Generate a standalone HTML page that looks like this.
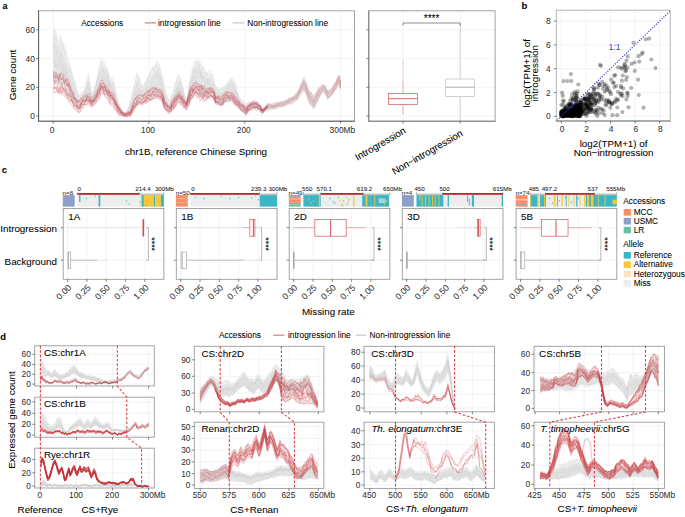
<!DOCTYPE html><html><head><meta charset="utf-8"><style>html,body{margin:0;padding:0;background:#fff;}svg{display:block;}</style></head><body><svg width="685" height="517" viewBox="0 0 685 517" font-family="'Liberation Sans', sans-serif">
<rect width="685" height="517" fill="#fff"/>
<defs>
<clipPath id="ca"><rect x="38.6" y="10.8" width="315.9" height="110.4"/></clipPath>
<clipPath id="cb"><rect x="556.3" y="10.2" width="113.9" height="110.8"/></clipPath>
</defs>
<rect x="38.60" y="10.80" width="315.90" height="110.40" fill="#fff"/>
<line x1="38.60" y1="116.00" x2="354.50" y2="116.00" stroke="#ebebeb" stroke-width="0.6"/>
<line x1="38.60" y1="87.30" x2="354.50" y2="87.30" stroke="#ebebeb" stroke-width="0.6"/>
<line x1="38.60" y1="58.60" x2="354.50" y2="58.60" stroke="#ebebeb" stroke-width="0.6"/>
<line x1="38.60" y1="29.90" x2="354.50" y2="29.90" stroke="#ebebeb" stroke-width="0.6"/>
<line x1="53.20" y1="10.80" x2="53.20" y2="121.20" stroke="#ebebeb" stroke-width="0.6"/>
<line x1="149.00" y1="10.80" x2="149.00" y2="121.20" stroke="#ebebeb" stroke-width="0.6"/>
<line x1="244.80" y1="10.80" x2="244.80" y2="121.20" stroke="#ebebeb" stroke-width="0.6"/>
<line x1="340.60" y1="10.80" x2="340.60" y2="121.20" stroke="#ebebeb" stroke-width="0.6"/>
<g clip-path="url(#ca)">
<path d="M53.2 32.4l1.4-3.4 1.4 2.7 1.4 6.5 1.4 1.6 1.4-2.9 1.4 1.1 1.4 4.4 1.4 3.9 1.4 5.2 1.4 6.1 1.4 4.2 1.4 4.9 1.4 3.7 1.4 4.9 1.4 4.8 1.4 4.1 1.4 5.4 1.4 4.5 1.4.4 1.4-1.7 1.4-1.1 1.4-1.6 1.4-5.6 1.4-5.2 1.4-4.8 1.4 5.1 1.4 10.7 1.4 1.8 1.4-3.6 1.4-4 1.4-6 1.4-6.3 1.4-6 1.4-6.5 1.4-.3 1.4 2.6 1.4 1.3 1.4 2.7 1.4 3.7 1.4 5.1 1.4 2.4 1.4.8 1.4 1.8 1.4 6.2 1.4 6.2 1.4 6.6 1.4 4.2 1.4 3.6 1.4 3 1.4 1.5 1.4 1.7 1.4-1 1.4-2.5 1.4-2.9 1.4-3.4 1.4-6.9 1.4-6.1 1.4-5.1 1.4-5.7 1.4-5.5 1.4 2.6 1.4 4.3 1.4 4.2 1.4 1.5 1.4-2.5 1.4-2.4 1.4-2.3 1.4-2.8 1.4-2.6 1.4-2.4 1.4-3 1.4-2.4 1.4-1.8 1.4-2.1 1.4 0 1.4 4.4 1.4 4.4 1.4 5 1.4 7.5 1.4 6.7 1.4 4.1 1.4 4.6 1.4 1.8 1.4-3.9 1.4-3.7 1.4-4.6 1.4-4.3 1.4-4.4 1.4-3.9 1.4-.8 1.4 3.2 1.4 5 1.4 5.6 1.4 6.3 1.4 6.2 1.4-7.6 1.4-9.7 1.4-8.8 1.4-5.1 1.4-5.5 1.4-4.1 1.4-1.1 1.4.4 1.4 1.2 1.4 1.3 1.4 2.4 1.4 2.5 1.4 2.7 1.4 1.3 1.4 1.1 1.4.8 1.4 0 1.4.8 1.4 2.2 1.4 5.1 1.4 5 1.4 1.8 1.4.4 1.4.5 1.4-.6 1.4-.7 1.4-1.4 1.4-1.9 1.4-1.7 1.4-1.8 1.4-.9 1.4-2.3 1.4.5 1.4 2.1 1.4 1.3 1.4 4.7 1.4 5.1 1.4 5.4 1.4 2.4 1.4 1.2 1.4 1.5 1.4.8 1.4.2 1.4-.3 1.4-.9 1.4 0 1.4-.8 1.4-1.1 1.4-.9 1.4 1.5 1.4 1.1 1.4 1.3 1.4 2.4 1.4 2.4 1.4.7 1.4-1.2 1.4-1.2 1.4-.6 1.4-1.2 1.4.2 1.4-.3 1.4-.5 1.4-.6 1.4.6 1.4-.4 1.4-.6 1.4-.5 1.4.3 1.4-.5 1.4-.4 1.4-.9 1.4-.3 1.4-1.2 1.4-.4 1.4.1 1.4-.7 1.4-2.2 1.4-1.1 1.4-2.3 1.4-1.6 1.4-3.2 1.4-3.4 1.4-3.2 1.4-3.2 1.4 2.8 1.4 2.8 1.4 4.7 1.4 3.4 1.4 1.7 1.4 1.6 1.4 2.9 1.4-1.8 1.4-2.9 1.4-2.7 1.4-2.1 1.4-1.3 1.4-1.4 1.4-.6 1.4 1.8 1.4 1.9 1.4 2 1.4.6 1.4-1.6 1.4-1.1 1.4-1.7 1.4-2.2 1.4-2.8 1.4-3.7 1.4-2.1 1.4 4.4.4 1.9 0 8.6-.4-1.9-1.4-4.3-1.4 1.3-1.4 3.1-1.4 2-1.4 1.6-1.4 1.9-1.4 1.5-1.4 2-1.4-.4-1.4-2-1.4-1.8-1.4-1.8-1.4 1.4-1.4 2.3-1.4 2.1-1.4 2.7-1.4 3.1-1.4 3.3-1.4 2.2-1.4-2.9-1.4-1.7-1.4-1.6-1.4-3.2-1.4-4.2-1.4-2.4-1.4-2.9-1.4 2.1-1.4 2-1.4 2.1-1.4 2-1.4.9-1.4 1.8-1.4.7-1.4 1.8-1.4.5-1.4-.3-1.4.2-1.4 1-1.4.1-1.4.7-1.4.2-1.4.7-1.4 0-1.4.7-1.4.8-1.4.6-1.4-.4-1.4.7-1.4.5-1.4.4-1.4-.3-1.4 1.2-1.4.7-1.4 1.1-1.4 1.3-1.4.1-1.4-1.3-1.4-1.4-1.4-.2-1.4-.1-1.4-1-1.4.5-1.4.7-1.4.4-1.4.4-1.4 1.3-1.4.7-1.4-.1-1.4-.7-1.4-1.5-1.4-1.2-1.4-.9-1.4-2.1-1.4-1.8-1.4-1.4-1.4-.7-1.4-1.6-1.4-.5-1.4.9-1.4-.5-1.4.4-1.4.5-1.4 1.5-1.4 1-1.4.2-1.4.5-1.4-.5-1.4-.4-1.4-.9-1.4-2.4-1.4-2.5-1.4-.8-1.4-.2-1.4.4-1.4.2-1.4 0-1.4-.2-1.4-1-1.4-.9-1.4-.7-1.4-.5-1.4-.7-1.4 0-1.4.7-1.4 1.6-1.4 2.9-1.4 2.7-1.4 2.1-1.4 2.4-1.4 1.6-1.4-1.4-1.4-1.7-1.4-1.4-1.4-1.9-1.4 0-1.4.5-1.4 1.8-1.4 2.3-1.4 1.6-1.4 1.8-1.4 1-1.4 1.1-1.4-.8-1.4-2.4-1.4-1.9-1.4-2.6-1.4-3.3-1.4-2-1.4-1.4-1.4-1.5-1.4.1-1.4.4-1.4 0-1.4.7-1.4 1.1-1.4.3-1.4.5-1.4.7-1.4.2-1.4.3-1.4.4-1.4.4-1.4.1-1.4-.2-1.4.1-1.4 2.3-1.4 2.5-1.4 1.8-1.4 2.4-1.4 3.2-1.4.9-1.4.8-1.4.4-1.4 0-1.4-.3-1.4.1-1.4-.9-1.4-1.5-1.4-1.2-1.4-2.8-1.4-2.5-1.4-2.9-1.4-2.3-1.4-1.3-1.4-2-1.4-2.9-1.4-1.6-1.4-1.4-1.4-.6-1.4-1.7-1.4.2-1.4 3-1.4 2.6-1.4 2.8-1.4 2.7-1.4 2.4-1.4 2-1.4.1-1.4-3.1-1.4-1.2-1.4.6-1.4 1.1-1.4 1.4-1.4 1.5-1.4 1.6-1.4 2.1-1.4 1-1.4-2-1.4-2.9-1.4-1.6-1.4-2.3-1.4-2.6-1.4-1.3-1.4-2.5-1.4-1.5-1.4-2.4-1.4-1.5-1.4-.8-1.4-1.5-1.4-1.6-1.4-1.4-1.4-1-1.4.5-1.4-1.1-1.4-3.9z" fill="#efefef" fill-opacity="1.0" stroke="none"/>
<path d="M53.2 44.2l1.4-1.6 1.4 2.4 1.4 4.7 1.4 1.4 1.4-1.8 1.4 1.3 1.4 3.6 1.4 3.1 1.4 4.3 1.4 5.2 1.4 3.6 1.4 4.2 1.4 3.1 1.4 4.4 1.4 4.2 1.4 3.4 1.4 4.8 1.4 3.9 1.4 0 1.4-1.8 1.4-1.2 1.4-1.6 1.4-4.6 1.4-4.1 1.4-3.8 1.4 4.2 1.4 8.7 1.4 1.4 1.4-3.2 1.4-3.6 1.4-5.2 1.4-5.4 1.4-5.2 1.4-5.6 1.4-.3 1.4 2.4 1.4 1.1 1.4 2.4 1.4 3.2 1.4 4.5 1.4 2.3 1.4.9 1.4 2 1.4 5.3 1.4 5.4 1.4 5.5 1.4 3.6 1.4 3 1.4 2.5 1.4 1 1.4 1.4 1.4-.7 1.4-2 1.4-2.4 1.4-2.8 1.4-5.9 1.4-5.2 1.4-4.3 1.4-4.8 1.4-4.8 1.4 1.9 1.4 3.4 1.4 3.1 1.4.9 1.4-1.9 1.4-1.9 1.4-1.7 1.4-2.3 1.4-2.1 1.4-1.9 1.4-2.5 1.4-2 1.4-1.3 1.4-1.7 1.4 0 1.4 3.7 1.4 3.6 1.4 4.2 1.4 6.5 1.4 5.7 1.4 3.6 1.4 4 1.4 1.5 1.4-3.2 1.4-3 1.4-3.9 1.4-3.6 1.4-3.9 1.4-3.4 1.4-.7 1.4 2.4 1.4 4.3 1.4 4.5 1.4 5.2 1.4 4.9 1.4-6 1.4-8 1.4-7 1.4-4.6 1.4-4.8 1.4-3.5 1.4-1 1.4.3 1.4 1.1 1.4 1.1 1.4 2 1.4 2 1.4 2.4 1.4 1 1.4.8 1.4.5 1.4-.1 1.4.7 1.4 1.8 1.4 4.5 1.4 4.4 1.4 1.5 1.4.4 1.4.5 1.4-.6 1.4-.5 1.4-1.4 1.4-1.8 1.4-1.4 1.4-1.4 1.4-.6 1.4-1.9 1.4.5 1.4 2 1.4 1.1 1.4 3.9 1.4 4.3 1.4 4.6 1.4 2 1.4 1.1 1.4 1.6 1.4.7 1.4.2 1.4-.3 1.4-1 1.4-.2 1.4-.7 1.4-1 1.4-.8 1.4 1.4 1.4.9 1.4 1 1.4 2.2 1.4 2 1.4.6 1.4-1.3 1.4-1.1 1.4-.7 1.4-1.2 1.4.3 1.4-.4 1.4-.5 1.4-.6 1.4.5 1.4-.4 1.4-.6 1.4-.6 1.4.2 1.4-.5 1.4-.3 1.4-.9 1.4-.2 1.4-1.2 1.4-.3 1.4.1 1.4-.7 1.4-2.1 1.4-1 1.4-2.1 1.4-1.5 1.4-2.9 1.4-3.1 1.4-2.8 1.4-3 1.4 2.8 1.4 2.8 1.4 4.5 1.4 3.4 1.4 1.6 1.4 1.7 1.4 2.8 1.4-1.9 1.4-2.9 1.4-2.8 1.4-2.3 1.4-1.5 1.4-1.6 1.4-.8 1.4 1.8 1.4 1.9 1.4 2 1.4.5 1.4-1.7 1.4-1.2 1.4-1.7 1.4-2.1 1.4-2.6 1.4-3.5 1.4-1.9 1.4 4.3.4 1.9 0 6.1-.4-1.9-1.4-4.4-1.4 1.4-1.4 3.1-1.4 2.1-1.4 1.6-1.4 1.9-1.4 1.4-1.4 2.1-1.4-.4-1.4-2-1.4-1.9-1.4-1.8-1.4 1.4-1.4 2.2-1.4 2.1-1.4 2.7-1.4 3.1-1.4 3.2-1.4 2.2-1.4-2.9-1.4-1.6-1.4-1.7-1.4-3.2-1.4-4.2-1.4-2.4-1.4-2.9-1.4 2.1-1.4 2.1-1.4 2.2-1.4 2.1-1.4.8-1.4 1.9-1.4.7-1.4 1.8-1.4.6-1.4-.3-1.4.1-1.4 1.1-1.4.1-1.4.7-1.4.2-1.4.7-1.4 0-1.4.7-1.4.7-1.4.6-1.4-.4-1.4.7-1.4.5-1.4.4-1.4-.2-1.4 1.2-1.4.6-1.4 1.1-1.4 1.3-1.4.1-1.4-1.4-1.4-1.4-1.4-.3-1.4-.1-1.4-1.1-1.4.6-1.4.7-1.4.4-1.4.4-1.4 1.3-1.4.6-1.4 0-1.4-.8-1.4-1.5-1.4-1.2-1.4-1-1.4-2.2-1.4-2-1.4-1.5-1.4-.8-1.4-1.6-1.4-.5-1.4.9-1.4-.3-1.4.4-1.4.5-1.4 1.5-1.4 1.1-1.4.2-1.4.5-1.4-.4-1.4-.4-1.4-1-1.4-2.5-1.4-2.7-1.4-.8-1.4-.3-1.4.4-1.4.2-1.4-.1-1.4-.2-1.4-1.2-1.4-.9-1.4-.7-1.4-.6-1.4-.8-1.4 0-1.4.7-1.4 1.8-1.4 3-1.4 2.8-1.4 2.4-1.4 2.8-1.4 1.9-1.4-1.6-1.4-1.9-1.4-1.6-1.4-2.1-1.4-.2-1.4.6-1.4 1.9-1.4 2.4-1.4 1.7-1.4 2-1.4 1-1.4 1.3-1.4-.8-1.4-2.6-1.4-2-1.4-2.7-1.4-3.6-1.4-2.1-1.4-1.6-1.4-1.6-1.4.1-1.4.5-1.4.1-1.4.7-1.4 1.2-1.4.4-1.4.7-1.4.8-1.4.2-1.4.5-1.4.4-1.4.4-1.4-.2-1.4-.4-1.4 0-1.4 2.5-1.4 2.6-1.4 2-1.4 2.5-1.4 3.4-1.4 1.1-1.4.9-1.4.5-1.4 0-1.4-.3-1.4 0-1.4-1-1.4-1.6-1.4-1.4-1.4-3-1.4-2.7-1.4-3-1.4-2.3-1.4-1.3-1.4-2-1.4-3-1.4-1.7-1.4-1.5-1.4-.6-1.4-1.7-1.4.2-1.4 3.2-1.4 2.7-1.4 3-1.4 2.8-1.4 2.5-1.4 2.1-1.4 0-1.4-3.4-1.4-1.4-1.4.8-1.4 1.2-1.4 1.7-1.4 1.5-1.4 1.5-1.4 2.1-1.4 1-1.4-2.2-1.4-3-1.4-1.7-1.4-2.5-1.4-2.7-1.4-1.4-1.4-2.6-1.4-1.6-1.4-2.6-1.4-1.7-1.4-.9-1.4-1.7-1.4-1.6-1.4-1.1-1.4-1.1-1.4.2-1.4-1.2-1.4-3.5z" fill="#e6e6e6" fill-opacity="1.0" stroke="none"/>
<g fill="none" stroke="#c4c4c4" stroke-width="0.4" stroke-opacity="0.25" stroke-linejoin="round">
<path d="M53.2 63.8l1.4 3.9 1.4-9.6 1.4 11.7 1.4-1.6 1.4-3.6 1.4 10.9 1.4-10.1 1.4 10.1 1.4-6.3 1.4 6.6 1.4 12.1 1.4-4.3 1.4 8 1.4 2.3 1.4 5.8 1.4-1.7 1.4 4.4 1.4 2.9 1.4 2.3 1.4-3.2 1.4 1 1.4-1.4 1.4-7 1.4 1.3 1.4-5.2 1.4 2 1.4 6.1 1.4 4.8 1.4-2.2 1.4-2.1 1.4-5.9 1.4-.7 1.4-.5 1.4-7.1 1.4 2.1 1.4-1.1 1.4-.8 1.4 3.7 1.4 5.2 1.4 2.9 1.4 2.4 1.4-.5 1.4 1 1.4 5.8 1.4 2.3 1.4-.1 1.4 3.6 1.4.1 1.4 1.1 1.4.7 1.4-.3 1.4.4 1.4.2 1.4-1.8 1.4-2.2 1.4-4.2 1.4-2.6 1.4 1.9 1.4-8.8 1.4 4.4 1.4-5 1.4 5.1 1.4-.9 1.4-4.3 1.4-1.3 1.4.4 1.4-3.6 1.4 2.7 1.4-7 1.4-1.8 1.4 7.6 1.4-9 1.4 2.9 1.4-3 1.4-2.6 1.4-.8 1.4 11.2 1.4 3 1.4 4.2 1.4-2.3 1.4 3.4 1.4 5.5 1.4 2.1 1.4-4 1.4-1 1.4-3.4 1.4-6.2 1.4-1.1 1.4-4.8 1.4-1 1.4-.4 1.4 5.8 1.4 8 1.4.7 1.4 4.1 1.4-3.8 1.4-3.1 1.4-9.2 1.4-4.6 1.4-3.8 1.4-2 1.4 6 1.4.9 1.4-5.9 1.4 1.7 1.4 4.2 1.4 2.1 1.4 2.3 1.4-2.5 1.4-1.4 1.4 2.7 1.4-1.8 1.4 5.2 1.4-2.6 1.4 4.2 1.4 7.4 1.4-.9 1.4 3.8 1.4-1.1 1.4 1.6 1.4-4 1.4 1.3 1.4.2 1.4-5.3 1.4 4.9 1.4-3.6 1.4 3.5 1.4.4 1.4 2 1.4-2.3 1.4 0 1.4 4.8 1.4 2.8 1.4-.6 1.4 2.5 1.4-.1 1.4 2.5 1.4-2.4 1.4.6 1.4-.5 1.4-.2 1.4-.4 1.4-.8 1.4-.5 1.4 1.5 1.4-2.1 1.4.8 1.4 1 1.4 2.8 1.4-.9 1.4-2.2 1.4-1.5 1.4 1.6 1.4-2 1.4 0 1.4-.5 1.4-.1 1.4-1.8 1.4.7 1.4-.8 1.4-1.1 1.4-1.4 1.4 1.4 1.4-1.2 1.4 0 1.4-1.9 1.4.5 1.4-2 1.4-.2 1.4.9 1.4.5 1.4-3.4 1.4-.5 1.4-2 1.4-1.8 1.4-3.6 1.4-1.2 1.4-2.8 1.4-2.2 1.4 2.5 1.4 3.1 1.4 5.1 1.4 1.3 1.4 2.5 1.4 1.3 1.4 2.4 1.4-1.1 1.4-2.6 1.4-1.8 1.4-2.5 1.4-3.9 1.4-.8 1.4-2.3 1.4 1.8 1.4 2.9 1.4 3 1.4-.8 1.4-.7 1.4-.8 1.4-3.2 1.4-.4 1.4-1.6 1.4-5.1 1.4-.2 1.4 4.6.4 2"/>
<path d="M53.2 60.3l1.4 4.4 1.4 2.6 1.4 8.8 1.4 5.9 1.4-9.8 1.4 14.7 1.4 3.9 1.4-4.3 1.4 5.3 1.4-.8 1.4 6.6 1.4-2.5 1.4 5.7 1.4 2.8 1.4 2.4 1.4-.5 1.4 4.9 1.4 1.9 1.4-4.4 1.4.5 1.4-1.2 1.4-2.3 1.4-2.3 1.4-4.3 1.4 2.6 1.4.7 1.4-.4 1.4 2.4 1.4-4.7 1.4-5.1 1.4-3.3 1.4-6.2 1.4 3.5 1.4-3.3 1.4-9.6 1.4 8.2 1.4-.9 1.4-.4 1.4 4.5 1.4 4.5 1.4 7 1.4-4.9 1.4 4.8 1.4 6.6 1.4 1 1.4 7.3 1.4 1.1 1.4 2 1.4-.1 1.4-.1 1.4.8 1.4 0 1.4-.1 1.4-1.5 1.4-.1 1.4-3.4 1.4-2.1 1.4-1.2 1.4-4.2 1.4-4 1.4 2.9 1.4-1.3 1.4-1.7 1.4-2 1.4-2 1.4-2.7 1.4 4 1.4-7.6 1.4 3.7 1.4-3.2 1.4 2.2 1.4-3.4 1.4 2.7 1.4-10.8 1.4 4.7 1.4 3.7 1.4.1 1.4 5.8 1.4 4.3 1.4 5.3 1.4-.3 1.4 6 1.4.9 1.4-1.5 1.4.1 1.4.2 1.4-1.5 1.4-2.7 1.4-1.2 1.4-1 1.4-2.1 1.4 1 1.4 3.5 1.4 2.6 1.4 1.1 1.4-1.3 1.4-3.5 1.4-.5 1.4-6.9 1.4-.1 1.4-7.6 1.4 2 1.4 1.7 1.4-8.7 1.4-1.8 1.4 5.6 1.4-.4 1.4-.5 1.4-3.2 1.4 4.1 1.4.4 1.4-.6 1.4 4.9 1.4-.9 1.4 5.1 1.4 4.7 1.4.6 1.4-.7 1.4 2.6 1.4-.9 1.4.8 1.4-.7 1.4-2.8 1.4 1.6 1.4.1 1.4 1.1 1.4-1.2 1.4.4 1.4 2 1.4.5 1.4 1 1.4.9 1.4 1.7 1.4 1.8 1.4 1.3 1.4 1.1 1.4-1.4 1.4 2.4 1.4-2.3 1.4-2.1 1.4-1.9 1.4.9 1.4-.4 1.4-2.2 1.4 1.2 1.4 1 1.4-1.8 1.4 3.5 1.4 2.8 1.4-1 1.4-1.8 1.4-.4 1.4-.3 1.4-2.3 1.4.8 1.4 1.2 1.4-1.7 1.4-1.2 1.4 2.7 1.4-1.1 1.4-1 1.4-.6 1.4.8 1.4-1.6 1.4.6 1.4-.9 1.4.2 1.4-1.8 1.4.4 1.4.3 1.4-.1 1.4-3 1.4.5 1.4-2.2 1.4-1.5 1.4-2.9 1.4-.4 1.4-3.3 1.4-2.2 1.4-.6 1.4 5.4 1.4 3.3 1.4 1.7 1.4 1.6 1.4 2.6 1.4 3.3 1.4-4.5 1.4-1.6 1.4-4.8 1.4.4 1.4-3.5 1.4-.6 1.4-1.3 1.4 1.6 1.4 1 1.4 2.9 1.4.1 1.4-2 1.4.2 1.4-2.6 1.4-.2 1.4-3 1.4-2.6 1.4-1.2 1.4 3.9.4 1.8"/>
<path d="M53.2 37.5l1.4 8.8 1.4 7.9 1.4-7.8 1.4-1.1 1.4 9.8 1.4 3.7 1.4 6.1 1.4-3.4 1.4.2 1.4 12.5 1.4-5.9 1.4 11.4 1.4-3.9 1.4 7.9 1.4 5.3 1.4 2 1.4 3.8 1.4 4.4 1.4 2.8 1.4-3.7 1.4-.2 1.4-3.2 1.4-1.1 1.4-6.3 1.4-.4 1.4 5.9 1.4 6.9 1.4-3.8 1.4 1.1 1.4-2.7 1.4-7.9 1.4-4.2 1.4-2.2 1.4-.9 1.4-6.1 1.4 8.2 1.4-.5 1.4-4 1.4 9.7 1.4-3.3 1.4 3.3 1.4 5 1.4-3 1.4 7.7 1.4 3 1.4 6.8 1.4 3.8 1.4 2.7 1.4-.6 1.4.7 1.4 2.3 1.4-1.3 1.4-1.3 1.4-2.7 1.4-2.5 1.4-6.2 1.4-.7 1.4-2 1.4-4.6 1.4-2.4 1.4-.6 1.4-.1 1.4 3.6 1.4 2 1.4-3.2 1.4-4.1 1.4-2.8 1.4 4.9 1.4-4.7 1.4-3.9 1.4 0 1.4-2.3 1.4-1.2 1.4-7.2 1.4 3.1 1.4 3.6 1.4.7 1.4 10.5 1.4 1.9 1.4 6.4 1.4 3.2 1.4 3.8 1.4.7 1.4-2.4 1.4-5.4 1.4 1 1.4-10.1 1.4 2.8 1.4-3.5 1.4-.6 1.4-6.1 1.4 5.3 1.4 9.3 1.4 2.9 1.4 4.4 1.4-3.1 1.4-13.8 1.4-3.2 1.4-5.6 1.4-8.9 1.4.1 1.4 2.7 1.4 2.2 1.4-9.6 1.4 7.3 1.4-3.2 1.4 10.1 1.4-5.1 1.4.7 1.4 4.3 1.4 3.8 1.4-4.2 1.4-.8 1.4 7.6 1.4 4.6 1.4 4.6 1.4-2 1.4 1.3 1.4-.6 1.4 1 1.4-1.4 1.4-1.3 1.4.9 1.4 0 1.4-3.8 1.4-3.6 1.4 2.5 1.4-1.2 1.4 7 1.4-1.2 1.4 4 1.4 2.9 1.4 3.5 1.4 3.1 1.4 1.1 1.4-.3 1.4.1 1.4 1 1.4.4 1.4-2.9 1.4 1.1 1.4.3 1.4-3.1 1.4 2.4 1.4 1.2 1.4-.8 1.4.6 1.4 2.5 1.4 2 1.4.7 1.4-1.7 1.4-1 1.4-.9 1.4 0 1.4-.6 1.4-.4 1.4-1.1 1.4 1 1.4 0 1.4.2 1.4-.8 1.4-.8 1.4.1 1.4-.6 1.4-.1 1.4-1.2 1.4-1.1 1.4-.9 1.4 0 1.4 1.5 1.4-1 1.4-2.6 1.4-.4 1.4-3.4 1.4.8 1.4-3.6 1.4-3.8 1.4-2.5 1.4-.6 1.4 1.3 1.4.4 1.4 4.9 1.4 5.6 1.4.8 1.4 2.7 1.4.3 1.4-1 1.4-2.1 1.4-5.6 1.4-2.3 1.4-.2 1.4-2.7 1.4-1.1 1.4 2.1 1.4 2.5 1.4 1.6 1.4-.2 1.4-2 1.4.6 1.4-2.4 1.4-2.7 1.4-.8 1.4-6.6 1.4-.7 1.4 5.8.4 2"/>
<path d="M53.2 44.6l1.4-11.5 1.4 6.2 1.4 2 1.4 7.6 1.4-5.3 1.4-.5 1.4 5.4 1.4 5.9 1.4-5.3 1.4 6.9 1.4 9.8 1.4 5.4 1.4.6 1.4 5.4 1.4 4.6 1.4 7.9 1.4 5.2 1.4 3.1 1.4-3.1 1.4 3.1 1.4-2.5 1.4-2.2 1.4-3.9 1.4-.2 1.4-8.8 1.4 5.6 1.4 10.1 1.4 4.5 1.4-3 1.4-1.6 1.4-6.6 1.4-3.8 1.4-3.9 1.4-4.7 1.4-.3 1.4 5.6 1.4 1.9 1.4-4 1.4 4 1.4 1.3 1.4 1.6 1.4 1.7 1.4 2.3 1.4 4.1 1.4 6.8 1.4.2 1.4 4.7 1.4 3.9 1.4 1.1 1.4.2 1.4 1.2 1.4-.6 1.4-1.3 1.4-2.9 1.4-3.8 1.4-5.9 1.4-5.2 1.4-5 1.4-9.9 1.4-5.1 1.4 5.7 1.4.8 1.4 6.6 1.4-.3 1.4-3.1 1.4-1.3 1.4-3.7 1.4-1.2 1.4-1.5 1.4-5.4 1.4-.9 1.4-.4 1.4 7 1.4-3.6 1.4-2.9 1.4 12.7 1.4-4 1.4 7.6 1.4 8.7 1.4 4.7 1.4 1.8 1.4 5.7 1.4-.2 1.4-.9 1.4-2.9 1.4.4 1.4-4.4 1.4-8.8 1.4-2.5 1.4 7.8 1.4-6.5 1.4 2.4 1.4 5.3 1.4 5.1 1.4 4.9 1.4-6.7 1.4-5 1.4-5.1 1.4-12.9 1.4 0 1.4 1.1 1.4-8 1.4-1.3 1.4-2.1 1.4 7.5 1.4 1 1.4-8.4 1.4 6.9 1.4-.7 1.4 2.9 1.4-3.8 1.4-.3 1.4 1 1.4 3.5 1.4 7.7 1.4 5.4 1.4 1.2 1.4-.1 1.4-2 1.4.1 1.4 2 1.4-3.6 1.4-.4 1.4 1.7 1.4-6.7 1.4 6.3 1.4-7.9 1.4 3.6 1.4 7.5 1.4-4.3 1.4 6.6 1.4 3.9 1.4 7 1.4 2.1 1.4-1.4 1.4 2.9 1.4 2.5 1.4-1.3 1.4-1.5 1.4.7 1.4-1.5 1.4 0 1.4-2.9 1.4 3.1 1.4.3 1.4 1.1 1.4.3 1.4-.1 1.4 2.6 1.4-.6 1.4-.8 1.4-1 1.4-1.7 1.4-1.7 1.4 1.4 1.4-1.2 1.4-1.4 1.4-.9 1.4 1.7 1.4-.6 1.4-.3 1.4-1.6 1.4.6 1.4-1.4 1.4 0 1.4-1.3 1.4.6 1.4-2.4 1.4-.2 1.4.7 1.4-.6 1.4-2.8 1.4 0 1.4-3.6 1.4.9 1.4-3.5 1.4-3.7 1.4-4.7 1.4-1.9 1.4 5.5 1.4 2.3 1.4 6.2 1.4 4.1 1.4-.7 1.4 2.5 1.4 3 1.4-2.4 1.4-2.8 1.4-2.3 1.4-2.8 1.4 0 1.4-1.4 1.4-1.1 1.4 2 1.4.5 1.4 1.9 1.4 1.8 1.4-1.5 1.4-2.2 1.4-2.9 1.4-1.7 1.4-1.9 1.4-3.4 1.4-3.5 1.4 4.6.4 3.8"/>
<path d="M53.2 73.8l1.4 10.8 1.4-1.6 1.4 2.1 1.4 2.4 1.4 1.5 1.4-.9 1.4 2.8 1.4 1.5 1.4 1 1.4 3.1 1.4 1.1 1.4 1.7 1.4.3 1.4 3.7 1.4 2.7 1.4 1.1 1.4 3.3 1.4 1.4 1.4-1.3 1.4-3 1.4-.3 1.4-2.5 1.4-.4 1.4-3.7 1.4 2.5 1.4-.7 1.4 4 1.4-1.4 1.4-1 1.4-5.7 1.4-1.7 1.4-4 1.4-4.1 1.4-3.7 1.4-1 1.4.8 1.4 5.8 1.4-1.1 1.4 1 1.4-.2 1.4 6.1 1.4-1.9 1.4 3 1.4 6.1 1.4 4.2 1.4 2.2 1.4 1.8 1.4 3.1 1.4.9 1.4-.2 1.4.3 1.4.6 1.4-.1 1.4-.9 1.4-.7 1.4-3.4 1.4-2.1 1.4-1.2 1.4-4.2 1.4-.8 1.4.1 1.4.1 1.4-.3 1.4-.8 1.4-.2 1.4-.2 1.4.2 1.4-.8 1.4-.5 1.4-.2 1.4-2.8 1.4 1 1.4.2 1.4-.2 1.4-5.2 1.4 6.4 1.4-3 1.4 5.6 1.4 4.1 1.4.5 1.4-1.7 1.4 7.4 1.4-.1 1.4-2.6 1.4-2.9 1.4-1.6 1.4.3 1.4-6.7 1.4.9 1.4-2.1 1.4-1.6 1.4 7.2 1.4-1.5 1.4 3.8 1.4.7 1.4-1.5 1.4-6.9 1.4 2.8 1.4-10 1.4-2.7 1.4-.1 1.4.2 1.4 5.3 1.4-.1 1.4.3 1.4 4.7 1.4.7 1.4 1.1 1.4.2 1.4-.1 1.4-.5 1.4-.6 1.4.3 1.4.7 1.4 2.7 1.4 2.5 1.4.8 1.4.4 1.4.5 1.4-.9 1.4.2 1.4-1.1 1.4-1.9 1.4-.5 1.4-2.4 1.4 3.2 1.4-1.8 1.4-.9 1.4 3.9 1.4-1.2 1.4 2.6 1.4.9 1.4 1.5 1.4-1.4 1.4 3.6 1.4 2.5 1.4-2.6 1.4 1.7 1.4-1.3 1.4-2.2 1.4 1.2 1.4.5 1.4-4.7 1.4 2.9 1.4-.4 1.4 1.7 1.4-1.9 1.4 3.6 1.4.2 1.4.1 1.4.2 1.4-1.6 1.4.1 1.4-2.1 1.4.8 1.4-.2 1.4-.1 1.4-1 1.4.3 1.4-.2 1.4-.8 1.4-1 1.4.4 1.4-.9 1.4-.2 1.4-.8 1.4.1 1.4-1.6 1.4.2 1.4.9 1.4-.6 1.4-2.2 1.4-.3 1.4-2.2 1.4-.4 1.4-2 1.4-2.4 1.4-2 1.4-3.8 1.4 4.9 1.4 2 1.4 4.8 1.4 3.2 1.4.8 1.4.5 1.4 1.4 1.4 1 1.4-3.2 1.4-3.6 1.4-3.9 1.4-3.2 1.4-2.6 1.4.4 1.4 2 1.4 1.7 1.4-.1 1.4 1.9 1.4-2.5 1.4-1.4 1.4-1.2 1.4-.8 1.4-2.5 1.4-3.7 1.4-1.2 1.4 4.4.4 2.1"/>
<path d="M53.2 49.5l1.4 3.7 1.4 4 1.4.4 1.4 10 1.4-13.1 1.4-2.4 1.4 20 1.4-8.6 1.4 3.3 1.4 7.3 1.4 5 1.4 8.4 1.4-1.3 1.4.2 1.4 5.9 1.4 1.8 1.4 5 1.4 2.8 1.4-2.3 1.4-.7 1.4-1 1.4-2.4 1.4-.5 1.4-6.9 1.4-5.3 1.4 7 1.4 8.8 1.4.5 1.4-3.8 1.4-2.9 1.4-7.6 1.4-7.1 1.4-4.3 1.4-5 1.4-1.6 1.4 4.6 1.4-2.8 1.4 2 1.4 3.8 1.4 4.5 1.4 7 1.4-2.1 1.4-1.2 1.4 7.5 1.4 8.1 1.4 3.8 1.4 3 1.4 2.9 1.4 2.1 1.4 1.8 1.4 1 1.4.3 1.4-3.9 1.4-1.2 1.4-4.4 1.4-5.7 1.4-6.1 1.4-7.8 1.4-3.1 1.4-8.8 1.4 3 1.4 5.6 1.4 3.5 1.4 3.3 1.4-.3 1.4-6.4 1.4 1.6 1.4-7.2 1.4.8 1.4-5.7 1.4-1.3 1.4-5 1.4 5 1.4-8.4 1.4 2.2 1.4 2.3 1.4 9.9 1.4 2.9 1.4 7.8 1.4 7.2 1.4 1 1.4 4.4 1.4 4.5 1.4-5.7 1.4 0 1.4-3 1.4-6.1 1.4-8.6 1.4 4 1.4-2.3 1.4-1.3 1.4 5.3 1.4 7.3 1.4 3.9 1.4 7.9 1.4-6 1.4-6.6 1.4-10.2 1.4 1.5 1.4-13.4 1.4 4.6 1.4-6.6 1.4-2.7 1.4 3.2 1.4 2.6 1.4 8.7 1.4-2.2 1.4 3.7 1.4 2.6 1.4-2.5 1.4 4 1.4.1 1.4 3 1.4-2 1.4 7.1 1.4 4.5 1.4.1 1.4-1.7 1.4-.4 1.4-2 1.4 4.7 1.4-5.9 1.4.7 1.4-1.9 1.4-4.2 1.4 1.4 1.4 3 1.4-2.1 1.4 5.5 1.4.5 1.4-3.4 1.4 7.5 1.4.9 1.4 3.2 1.4 1.3 1.4 3.8 1.4-1 1.4-1.7 1.4.9 1.4-1.5 1.4-1.2 1.4-.1 1.4.7 1.4-.4 1.4.9 1.4-2.3 1.4 3.4 1.4 1 1.4 3 1.4-1.6 1.4-1.4 1.4.4 1.4-1.6 1.4-2.1 1.4 1.5 1.4.5 1.4-1 1.4-1.8 1.4 2.2 1.4-1 1.4-.8 1.4-1.2 1.4.1 1.4.1 1.4-.9 1.4-.4 1.4-.7 1.4-1 1.4-1.1 1.4.5 1.4-.5 1.4-3.2 1.4-.9 1.4-1.9 1.4-.4 1.4-5 1.4-1.6 1.4-3.4 1.4-3.4 1.4 1.8 1.4 4.8 1.4 4.3 1.4 2.6 1.4.2 1.4 2.7 1.4 2.1 1.4.9 1.4-5.2 1.4-2.7 1.4-1.5 1.4-1 1.4-1.7 1.4-.6 1.4 2.1 1.4 2.3 1.4 1 1.4 1.2 1.4-1.2 1.4-2.7 1.4-1.4 1.4-1.3 1.4-2.9 1.4-2.3 1.4-3.8 1.4 4.4.4 3"/>
<path d="M53.2 47l1.4-10.5 1.4 4.7 1.4 15.9 1.4 6.5 1.4-8.4 1.4 16.4 1.4-2.4 1.4 3.9 1.4 5.3 1.4-1.6 1.4 4.9 1.4 13.3 1.4-5.4 1.4 2.4 1.4 5.4 1.4 5.5 1.4.4 1.4 2.2 1.4-1.1 1.4-1.3 1.4-.1 1.4-4.2 1.4-.5 1.4-2.4 1.4-4.4 1.4-5 1.4 9.2 1.4 3.7 1.4-3.6 1.4-8.5 1.4-3.7 1.4-6.6 1.4-1.7 1.4-13.6 1.4 2.7 1.4 8 1.4 2.8 1.4-5.7 1.4 9 1.4 6.3 1.4 4.8 1.4-2.3 1.4 8 1.4-.5 1.4 4.9 1.4 5.8 1.4 4.6 1.4 1.4 1.4 2.2 1.4.2 1.4.9 1.4 1.3 1.4-2 1.4.3 1.4-2 1.4-7.1 1.4.7 1.4-9.6 1.4 3.5 1.4-13.8 1.4 2.6 1.4 3.8 1.4-2.3 1.4 4.1 1.4-6.2 1.4 2.4 1.4-7.8 1.4.8 1.4-5.7 1.4-1.7 1.4-1.1 1.4-3.4 1.4-.6 1.4 2.1 1.4-5.3 1.4 4.4 1.4 9.8 1.4 1.4 1.4 12.4 1.4 1.8 1.4 4 1.4 2.2 1.4 1.5 1.4-1.5 1.4 2 1.4-1.9 1.4.7 1.4-6.8 1.4 1 1.4-3.6 1.4-2.2 1.4 6.2 1.4 4 1.4 2.7 1.4 2.2 1.4-3.3 1.4-7 1.4-5.5 1.4-5.6 1.4-6.1 1.4-1.3 1.4-4 1.4 2.1 1.4-5.2 1.4.1 1.4 5.1 1.4-.5 1.4.3 1.4 1.3 1.4 3.1 1.4-1.3 1.4-3.1 1.4 1.7 1.4 5 1.4 1.1 1.4 8.1 1.4 4.8 1.4-2.9 1.4 2.6 1.4 1.4 1.4 2.2 1.4-2 1.4-1.8 1.4-1.9 1.4.1 1.4 2.7 1.4-3.7 1.4 4.3 1.4-4.6 1.4 6.6 1.4 1.3 1.4-.6 1.4 1.8 1.4 2.3 1.4 1.8 1.4 2.2 1.4.4 1.4-3.2 1.4-1.3 1.4-1.6 1.4 2.8 1.4-2.2 1.4-3.5 1.4 1.1 1.4 2.8 1.4-.9 1.4-.5 1.4 4.7 1.4 1.5 1.4-1.1 1.4.1 1.4-1.4 1.4.1 1.4-1.8 1.4.7 1.4.2 1.4-.2 1.4-.8 1.4 2.1 1.4-2 1.4-.4 1.4.5 1.4 0 1.4-.8 1.4 0 1.4-1.6 1.4.3 1.4-1.9 1.4-.3 1.4 2.3 1.4-1.3 1.4-2.3 1.4-2.7 1.4-1 1.4-2.2 1.4-2.6 1.4-2.8 1.4-5.8 1.4-2.1 1.4 3.8 1.4 3.2 1.4 3.2 1.4 2.5 1.4 2.5 1.4 1.3 1.4 2.2 1.4-.6 1.4-3.9 1.4-3.7 1.4-.9 1.4-1.9 1.4-.2 1.4-.3 1.4 2.9 1.4 1.7 1.4 2.3 1.4 1.7 1.4-3.7 1.4-.7 1.4-2.2 1.4-1.5 1.4-1.1 1.4-3.8 1.4-2.6 1.4 6.8.4 2.5"/>
<path d="M53.2 52.4l1.4-15.5 1.4 1.1 1.4 13.8 1.4-2.1 1.4-7.9 1.4.8 1.4 7.3 1.4 2.4 1.4 5.6 1.4 9.2 1.4-.7 1.4 4.2 1.4 2.3 1.4 11.3 1.4-1.7 1.4 5.7 1.4 4.5 1.4 3.2 1.4-.1 1.4-4 1.4 0 1.4.9 1.4-4.8 1.4-9.4 1.4-5.5 1.4 10.9 1.4 5.4 1.4 4.6 1.4-3.1 1.4-7.3 1.4-2.9 1.4-9.8 1.4-6 1.4-6.8 1.4-.5 1.4 3.8 1.4.6 1.4 4.9 1.4 1.8 1.4 5.4 1.4 2.3 1.4.7 1.4 1.4 1.4 8.3 1.4 5.2 1.4 6.5 1.4 4.1 1.4 3.9 1.4 3 1.4 1.3 1.4 2 1.4-.8 1.4-2.7 1.4-3.2 1.4-3.5 1.4-7.4 1.4-6.2 1.4-4.9 1.4-5.9 1.4-6 1.4 3 1.4 4.6 1.4 4.5 1.4 1.6 1.4-2.2 1.4-3.2 1.4-2.1 1.4-3.1 1.4-2.2 1.4-1.3 1.4-5.2 1.4.5 1.4-.8 1.4-3.7 1.4-2.1 1.4 4.4 1.4 4.3 1.4 5.4 1.4 8.1 1.4 6.8 1.4 4 1.4 4.9 1.4 2.4 1.4-1.8 1.4-3.7 1.4-7.9 1.4-2.3 1.4-2.6 1.4-8 1.4-.5 1.4 7.5 1.4 2.5 1.4 8.2 1.4 3.5 1.4 7.9 1.4-8.3 1.4-8.1 1.4-6.2 1.4-.8 1.4-4.2 1.4-3.2 1.4-2.9 1.4-7.4 1.4 3.1 1.4 5.8 1.4 7.3 1.4-.9 1.4-3.1 1.4 3 1.4 6.8 1.4-3.8 1.4 3 1.4.6 1.4 1 1.4 3.3 1.4 4.6 1.4-.6 1.4-.9 1.4 5.6 1.4-6.7 1.4 1.4 1.4.7 1.4.2 1.4-6.7 1.4-1.2 1.4 4.7 1.4-6.7 1.4 1 1.4 1.8 1.4-1.7 1.4 10.3 1.4 2.2 1.4 1.2 1.4 2.3 1.4 1.3 1.4 2.7 1.4 2.6 1.4-3.1 1.4.1 1.4-1.1 1.4.8 1.4.7 1.4-2.7 1.4.5 1.4.3 1.4.3 1.4 2.2 1.4 1.5 1.4 2 1.4.2 1.4-1.7 1.4-.9 1.4-.7 1.4-1.6 1.4 1.5 1.4-1.3 1.4-.6 1.4-.8 1.4 1.1 1.4-.5 1.4-.7 1.4-.6 1.4.6 1.4-.4 1.4-.6 1.4-1.1 1.4-.1 1.4-1.7 1.4-.2 1.4.8 1.4-1 1.4-2.2 1.4-1.2 1.4-2.7 1.4-1.2 1.4-3.4 1.4-3.7 1.4-3.3 1.4-3.5 1.4 3.4 1.4 2.3 1.4 5.2 1.4 3.5 1.4 1.4 1.4 2 1.4 2.8 1.4-1.5 1.4-3.2 1.4-2.9 1.4-2.1 1.4-1.3 1.4-1.5 1.4-.2 1.4 1.9 1.4 1.4 1.4 1.9 1.4 1.1 1.4-1.9 1.4-.5 1.4-2.2 1.4-1.9 1.4-2.8 1.4-3.2 1.4-3.1 1.4 4.9.4 1.9"/>
<path d="M53.2 61.8l1.4-.4 1.4 1.5 1.4 2.1 1.4 2.2 1.4-7.1 1.4 1.5 1.4 3.4 1.4 3.4 1.4 3.5 1.4 8.5 1.4-4 1.4 4.3 1.4 5.8 1.4 4.9 1.4-3.1 1.4 6.5 1.4 1 1.4 6.6 1.4-5 1.4.6 1.4-.7 1.4-.8 1.4-3 1.4-4.5 1.4-5.4 1.4 2.8 1.4 5.6 1.4 4.3 1.4-3.1 1.4-2.6 1.4-9.2 1.4-2.2 1.4-10.2 1.4 1.2 1.4.5 1.4-1.3 1.4 3.6 1.4 2 1.4-.5 1.4 3.4 1.4 8 1.4-2.9 1.4.4 1.4 8.2 1.4 7.8 1.4 5.9 1.4 1.1 1.4 4.5 1.4.1 1.4 1.5 1.4.9 1.4-.2 1.4-.5 1.4-4.5 1.4-.3 1.4-6.3 1.4-1.1 1.4-2.5 1.4-11.5 1.4-3 1.4 8.8 1.4-2.9 1.4 1.7 1.4 4.7 1.4-2.7 1.4-3.2 1.4 1 1.4-2.7 1.4-1.2 1.4 0 1.4-6.1 1.4 3.6 1.4 4.1 1.4-5 1.4 2.3 1.4-3.3 1.4 1.5 1.4 2.5 1.4 13.8 1.4-2.1 1.4 4.4 1.4 4.9 1.4 1 1.4-2.4 1.4-2.8 1.4-.6 1.4-5.6 1.4.1 1.4-10 1.4 6.1 1.4-5.3 1.4 6.3 1.4 3.7 1.4 2.6 1.4 4.7 1.4-2.6 1.4-11.6 1.4-5.1 1.4 3.9 1.4-10.6 1.4-3.5 1.4 5.1 1.4-2.2 1.4-6.8 1.4 5.8 1.4-3.7 1.4 8.2 1.4-.6 1.4 3 1.4-6.8 1.4 8.2 1.4-7.1 1.4 6 1.4-2.2 1.4 7.8 1.4-1.2 1.4 1.1 1.4 2.9 1.4 3.2 1.4-4 1.4.1 1.4-3.8 1.4.2 1.4-2.3 1.4 2.1 1.4-1.1 1.4-4.5 1.4-2.4 1.4 2.4 1.4 7.9 1.4.6 1.4 1.9 1.4 7.9 1.4-.8 1.4 2.3 1.4 3.7 1.4-2.6 1.4.2 1.4-.3 1.4-.8 1.4 1 1.4-.7 1.4-1.2 1.4-1.8 1.4 3.9 1.4.4 1.4 1.7 1.4 1.1 1.4 2.9 1.4-.7 1.4-.3 1.4-2.1 1.4.4 1.4-1.6 1.4.7 1.4-.1 1.4-.6 1.4-1.3 1.4 2.1 1.4-.4 1.4-1.5 1.4-.7 1.4.6 1.4-1.4 1.4.3 1.4-1.1 1.4.1 1.4-1.7 1.4.2 1.4.1 1.4-.6 1.4-2.5 1.4.4 1.4-3.3 1.4.7 1.4-2.1 1.4-3.3 1.4-4.2 1.4-.1 1.4.6 1.4 2.1 1.4 5.9 1.4 3.5 1.4.2 1.4 2.9 1.4 3.5 1.4-4.4 1.4-3.5 1.4-2.5 1.4-1.5 1.4-2 1.4-3.5 1.4-.1 1.4 2.9 1.4 1.7 1.4 1 1.4 1.3 1.4-2.1 1.4-2.5 1.4-2.4 1.4-.4 1.4-3.1 1.4-3.4 1.4-3 1.4 4.8.4 3.5"/>
<path d="M53.2 30.9l1.4 2 1.4-1.7 1.4 4.5 1.4 1.8 1.4-3.1 1.4 2 1.4 6 1.4 8.1 1.4 4.6 1.4.9 1.4 4.1 1.4 11.1 1.4-2.7 1.4 11 1.4-.4 1.4 5.8 1.4 4 1.4 4.7 1.4.4 1.4 1 1.4-1.1 1.4-3.2 1.4-6.9 1.4-3.4 1.4-5.9 1.4 5.7 1.4 12.2 1.4 1.8 1.4-.7 1.4-8.6 1.4-2.4 1.4-5 1.4-9 1.4-3.5 1.4-2.7 1.4 11.5 1.4-4.6 1.4-.2 1.4 7.2 1.4 5.7 1.4 5.3 1.4-.8 1.4-2.3 1.4 11.3 1.4-1 1.4 9.7 1.4.3 1.4 5.9 1.4.6 1.4 1.9 1.4 1.4 1.4-.4 1.4-3.3 1.4-2 1.4-3.9 1.4-3.6 1.4-2.9 1.4-7.1 1.4-4.1 1.4-4.7 1.4-3 1.4 5.5 1.4 3.1 1.4 2.9 1.4-4 1.4-2.6 1.4-.6 1.4-5.7 1.4-4.2 1.4-1 1.4-5.9 1.4 4.5 1.4-3.9 1.4-.3 1.4-1.3 1.4-.9 1.4 10.6 1.4 4.5 1.4 2.6 1.4 7.6 1.4 5.7 1.4 2.7 1.4 3.2 1.4-4.4 1.4-3.7 1.4-3.2 1.4-5.4 1.4-6.4 1.4-4.2 1.4-.5 1.4 3.4 1.4 5 1.4 5.8 1.4 6.6 1.4 6.8 1.4-8.3 1.4-10.3 1.4-9.1 1.4-5.4 1.4-5.8 1.4-3.7 1.4-1.3 1.4.1 1.4 1.5 1.4 1.3 1.4 4.3 1.4 4.7 1.4-1.1 1.4 1.4 1.4 1.5 1.4.4 1.4-.1 1.4 2.4 1.4 4.6 1.4 3.1 1.4 4.7 1.4 1.1 1.4 3.7 1.4-1.8 1.4-1.1 1.4 1.7 1.4-3.2 1.4-3.8 1.4 1.3 1.4.8 1.4-3.9 1.4-4.6 1.4.8 1.4 9.5 1.4-5.3 1.4 8.5 1.4 1.3 1.4 7.7 1.4 3.7 1.4-1.5 1.4 2.3 1.4 1.9 1.4.1 1.4-.2 1.4-1.9 1.4-1.1 1.4 1.4 1.4-2.3 1.4.6 1.4 1.2 1.4.1 1.4 3.1 1.4.4 1.4 3.8 1.4-1.2 1.4-1.2 1.4-1.6 1.4-.4 1.4-.5 1.4.1 1.4-.2 1.4-1.4 1.4-.3 1.4 1.4 1.4-.5 1.4-.9 1.4-1.3 1.4.9 1.4-.9 1.4-.4 1.4-.9 1.4-.6 1.4-2.1 1.4-.1 1.4 2.2 1.4-1 1.4-2.7 1.4-2 1.4-1.3 1.4-1.2 1.4-4.1 1.4-4.4 1.4-4 1.4.1 1.4 3.3 1.4 1.4 1.4 3.2 1.4 4.6 1.4 2 1.4-.3 1.4 2.8 1.4.4 1.4-4.9 1.4-2.1 1.4-2.8 1.4-1.6 1.4-1.5 1.4-.2 1.4 1.6 1.4 2.6 1.4 1.2 1.4.9 1.4-1.9 1.4-.8 1.4-1.9 1.4-1.9 1.4-2.7 1.4-3.8 1.4-2.6 1.4 4.4.4 2.4"/>
<path d="M53.2 55.9l1.4-.3 1.4 12 1.4-2.5 1.4 9.5 1.4-10.5 1.4 1.5 1.4 15.4 1.4-11.4 1.4 7.2 1.4 9 1.4.4 1.4.1 1.4.3 1.4 8.2 1.4.4 1.4 7 1.4-.3 1.4 7.1 1.4-6.6 1.4 1.3 1.4-2.9 1.4-.2 1.4-3.5 1.4.5 1.4-7.6 1.4 7.5 1.4.6 1.4 4 1.4-1.5 1.4-5.4 1.4-1 1.4-8 1.4-3.9 1.4 1.4 1.4.2 1.4.1 1.4-5.5 1.4 9 1.4-3.7 1.4 8.6 1.4-2.8 1.4-.6 1.4 2.4 1.4 8 1.4 5.6 1.4 1.6 1.4.6 1.4 4.7 1.4 2.1 1.4-.1 1.4.1 1.4 0 1.4-.6 1.4-2.1 1.4-.8 1.4-5.4 1.4-4.3 1.4-3.6 1.4-7 1.4-7.9 1.4 8.7 1.4-.4 1.4 4.7 1.4-3.9 1.4 2.8 1.4-2.6 1.4 1 1.4-3.2 1.4-4 1.4-.5 1.4-6.8 1.4-.1 1.4 3.6 1.4-5.9 1.4 2.1 1.4 6.3 1.4 2.2 1.4 6.6 1.4 1.6 1.4 5.3 1.4 2.1 1.4 5.4 1.4.2 1.4-.2 1.4-6.4 1.4-3.6 1.4-1.7 1.4-.3 1.4-2 1.4-4.4 1.4 1.7 1.4 6.6 1.4.9 1.4 6.5 1.4.6 1.4-1.2 1.4-9.1 1.4.5 1.4-2.5 1.4-1.7 1.4-1.9 1.4-12 1.4 8.2 1.4 4.3 1.4-1 1.4-2.6 1.4 4.8 1.4-3.3 1.4 5.9 1.4-3.6 1.4 5.3 1.4-9.2 1.4 5.5 1.4-2.7 1.4 8.7 1.4 4.5 1.4-2.1 1.4 2.6 1.4-3.4 1.4-2.3 1.4 4.9 1.4-3.8 1.4-4.4 1.4 3 1.4.9 1.4-6.1 1.4 2.5 1.4-2 1.4-.6 1.4 1 1.4 2.5 1.4 5.1 1.4 3.8 1.4 2.2 1.4 1.5 1.4 2.7 1.4.5 1.4-2.9 1.4 1.4 1.4-.6 1.4-2.4 1.4.7 1.4.4 1.4-2.2 1.4 2 1.4-1.2 1.4 2.6 1.4 1.6 1.4.5 1.4-.2 1.4-1.9 1.4-.1 1.4.5 1.4-1.8 1.4-.7 1.4-.2 1.4-.7 1.4-.7 1.4.9 1.4-.7 1.4-.1 1.4-.2 1.4.3 1.4-1.1 1.4-.6 1.4 0 1.4-1.2 1.4-1.9 1.4.3 1.4 1.8 1.4-.8 1.4-3.3 1.4-.6 1.4-1.4 1.4-1.1 1.4-1.7 1.4-4.1 1.4-4 1.4-3 1.4 4.3 1.4 3.4 1.4 5.9 1.4 2.7 1.4-.8 1.4 5.4 1.4 1.4 1.4-1.6 1.4-4.5 1.4-2.8 1.4-2.5 1.4-.5 1.4-1.2 1.4-2.5 1.4 1.9 1.4 1.5 1.4 1.3 1.4 1 1.4-.3 1.4-.8 1.4-4 1.4-1.3 1.4-1.4 1.4-4.3 1.4-1.7 1.4 6.4.4.3"/>
<path d="M53.2 35.8l1.4-9.3 1.4 13.7 1.4-4.5 1.4 1.8 1.4-3.1 1.4 7.7 1.4 6.2 1.4-4.5 1.4 5.3 1.4 6.9 1.4 4.1 1.4 12 1.4-3.6 1.4 8.8 1.4 2.3 1.4 3.3 1.4 8.1 1.4 4.8 1.4 1.6 1.4.5 1.4-2.3 1.4-.9 1.4-6.1 1.4-4.6 1.4-.2 1.4 3.3 1.4 11.4 1.4-2.3 1.4-3.9 1.4-3.5 1.4-3.1 1.4-5.8 1.4-3 1.4 0 1.4-2.4 1.4.9 1.4 2.9 1.4 2.1 1.4-5.8 1.4 10 1.4-3.1 1.4 2.1 1.4 1.3 1.4 4.3 1.4 3.8 1.4 6.9 1.4 5.3 1.4 4 1.4 2 1.4-.5 1.4 2.4 1.4-1.2 1.4-2.3 1.4-3.2 1.4-3.9 1.4-7.5 1.4-6 1.4-5 1.4-2.8 1.4-4.8 1.4-1.3 1.4 7.6 1.4 4.3 1.4-1.6 1.4-.5 1.4-2.6 1.4-3.7 1.4 2.9 1.4-3.9 1.4 1.2 1.4-.6 1.4-.5 1.4-3.3 1.4 2.1 1.4-9.4 1.4 7.7 1.4 5.5 1.4 5.1 1.4 5.6 1.4 8.2 1.4 1.7 1.4 5.3 1.4-1 1.4.2 1.4-5.5 1.4.8 1.4-6.5 1.4-5.6 1.4-.9 1.4-5.9 1.4 6.3 1.4 3.1 1.4 4.9 1.4.9 1.4 6.1 1.4-5.7 1.4-12.6 1.4-2.2 1.4-4 1.4-9.1 1.4-2.3 1.4.2 1.4-6.9 1.4 1.3 1.4 5.3 1.4-.9 1.4-.7 1.4 4.3 1.4 3 1.4 1.6 1.4-2.7 1.4-.3 1.4 3.1 1.4 2.6 1.4 5.7 1.4 3.7 1.4 1.4 1.4 4.4 1.4-3.5 1.4-.4 1.4-1.4 1.4-.6 1.4 1.8 1.4-.7 1.4-4.1 1.4 4.6 1.4-6.4 1.4 2.7 1.4 5.1 1.4 2.5 1.4 1.1 1.4 6.3 1.4 2.5 1.4 2.5 1.4 2 1.4.8 1.4.5 1.4 1.6 1.4-4 1.4-1.5 1.4 0 1.4.2 1.4-.5 1.4-.7 1.4 1.9 1.4-2.1 1.4 3.3 1.4.4 1.4 3.9 1.4-1.6 1.4-.4 1.4-1.5 1.4-1.6 1.4-.9 1.4.2 1.4.8 1.4-2.1 1.4-.8 1.4 1.1 1.4-.5 1.4-.6 1.4-.6 1.4.3 1.4 0 1.4-.8 1.4-.2 1.4-.5 1.4-1 1.4-1.1 1.4 1.5 1.4-1.1 1.4-2.2 1.4-1.1 1.4-2.2 1.4-1.5 1.4-2.8 1.4-1 1.4-5.9 1.4.4 1.4 3.4 1.4-.2 1.4 6.5 1.4 5.3 1.4.2 1.4 1.5 1.4 3.5 1.4-3.2 1.4.1 1.4-4 1.4-4.2 1.4-1.4 1.4-.9 1.4-.4 1.4.7 1.4.9 1.4 2 1.4 1.2 1.4-1.4 1.4-1.6 1.4-3.1 1.4-2.4 1.4-1.3 1.4-5.5 1.4-.2 1.4 1.9.4 5"/>
</g>
<g fill="none" stroke="#c8323a" stroke-width="0.4" stroke-opacity="0.38" stroke-linejoin="round">
<path d="M53.2 75.3l1.4 1.4 1.4.3 1.4-1 1.4 4.1 1.4-5.7 1.4 1.7 1.4 1.4 1.4 6.6 1.4-5.4 1.4 7.2 1.4-2.8 1.4 6.3 1.4 1.5 1.4 4 1.4 5 1.4.1 1.4-.1 1.4 2.1 1.4-.3 1.4 1.9 1.4-2.6 1.4 1 1.4-2.3 1.4-4 1.4 3.4 1.4 1.2 1.4 2 1.4-1.2 1.4-2 1.4-.1 1.4-1.9 1.4-5 1.4-1.1 1.4-4.2 1.4 2 1.4 1.1 1.4 1.2 1.4.7 1.4-.4 1.4 1.5 1.4 3.1 1.4-.8 1.4 3.3 1.4 4 1.4 2.5 1.4 2.5 1.4 3.1 1.4-1.1 1.4 2.6 1.4 1.8 1.4 0 1.4-.5 1.4-.3 1.4-1.3 1.4 1.4 1.4-2.8 1.4-5 1.4-4.6 1.4-1.3 1.4-3.1 1.4 1.2 1.4 0 1.4-.4 1.4.8 1.4-3.6 1.4 2 1.4-.4 1.4-.6 1.4-5.2 1.4 2.2 1.4.1 1.4-2.6 1.4 3 1.4-1.7 1.4 1.5 1.4-.5 1.4 3.7 1.4 1 1.4 4.4 1.4 2.4 1.4 1.8 1.4 1.3 1.4 2.4 1.4-.6 1.4-6.1 1.4.2 1.4-3.4 1.4-1.2 1.4-1.1 1.4.2 1.4 1.6 1.4-1 1.4 4.7 1.4.2 1.4 2.5 1.4-4.4 1.4-3.3 1.4-4.7 1.4-4.9 1.4-.3 1.4-2.1 1.4 1.1 1.4 3.2 1.4-2.7 1.4-1.8 1.4 2.1 1.4 3.6 1.4.7 1.4-.8 1.4 2 1.4-4.8 1.4 3.7 1.4-.4 1.4-.1 1.4 3.7 1.4 4.6 1.4-3.1 1.4 3 1.4.9 1.4-1.5 1.4 1.1 1.4-2.9 1.4-2.2 1.4 1.2 1.4-2 1.4 1.8 1.4-1.1 1.4.9 1.4 2.6 1.4 1.6 1.4.6 1.4 3.8 1.4-1.3 1.4 2.1 1.4 1.7 1.4 1.8 1.4 1.3 1.4 1 1.4-3.7 1.4-.1 1.4-2.7 1.4-.4 1.4-.6 1.4-.2 1.4-.8 1.4 3.3 1.4-.8 1.4 2.3 1.4 2.7 1.4 0 1.4-1.4 1.4-1.4 1.4-1.2 1.4-1.9 1.4 1 1.4 0 1.4 1 1.4-.6 1.4-.7 1.4-.9 1.4.7 1.4-1.7 1.4.6 1.4-.6 1.4-.1 1.4.1 1.4-2.4 1.4.3 1.4-.7 1.4-1.4 1.4.2 1.4-2 1.4 0 1.4-1.1 1.4-1.9 1.4-2.5 1.4-3 1.4-3.5 1.4-1.1 1.4-.5 1.4 5.9 1.4 2.3 1.4 4.3 1.4 2.5 1.4 2.6 1.4.8 1.4-4 1.4-3.3 1.4-1.3 1.4-2.8 1.4-2.4 1.4 1.1 1.4-3.6 1.4 3.4 1.4.8 1.4 3.3 1.4-1 1.4-1.8 1.4.4 1.4-3 1.4-2.6 1.4-2 1.4-2 1.4-2.7 1.4 3.9.4.7"/>
<path d="M53.2 84.4l1.4 5.4 1.4-3.2 1.4.7 1.4 4.9 1.4-5.1 1.4 5.1 1.4-1.4 1.4-.2 1.4 5 1.4-2.4 1.4 5.4 1.4 2.7 1.4-1.1 1.4 3.8 1.4 4 1.4.5 1.4 1 1.4 2.2 1.4 0 1.4-3 1.4-.5 1.4-4.2 1.4.6 1.4-.4 1.4-1.4 1.4.4 1.4 1 1.4 2.4 1.4-3.6 1.4 0 1.4-1 1.4-5.1 1.4 2.1 1.4-7.6 1.4-1.5 1.4 3.9 1.4.5 1.4 3.6 1.4 2.9 1.4 2.4 1.4 0 1.4.9 1.4.8 1.4 4.7 1.4-.3 1.4 3.3 1.4 3 1.4-1.3 1.4 1.2 1.4.7 1.4.1 1.4-.7 1.4.6 1.4-.8 1.4.8 1.4-2.5 1.4-2.7 1.4-2.2 1.4-1.5 1.4-1.4 1.4-1.5 1.4-.3 1.4.5 1.4-1.1 1.4-1.5 1.4 1.8 1.4-2.1 1.4.4 1.4-3.3 1.4 1.8 1.4-1.1 1.4-1.2 1.4.2 1.4-.2 1.4-.1 1.4 1.1 1.4.7 1.4 2.1 1.4 5 1.4 2.8 1.4 1 1.4 2.3 1.4.4 1.4-1 1.4-2.6 1.4-.4 1.4-2.6 1.4-1.8 1.4-3.1 1.4-.4 1.4.5 1.4.4 1.4 4.8 1.4 0 1.4 2.6 1.4-2.9 1.4-1.5 1.4-8.1 1.4.3 1.4-.1 1.4-5.7 1.4.2 1.4 3 1.4-1.5 1.4 2 1.4 2.4 1.4-1.6 1.4 4.9 1.4-2.3 1.4-3 1.4 2 1.4-3.4 1.4 1.4 1.4.5 1.4.3 1.4 5.9 1.4-2 1.4.7 1.4 3.7 1.4.1 1.4-2.2 1.4-1.8 1.4-.2 1.4-4 1.4 1.4 1.4-1.2 1.4-.7 1.4 1.5 1.4 2 1.4 1.5 1.4 1.9 1.4 1.6 1.4 1.7 1.4 2.8 1.4.9 1.4.5 1.4 1.4 1.4 2 1.4-5.1 1.4-.9 1.4 0 1.4-.6 1.4-2.1 1.4 1.5 1.4-.9 1.4 2 1.4.8 1.4.4 1.4 2.9 1.4 0 1.4-1.8 1.4-1.4 1.4-1.4 1.4.2 1.4.7 1.4-1.4 1.4 1.2 1.4-.3 1.4-.2 1.4-2.4 1.4.9 1.4-1.1 1.4.4 1.4.6 1.4-.2 1.4-.8 1.4-1.4 1.4-.3 1.4-.6 1.4-2.4 1.4.4 1.4-.2 1.4-1.3 1.4.3 1.4-3.7 1.4-2.2 1.4-2.6 1.4-1.1 1.4-2.4 1.4 1.9 1.4 5.1 1.4 4 1.4 4.1 1.4.9 1.4 2.2 1.4 1.3 1.4-1.6 1.4-3.5 1.4-3.6 1.4-1.7 1.4-3.1 1.4-1.7 1.4-1.8 1.4 2.1 1.4 2.2 1.4 4 1.4-2.1 1.4-.2 1.4-1.7 1.4-1.6 1.4-4 1.4-1 1.4-3 1.4-3 1.4 5.8.4.5"/>
<path d="M53.2 72.8l1.4 1.4 1.4-1.4 1.4 2 1.4-.1 1.4-1.6 1.4.1 1.4.6 1.4 2 1.4 2.1 1.4 1 1.4 1.9 1.4 4.5 1.4 4.8 1.4.9 1.4 4.9 1.4 2.6 1.4 2.9 1.4 1.1 1.4-1.8 1.4-2.2 1.4 1.8 1.4-3.1 1.4-2.2 1.4 4 1.4-3 1.4 1.7 1.4 2.8 1.4-.4 1.4.5 1.4-1.8 1.4-2.9 1.4-2.6 1.4 0 1.4-8.6 1.4 2.6 1.4-.5 1.4.8 1.4 3.5 1.4 1.2 1.4 0 1.4 4.3 1.4 2 1.4.7 1.4 1.8 1.4 2.7 1.4 4.3 1.4-.7 1.4 1.9 1.4 3.3 1.4.6 1.4.3 1.4-.3 1.4.4 1.4-1.8 1.4-.1 1.4-4.1 1.4-4.7 1.4-2.9 1.4-2 1.4-2.3 1.4-1.4 1.4.7 1.4-.1 1.4.8 1.4.2 1.4-2 1.4-1.8 1.4-.2 1.4-2.7 1.4.3 1.4.9 1.4 1.3 1.4-3.2 1.4 4.4 1.4-.6 1.4-1.8 1.4 4.2 1.4.7 1.4 6 1.4 2.5 1.4 2.2 1.4 2.7 1.4 1.4 1.4-2.3 1.4-2.8 1.4-.9 1.4-5.9 1.4-1.8 1.4-.6 1.4-2.4 1.4 2.5 1.4.7 1.4 3.4 1.4 2.9 1.4 1.1 1.4-3.3 1.4-8.5 1.4-3.7 1.4-3 1.4-.4 1.4-2.3 1.4-.9 1.4 1.3 1.4.5 1.4 1 1.4 1.9 1.4-.6 1.4-.5 1.4 3.6 1.4-.2 1.4-1.5 1.4 1.4 1.4-1.3 1.4 3.2 1.4 1.4 1.4 5.7 1.4.4 1.4-1 1.4 3 1.4-2.8 1.4.5 1.4-.3 1.4-3.7 1.4 1.5 1.4 1.6 1.4-.7 1.4 0 1.4-1 1.4 3.2 1.4 2.3 1.4.8 1.4 1.2 1.4 2.3 1.4.5 1.4.1 1.4 2.2 1.4 2.8 1.4.2 1.4-3.4 1.4-1.9 1.4-.3 1.4-2.5 1.4-.8 1.4 2.2 1.4-.6 1.4.2 1.4 1.8 1.4-.4 1.4 3.5 1.4.4 1.4-1.8 1.4-1.8 1.4-1.4 1.4-.6 1.4 1 1.4-.2 1.4 1 1.4-.5 1.4-.2 1.4-1.7 1.4-.2 1.4.2 1.4-.9 1.4.1 1.4 0 1.4-.9 1.4-.1 1.4-1 1.4-.4 1.4-1.6 1.4-.4 1.4.8 1.4-1.8 1.4-.2 1.4-3.9 1.4-1.7 1.4-4 1.4-1.9 1.4-4 1.4 5.1 1.4 4.9 1.4 1.9 1.4 3.2 1.4-.9 1.4 3.7 1.4 1.6 1.4-2.7 1.4-3.9 1.4-2.6 1.4-.1 1.4-2.1 1.4-1.5 1.4-1.9 1.4-.1 1.4 2.3 1.4 4.8 1.4-.5 1.4-2.5 1.4-.6 1.4-1.9 1.4-4 1.4-1 1.4-4.5 1.4-1.8 1.4 4.3.4.7"/>
<path d="M53.2 88.8l1.4-1.3 1.4.4 1.4 4.1 1.4.6 1.4-.9 1.4 2.9 1.4-7 1.4 5.7 1.4 1.7 1.4 0 1.4 5 1.4 2 1.4-2.4 1.4 3.9 1.4 3 1.4 1 1.4-1 1.4 3.6 1.4-2.9 1.4-3.5 1.4.6 1.4-1.2 1.4-2.6 1.4-.6 1.4 2.2 1.4-.8 1.4.1 1.4 1.3 1.4-2.9 1.4-1.3 1.4-2.7 1.4-2.1 1.4-1.9 1.4-5.4 1.4-1 1.4.6 1.4-1 1.4 3.5 1.4.7 1.4 6.6 1.4-1.4 1.4 2.1 1.4 3.3 1.4.3 1.4 4.8 1.4 2.2 1.4 1.7 1.4 2.9 1.4 1.3 1.4 1.6 1.4.4 1.4-1.1 1.4.2 1.4-1 1.4 1.1 1.4-2 1.4-5.4 1.4-1.1 1.4-.8 1.4-.6 1.4-.3 1.4-.6 1.4-.6 1.4.3 1.4-3.1 1.4 2.1 1.4-3.9 1.4.9 1.4.5 1.4-1 1.4-.3 1.4-2 1.4-1.2 1.4.9 1.4.4 1.4-.9 1.4 3.6 1.4 2.2 1.4 1.5 1.4 3.9 1.4 2.3 1.4 2 1.4-1.4 1.4-.5 1.4-4.8 1.4 1.6 1.4-4.7 1.4-1.4 1.4-4.4 1.4.2 1.4 2.7 1.4-.5 1.4 1.8 1.4 2.9 1.4 2.8 1.4-3.2 1.4-3.9 1.4-6.5 1.4.1 1.4-6.6 1.4-.3 1.4 2.5 1.4-2.7 1.4 0 1.4 6.7 1.4-4.3 1.4 2.2 1.4 1.1 1.4 3.4 1.4-3.2 1.4 3.1 1.4-2.8 1.4 1.9 1.4.1 1.4 1.1 1.4 8.2 1.4-3 1.4 2.8 1.4 1.5 1.4-.9 1.4 1.2 1.4-5.6 1.4-.3 1.4.2 1.4-1.2 1.4 2.7 1.4-1.5 1.4 2.5 1.4.1 1.4 1.3 1.4 4.2 1.4-1.2 1.4 1.6 1.4 1.4 1.4 1.9 1.4.6 1.4 1 1.4.2 1.4-2.1 1.4.3 1.4-3.6 1.4-.1 1.4-.3 1.4 1 1.4-.6 1.4 1.2 1.4 1 1.4-1 1.4 3.8 1.4-1.1 1.4-1.6 1.4-1.7 1.4-.2 1.4-1.3 1.4 1.4 1.4-.4 1.4.6 1.4-.9 1.4-.6 1.4-.9 1.4-.3 1.4-1.6 1.4.8 1.4-1.3 1.4-.3 1.4.4 1.4-1.2 1.4 0 1.4-.6 1.4-2.7 1.4.7 1.4.2 1.4-2.2 1.4-.3 1.4-3.1 1.4-3.6 1.4-.7 1.4-1.2 1.4-5.5 1.4 5.6 1.4 4.4 1.4 1.5 1.4 6.6 1.4-2.3 1.4 3.9 1.4 3.4 1.4-.8 1.4-4.7 1.4-4.3 1.4 1.1 1.4-4.1 1.4-.7 1.4-3 1.4 2.1 1.4 1.5 1.4 4 1.4-.1 1.4-1.4 1.4-.3 1.4-1.9 1.4-4.5 1.4.3 1.4-4.5 1.4-3.8 1.4 4.8.4 2.5"/>
<path d="M53.2 80.2l1.4 4.7 1.4-4.6 1.4 1.8 1.4 3.8 1.4 2.7 1.4-6.5 1.4 7.1 1.4 1.2 1.4-2.4 1.4 5.9 1.4 1.3 1.4 3.5 1.4 1.1 1.4 1.6 1.4 4 1.4.4 1.4 2.4 1.4 1.4 1.4-1.8 1.4-1.4 1.4-1.1 1.4-.5 1.4-.3 1.4.1 1.4-2.5 1.4 1.6 1.4.7 1.4-1.2 1.4-1.9 1.4 2.4 1.4-3 1.4-2.7 1.4-5.7 1.4-4.2 1.4-1.4 1.4 2.9 1.4 1.1 1.4-1.1 1.4 4.6 1.4 3.4 1.4 2.4 1.4-3.2 1.4 1.5 1.4 6.6 1.4-.4 1.4 3.7 1.4 1.7 1.4 1.5 1.4 1.7 1.4.6 1.4 1.2 1.4-.3 1.4.9 1.4-1.8 1.4.4 1.4-2.5 1.4-2.1 1.4-2.2 1.4-.5 1.4-5.8 1.4 2.1 1.4-2.3 1.4 1.6 1.4.4 1.4-1.6 1.4-.5 1.4-3.1 1.4-.1 1.4 2.4 1.4.1 1.4-3.1 1.4-2.5 1.4 3.2 1.4-1.7 1.4 0 1.4 1.3 1.4-1.2 1.4 1.9 1.4 7.5 1.4 3.2 1.4 1.1 1.4.4 1.4 2 1.4-1.7 1.4-4.7 1.4.8 1.4-6.8 1.4-1.4 1.4.8 1.4-3.9 1.4 4.3 1.4 1.1 1.4 2.3 1.4.9 1.4 3 1.4-6.7 1.4-.9 1.4-2.6 1.4-3 1.4-4 1.4 3.3 1.4-1.5 1.4 2.2 1.4.6 1.4 2.9 1.4-2.8 1.4 4 1.4-2.2 1.4-1 1.4.9 1.4-1.5 1.4-1.4 1.4 3.2 1.4-.5 1.4 4.3 1.4 1.1 1.4 2.5 1.4-1.9 1.4 1.4 1.4.4 1.4 1.5 1.4-3.7 1.4-1.6 1.4-2.4 1.4-.4 1.4.9 1.4 1.2 1.4-.3 1.4 2.3 1.4 2.8 1.4-1.9 1.4 1.9 1.4 1.3 1.4 1.6 1.4.9 1.4 1.6 1.4.1 1.4 2.3 1.4-4 1.4.2 1.4-3 1.4 1.3 1.4-2 1.4 2 1.4-.4 1.4.7 1.4-.6 1.4 1.8 1.4 3.6 1.4-.2 1.4-1.3 1.4-1.9 1.4-.2 1.4-.7 1.4.3 1.4-.4 1.4 0 1.4-.4 1.4.1 1.4-.8 1.4.4 1.4-.6 1.4.6 1.4-1.7 1.4-.2 1.4-.3 1.4-1.9 1.4.8 1.4.2 1.4-1.7 1.4-2.1 1.4.9 1.4-1.5 1.4.1 1.4-3.3 1.4-3.5 1.4-.5 1.4-2.5 1.4-3.4 1.4 1.8 1.4 1.4 1.4 4.3 1.4 3.4 1.4.7 1.4 2.5 1.4 3.9 1.4-2.6 1.4-5.5 1.4.5 1.4-5.5 1.4.7 1.4-2.3 1.4-1.2 1.4.7 1.4 3.3 1.4 4.3 1.4-2.8 1.4-1.2 1.4 1.1 1.4-3.5 1.4-3.5 1.4-.2 1.4-4.5 1.4-2.4 1.4 5.8.4-.5"/>
<path d="M53.2 92l1.4 1 1.4-.8 1.4-5 1.4 3.4 1.4-2.6 1.4 3.2 1.4 1.3 1.4.9 1.4-.9 1.4 6.2 1.4-2.1 1.4 4.9 1.4-2.4 1.4 3.9 1.4-.8 1.4 4 1.4 1.5 1.4-.6 1.4 1.6 1.4-4.7 1.4 0 1.4-.1 1.4-1.7 1.4-2.4 1.4.4 1.4 1.4 1.4 3.2 1.4-1.3 1.4-2.2 1.4.1 1.4-3 1.4-2.9 1.4.7 1.4-3.8 1.4-1.6 1.4.4 1.4 5.6 1.4-3.2 1.4 3.4 1.4 3.4 1.4 4.5 1.4.2 1.4 2.2 1.4 0 1.4 3.3 1.4 1 1.4 2.1 1.4.3 1.4 1.9 1.4.1 1.4.8 1.4-.6 1.4.6 1.4-.9 1.4-.9 1.4-.6 1.4-2.8 1.4-2.3 1.4-4.8 1.4 0 1.4-1.9 1.4-.5 1.4-1 1.4 2.2 1.4-1.8 1.4.1 1.4-4.2 1.4 2 1.4-5.2 1.4 3 1.4-4.4 1.4-.6 1.4.3 1.4 2.6 1.4 1.7 1.4-1.4 1.4 1.9 1.4 1.7 1.4 6.3 1.4 4.3 1.4-.1 1.4 1 1.4-.3 1.4 1.7 1.4-5.1 1.4 1.8 1.4-2 1.4-4.2 1.4-2.3 1.4.4 1.4 4.5 1.4.2 1.4 2.2 1.4.6 1.4 1.8 1.4-2.4 1.4-3.3 1.4-2.6 1.4-3.4 1.4-.2 1.4-2.6 1.4 0 1.4 2.5 1.4-2.4 1.4 5.2 1.4-3.3 1.4 1.7 1.4 1.2 1.4-1 1.4.1 1.4-1.5 1.4-1 1.4-1.5 1.4 1.1 1.4 2.8 1.4 1.1 1.4 1.9 1.4-.4 1.4.4 1.4-.6 1.4-.5 1.4-.6 1.4-.4 1.4-.9 1.4-.7 1.4.4 1.4-.8 1.4-.5 1.4 3.5 1.4 3 1.4.8 1.4-.3 1.4 2.3 1.4 1.5 1.4.9 1.4 1.9 1.4 2 1.4-.8 1.4-1.3 1.4-2.3 1.4-1.4 1.4 1.3 1.4-1.1 1.4-.1 1.4.4 1.4.4 1.4 1.5 1.4.1 1.4 1.7 1.4.5 1.4-1.2 1.4-1.1 1.4-2.2 1.4-.4 1.4.2 1.4-.2 1.4.6 1.4.3 1.4 0 1.4-2.7 1.4.4 1.4-.6 1.4.3 1.4.6 1.4-.4 1.4-2.5 1.4-.9 1.4-.1 1.4-.3 1.4-1.8 1.4-.1 1.4-1.7 1.4-.8 1.4 1 1.4-4.3 1.4-2.9 1.4-1.1 1.4-4 1.4-1.1 1.4 1 1.4 4.2 1.4 4.4 1.4 6.4 1.4.2 1.4 3.1 1.4 2.1 1.4-3.5 1.4-.7 1.4-4.1 1.4-2.1 1.4-4.7 1.4-.6 1.4-.6 1.4 2.3 1.4 2.4 1.4 1.8 1.4 1.2 1.4-2.8 1.4.2 1.4-3.5 1.4-3.4 1.4.5 1.4-4.2 1.4-2.3 1.4 5.6.4-.2"/>
<path d="M53.2 76.8l1.4 6.7 1.4-3.9 1.4 4.4 1.4 1.4 1.4-2.4 1.4 3.2 1.4-3.3 1.4-.6 1.4 8.8 1.4.9 1.4 1.3 1.4 4.2 1.4-1.4 1.4 3.1 1.4 4 1.4 3.2 1.4-2.1 1.4 4.1 1.4.6 1.4-5.7 1.4-3 1.4-.1 1.4 1.2 1.4-3.1 1.4 3.7 1.4-3.8 1.4 5.5 1.4-2.7 1.4.5 1.4-2.8 1.4-4.6 1.4-.2 1.4-4.7 1.4-.2 1.4-1.9 1.4-1.2 1.4 2 1.4 1.5 1.4 3.7 1.4-.9 1.4 3.3 1.4.4 1.4 2.8 1.4 2.7 1.4 1.2 1.4 4 1.4 2.5 1.4 3 1.4.5 1.4 0 1.4 1.9 1.4-.3 1.4.3 1.4-2.1 1.4.5 1.4-2.9 1.4-2.4 1.4-4.5 1.4 1 1.4-3 1.4-4 1.4 1.9 1.4.7 1.4 1 1.4-.9 1.4-2.4 1.4.6 1.4-3.4 1.4 1.8 1.4-2.6 1.4-2.1 1.4 3.3 1.4.5 1.4-1.4 1.4.8 1.4-1 1.4.4 1.4 3.5 1.4 5.7 1.4 1.8 1.4.8 1.4 2.2 1.4.4 1.4.4 1.4-6.8 1.4-1.3 1.4-2.7 1.4 2 1.4-3.7 1.4 0 1.4 2.4 1.4.8 1.4 1.3 1.4.6 1.4 1.6 1.4-3.4 1.4-5.5 1.4-4.6 1.4-1.1 1.4 1.6 1.4-1 1.4-2.1 1.4 0 1.4-.6 1.4.1 1.4 1.7 1.4.2 1.4 2.2 1.4 2.3 1.4-1.1 1.4.3 1.4.1 1.4 1 1.4-1.7 1.4 1.8 1.4 7.3 1.4-1.6 1.4-.5 1.4 2.7 1.4 1.3 1.4-.5 1.4-4.6 1.4-1.1 1.4-1.2 1.4.6 1.4-.2 1.4 1.8 1.4.6 1.4-.4 1.4 2.2 1.4 1.8 1.4 3.7 1.4-.7 1.4 3.4 1.4-1 1.4.7 1.4 4 1.4-1.9 1.4-1.6 1.4-.7 1.4-2.3 1.4.7 1.4-.9 1.4-.6 1.4-.7 1.4 2.1 1.4.6 1.4 1.1 1.4 2.8 1.4-.2 1.4-.9 1.4-2.3 1.4-2.2 1.4.1 1.4 1 1.4-.9 1.4 1.7 1.4-.7 1.4-.4 1.4-2.1 1.4-.2 1.4-.5 1.4.9 1.4-.2 1.4-.2 1.4-2 1.4 0 1.4-.4 1.4-.4 1.4-1.8 1.4.1 1.4-.1 1.4-2.3 1.4-.2 1.4-2.5 1.4-2.1 1.4-2.8 1.4-2.1 1.4-4.3 1.4 3.8 1.4 2.2 1.4 5.2 1.4 1 1.4 3.7 1.4 3.9 1.4 2.8 1.4-4.5 1.4-1.4 1.4-5.3 1.4-2.6 1.4-.8 1.4-1.7 1.4-1.3 1.4 2.2 1.4 2.6 1.4 3.9 1.4-2.5 1.4-.5 1.4-.7 1.4-2.2 1.4-3.6 1.4-1.8 1.4-2.8 1.4-5.3 1.4 7.7.4-1.8"/>
<path d="M53.2 74.2l1.4 1.6 1.4 1.6 1.4-.2 1.4 5.9 1.4-5.4 1.4 1.3 1.4.7 1.4 4 1.4 2.2 1.4-.2 1.4-2 1.4 2.5 1.4 5.5 1.4 1.9 1.4 5.1 1.4-1 1.4 3.6 1.4 0 1.4-.8 1.4-2.8 1.4 1.1 1.4-2.2 1.4-1.1 1.4.6 1.4-2.7 1.4 2.1 1.4 1.9 1.4-.2 1.4.4 1.4-2.3 1.4-3.7 1.4-3.1 1.4-3.4 1.4-4.5 1.4-.7 1.4 3.7 1.4 1.8 1.4 3.5 1.4 2.5 1.4-1.4 1.4 5.5 1.4-3.6 1.4 3 1.4 5.1 1.4 2.6 1.4 4 1.4.7 1.4 2.8 1.4 2.2 1.4.6 1.4 1.9 1.4-.7 1.4-.7 1.4-.5 1.4.4 1.4-2.7 1.4-4.1 1.4-1.2 1.4-2.7 1.4-4.2 1.4 1.2 1.4-1.2 1.4.4 1.4.4 1.4-1.4 1.4 0 1.4-3.4 1.4 1.4 1.4-4 1.4 1.5 1.4-.3 1.4-2.6 1.4-2 1.4 3.5 1.4-2.9 1.4.6 1.4.2 1.4 3.2 1.4 5.3 1.4 5.7 1.4-1.8 1.4 3.5 1.4 1.8 1.4-4.2 1.4-3 1.4-2.3 1.4-1.1 1.4-3 1.4-2.2 1.4-.5 1.4 2.7 1.4 1.8 1.4 1.4 1.4 3.3 1.4 1.6 1.4-5 1.4-2.6 1.4-5.4 1.4-2 1.4-3.6 1.4-1 1.4 2.5 1.4-1.3 1.4 1.5 1.4 5.1 1.4-5.3 1.4 5.1 1.4-1.8 1.4 1.6 1.4.8 1.4.4 1.4-1.1 1.4-1.6 1.4 4 1.4.1 1.4 5.3 1.4.4 1.4.7 1.4 1.7 1.4-1.9 1.4.1 1.4-1.5 1.4-1.4 1.4-1.9 1.4 2.2 1.4.7 1.4-1.7 1.4 1.1 1.4.1 1.4 3 1.4 2.5 1.4-.2 1.4 1.8 1.4 2.2 1.4 0 1.4 1.5 1.4.7 1.4 2.6 1.4-3.1 1.4-2.2 1.4-2.3 1.4-.4 1.4.8 1.4 0 1.4-1.6 1.4 1.6 1.4 2.3 1.4-.2 1.4 4.2 1.4-.2 1.4-1.4 1.4-2.2 1.4-.9 1.4-1.2 1.4 1 1.4-.2 1.4.8 1.4 0 1.4.3 1.4-2.7 1.4.8 1.4-1.7 1.4.2 1.4-.3 1.4-.1 1.4-1 1.4-.8 1.4-.4 1.4-.9 1.4-.1 1.4-1.1 1.4 0 1.4-2.8 1.4 1.1 1.4-2.8 1.4-2.7 1.4-4.4 1.4-.1 1.4-4.5 1.4.9 1.4 7.2 1.4.7 1.4 6.7 1.4-2.5 1.4 2.3 1.4 4.1 1.4-2.1 1.4-2.4 1.4-2.5 1.4-2.9 1.4-1.2 1.4-1.7 1.4-2.2 1.4 2.7 1.4 1.3 1.4 4 1.4-2 1.4-.9 1.4-.6 1.4-1.3 1.4-5 1.4-.6 1.4-3.9 1.4-1.5 1.4 2.9.4 1.4"/>
<path d="M53.2 89.1l1.4-.9 1.4-1.2 1.4-1.1 1.4 6.6 1.4-1.8 1.4 1.3 1.4-3.3 1.4-1.1 1.4 5.2 1.4 3.5 1.4-2.1 1.4.3 1.4 3.9 1.4 4.9 1.4 2.3 1.4.7 1.4 1.8 1.4-1.9 1.4.5 1.4-2.6 1.4.8 1.4-.3 1.4-3.2 1.4 3.6 1.4-1 1.4 1.2 1.4 2.2 1.4-.9 1.4-1.4 1.4-.8 1.4-3 1.4-.8 1.4-1.5 1.4-5.5 1.4 1.4 1.4-1.6 1.4 2.3 1.4 2.3 1.4-.4 1.4 5.7 1.4-.8 1.4 1.3 1.4-1 1.4 1.9 1.4 2 1.4 5.1 1.4 2.6 1.4-.8 1.4 1 1.4 0 1.4 1.2 1.4-.5 1.4.8 1.4-1.9 1.4.9 1.4-3.3 1.4-3.7 1.4-3 1.4-.1 1.4-1.5 1.4-1 1.4-.4 1.4 1.7 1.4-.6 1.4-.7 1.4.1 1.4-.7 1.4-1.7 1.4-1.3 1.4 1.8 1.4-3.1 1.4 1.3 1.4-2.1 1.4-.9 1.4 1.8 1.4.7 1.4-.2 1.4 1.5 1.4 7.5 1.4 1.8 1.4.9 1.4 1.3 1.4.7 1.4-2.5 1.4-3.7 1.4 2 1.4-3.8 1.4-2.9 1.4-2.2 1.4-.1 1.4.5 1.4 2.6 1.4 4.2 1.4 1.2 1.4.1 1.4-4.7 1.4-.7 1.4-3.7 1.4-.1 1.4-1.4 1.4-4.2 1.4-.9 1.4 6.9 1.4-2.4 1.4 4.6 1.4-2.1 1.4 3.3 1.4-1.2 1.4.3 1.4-.4 1.4-1.9 1.4-.5 1.4.4 1.4-1.3 1.4 1.1 1.4 4.3 1.4.4 1.4.4 1.4 1.3 1.4-.6 1.4.7 1.4-4.7 1.4-2.6 1.4.5 1.4.5 1.4-1.6 1.4.9 1.4-.3 1.4 4.1 1.4.4 1.4 3 1.4 0 1.4 1.4 1.4.9 1.4 2.6 1.4 1.4 1.4-.4 1.4 2.2 1.4-4 1.4 1.4 1.4-1.9 1.4.1 1.4-1.3 1.4.2 1.4-.1 1.4.3 1.4.9 1.4 1.5 1.4 2.3 1.4-.6 1.4-1.9 1.4-1.4 1.4-.6 1.4-.7 1.4 1.4 1.4-.9 1.4.7 1.4-.6 1.4-.3 1.4-1.6 1.4-.8 1.4.2 1.4 0 1.4-.2 1.4-.6 1.4-.9 1.4-.7 1.4-.5 1.4-1.5 1.4-.3 1.4-1.2 1.4-1.2 1.4.1 1.4.5 1.4-3.6 1.4-2.7 1.4-2.7 1.4-2.6 1.4-1.2 1.4 2.6 1.4 5.2 1.4 4.1 1.4 1.9 1.4 4 1.4 1.4 1.4 1.7 1.4-3.7 1.4-1.4 1.4-2.6 1.4-2.3 1.4-3.1 1.4-2.7 1.4-1.3 1.4 1.9 1.4 1.6 1.4 2.4 1.4 1.2 1.4-1 1.4-2.3 1.4-1.3 1.4-5.5 1.4 0 1.4-4.3 1.4-2 1.4 4.5.4 1.2"/>
<path d="M53.2 71.3l1.4 6.7 1.4-3.4 1.4 2 1.4-1.9 1.4 2 1.4 2.3 1.4.4 1.4 4.3 1.4-1 1.4 0 1.4 5.9 1.4 4.1 1.4 2.6 1.4-2.1 1.4 6.8 1.4-.8 1.4 2 1.4 4.6 1.4.4 1.4-3.4 1.4-3 1.4.1 1.4-1.9 1.4-.9 1.4-.2 1.4 4.2 1.4 2 1.4-3.3 1.4 1 1.4-.9 1.4-3.4 1.4-5 1.4-1.2 1.4-2.3 1.4-1.7 1.4 3.3 1.4-4.1 1.4 2.6 1.4 2.6 1.4 2 1.4 4.7 1.4.2 1.4 1.6 1.4 1.9 1.4 2 1.4 4.3 1.4 0 1.4 2.7 1.4 2.6 1.4-.7 1.4 1.8 1.4-.9 1.4.9 1.4-1.9 1.4-.7 1.4-3.5 1.4-3.6 1.4-3.3 1.4-2.8 1.4-1 1.4-2.7 1.4 0 1.4 1.8 1.4.7 1.4-2.4 1.4-1.2 1.4-2.4 1.4 2.1 1.4-3.1 1.4-1.6 1.4 1 1.4-2.4 1.4 1.9 1.4 1.4 1.4-1.6 1.4 1.7 1.4 2.7 1.4 0 1.4 7.1 1.4 2.1 1.4 3.2 1.4 1.3 1.4 1.3 1.4.4 1.4-4 1.4-3.6 1.4-.2 1.4-2.6 1.4-1.9 1.4-1.5 1.4 2.3 1.4 3.8 1.4.2 1.4 2.1 1.4 3.2 1.4-6.7 1.4-2.4 1.4-7.2 1.4-1.4 1.4 3 1.4-3.9 1.4.5 1.4-1.8 1.4.6 1.4 0 1.4 3.9 1.4-3.4 1.4 5.2 1.4.3 1.4-3.1 1.4-.7 1.4-1.1 1.4-.4 1.4 2.1 1.4 2.5 1.4 6.1 1.4-1.9 1.4-1 1.4 1.8 1.4-.3 1.4-1 1.4-2.1 1.4.8 1.4-3 1.4 2.6 1.4-.3 1.4.1 1.4 0 1.4.5 1.4 3.4 1.4.2 1.4 2.4 1.4 2.5 1.4 1.5 1.4 1.2 1.4-.9 1.4 3.8 1.4-1.3 1.4-2 1.4.4 1.4-.8 1.4-2.1 1.4-.6 1.4 2.4 1.4-2 1.4 2.2 1.4.2 1.4 3 1.4 2.2 1.4 0 1.4-.8 1.4-1.6 1.4-2.2 1.4-1 1.4 2 1.4-.5 1.4.2 1.4-.7 1.4.2 1.4-.8 1.4-.3 1.4-.7 1.4.3 1.4-1.1 1.4.9 1.4-1.6 1.4-.6 1.4-1 1.4-.3 1.4-1.3 1.4-.4 1.4-1 1.4-1.2 1.4-1.3 1.4-3.3 1.4-3.4 1.4-2.6 1.4-1.1 1.4-5.1 1.4 1.7 1.4 2.4 1.4 5.9 1.4 4.5 1.4-1.8 1.4 1.7 1.4 4.4 1.4-1.9 1.4-4.8 1.4-1.8 1.4-2 1.4-1.7 1.4-.3 1.4-.4 1.4 0 1.4 3.7 1.4 2.4 1.4-1.1 1.4.1 1.4-2 1.4-1.4 1.4-2.3 1.4-1.6 1.4-3.7 1.4-3.7 1.4 5.9.4.6"/>
<path d="M53.2 73.2l1.4 5.2 1.4-6.3 1.4 2.8 1.4 6.4 1.4-7.7 1.4 6.1 1.4-2.3 1.4 2.1 1.4.5 1.4 3.9 1.4 2.8 1.4 5.6 1.4 3.9 1.4 1.8 1.4.7 1.4 4.1 1.4 3.4 1.4-1.8 1.4 2 1.4-4.5 1.4-1.4 1.4.3 1.4.2 1.4-2.4 1.4-2 1.4 2.3 1.4 0 1.4 2.1 1.4-2.3 1.4-1.6 1.4-2.7 1.4-4.5 1.4-2.3 1.4-4 1.4.2 1.4-1.3 1.4 5 1.4.6 1.4-.7 1.4 5.4 1.4-1.8 1.4 3.9 1.4-.3 1.4 6.2 1.4 1.9 1.4 3.1 1.4 3.1 1.4 1.7 1.4 1.7 1.4.4 1.4 2.1 1.4-.6 1.4-.1 1.4-.5 1.4-.8 1.4-2.9 1.4-2.9 1.4-3.7 1.4.3 1.4-2.6 1.4-3.2 1.4.6 1.4 2.3 1.4-1 1.4-4 1.4 3.3 1.4-5.1 1.4 1.1 1.4-.3 1.4-.8 1.4-1.5 1.4-4.3 1.4.8 1.4-.7 1.4 4 1.4-2.9 1.4.5 1.4 4 1.4 5.6 1.4 3.8 1.4-.1 1.4 3.9 1.4-.4 1.4-3.3 1.4-1.4 1.4-3.9 1.4.1 1.4-2.5 1.4-1.9 1.4-2.1 1.4 5.7 1.4-1.8 1.4 4 1.4 1.4 1.4 3.7 1.4-3.2 1.4-4.4 1.4-3.6 1.4-2 1.4-2.4 1.4 1 1.4-3.8 1.4 2.9 1.4 2.2 1.4 2 1.4.3 1.4 1 1.4-.9 1.4 0 1.4-1.4 1.4 1 1.4-.5 1.4-2.4 1.4.8 1.4 2.4 1.4 5.6 1.4-3 1.4.1 1.4 3.8 1.4-.3 1.4-2.6 1.4-3.5 1.4-1.2 1.4-1 1.4 2.7 1.4-2.1 1.4 1.5 1.4-.5 1.4 3.1 1.4-.1 1.4 3.4 1.4 1.9 1.4.9 1.4 1.6 1.4 1.3 1.4.1 1.4 4.1 1.4-.6 1.4-2.2 1.4-1 1.4-1.2 1.4 1.1 1.4-1 1.4 1.1 1.4-.4 1.4 1.9 1.4-1.7 1.4 1.7 1.4 2.4 1.4 1.6 1.4-2.6 1.4-.5 1.4-2.4 1.4-.6 1.4 1 1.4.4 1.4-.2 1.4-.5 1.4.4 1.4-2.5 1.4.4 1.4-1 1.4.5 1.4-.8 1.4-.9 1.4-1 1.4-.2 1.4-1.6 1.4-.5 1.4-1 1.4.1 1.4-1.6 1.4-1.9 1.4-.1 1.4-2.7 1.4-1.8 1.4-3.7 1.4-2.7 1.4-3.7 1.4 2.5 1.4 4.1 1.4 5.1 1.4 4.5 1.4.8 1.4.2 1.4 5.7 1.4-5.1 1.4-2.5 1.4-1.4 1.4-3.1 1.4-1 1.4.4 1.4-3.5 1.4 3.9 1.4.6 1.4 3 1.4.1 1.4-2.5 1.4-.1 1.4-1.2 1.4-4.6 1.4-.4 1.4-5.3 1.4-1.4 1.4 5 .4-.3"/>
<path d="M53.2 77.3l1.4 5.8 1.4-6.5 1.4 1 1.4 3 1.4.4 1.4 1.6 1.4-.6 1.4-1.4 1.4 0 1.4 6.2 1.4-2.9 1.4 8.2 1.4 1.2 1.4 4.9 1.4.2 1.4 2 1.4 2.2 1.4-1 1.4 3.5 1.4-3.4 1.4-1.2 1.4-3.9 1.4-.1 1.4-1.3 1.4.9 1.4 1.1 1.4 4.8 1.4-2.1 1.4-1.1 1.4-1 1.4-3.6 1.4-4.4 1.4.6 1.4-5 1.4-2.4 1.4 5.6 1.4-3.1 1.4 6 1.4.9 1.4 3.8 1.4 0 1.4-1.2 1.4 4.5 1.4 1.7 1.4 3.2 1.4 2 1.4 4.9 1.4 1.2 1.4.9 1.4.3 1.4 1.7 1.4-1.2 1.4 1.3 1.4-1 1.4-.8 1.4-1.8 1.4-5.2 1.4.2 1.4-2.6 1.4-5.4 1.4 2.1 1.4-1.4 1.4 1.6 1.4-1.6 1.4-1.1 1.4 2.9 1.4-3.6 1.4 0 1.4-1.3 1.4-2.5 1.4-.8 1.4.8 1.4-.4 1.4.6 1.4.6 1.4-1.3 1.4 2 1.4 4.2 1.4 4.8 1.4 3.3 1.4-1.7 1.4 4.7 1.4-1.4 1.4-1.2 1.4-3 1.4 2.5 1.4-6.1 1.4-1.1 1.4-3.6 1.4.7 1.4 4.3 1.4-1.8 1.4 2.8 1.4 1.5 1.4 1.1 1.4-4.2 1.4.3 1.4-4.4 1.4-3.5 1.4-2.2 1.4-2.1 1.4 1.3 1.4-1.4 1.4.2 1.4 4.4 1.4-3.4 1.4 6.1 1.4-4 1.4-2.4 1.4 3.5 1.4.2 1.4-3.6 1.4 1.4 1.4.7 1.4 3.6 1.4 1.1 1.4 2.4 1.4-2.3 1.4 3.3 1.4 1.3 1.4-2.3 1.4-4.8 1.4.1 1.4-.5 1.4 1.7 1.4-1.5 1.4-1.1 1.4 3 1.4 1.4 1.4 2.9 1.4.1 1.4 1.9 1.4 1.6 1.4.4 1.4 0 1.4 3 1.4 1.2 1.4 1.5 1.4-2.8 1.4-2.6 1.4-1.2 1.4 1.3 1.4-1.8 1.4 1.7 1.4-.5 1.4-.5 1.4 1.3 1.4.7 1.4 3.3 1.4.9 1.4-1 1.4-2.6 1.4-.8 1.4-.7 1.4 1.7 1.4-.8 1.4.4 1.4-.7 1.4 0 1.4-1.9 1.4 1.4 1.4-1.7 1.4.1 1.4-.6 1.4.1 1.4.1 1.4-1.6 1.4-.1 1.4-.2 1.4-2.5 1.4.2 1.4-.3 1.4-.6 1.4-1.1 1.4-3.2 1.4-2.9 1.4-1 1.4-2.1 1.4-4.4 1.4 4.7 1.4 4.4 1.4 1.2 1.4 2.5 1.4 5.1 1.4-.4 1.4 5.6 1.4-5.5 1.4-2.6 1.4-2.7 1.4-3.5 1.4-1.7 1.4-1.8 1.4-.4 1.4.8 1.4 3.5 1.4 3.5 1.4.3 1.4-1.6 1.4-1.4 1.4-1.9 1.4-4.2 1.4-.2 1.4-4.2 1.4-2.1 1.4 5.5.4-.5"/>
<path d="M53.2 88.5l1.4-.5 1.4.7 1.4 3.2 1.4.6 1.4-2.8 1.4 3.6 1.4-1.1 1.4 4.1 1.4-.9 1.4 4 1.4 1 1.4 2.2 1.4 1.7 1.4 2.3 1.4 2.2 1.4 1.6 1.4.9 1.4.7 1.4.4 1.4-3.2 1.4-2.9 1.4-1.8 1.4.3 1.4-1.4 1.4-1.5 1.4.9 1.4 1.4 1.4 1 1.4-4.3 1.4-.7 1.4-1.4 1.4-1.9 1.4-4.7 1.4-.9 1.4-2.6 1.4 2.7 1.4 3.9 1.4-2.4 1.4 4.1 1.4 4.2 1.4 3.7 1.4.2 1.4 1.5 1.4 2.6 1.4 1.4 1.4 3.5 1.4 1.5 1.4 0 1.4 0 1.4.6 1.4.5 1.4-.5 1.4.6 1.4-.9 1.4.2 1.4-3.1 1.4-2.1 1.4-3.6 1.4 0 1.4-3.2 1.4-2.7 1.4.5 1.4.4 1.4-.5 1.4.6 1.4-2.5 1.4-3.3 1.4-.1 1.4-2.1 1.4 1.9 1.4-3 1.4 1.6 1.4 2.2 1.4-2.9 1.4 2.4 1.4.3 1.4-.3 1.4 3.3 1.4 3.6 1.4 5.8 1.4-.7 1.4 2.8 1.4 1.8 1.4-1.2 1.4-3.3 1.4-.5 1.4-1.9 1.4-.4 1.4-2.8 1.4-1.2 1.4 1.4 1.4 1.9 1.4 2.2 1.4 1.2 1.4 1.4 1.4-3.4 1.4-3.1 1.4-5.7 1.4-.2 1.4-1.8 1.4-2.9 1.4 0 1.4 3.3 1.4-2 1.4-.6 1.4-1.1 1.4 6.8 1.4-4.9 1.4 1.4 1.4 2 1.4-.5 1.4-2.4 1.4 1.6 1.4-.1 1.4 3 1.4 3.4 1.4-1.1 1.4 1.7 1.4 1.6 1.4-1 1.4.9 1.4-2.7 1.4-.9 1.4-.8 1.4-.2 1.4 0 1.4-.5 1.4 1.4 1.4 2.1 1.4.8 1.4 2 1.4 1.2 1.4.8 1.4 2.1 1.4.8 1.4 1 1.4 2.1 1.4.7 1.4-4.9 1.4.2 1.4-3.7 1.4 1.2 1.4-.5 1.4.4 1.4-.4 1.4.7 1.4 1.2 1.4-.7 1.4 2.6 1.4 0 1.4-1.5 1.4-.3 1.4-2.3 1.4.6 1.4 0 1.4.4 1.4.7 1.4-1.4 1.4.7 1.4-1.4 1.4 0 1.4-1.2 1.4 1.3 1.4-.1 1.4-.2 1.4-1.3 1.4-.9 1.4-1 1.4-.2 1.4-1.3 1.4-.4 1.4-.4 1.4-1.7 1.4.9 1.4-3.9 1.4-2.8 1.4-.7 1.4-4 1.4-.8 1.4 2.6 1.4 2.3 1.4 4.1 1.4 2.4 1.4 2.5 1.4 3.9 1.4-.1 1.4-3.9 1.4-.8 1.4-6.4 1.4.8 1.4-2.1 1.4-3.4 1.4-.3 1.4.5 1.4 3.3 1.4 5.5 1.4-3.2 1.4-.8 1.4-.7 1.4-2.2 1.4-2.7 1.4-.1 1.4-3.5 1.4-2.6 1.4 5.4.4.2"/>
<path d="M53.2 88.7l1.4 4.3 1.4-2.1 1.4 1.8 1.4 1.8 1.4-2 1.4 2.2 1.4 0 1.4 1.6 1.4 1.6 1.4 1.1 1.4 1.4 1.4 2.2 1.4 1.7 1.4 2.3 1.4 2.2 1.4 1.6 1.4.9 1.4 1.5 1.4-.4 1.4-2.5 1.4-1.3 1.4-.8 1.4-1.1 1.4-.7 1.4.1 1.4-1.8 1.4 3.1 1.4-.7 1.4-2.4 1.4.4 1.4-2.6 1.4-2.6 1.4-2.8 1.4-2.5 1.4-2.2 1.4 2.7 1.4-2.8 1.4 2 1.4 1.7 1.4.5 1.4 5.6 1.4-.3 1.4.5 1.4 5.3 1.4.9 1.4 4 1.4 1.2 1.4-.3 1.4 2 1.4-.3 1.4 1.4 1.4-.3 1.4.2 1.4-.2 1.4.5 1.4-2.8 1.4-3.1 1.4-2.1 1.4-.5 1.4-3.8 1.4 1 1.4-1.1 1.4-.2 1.4.8 1.4-1.3 1.4.6 1.4-2 1.4.3 1.4-1.9 1.4.4 1.4-1.1 1.4-.7 1.4-.3 1.4-.2 1.4.2 1.4.8 1.4 1.1 1.4 1.8 1.4 4.9 1.4 3.6 1.4.2 1.4 2.3 1.4.4 1.4-1 1.4-4.8 1.4 1.8 1.4-2.7 1.4-3.9 1.4-.2 1.4-.9 1.4 2.9 1.4-2.4 1.4 1.3 1.4 2.4 1.4.1 1.4-1.7 1.4-.3 1.4-7.9 1.4-.2 1.4-5.2 1.4 2.8 1.4-2.6 1.4 1.2 1.4 3 1.4 1.8 1.4-1.4 1.4 3.2 1.4-3.8 1.4 3.7 1.4-.3 1.4-1.4 1.4-1.6 1.4 1.3 1.4-1 1.4 3.9 1.4 4.7 1.4.2 1.4.2 1.4 1 1.4.5 1.4-1.1 1.4-2.7 1.4-.5 1.4-1.4 1.4.1 1.4-.2 1.4-.7 1.4 1.6 1.4 1.9 1.4 2.3 1.4.9 1.4.8 1.4.8 1.4 2.1 1.4.8 1.4 1 1.4 2.1 1.4.7 1.4-3 1.4-1.7 1.4-1.2 1.4-.2 1.4-1.1 1.4 1.1 1.4-2.4 1.4 2.1 1.4.9 1.4.6 1.4 1.3 1.4 1 1.4-2 1.4-1.1 1.4-.9 1.4-1.9 1.4.6 1.4.1 1.4 0 1.4-.5 1.4-.2 1.4-.6 1.4.3 1.4-1.3 1.4.5 1.4.1 1.4-.7 1.4-.6 1.4-1.3 1.4-.5 1.4.5 1.4-1.7 1.4-1.3 1.4-.1 1.4 0 1.4 0 1.4-2.2 1.4-2.6 1.4-2.2 1.4-2.6 1.4-2.1 1.4 2.9 1.4 4.1 1.4 4 1.4 4.1 1.4.9 1.4 2.9 1.4 1.8 1.4-2.8 1.4-3.5 1.4-2.9 1.4-2.4 1.4-3.3 1.4-1.3 1.4-1.8 1.4 1.9 1.4 1.9 1.4 4.3 1.4-.8 1.4-1.5 1.4-1.9 1.4-1.4 1.4-4.4 1.4.1 1.4-4.1 1.4-4.4 1.4 5.7.4.9"/>
<path d="M53.2 87.7l1.4-1 1.4.4 1.4 2.7 1.4.5 1.4-3.4 1.4-.6 1.4 2.8 1.4.8 1.4 1.9 1.4-.2 1.4 3.1 1.4-1.2 1.4 6.1 1.4 0 1.4 2.8 1.4-.3 1.4 5.3 1.4.1 1.4 0 1.4-3.7 1.4-3.1 1.4 1.6 1.4-1.2 1.4-2.4 1.4 3.2 1.4-3.2 1.4 5.6 1.4-.3 1.4-4.5 1.4 2.8 1.4-2.9 1.4-5 1.4-1.7 1.4-1.2 1.4-5.4 1.4 6.6 1.4-3.7 1.4 4.6 1.4-.2 1.4 4.5 1.4 3.3 1.4-.4 1.4 1.6 1.4 2.3 1.4.8 1.4 4.8 1.4 1.8 1.4.8 1.4 1.1 1.4.6 1.4 1.4 1.4-1.2 1.4 1.4 1.4-1.6 1.4 1.3 1.4-2.7 1.4-2.6 1.4-1.8 1.4-3 1.4-1.1 1.4-3.6 1.4 3 1.4-.3 1.4 1.2 1.4-4.1 1.4-.4 1.4.4 1.4-2.2 1.4 1.2 1.4-2.4 1.4 1.5 1.4-4.5 1.4.7 1.4 2.2 1.4-3.1 1.4 3.6 1.4-.5 1.4 2.5 1.4 3.3 1.4 4.1 1.4 2.6 1.4 1.8 1.4-1.6 1.4-1.8 1.4-3.1 1.4-.6 1.4-2.8 1.4.2 1.4-3.7 1.4 1.9 1.4-1.2 1.4 2 1.4 3 1.4 3 1.4-.3 1.4-3 1.4-5.5 1.4-4.3 1.4 2.5 1.4-7.8 1.4 2.1 1.4 1.8 1.4 1.6 1.4-4.8 1.4 7.3 1.4-4.2 1.4 0 1.4 3.9 1.4-1.6 1.4 2.9 1.4-5.6 1.4 2.8 1.4-1.9 1.4-.8 1.4 2.9 1.4 7.1 1.4.2 1.4-.4 1.4.8 1.4-.3 1.4-1.4 1.4-2 1.4-1.9 1.4-.9 1.4.7 1.4 2.4 1.4-.7 1.4-.4 1.4 4.1 1.4-.7 1.4 3.2 1.4-.6 1.4 2.5 1.4 3.2 1.4.2 1.4.9 1.4 1.9 1.4 1.4 1.4-4 1.4.4 1.4-2.4 1.4-.2 1.4-2.3 1.4 2.5 1.4-.4 1.4-.5 1.4 1.7 1.4 1 1.4 2.2 1.4 0 1.4-2.2 1.4-1.1 1.4-.6 1.4-.4 1.4-.8 1.4-.6 1.4 1.7 1.4-1.4 1.4-.2 1.4-1.3 1.4-.5 1.4.9 1.4-1.2 1.4-.3 1.4.6 1.4-1.1 1.4-.8 1.4-.2 1.4-2.1 1.4.2 1.4-2.3 1.4.2 1.4-1.9 1.4-.1 1.4-3.1 1.4-1 1.4-3.9 1.4-2.6 1.4-.8 1.4.6 1.4 2.6 1.4 3.3 1.4 4.8 1.4-.7 1.4 5.9 1.4.3 1.4-.9 1.4-4.2 1.4-3.9 1.4 1.5 1.4-3.7 1.4-1.6 1.4-2.5 1.4 3 1.4 1.9 1.4 4.3 1.4-2.8 1.4.7 1.4 0 1.4-2.7 1.4-3.4 1.4-2.6 1.4-2.3 1.4-2.4 1.4 4.1.4 2.3"/>
<path d="M53.2 73.3l1.4-1.3 1.4.5 1.4 5.1 1.4 1.6 1.4-5.5 1.4.3 1.4-.2 1.4 4.8 1.4 3.6 1.4-2.8 1.4 6 1.4 1.2 1.4 4.4 1.4 3.9 1.4 3 1.4-.2 1.4 5.9 1.4-2.7 1.4 1 1.4-2.3 1.4 1.5 1.4-1.6 1.4 1.8 1.4-4.5 1.4 0 1.4.6 1.4 4 1.4 1.7 1.4-3 1.4.2 1.4-4.1 1.4-2.4 1.4.2 1.4-7.9 1.4 2.5 1.4 4.3 1.4-3 1.4 2.2 1.4 3.4 1.4 0 1.4 1 1.4 3.9 1.4-2.1 1.4 3.7 1.4 2.5 1.4 2.2 1.4 2.1 1.4 3.5 1.4 1.1 1.4 0 1.4 1.8 1.4-1.1 1.4.1 1.4-1.9 1.4.4 1.4-4.4 1.4-4.5 1.4-3.7 1.4-2.1 1.4-.7 1.4-.9 1.4 0 1.4-1.2 1.4 1.5 1.4-2.6 1.4-.9 1.4-2.1 1.4-.5 1.4-.1 1.4-.5 1.4-2.9 1.4 1.7 1.4.2 1.4-1.9 1.4 4.1 1.4 1 1.4-.9 1.4 1.5 1.4 4.3 1.4 7.5 1.4.7 1.4 1.2 1.4.3 1.4-.5 1.4-1.5 1.4-2.8 1.4-1.7 1.4 0 1.4-4.6 1.4 1.3 1.4 1 1.4 3.2 1.4 1.4 1.4 4.3 1.4-.7 1.4-3.8 1.4-2.9 1.4-4.8 1.4 1.1 1.4-5.8 1.4-2.6 1.4 3.2 1.4-1.6 1.4-.7 1.4 3.2 1.4-.4 1.4.3 1.4 3.5 1.4-3.6 1.4 3.8 1.4-4.7 1.4-1.9 1.4 3.7 1.4-1.8 1.4.7 1.4 6.8 1.4.2 1.4-1.5 1.4 1.9 1.4 1.4 1.4-3.9 1.4-1.2 1.4.4 1.4-3.7 1.4 2.1 1.4-1.5 1.4.6 1.4.9 1.4 2.1 1.4 1 1.4 2.5 1.4.5 1.4 3.2 1.4 1.4 1.4 1 1.4 1.1 1.4 1.1 1.4 2 1.4-3 1.4-1.6 1.4-1.9 1.4 1.6 1.4-.5 1.4-.2 1.4-.6 1.4 2.7 1.4 1.6 1.4.1 1.4 1.8 1.4 1.2 1.4-1.6 1.4-1.9 1.4-.4 1.4-.7 1.4.5 1.4-.1 1.4.1 1.4.7 1.4-1 1.4-1.7 1.4 1 1.4-1.2 1.4 1 1.4-.6 1.4-.4 1.4-.5 1.4-2 1.4-1.6 1.4.4 1.4-1.8 1.4-.6 1.4.4 1.4-1.7 1.4-.7 1.4-2.7 1.4-5.6 1.4-1.6 1.4-3 1.4-4 1.4 4.7 1.4-.2 1.4 6.2 1.4 4.1 1.4-2.6 1.4 2.6 1.4 2.3 1.4-2.5 1.4-.1 1.4-3.9 1.4-2.1 1.4-1.1 1.4-1.2 1.4-.8 1.4.9 1.4 3.9 1.4 3.3 1.4-.6 1.4-1.2 1.4-.2 1.4-3.8 1.4-1.8 1.4-2.3 1.4-4.3 1.4-1 1.4 5 .4-.7"/>
<path d="M53.2 86.7l1.4-2.3 1.4.5 1.4.3 1.4 7.5 1.4.2 1.4-6.1 1.4 1.5 1.4 3.1 1.4-1.8 1.4 5.8 1.4 1.1 1.4-.9 1.4 2.5 1.4 4.9 1.4 3.8 1.4-3.1 1.4 4.1 1.4 2 1.4-1.3 1.4-1.2 1.4-5.7 1.4-1.5 1.4 2.5 1.4-3.6 1.4.9 1.4-.5 1.4 2.2 1.4-2.7 1.4-1.4 1.4-.6 1.4-.5 1.4-6.6 1.4-1.3 1.4-5.7 1.4 2.3 1.4 2.4 1.4 1.6 1.4 1 1.4 2.9 1.4-1 1.4 3.4 1.4 3.6 1.4 0 1.4 4.9 1.4.6 1.4 3.3 1.4 4.6 1.4-1.6 1.4 3.1 1.4.8 1.4 1.2 1.4-1.8 1.4 1.4 1.4-1.5 1.4 1 1.4-4 1.4-2.1 1.4-2 1.4-2.3 1.4-2.5 1.4 1.2 1.4-1.1 1.4-.4 1.4.6 1.4-1.3 1.4.3 1.4-1.9 1.4 1.3 1.4-2 1.4-4.1 1.4.4 1.4-.4 1.4-2.6 1.4.5 1.4-.4 1.4 1.4 1.4.5 1.4.4 1.4 7.7 1.4 4 1.4-1.6 1.4 2.3 1.4 1 1.4-.5 1.4-6 1.4 1.2 1.4-2.1 1.4-4.2 1.4-2.5 1.4 1 1.4 3.9 1.4-2.6 1.4 2.3 1.4 4.6 1.4 1.3 1.4-5.3 1.4-.3 1.4-9.2 1.4 3.2 1.4-4.7 1.4-1.3 1.4 1.6 1.4 2 1.4-.3 1.4 4.4 1.4-1.4 1.4 1.5 1.4-.8 1.4 2.9 1.4 1.9 1.4-1.8 1.4-2.9 1.4 2.4 1.4-1 1.4 3.4 1.4 2.3 1.4 2.3 1.4-1.1 1.4 2.2 1.4 1 1.4-4 1.4.2 1.4-.6 1.4-4.1 1.4 1.5 1.4.5 1.4-3.5 1.4 3.3 1.4.2 1.4 2.4 1.4.1 1.4 1.8 1.4 2.5 1.4.4 1.4.7 1.4-.2 1.4 2.3 1.4.1 1.4-2.3 1.4-.5 1.4-1.5 1.4 0 1.4-1.1 1.4-.5 1.4.4 1.4 3 1.4.4 1.4.4 1.4 2.8 1.4.1 1.4-2.1 1.4-1.3 1.4.1 1.4-1.5 1.4 1 1.4-.5 1.4.4 1.4.5 1.4-.8 1.4-.5 1.4-.2 1.4-1.3 1.4.6 1.4-.5 1.4.1 1.4-.5 1.4-1.2 1.4-.2 1.4-1.1 1.4.2 1.4-1.6 1.4 1 1.4-3.2 1.4 1.2 1.4-2.1 1.4-4.1 1.4-1.5 1.4-4.2 1.4-1.2 1.4.4 1.4 6.4 1.4 3.8 1.4.4 1.4.5 1.4 4.9 1.4-.5 1.4-1.4 1.4-4.2 1.4-.5 1.4-3.4 1.4-2 1.4-2.1 1.4-1.3 1.4 2.2 1.4 2.1 1.4 3.2 1.4-1.8 1.4-.5 1.4-.4 1.4-3.6 1.4-3.5 1.4-.1 1.4-4.7 1.4-1.2 1.4 3.2.4 2.3"/>
<path d="M53.2 70.5l1.4 5.8 1.4 1.9 1.4-.8 1.4-2.3 1.4 4.1 1.4.6 1.4-4.5 1.4 6.4 1.4-1.5 1.4-1.3 1.4 1.9 1.4 3.6 1.4 7.1 1.4-.5 1.4 6.3 1.4 1 1.4 2.3 1.4.2 1.4-1 1.4-.8 1.4-3 1.4-.8 1.4-1.1 1.4.2 1.4-.9 1.4 1.1 1.4 2.9 1.4-.2 1.4-1.4 1.4-.5 1.4-4 1.4-1.7 1.4-4.5 1.4-4.5 1.4-.7 1.4 4.4 1.4-.7 1.4 1.4 1.4 2.4 1.4 1.8 1.4 3.4 1.4-.7 1.4 2.7 1.4 3.6 1.4 3.1 1.4 3.3 1.4 2.3 1.4 1.9 1.4 2.4 1.4 1 1.4 1.3 1.4-.7 1.4 0 1.4-.7 1.4-.9 1.4-2.8 1.4-3.4 1.4-4.6 1.4-2.4 1.4-3 1.4-.4 1.4 1.3 1.4.3 1.4-.8 1.4-1 1.4-.8 1.4-2.3 1.4.6 1.4-.6 1.4-1.1 1.4-2 1.4-1.3 1.4.8 1.4 2.2 1.4.6 1.4-1 1.4 1.5 1.4 3.4 1.4 3.1 1.4 6.3 1.4.3 1.4 2.1 1.4 1.4 1.4-3.4 1.4-2.3 1.4-1.7 1.4-4.4 1.4.5 1.4-.1 1.4-1 1.4 1.3 1.4 1.4 1.4 2.3 1.4 2.1 1.4.4 1.4-4.5 1.4-3.9 1.4-7.6 1.4 2.1 1.4-3.3 1.4.2 1.4-3.7 1.4 5.9 1.4-2.2 1.4 1.4 1.4-2.6 1.4 4.6 1.4-3.5 1.4 4.8 1.4-2.1 1.4-.1 1.4-1.1 1.4 2.9 1.4-2.1 1.4 3.2 1.4 4.2 1.4 1.5 1.4.2 1.4 0 1.4-.2 1.4-1 1.4-2.4 1.4-.9 1.4-.1 1.4-.5 1.4.2 1.4-.3 1.4 1.3 1.4 1.3 1.4 1.7 1.4 2.3 1.4 1.3 1.4 1.7 1.4 2.4 1.4.4 1.4.5 1.4 2.3 1.4.4 1.4-2.6 1.4-.7 1.4-1.5 1.4.1 1.4-1 1.4.7 1.4-.8 1.4 1.6 1.4 1.2 1.4.9 1.4 3.1 1.4 1.4 1.4-1.8 1.4-2 1.4-1.8 1.4-.5 1.4.9 1.4.6 1.4.5 1.4-.2 1.4-.5 1.4-2.2 1.4.4 1.4-.2 1.4-.8 1.4.7 1.4-1.4 1.4-.5 1.4-1 1.4-1.1 1.4.2 1.4-1.3 1.4-.5 1.4.3 1.4-1.8 1.4-1.3 1.4-1.2 1.4-4 1.4-1.9 1.4-5.1 1.4-1.8 1.4 1.9 1.4 4.1 1.4 5.2 1.4-.5 1.4 2 1.4 2.1 1.4 4.9 1.4-3.5 1.4-2.7 1.4-2 1.4-3.2 1.4-1 1.4-.8 1.4-.6 1.4-.1 1.4 2.7 1.4 3.4 1.4-2 1.4 1 1.4-2.3 1.4-.8 1.4-4.7 1.4-.1 1.4-3.3 1.4-5.3 1.4 5.6.4 1.6"/>
</g>
<path d="M267.8 103.9l1.4-.2 1.4-.3 1.4-.2 1.4-.6 1.4 0 1.4-1.3 1.4.3 1.4.4 1.4-.6 1.4.1 1.4-1.1 1.4-.2 1.4-.9 1.4-.3 1.4-.6 1.4-1.3 1.4-.4 1.4-.8 1.4-.9 1.4-1.8 1.4-2.4 1.4-2 1.4-3.8 1.4-2.4 1.4-3.6 1.4-3.1 1.4 4.8 1.4 2.9 1.4 3.8 1.4 3.8 1.4 1.9 1.4 1.4 1.4 2.2 1.4-3 1.4-2.4 1.4-3 1.4-.8 1.4-1.5 1.4-.9 1.4-.3 1.4 1.3 1.4 2.2 1.4 1.9 1.4-.9 1.4-1.4 1.4-1 1.4-1.6 1.4-3.5 1.4-2 1.4-3.2 1.4-.3 1.4 4.8 0 9.8-1.4-4.4-1.4 0-1.4 2.4-1.4 1.3-1.4 3.2-1.4.8-1.4 2.5-1.4 1.8-1.4.3-1.4-1.2-1.4-2.6-1.4-1.8-1.4.1-1.4 2.1-1.4 2.3-1.4 3.2-1.4 2-1.4 3.6-1.4 3.2-1.4-1.3-1.4-2.8-1.4-2.1-1.4-2.4-1.4-3.1-1.4-4.2-1.4-2.5-1.4 1.8-1.4 1.9-1.4.8-1.4 2.9-1.4.7-1.4 1.5-1.4 1.6-1.4 1.6-1.4-.1-1.4 1.1-1.4 0-1.4.2-1.4.4-1.4.2-1.4.3-1.4.5-1.4 1.1-1.4.8-1.4-.6-1.4.3-1.4 1.5-1.4-.1-1.4.2-1.4.1-1.4.8-1.4.7z" fill="#e0e0e0" fill-opacity="0.6" stroke="none"/>
</g>
<rect x="38.60" y="10.80" width="315.90" height="110.40" fill="none" stroke="#9a9a9a" stroke-width="0.9"/>
<line x1="38.60" y1="10.40" x2="38.60" y2="121.60" stroke="#555" stroke-width="0.9"/>
<line x1="38.20" y1="121.20" x2="354.90" y2="121.20" stroke="#555" stroke-width="0.9"/>
<line x1="36.10" y1="116.00" x2="38.60" y2="116.00" stroke="#333" stroke-width="0.6"/>
<text x="34.80" y="119.00" font-size="8.4" text-anchor="end" fill="#333" stroke="#333" stroke-width="0.06">0</text>
<line x1="36.10" y1="87.30" x2="38.60" y2="87.30" stroke="#333" stroke-width="0.6"/>
<text x="34.80" y="90.30" font-size="8.4" text-anchor="end" fill="#333" stroke="#333" stroke-width="0.06">20</text>
<line x1="36.10" y1="58.60" x2="38.60" y2="58.60" stroke="#333" stroke-width="0.6"/>
<text x="34.80" y="61.60" font-size="8.4" text-anchor="end" fill="#333" stroke="#333" stroke-width="0.06">40</text>
<line x1="36.10" y1="29.90" x2="38.60" y2="29.90" stroke="#333" stroke-width="0.6"/>
<text x="34.80" y="32.90" font-size="8.4" text-anchor="end" fill="#333" stroke="#333" stroke-width="0.06">60</text>
<line x1="53.20" y1="121.20" x2="53.20" y2="123.70" stroke="#333" stroke-width="0.6"/>
<line x1="149.00" y1="121.20" x2="149.00" y2="123.70" stroke="#333" stroke-width="0.6"/>
<line x1="244.80" y1="121.20" x2="244.80" y2="123.70" stroke="#333" stroke-width="0.6"/>
<line x1="340.60" y1="121.20" x2="340.60" y2="123.70" stroke="#333" stroke-width="0.6"/>
<text x="52.20" y="133.00" font-size="8.4" text-anchor="middle" fill="#333" stroke="#333" stroke-width="0.06">0</text>
<text x="148.00" y="133.00" font-size="8.4" text-anchor="middle" fill="#333" stroke="#333" stroke-width="0.06">100</text>
<text x="243.80" y="133.00" font-size="8.4" text-anchor="middle" fill="#333" stroke="#333" stroke-width="0.06">200</text>
<text x="329.60" y="133.00" font-size="8.4" text-anchor="start" fill="#333" stroke="#333" stroke-width="0.06">300Mb</text>
<text x="196.00" y="155.00" font-size="9.8" text-anchor="middle" fill="#000" stroke="#000" stroke-width="0.06">chr1B, reference Chinese Spring</text>
<text x="16.30" y="75.00" font-size="9.8" text-anchor="middle" fill="#000" stroke="#000" stroke-width="0.06" transform="rotate(-90 16.30 75.00)">Gene count</text>
<text x="81.20" y="25.90" font-size="8.3" text-anchor="start" fill="#000" stroke="#000" stroke-width="0.06">Accessions</text>
<line x1="144.90" y1="22.90" x2="156.00" y2="22.90" stroke="#e07a7a" stroke-width="1.2"/>
<text x="158.00" y="25.90" font-size="8.3" text-anchor="start" fill="#000" stroke="#000" stroke-width="0.06">introgression line</text>
<line x1="232.50" y1="22.90" x2="244.00" y2="22.90" stroke="#c8c8c8" stroke-width="1.2"/>
<text x="247.30" y="25.90" font-size="8.3" text-anchor="start" fill="#000" stroke="#000" stroke-width="0.06">Non-introgression line</text>
<text x="2.50" y="9.00" font-size="9" text-anchor="start" fill="#000" stroke="#000" stroke-width="0.06" font-weight="bold">a</text>
<rect x="368.80" y="10.80" width="126.30" height="110.40" fill="#fff"/>
<line x1="368.80" y1="116.00" x2="495.10" y2="116.00" stroke="#ebebeb" stroke-width="0.6"/>
<line x1="368.80" y1="87.30" x2="495.10" y2="87.30" stroke="#ebebeb" stroke-width="0.6"/>
<line x1="368.80" y1="58.60" x2="495.10" y2="58.60" stroke="#ebebeb" stroke-width="0.6"/>
<line x1="368.80" y1="29.90" x2="495.10" y2="29.90" stroke="#ebebeb" stroke-width="0.6"/>
<line x1="403.00" y1="10.80" x2="403.00" y2="121.20" stroke="#ebebeb" stroke-width="0.6"/>
<line x1="460.20" y1="10.80" x2="460.20" y2="121.20" stroke="#ebebeb" stroke-width="0.6"/>
<line x1="403.00" y1="81.60" x2="403.00" y2="93.50" stroke="#e07a7a" stroke-width="0.6"/>
<line x1="403.00" y1="104.60" x2="403.00" y2="114.80" stroke="#e07a7a" stroke-width="0.6"/>
<circle cx="403" cy="60.5" r="0.6" fill="#e8a0a0" fill-opacity="0.7"/>
<circle cx="403" cy="62" r="0.6" fill="#e8a0a0" fill-opacity="0.7"/>
<circle cx="403" cy="63.5" r="0.6" fill="#e8a0a0" fill-opacity="0.7"/>
<circle cx="403" cy="65" r="0.6" fill="#e8a0a0" fill-opacity="0.7"/>
<circle cx="403" cy="66.5" r="0.6" fill="#e8a0a0" fill-opacity="0.7"/>
<circle cx="403" cy="68" r="0.6" fill="#e8a0a0" fill-opacity="0.7"/>
<circle cx="403" cy="69.5" r="0.6" fill="#e8a0a0" fill-opacity="0.7"/>
<circle cx="403" cy="71" r="0.6" fill="#e8a0a0" fill-opacity="0.7"/>
<circle cx="403" cy="72.5" r="0.6" fill="#e8a0a0" fill-opacity="0.7"/>
<circle cx="403" cy="74" r="0.6" fill="#e8a0a0" fill-opacity="0.7"/>
<circle cx="403" cy="75.5" r="0.6" fill="#e8a0a0" fill-opacity="0.7"/>
<circle cx="403" cy="77" r="0.6" fill="#e8a0a0" fill-opacity="0.7"/>
<circle cx="403" cy="78.5" r="0.6" fill="#e8a0a0" fill-opacity="0.7"/>
<circle cx="403" cy="80" r="0.6" fill="#e8a0a0" fill-opacity="0.7"/>
<circle cx="403" cy="81.5" r="0.6" fill="#e8a0a0" fill-opacity="0.7"/>
<rect x="388.50" y="93.50" width="29.00" height="11.10" fill="#fff" stroke="#d9534f" stroke-width="0.7"/>
<line x1="388.50" y1="98.70" x2="417.50" y2="98.70" stroke="#d9534f" stroke-width="0.9"/>
<line x1="460.20" y1="96.40" x2="460.20" y2="121.00" stroke="#bbb" stroke-width="0.6"/>
<line x1="460.20" y1="54.30" x2="460.20" y2="79.00" stroke="#bbb" stroke-width="0.6"/>
<circle cx="460.2" cy="24.7" r="0.6" fill="#bbb" fill-opacity="0.8"/>
<circle cx="460.2" cy="26.1" r="0.6" fill="#bbb" fill-opacity="0.8"/>
<circle cx="460.2" cy="27.5" r="0.6" fill="#bbb" fill-opacity="0.8"/>
<circle cx="460.2" cy="28.9" r="0.6" fill="#bbb" fill-opacity="0.8"/>
<circle cx="460.2" cy="30.3" r="0.6" fill="#bbb" fill-opacity="0.8"/>
<circle cx="460.2" cy="31.7" r="0.6" fill="#bbb" fill-opacity="0.8"/>
<circle cx="460.2" cy="33.2" r="0.6" fill="#bbb" fill-opacity="0.8"/>
<circle cx="460.2" cy="34.6" r="0.6" fill="#bbb" fill-opacity="0.8"/>
<circle cx="460.2" cy="36.0" r="0.6" fill="#bbb" fill-opacity="0.8"/>
<circle cx="460.2" cy="37.4" r="0.6" fill="#bbb" fill-opacity="0.8"/>
<circle cx="460.2" cy="38.8" r="0.6" fill="#bbb" fill-opacity="0.8"/>
<circle cx="460.2" cy="40.2" r="0.6" fill="#bbb" fill-opacity="0.8"/>
<circle cx="460.2" cy="41.6" r="0.6" fill="#bbb" fill-opacity="0.8"/>
<circle cx="460.2" cy="43.0" r="0.6" fill="#bbb" fill-opacity="0.8"/>
<circle cx="460.2" cy="44.4" r="0.6" fill="#bbb" fill-opacity="0.8"/>
<circle cx="460.2" cy="45.8" r="0.6" fill="#bbb" fill-opacity="0.8"/>
<circle cx="460.2" cy="47.3" r="0.6" fill="#bbb" fill-opacity="0.8"/>
<circle cx="460.2" cy="48.7" r="0.6" fill="#bbb" fill-opacity="0.8"/>
<circle cx="460.2" cy="50.1" r="0.6" fill="#bbb" fill-opacity="0.8"/>
<circle cx="460.2" cy="51.5" r="0.6" fill="#bbb" fill-opacity="0.8"/>
<circle cx="460.2" cy="52.9" r="0.6" fill="#bbb" fill-opacity="0.8"/>
<circle cx="460.2" cy="54.3" r="0.6" fill="#bbb" fill-opacity="0.8"/>
<rect x="445.80" y="79.00" width="28.60" height="17.40" fill="#fff" stroke="#bdbdbd" stroke-width="0.7"/>
<line x1="445.80" y1="87.20" x2="474.40" y2="87.20" stroke="#999" stroke-width="0.8"/>
<line x1="403.00" y1="23.00" x2="460.20" y2="23.00" stroke="#444" stroke-width="0.6"/>
<line x1="403.00" y1="23.00" x2="403.00" y2="25.70" stroke="#444" stroke-width="0.6"/>
<line x1="460.20" y1="23.00" x2="460.20" y2="25.70" stroke="#444" stroke-width="0.6"/>
<text x="431.60" y="21.80" font-size="10" text-anchor="middle" fill="#000" stroke="#000" stroke-width="0.06">****</text>
<rect x="368.80" y="10.80" width="126.30" height="110.40" fill="none" stroke="#999" stroke-width="0.9"/>
<line x1="368.80" y1="10.40" x2="368.80" y2="121.60" stroke="#777" stroke-width="0.9"/>
<line x1="368.40" y1="121.20" x2="495.50" y2="121.20" stroke="#777" stroke-width="0.9"/>
<line x1="366.30" y1="116.00" x2="368.80" y2="116.00" stroke="#333" stroke-width="0.6"/>
<line x1="366.30" y1="87.30" x2="368.80" y2="87.30" stroke="#333" stroke-width="0.6"/>
<line x1="366.30" y1="58.60" x2="368.80" y2="58.60" stroke="#333" stroke-width="0.6"/>
<line x1="366.30" y1="29.90" x2="368.80" y2="29.90" stroke="#333" stroke-width="0.6"/>
<line x1="403.00" y1="121.20" x2="403.00" y2="123.70" stroke="#333" stroke-width="0.6"/>
<line x1="460.20" y1="121.20" x2="460.20" y2="123.70" stroke="#333" stroke-width="0.6"/>
<text x="406.50" y="132.60" font-size="9.8" text-anchor="end" fill="#000" stroke="#000" stroke-width="0.06" transform="rotate(-30 406.50 132.60)">Introgression</text>
<text x="463.50" y="135.20" font-size="9.8" text-anchor="end" fill="#000" stroke="#000" stroke-width="0.06" transform="rotate(-30 463.50 135.20)">Non−introgression</text>
<rect x="556.30" y="10.20" width="113.90" height="110.80" fill="#fff"/>
<line x1="556.30" y1="116.30" x2="670.20" y2="116.30" stroke="#ebebeb" stroke-width="0.6"/>
<line x1="561.30" y1="10.20" x2="561.30" y2="121.00" stroke="#ebebeb" stroke-width="0.6"/>
<line x1="556.30" y1="92.50" x2="670.20" y2="92.50" stroke="#ebebeb" stroke-width="0.6"/>
<line x1="585.90" y1="10.20" x2="585.90" y2="121.00" stroke="#ebebeb" stroke-width="0.6"/>
<line x1="556.30" y1="68.70" x2="670.20" y2="68.70" stroke="#ebebeb" stroke-width="0.6"/>
<line x1="610.50" y1="10.20" x2="610.50" y2="121.00" stroke="#ebebeb" stroke-width="0.6"/>
<line x1="556.30" y1="44.90" x2="670.20" y2="44.90" stroke="#ebebeb" stroke-width="0.6"/>
<line x1="635.10" y1="10.20" x2="635.10" y2="121.00" stroke="#ebebeb" stroke-width="0.6"/>
<line x1="556.30" y1="21.10" x2="670.20" y2="21.10" stroke="#ebebeb" stroke-width="0.6"/>
<line x1="659.70" y1="10.20" x2="659.70" y2="121.00" stroke="#ebebeb" stroke-width="0.6"/>
<g clip-path="url(#cb)">
<g fill="#000" fill-opacity="0.3">
<circle cx="567.3" cy="110.8" r="2.1"/>
<circle cx="567.6" cy="114.1" r="2.1"/>
<circle cx="568.4" cy="114.9" r="2.1"/>
<circle cx="568.5" cy="115.4" r="2.1"/>
<circle cx="571.1" cy="116.0" r="2.1"/>
<circle cx="564.6" cy="115.2" r="2.1"/>
<circle cx="561.8" cy="114.8" r="2.1"/>
<circle cx="561.5" cy="112.6" r="2.1"/>
<circle cx="580.5" cy="112.6" r="2.1"/>
<circle cx="570.8" cy="115.5" r="2.1"/>
<circle cx="562.5" cy="113.1" r="2.1"/>
<circle cx="561.6" cy="116.0" r="2.1"/>
<circle cx="562.9" cy="116.3" r="2.1"/>
<circle cx="567.5" cy="115.7" r="2.1"/>
<circle cx="567.1" cy="114.6" r="2.1"/>
<circle cx="571.4" cy="113.7" r="2.1"/>
<circle cx="568.3" cy="114.8" r="2.1"/>
<circle cx="564.2" cy="113.8" r="2.1"/>
<circle cx="580.9" cy="111.3" r="2.1"/>
<circle cx="573.0" cy="116.2" r="2.1"/>
<circle cx="564.8" cy="116.0" r="2.1"/>
<circle cx="561.7" cy="114.2" r="2.1"/>
<circle cx="574.5" cy="112.2" r="2.1"/>
<circle cx="566.0" cy="113.3" r="2.1"/>
<circle cx="579.8" cy="116.3" r="2.1"/>
<circle cx="563.2" cy="116.2" r="2.1"/>
<circle cx="578.4" cy="109.1" r="2.1"/>
<circle cx="566.2" cy="114.9" r="2.1"/>
<circle cx="561.7" cy="113.2" r="2.1"/>
<circle cx="564.1" cy="113.0" r="2.1"/>
<circle cx="561.8" cy="113.0" r="2.1"/>
<circle cx="574.3" cy="110.4" r="2.1"/>
<circle cx="562.1" cy="116.3" r="2.1"/>
<circle cx="561.6" cy="115.1" r="2.1"/>
<circle cx="575.3" cy="114.8" r="2.1"/>
<circle cx="567.2" cy="113.3" r="2.1"/>
<circle cx="562.9" cy="116.1" r="2.1"/>
<circle cx="571.5" cy="114.9" r="2.1"/>
<circle cx="562.1" cy="114.7" r="2.1"/>
<circle cx="564.1" cy="115.4" r="2.1"/>
<circle cx="580.1" cy="115.6" r="2.1"/>
<circle cx="577.7" cy="114.2" r="2.1"/>
<circle cx="563.2" cy="112.3" r="2.1"/>
<circle cx="571.4" cy="113.1" r="2.1"/>
<circle cx="561.9" cy="114.5" r="2.1"/>
<circle cx="563.9" cy="116.2" r="2.1"/>
<circle cx="574.7" cy="115.3" r="2.1"/>
<circle cx="561.7" cy="114.4" r="2.1"/>
<circle cx="561.8" cy="114.6" r="2.1"/>
<circle cx="570.5" cy="115.3" r="2.1"/>
<circle cx="565.8" cy="110.0" r="2.1"/>
<circle cx="567.9" cy="114.4" r="2.1"/>
<circle cx="569.9" cy="115.2" r="2.1"/>
<circle cx="562.5" cy="115.1" r="2.1"/>
<circle cx="578.3" cy="115.5" r="2.1"/>
<circle cx="562.9" cy="114.5" r="2.1"/>
<circle cx="573.8" cy="114.7" r="2.1"/>
<circle cx="579.5" cy="115.7" r="2.1"/>
<circle cx="577.6" cy="114.1" r="2.1"/>
<circle cx="562.0" cy="114.6" r="2.1"/>
<circle cx="561.4" cy="114.4" r="2.1"/>
<circle cx="572.9" cy="115.9" r="2.1"/>
<circle cx="563.9" cy="114.7" r="2.1"/>
<circle cx="564.4" cy="113.1" r="2.1"/>
<circle cx="562.7" cy="116.1" r="2.1"/>
<circle cx="563.4" cy="115.3" r="2.1"/>
<circle cx="569.5" cy="114.1" r="2.1"/>
<circle cx="564.2" cy="113.4" r="2.1"/>
<circle cx="578.6" cy="116.2" r="2.1"/>
<circle cx="564.0" cy="115.8" r="2.1"/>
<circle cx="567.2" cy="114.8" r="2.1"/>
<circle cx="565.7" cy="115.7" r="2.1"/>
<circle cx="569.8" cy="114.6" r="2.1"/>
<circle cx="577.8" cy="114.5" r="2.1"/>
<circle cx="580.4" cy="114.1" r="2.1"/>
<circle cx="570.1" cy="113.0" r="2.1"/>
<circle cx="562.3" cy="115.8" r="2.1"/>
<circle cx="578.4" cy="116.2" r="2.1"/>
<circle cx="572.8" cy="115.8" r="2.1"/>
<circle cx="571.3" cy="116.2" r="2.1"/>
<circle cx="567.9" cy="116.0" r="2.1"/>
<circle cx="581.0" cy="114.0" r="2.1"/>
<circle cx="561.7" cy="112.2" r="2.1"/>
<circle cx="578.1" cy="115.1" r="2.1"/>
<circle cx="573.8" cy="115.0" r="2.1"/>
<circle cx="578.5" cy="111.8" r="2.1"/>
<circle cx="565.4" cy="114.1" r="2.1"/>
<circle cx="577.3" cy="111.1" r="2.1"/>
<circle cx="566.6" cy="115.0" r="2.1"/>
<circle cx="569.8" cy="111.2" r="2.1"/>
<circle cx="571.0" cy="113.7" r="2.1"/>
<circle cx="570.6" cy="114.0" r="2.1"/>
<circle cx="561.7" cy="111.0" r="2.1"/>
<circle cx="577.5" cy="109.9" r="2.1"/>
<circle cx="573.5" cy="113.0" r="2.1"/>
<circle cx="570.0" cy="113.5" r="2.1"/>
<circle cx="567.1" cy="115.7" r="2.1"/>
<circle cx="574.1" cy="115.4" r="2.1"/>
<circle cx="561.4" cy="113.9" r="2.1"/>
<circle cx="563.5" cy="114.5" r="2.1"/>
<circle cx="572.8" cy="112.7" r="2.1"/>
<circle cx="578.7" cy="116.2" r="2.1"/>
<circle cx="563.8" cy="114.1" r="2.1"/>
<circle cx="572.3" cy="116.1" r="2.1"/>
<circle cx="563.1" cy="113.5" r="2.1"/>
<circle cx="571.9" cy="111.3" r="2.1"/>
<circle cx="567.1" cy="114.5" r="2.1"/>
<circle cx="572.0" cy="114.8" r="2.1"/>
<circle cx="563.0" cy="112.0" r="2.1"/>
<circle cx="578.5" cy="114.3" r="2.1"/>
<circle cx="577.6" cy="113.7" r="2.1"/>
<circle cx="564.8" cy="114.0" r="2.1"/>
<circle cx="562.3" cy="111.3" r="2.1"/>
<circle cx="576.7" cy="116.2" r="2.1"/>
<circle cx="573.1" cy="114.3" r="2.1"/>
<circle cx="562.7" cy="115.6" r="2.1"/>
<circle cx="567.3" cy="116.0" r="2.1"/>
<circle cx="566.5" cy="114.5" r="2.1"/>
<circle cx="571.0" cy="114.0" r="2.1"/>
<circle cx="576.4" cy="116.2" r="2.1"/>
<circle cx="580.5" cy="115.3" r="2.1"/>
<circle cx="561.4" cy="116.0" r="2.1"/>
<circle cx="577.3" cy="112.3" r="2.1"/>
<circle cx="569.8" cy="115.2" r="2.1"/>
<circle cx="564.7" cy="116.2" r="2.1"/>
<circle cx="562.3" cy="115.8" r="2.1"/>
<circle cx="567.3" cy="111.4" r="2.1"/>
<circle cx="563.6" cy="115.5" r="2.1"/>
<circle cx="562.3" cy="112.8" r="2.1"/>
<circle cx="567.2" cy="115.2" r="2.1"/>
<circle cx="571.1" cy="113.6" r="2.1"/>
<circle cx="579.8" cy="112.4" r="2.1"/>
<circle cx="572.4" cy="115.4" r="2.1"/>
<circle cx="562.8" cy="113.5" r="2.1"/>
<circle cx="561.3" cy="112.2" r="2.1"/>
<circle cx="562.8" cy="115.6" r="2.1"/>
<circle cx="564.1" cy="114.0" r="2.1"/>
<circle cx="568.7" cy="113.0" r="2.1"/>
<circle cx="570.8" cy="116.2" r="2.1"/>
<circle cx="575.2" cy="113.7" r="2.1"/>
<circle cx="578.3" cy="111.1" r="2.1"/>
<circle cx="573.4" cy="113.1" r="2.1"/>
<circle cx="562.2" cy="112.8" r="2.1"/>
<circle cx="578.4" cy="115.2" r="2.1"/>
<circle cx="565.9" cy="111.4" r="2.1"/>
<circle cx="575.3" cy="114.0" r="2.1"/>
<circle cx="579.4" cy="112.6" r="2.1"/>
<circle cx="563.1" cy="115.4" r="2.1"/>
<circle cx="573.4" cy="114.7" r="2.1"/>
<circle cx="573.3" cy="112.9" r="2.1"/>
<circle cx="563.2" cy="110.4" r="2.1"/>
<circle cx="580.3" cy="112.0" r="2.1"/>
<circle cx="569.0" cy="115.7" r="2.1"/>
<circle cx="578.4" cy="114.1" r="2.1"/>
<circle cx="576.9" cy="115.7" r="2.1"/>
<circle cx="567.1" cy="115.4" r="2.1"/>
<circle cx="569.3" cy="116.0" r="2.1"/>
<circle cx="561.4" cy="113.3" r="2.1"/>
<circle cx="575.6" cy="112.0" r="2.1"/>
<circle cx="562.7" cy="114.5" r="2.1"/>
<circle cx="565.1" cy="116.0" r="2.1"/>
<circle cx="562.4" cy="114.9" r="2.1"/>
<circle cx="568.6" cy="115.5" r="2.1"/>
<circle cx="572.6" cy="111.4" r="2.1"/>
<circle cx="579.4" cy="109.9" r="2.1"/>
<circle cx="561.8" cy="116.0" r="2.1"/>
<circle cx="563.4" cy="114.2" r="2.1"/>
<circle cx="573.5" cy="115.9" r="2.1"/>
<circle cx="571.3" cy="111.3" r="2.1"/>
<circle cx="569.5" cy="115.6" r="2.1"/>
<circle cx="564.8" cy="107.6" r="2.1"/>
<circle cx="575.3" cy="99.7" r="2.1"/>
<circle cx="576.6" cy="96.7" r="2.1"/>
<circle cx="563.3" cy="110.1" r="2.1"/>
<circle cx="569.6" cy="107.3" r="2.1"/>
<circle cx="568.1" cy="104.5" r="2.1"/>
<circle cx="568.9" cy="103.5" r="2.1"/>
<circle cx="561.8" cy="112.3" r="2.1"/>
<circle cx="576.4" cy="97.8" r="2.1"/>
<circle cx="567.3" cy="109.4" r="2.1"/>
<circle cx="573.6" cy="97.8" r="2.1"/>
<circle cx="564.9" cy="110.7" r="2.1"/>
<circle cx="575.8" cy="100.4" r="2.1"/>
<circle cx="561.4" cy="115.4" r="2.1"/>
<circle cx="571.1" cy="104.9" r="2.1"/>
<circle cx="569.9" cy="106.4" r="2.1"/>
<circle cx="562.3" cy="113.2" r="2.1"/>
<circle cx="563.2" cy="110.7" r="2.1"/>
<circle cx="565.8" cy="108.4" r="2.1"/>
<circle cx="562.8" cy="112.6" r="2.1"/>
<circle cx="570.2" cy="100.5" r="2.1"/>
<circle cx="569.7" cy="105.0" r="2.1"/>
<circle cx="572.1" cy="94.4" r="2.1"/>
<circle cx="564.9" cy="108.0" r="2.1"/>
<circle cx="563.5" cy="100.5" r="2.1"/>
<circle cx="562.5" cy="112.1" r="2.1"/>
<circle cx="564.1" cy="111.9" r="2.1"/>
<circle cx="566.5" cy="109.7" r="2.1"/>
<circle cx="566.2" cy="111.4" r="2.1"/>
<circle cx="563.3" cy="104.6" r="2.1"/>
<circle cx="576.6" cy="100.3" r="2.1"/>
<circle cx="572.5" cy="100.0" r="2.1"/>
<circle cx="563.1" cy="114.4" r="2.1"/>
<circle cx="561.5" cy="111.6" r="2.1"/>
<circle cx="569.0" cy="108.4" r="2.1"/>
<circle cx="563.3" cy="101.4" r="2.1"/>
<circle cx="575.8" cy="102.2" r="2.1"/>
<circle cx="576.3" cy="96.1" r="2.1"/>
<circle cx="565.0" cy="108.8" r="2.1"/>
<circle cx="566.6" cy="111.0" r="2.1"/>
<circle cx="571.4" cy="104.2" r="2.1"/>
<circle cx="567.0" cy="106.1" r="2.1"/>
<circle cx="563.2" cy="112.9" r="2.1"/>
<circle cx="561.4" cy="105.1" r="2.1"/>
<circle cx="571.4" cy="98.1" r="2.1"/>
<circle cx="566.2" cy="106.7" r="2.1"/>
<circle cx="576.9" cy="97.9" r="2.1"/>
<circle cx="575.5" cy="93.5" r="2.1"/>
<circle cx="573.5" cy="98.5" r="2.1"/>
<circle cx="574.8" cy="94.8" r="2.1"/>
<circle cx="572.6" cy="100.6" r="2.1"/>
<circle cx="561.8" cy="113.1" r="2.1"/>
<circle cx="561.3" cy="112.5" r="2.1"/>
<circle cx="570.0" cy="104.1" r="2.1"/>
<circle cx="570.7" cy="103.5" r="2.1"/>
<circle cx="569.0" cy="105.5" r="2.1"/>
<circle cx="577.3" cy="93.7" r="2.1"/>
<circle cx="572.5" cy="105.1" r="2.1"/>
<circle cx="569.8" cy="105.1" r="2.1"/>
<circle cx="566.2" cy="111.3" r="2.1"/>
<circle cx="580.6" cy="111.4" r="2.1"/>
<circle cx="591.3" cy="109.1" r="2.1"/>
<circle cx="573.3" cy="110.3" r="2.1"/>
<circle cx="580.2" cy="103.6" r="2.1"/>
<circle cx="575.9" cy="112.5" r="2.1"/>
<circle cx="569.8" cy="113.0" r="2.1"/>
<circle cx="601.3" cy="99.0" r="2.1"/>
<circle cx="574.5" cy="109.7" r="2.1"/>
<circle cx="583.9" cy="109.4" r="2.1"/>
<circle cx="602.6" cy="113.1" r="2.1"/>
<circle cx="580.0" cy="106.8" r="2.1"/>
<circle cx="576.0" cy="112.9" r="2.1"/>
<circle cx="588.0" cy="113.0" r="2.1"/>
<circle cx="580.5" cy="113.6" r="2.1"/>
<circle cx="569.9" cy="110.4" r="2.1"/>
<circle cx="613.3" cy="82.8" r="2.1"/>
<circle cx="604.0" cy="86.0" r="2.1"/>
<circle cx="570.0" cy="113.1" r="2.1"/>
<circle cx="574.8" cy="115.3" r="2.1"/>
<circle cx="577.2" cy="109.3" r="2.1"/>
<circle cx="600.0" cy="97.0" r="2.1"/>
<circle cx="580.2" cy="105.0" r="2.1"/>
<circle cx="611.1" cy="79.5" r="2.1"/>
<circle cx="588.2" cy="107.8" r="2.1"/>
<circle cx="570.3" cy="115.1" r="2.1"/>
<circle cx="575.1" cy="109.1" r="2.1"/>
<circle cx="585.6" cy="107.8" r="2.1"/>
<circle cx="622.8" cy="75.5" r="2.1"/>
<circle cx="611.9" cy="103.9" r="2.1"/>
<circle cx="580.6" cy="109.1" r="2.1"/>
<circle cx="569.2" cy="112.0" r="2.1"/>
<circle cx="590.4" cy="104.7" r="2.1"/>
<circle cx="591.1" cy="102.6" r="2.1"/>
<circle cx="578.2" cy="111.9" r="2.1"/>
<circle cx="585.1" cy="114.1" r="2.1"/>
<circle cx="576.9" cy="102.7" r="2.1"/>
<circle cx="580.4" cy="101.6" r="2.1"/>
<circle cx="578.6" cy="104.7" r="2.1"/>
<circle cx="572.7" cy="116.3" r="2.1"/>
<circle cx="570.2" cy="114.2" r="2.1"/>
<circle cx="588.1" cy="108.0" r="2.1"/>
<circle cx="569.9" cy="111.9" r="2.1"/>
<circle cx="571.1" cy="114.3" r="2.1"/>
<circle cx="566.7" cy="113.4" r="2.1"/>
<circle cx="566.5" cy="113.2" r="2.1"/>
<circle cx="577.7" cy="107.4" r="2.1"/>
<circle cx="602.3" cy="96.6" r="2.1"/>
<circle cx="573.7" cy="112.0" r="2.1"/>
<circle cx="581.8" cy="110.7" r="2.1"/>
<circle cx="581.0" cy="107.4" r="2.1"/>
<circle cx="595.7" cy="113.6" r="2.1"/>
<circle cx="571.1" cy="114.1" r="2.1"/>
<circle cx="573.0" cy="109.0" r="2.1"/>
<circle cx="600.6" cy="109.2" r="2.1"/>
<circle cx="570.2" cy="111.0" r="2.1"/>
<circle cx="580.0" cy="108.3" r="2.1"/>
<circle cx="588.1" cy="111.8" r="2.1"/>
<circle cx="614.7" cy="101.1" r="2.1"/>
<circle cx="575.8" cy="104.4" r="2.1"/>
<circle cx="595.5" cy="95.0" r="2.1"/>
<circle cx="574.4" cy="114.1" r="2.1"/>
<circle cx="586.9" cy="106.7" r="2.1"/>
<circle cx="584.5" cy="108.3" r="2.1"/>
<circle cx="585.2" cy="99.1" r="2.1"/>
<circle cx="589.4" cy="102.2" r="2.1"/>
<circle cx="578.5" cy="108.7" r="2.1"/>
<circle cx="604.6" cy="83.9" r="2.1"/>
<circle cx="586.0" cy="114.0" r="2.1"/>
<circle cx="578.0" cy="105.0" r="2.1"/>
<circle cx="582.4" cy="111.5" r="2.1"/>
<circle cx="570.8" cy="113.3" r="2.1"/>
<circle cx="578.7" cy="110.6" r="2.1"/>
<circle cx="567.9" cy="114.1" r="2.1"/>
<circle cx="577.6" cy="113.6" r="2.1"/>
<circle cx="574.5" cy="114.5" r="2.1"/>
<circle cx="599.9" cy="95.5" r="2.1"/>
<circle cx="578.1" cy="109.4" r="2.1"/>
<circle cx="610.0" cy="92.3" r="2.1"/>
<circle cx="577.8" cy="108.6" r="2.1"/>
<circle cx="587.3" cy="112.1" r="2.1"/>
<circle cx="577.3" cy="112.3" r="2.1"/>
<circle cx="574.8" cy="109.6" r="2.1"/>
<circle cx="585.9" cy="102.3" r="2.1"/>
<circle cx="608.9" cy="100.6" r="2.1"/>
<circle cx="591.9" cy="109.4" r="2.1"/>
<circle cx="575.6" cy="112.6" r="2.1"/>
<circle cx="591.2" cy="95.5" r="2.1"/>
<circle cx="567.1" cy="113.1" r="2.1"/>
<circle cx="569.8" cy="110.2" r="2.1"/>
<circle cx="568.4" cy="111.6" r="2.1"/>
<circle cx="570.4" cy="112.1" r="2.1"/>
<circle cx="617.4" cy="107.5" r="2.1"/>
<circle cx="585.4" cy="97.1" r="2.1"/>
<circle cx="581.3" cy="100.4" r="2.1"/>
<circle cx="606.1" cy="105.6" r="2.1"/>
<circle cx="584.1" cy="98.7" r="2.1"/>
<circle cx="594.9" cy="102.5" r="2.1"/>
<circle cx="580.8" cy="107.0" r="2.1"/>
<circle cx="573.2" cy="111.9" r="2.1"/>
<circle cx="580.9" cy="101.7" r="2.1"/>
<circle cx="581.3" cy="103.1" r="2.1"/>
<circle cx="606.4" cy="85.6" r="2.1"/>
<circle cx="578.7" cy="107.2" r="2.1"/>
<circle cx="568.4" cy="111.9" r="2.1"/>
<circle cx="588.1" cy="104.7" r="2.1"/>
<circle cx="572.6" cy="112.3" r="2.1"/>
<circle cx="577.5" cy="115.5" r="2.1"/>
<circle cx="596.5" cy="110.1" r="2.1"/>
<circle cx="593.6" cy="91.8" r="2.1"/>
<circle cx="578.8" cy="110.0" r="2.1"/>
<circle cx="573.2" cy="111.9" r="2.1"/>
<circle cx="572.7" cy="109.1" r="2.1"/>
<circle cx="569.4" cy="115.6" r="2.1"/>
<circle cx="578.7" cy="114.3" r="2.1"/>
<circle cx="573.9" cy="108.7" r="2.1"/>
<circle cx="593.2" cy="99.1" r="2.1"/>
<circle cx="572.2" cy="110.4" r="2.1"/>
<circle cx="597.3" cy="116.0" r="2.1"/>
<circle cx="585.6" cy="105.7" r="2.1"/>
<circle cx="579.5" cy="112.4" r="2.1"/>
<circle cx="573.0" cy="110.2" r="2.1"/>
<circle cx="604.3" cy="100.1" r="2.1"/>
<circle cx="586.6" cy="105.5" r="2.1"/>
<circle cx="607.3" cy="99.8" r="2.1"/>
<circle cx="611.0" cy="94.2" r="2.1"/>
<circle cx="579.0" cy="104.8" r="2.1"/>
<circle cx="599.8" cy="84.7" r="2.1"/>
<circle cx="596.4" cy="103.1" r="2.1"/>
<circle cx="593.5" cy="88.1" r="2.1"/>
<circle cx="577.3" cy="107.5" r="2.1"/>
<circle cx="611.6" cy="104.2" r="2.1"/>
<circle cx="598.5" cy="107.8" r="2.1"/>
<circle cx="589.4" cy="97.0" r="2.1"/>
<circle cx="580.2" cy="113.7" r="2.1"/>
<circle cx="574.5" cy="106.1" r="2.1"/>
<circle cx="595.4" cy="112.6" r="2.1"/>
<circle cx="583.3" cy="114.2" r="2.1"/>
<circle cx="578.2" cy="115.8" r="2.1"/>
<circle cx="610.3" cy="107.7" r="2.1"/>
<circle cx="599.6" cy="94.8" r="2.1"/>
<circle cx="595.4" cy="100.9" r="2.1"/>
<circle cx="570.6" cy="111.7" r="2.1"/>
<circle cx="571.1" cy="108.1" r="2.1"/>
<circle cx="581.7" cy="102.8" r="2.1"/>
<circle cx="578.6" cy="113.0" r="2.1"/>
<circle cx="575.0" cy="106.7" r="2.1"/>
<circle cx="573.8" cy="110.8" r="2.1"/>
<circle cx="592.5" cy="93.8" r="2.1"/>
<circle cx="598.2" cy="93.5" r="2.1"/>
<circle cx="591.5" cy="105.0" r="2.1"/>
<circle cx="591.0" cy="108.2" r="2.1"/>
<circle cx="602.9" cy="88.6" r="2.1"/>
<circle cx="585.5" cy="104.4" r="2.1"/>
<circle cx="627.7" cy="96.0" r="2.1"/>
<circle cx="577.1" cy="115.4" r="2.1"/>
<circle cx="575.8" cy="106.6" r="2.1"/>
<circle cx="580.2" cy="115.9" r="2.1"/>
<circle cx="571.5" cy="113.2" r="2.1"/>
<circle cx="569.8" cy="112.5" r="2.1"/>
<circle cx="582.8" cy="110.6" r="2.1"/>
<circle cx="591.6" cy="111.9" r="2.1"/>
<circle cx="571.9" cy="114.0" r="2.1"/>
<circle cx="578.2" cy="112.4" r="2.1"/>
<circle cx="581.9" cy="105.0" r="2.1"/>
<circle cx="575.6" cy="110.0" r="2.1"/>
<circle cx="597.0" cy="93.7" r="2.1"/>
<circle cx="582.3" cy="104.9" r="2.1"/>
<circle cx="596.6" cy="100.8" r="2.1"/>
<circle cx="615.3" cy="75.0" r="2.1"/>
<circle cx="570.4" cy="113.9" r="2.1"/>
<circle cx="574.5" cy="108.3" r="2.1"/>
<circle cx="578.4" cy="106.5" r="2.1"/>
<circle cx="594.9" cy="105.5" r="2.1"/>
<circle cx="580.4" cy="102.7" r="2.1"/>
<circle cx="594.8" cy="103.5" r="2.1"/>
<circle cx="584.4" cy="98.8" r="2.1"/>
<circle cx="587.6" cy="105.6" r="2.1"/>
<circle cx="570.4" cy="111.9" r="2.1"/>
<circle cx="569.0" cy="112.9" r="2.1"/>
<circle cx="571.0" cy="114.4" r="2.1"/>
<circle cx="592.2" cy="96.3" r="2.1"/>
<circle cx="571.3" cy="110.8" r="2.1"/>
<circle cx="585.4" cy="99.6" r="2.1"/>
<circle cx="577.8" cy="110.9" r="2.1"/>
<circle cx="579.9" cy="108.9" r="2.1"/>
<circle cx="581.5" cy="111.5" r="2.1"/>
<circle cx="575.4" cy="109.3" r="2.1"/>
<circle cx="566.2" cy="113.2" r="2.1"/>
<circle cx="590.8" cy="94.5" r="2.1"/>
<circle cx="576.8" cy="109.2" r="2.1"/>
<circle cx="597.3" cy="110.8" r="2.1"/>
<circle cx="594.3" cy="88.3" r="2.1"/>
<circle cx="604.8" cy="115.1" r="2.1"/>
<circle cx="569.9" cy="112.1" r="2.1"/>
<circle cx="583.0" cy="113.2" r="2.1"/>
<circle cx="588.4" cy="110.6" r="2.1"/>
<circle cx="567.9" cy="114.6" r="2.1"/>
<circle cx="590.5" cy="103.4" r="2.1"/>
<circle cx="586.9" cy="101.5" r="2.1"/>
<circle cx="585.0" cy="104.0" r="2.1"/>
<circle cx="602.2" cy="109.1" r="2.1"/>
<circle cx="592.6" cy="97.6" r="2.1"/>
<circle cx="571.0" cy="111.1" r="2.1"/>
<circle cx="572.7" cy="107.0" r="2.1"/>
<circle cx="575.0" cy="106.3" r="2.1"/>
<circle cx="590.3" cy="109.6" r="2.1"/>
<circle cx="624.0" cy="67.1" r="2.1"/>
<circle cx="576.2" cy="112.0" r="2.1"/>
<circle cx="577.3" cy="105.4" r="2.1"/>
<circle cx="623.2" cy="88.4" r="2.1"/>
<circle cx="576.4" cy="112.2" r="2.1"/>
<circle cx="586.2" cy="98.7" r="2.1"/>
<circle cx="570.9" cy="113.7" r="2.1"/>
<circle cx="569.3" cy="113.3" r="2.1"/>
<circle cx="609.1" cy="102.2" r="2.1"/>
<circle cx="579.8" cy="111.0" r="2.1"/>
<circle cx="570.0" cy="112.4" r="2.1"/>
<circle cx="577.8" cy="106.7" r="2.1"/>
<circle cx="597.8" cy="87.7" r="2.1"/>
<circle cx="571.3" cy="115.9" r="2.1"/>
<circle cx="590.2" cy="111.9" r="2.1"/>
<circle cx="607.0" cy="88.9" r="2.1"/>
<circle cx="583.8" cy="111.5" r="2.1"/>
<circle cx="579.0" cy="106.9" r="2.1"/>
<circle cx="575.5" cy="112.9" r="2.1"/>
<circle cx="587.9" cy="107.3" r="2.1"/>
<circle cx="572.2" cy="114.4" r="2.1"/>
<circle cx="585.9" cy="108.7" r="2.1"/>
<circle cx="608.0" cy="87.5" r="2.1"/>
<circle cx="572.2" cy="110.7" r="2.1"/>
<circle cx="569.8" cy="112.3" r="2.1"/>
<circle cx="571.7" cy="113.2" r="2.1"/>
<circle cx="575.2" cy="108.3" r="2.1"/>
<circle cx="589.5" cy="97.6" r="2.1"/>
<circle cx="574.1" cy="105.5" r="2.1"/>
<circle cx="573.5" cy="113.2" r="2.1"/>
<circle cx="584.3" cy="109.7" r="2.1"/>
<circle cx="592.6" cy="99.2" r="2.1"/>
<circle cx="582.2" cy="107.6" r="2.1"/>
<circle cx="577.4" cy="107.6" r="2.1"/>
<circle cx="570.8" cy="113.0" r="2.1"/>
<circle cx="586.6" cy="115.8" r="2.1"/>
<circle cx="593.6" cy="111.4" r="2.1"/>
<circle cx="583.3" cy="99.3" r="2.1"/>
<circle cx="586.1" cy="104.2" r="2.1"/>
<circle cx="577.5" cy="105.8" r="2.1"/>
<circle cx="618.1" cy="92.1" r="2.1"/>
<circle cx="575.9" cy="115.0" r="2.1"/>
<circle cx="592.1" cy="105.4" r="2.1"/>
<circle cx="573.9" cy="109.4" r="2.1"/>
<circle cx="626.9" cy="77.0" r="2.1"/>
<circle cx="594.1" cy="89.7" r="2.1"/>
<circle cx="595.2" cy="93.5" r="2.1"/>
<circle cx="574.0" cy="108.0" r="2.1"/>
<circle cx="579.0" cy="101.9" r="2.1"/>
<circle cx="587.7" cy="105.6" r="2.1"/>
<circle cx="579.8" cy="105.7" r="2.1"/>
<circle cx="582.9" cy="104.7" r="2.1"/>
<circle cx="588.0" cy="97.6" r="2.1"/>
<circle cx="576.9" cy="109.9" r="2.1"/>
<circle cx="599.7" cy="100.3" r="2.1"/>
<circle cx="569.7" cy="109.7" r="2.1"/>
<circle cx="589.8" cy="108.5" r="2.1"/>
<circle cx="568.6" cy="110.8" r="2.1"/>
<circle cx="584.4" cy="103.4" r="2.1"/>
<circle cx="571.6" cy="113.7" r="2.1"/>
<circle cx="581.5" cy="112.7" r="2.1"/>
<circle cx="580.2" cy="109.9" r="2.1"/>
<circle cx="577.9" cy="108.0" r="2.1"/>
<circle cx="581.6" cy="107.0" r="2.1"/>
<circle cx="595.3" cy="96.2" r="2.1"/>
<circle cx="587.9" cy="94.6" r="2.1"/>
<circle cx="606.5" cy="90.2" r="2.1"/>
<circle cx="574.3" cy="115.8" r="2.1"/>
<circle cx="581.2" cy="108.0" r="2.1"/>
<circle cx="576.1" cy="111.4" r="2.1"/>
<circle cx="576.9" cy="105.6" r="2.1"/>
<circle cx="577.4" cy="111.0" r="2.1"/>
<circle cx="587.4" cy="101.2" r="2.1"/>
<circle cx="569.9" cy="110.3" r="2.1"/>
<circle cx="587.8" cy="99.7" r="2.1"/>
<circle cx="628.5" cy="107.3" r="2.1"/>
<circle cx="576.6" cy="104.3" r="2.1"/>
<circle cx="599.0" cy="98.7" r="2.1"/>
<circle cx="589.6" cy="101.6" r="2.1"/>
<circle cx="579.3" cy="104.9" r="2.1"/>
<circle cx="599.7" cy="85.2" r="2.1"/>
<circle cx="575.4" cy="110.7" r="2.1"/>
<circle cx="588.1" cy="108.5" r="2.1"/>
<circle cx="569.4" cy="115.1" r="2.1"/>
<circle cx="596.2" cy="99.9" r="2.1"/>
<circle cx="579.8" cy="108.9" r="2.1"/>
<circle cx="576.7" cy="110.5" r="2.1"/>
<circle cx="598.4" cy="101.9" r="2.1"/>
<circle cx="587.3" cy="104.9" r="2.1"/>
<circle cx="577.3" cy="106.5" r="2.1"/>
<circle cx="603.8" cy="110.5" r="2.1"/>
<circle cx="569.9" cy="110.3" r="2.1"/>
<circle cx="594.1" cy="99.1" r="2.1"/>
<circle cx="590.9" cy="104.4" r="2.1"/>
<circle cx="588.1" cy="93.5" r="2.1"/>
<circle cx="595.4" cy="109.9" r="2.1"/>
<circle cx="589.0" cy="107.9" r="2.1"/>
<circle cx="568.0" cy="111.7" r="2.1"/>
<circle cx="584.7" cy="110.4" r="2.1"/>
<circle cx="589.2" cy="99.9" r="2.1"/>
<circle cx="575.7" cy="113.0" r="2.1"/>
<circle cx="620.6" cy="93.7" r="2.1"/>
<circle cx="569.2" cy="112.5" r="2.1"/>
<circle cx="590.9" cy="109.6" r="2.1"/>
<circle cx="589.3" cy="99.5" r="2.1"/>
<circle cx="568.0" cy="114.0" r="2.1"/>
<circle cx="605.8" cy="104.2" r="2.1"/>
<circle cx="621.0" cy="95.5" r="2.1"/>
<circle cx="574.4" cy="113.7" r="2.1"/>
<circle cx="572.7" cy="111.0" r="2.1"/>
<circle cx="592.4" cy="102.3" r="2.1"/>
<circle cx="580.4" cy="113.0" r="2.1"/>
<circle cx="599.0" cy="113.2" r="2.1"/>
<circle cx="571.3" cy="109.5" r="2.1"/>
<circle cx="590.0" cy="94.6" r="2.1"/>
<circle cx="589.3" cy="98.6" r="2.1"/>
<circle cx="574.1" cy="106.3" r="2.1"/>
<circle cx="598.5" cy="83.5" r="2.1"/>
<circle cx="576.9" cy="110.2" r="2.1"/>
<circle cx="585.0" cy="99.1" r="2.1"/>
<circle cx="581.4" cy="106.5" r="2.1"/>
<circle cx="608.8" cy="102.5" r="2.1"/>
<circle cx="602.2" cy="81.9" r="2.1"/>
<circle cx="616.1" cy="85.9" r="2.1"/>
<circle cx="626.4" cy="99.4" r="2.1"/>
<circle cx="612.2" cy="102.9" r="2.1"/>
<circle cx="609.9" cy="102.4" r="2.1"/>
<circle cx="622.7" cy="96.1" r="2.1"/>
<circle cx="625.1" cy="65.2" r="2.1"/>
<circle cx="616.2" cy="98.5" r="2.1"/>
<circle cx="627.5" cy="67.7" r="2.1"/>
<circle cx="634.8" cy="70.9" r="2.1"/>
<circle cx="624.4" cy="64.2" r="2.1"/>
<circle cx="627.7" cy="56.4" r="2.1"/>
<circle cx="614.2" cy="75.7" r="2.1"/>
<circle cx="626.1" cy="80.0" r="2.1"/>
<circle cx="604.7" cy="91.8" r="2.1"/>
<circle cx="613.4" cy="82.5" r="2.1"/>
<circle cx="621.9" cy="80.7" r="2.1"/>
<circle cx="606.4" cy="101.4" r="2.1"/>
<circle cx="625.3" cy="71.3" r="2.1"/>
<circle cx="638.5" cy="56.2" r="2.1"/>
<circle cx="614.3" cy="87.1" r="2.1"/>
<circle cx="621.8" cy="68.8" r="2.1"/>
<circle cx="617.9" cy="67.3" r="2.1"/>
<circle cx="621.0" cy="85.8" r="2.1"/>
<circle cx="620.9" cy="87.5" r="2.1"/>
<circle cx="638.8" cy="95.1" r="2.1"/>
<circle cx="618.1" cy="99.5" r="2.1"/>
<circle cx="627.7" cy="93.5" r="2.1"/>
<circle cx="609.5" cy="90.8" r="2.1"/>
<circle cx="625.1" cy="67.9" r="2.1"/>
<circle cx="645.8" cy="39.3" r="2.1"/>
<circle cx="649.3" cy="38.6" r="2.1"/>
<circle cx="633.5" cy="42.8" r="2.1"/>
<circle cx="651.3" cy="59.5" r="2.1"/>
<circle cx="655.5" cy="68.1" r="2.1"/>
<circle cx="642.8" cy="52.5" r="2.1"/>
<circle cx="641.6" cy="54.2" r="2.1"/>
<circle cx="638.1" cy="79.7" r="2.1"/>
<circle cx="643.5" cy="107.7" r="2.1"/>
<circle cx="599.9" cy="64.8" r="2.1"/>
<circle cx="601.0" cy="65.8" r="2.1"/>
<circle cx="570.9" cy="74.1" r="2.1"/>
<circle cx="563.5" cy="81.1" r="2.1"/>
<circle cx="567.4" cy="81.1" r="2.1"/>
<circle cx="571.3" cy="81.1" r="2.1"/>
<circle cx="578.3" cy="84.5" r="2.1"/>
<circle cx="562.1" cy="92.7" r="2.1"/>
<circle cx="562.8" cy="95.9" r="2.1"/>
<circle cx="574.4" cy="92.0" r="2.1"/>
<circle cx="577.4" cy="91.3" r="2.1"/>
<circle cx="639.3" cy="61.6" r="2.1"/>
<circle cx="634.6" cy="62.5" r="2.1"/>
<circle cx="631.6" cy="63.9" r="2.1"/>
<circle cx="626.5" cy="60.7" r="2.1"/>
<circle cx="620.7" cy="67.6" r="2.1"/>
<circle cx="626.1" cy="70.4" r="2.1"/>
<circle cx="631.2" cy="88.0" r="2.1"/>
<circle cx="627.2" cy="92.7" r="2.1"/>
<circle cx="621.9" cy="93.6" r="2.1"/>
<circle cx="622.4" cy="112.1" r="2.1"/>
<circle cx="617.3" cy="115.2" r="2.1"/>
<circle cx="612.6" cy="115.2" r="2.1"/>
<circle cx="614.9" cy="102.4" r="2.1"/>
<circle cx="617.3" cy="100.5" r="2.1"/>
</g>
<line x1="555.1" y1="122.2" x2="678.1" y2="3.2" stroke="#3535e8" stroke-width="1.1" stroke-dasharray="1.2,1.4"/>
</g>
<text x="614.60" y="50.00" font-size="8.3" text-anchor="middle" fill="#3b3bff" stroke="#3b3bff" stroke-width="0.06">1:1</text>
<rect x="556.30" y="10.20" width="113.90" height="110.80" fill="none" stroke="#aaa" stroke-width="0.9"/>
<line x1="555.90" y1="121.00" x2="670.60" y2="121.00" stroke="#777" stroke-width="0.9"/>
<line x1="553.80" y1="116.30" x2="556.30" y2="116.30" stroke="#333" stroke-width="0.6"/>
<text x="550.70" y="119.30" font-size="8.4" text-anchor="end" fill="#333" stroke="#333" stroke-width="0.06">0</text>
<line x1="561.30" y1="121.00" x2="561.30" y2="123.50" stroke="#333" stroke-width="0.6"/>
<text x="562.00" y="131.60" font-size="8.4" text-anchor="middle" fill="#333" stroke="#333" stroke-width="0.06">0</text>
<line x1="553.80" y1="92.50" x2="556.30" y2="92.50" stroke="#333" stroke-width="0.6"/>
<text x="550.70" y="95.50" font-size="8.4" text-anchor="end" fill="#333" stroke="#333" stroke-width="0.06">2</text>
<line x1="585.90" y1="121.00" x2="585.90" y2="123.50" stroke="#333" stroke-width="0.6"/>
<text x="586.60" y="131.60" font-size="8.4" text-anchor="middle" fill="#333" stroke="#333" stroke-width="0.06">2</text>
<line x1="553.80" y1="68.70" x2="556.30" y2="68.70" stroke="#333" stroke-width="0.6"/>
<text x="550.70" y="71.70" font-size="8.4" text-anchor="end" fill="#333" stroke="#333" stroke-width="0.06">4</text>
<line x1="610.50" y1="121.00" x2="610.50" y2="123.50" stroke="#333" stroke-width="0.6"/>
<text x="611.20" y="131.60" font-size="8.4" text-anchor="middle" fill="#333" stroke="#333" stroke-width="0.06">4</text>
<line x1="553.80" y1="44.90" x2="556.30" y2="44.90" stroke="#333" stroke-width="0.6"/>
<text x="550.70" y="47.90" font-size="8.4" text-anchor="end" fill="#333" stroke="#333" stroke-width="0.06">6</text>
<line x1="635.10" y1="121.00" x2="635.10" y2="123.50" stroke="#333" stroke-width="0.6"/>
<text x="635.80" y="131.60" font-size="8.4" text-anchor="middle" fill="#333" stroke="#333" stroke-width="0.06">6</text>
<line x1="553.80" y1="21.10" x2="556.30" y2="21.10" stroke="#333" stroke-width="0.6"/>
<text x="550.70" y="24.10" font-size="8.4" text-anchor="end" fill="#333" stroke="#333" stroke-width="0.06">8</text>
<line x1="659.70" y1="121.00" x2="659.70" y2="123.50" stroke="#333" stroke-width="0.6"/>
<text x="660.40" y="131.60" font-size="8.4" text-anchor="middle" fill="#333" stroke="#333" stroke-width="0.06">8</text>
<text x="613.60" y="147.20" font-size="9.8" text-anchor="middle" fill="#000" stroke="#000" stroke-width="0.06">log2(TPM+1) of</text>
<text x="613.60" y="155.90" font-size="9.8" text-anchor="middle" fill="#000" stroke="#000" stroke-width="0.06">Non−introgression</text>
<text x="530.20" y="73.20" font-size="9.9" text-anchor="middle" fill="#000" stroke="#000" stroke-width="0.06" transform="rotate(-90 530.20 73.20)">log2(TPM+1) of</text>
<text x="537.90" y="73.20" font-size="9.9" text-anchor="middle" fill="#000" stroke="#000" stroke-width="0.06" transform="rotate(-90 537.90 73.20)">introgression</text>
<text x="521.60" y="8.90" font-size="9.5" text-anchor="start" fill="#000" stroke="#000" stroke-width="0.06" font-weight="bold">b</text>
<text x="1.80" y="172.70" font-size="9.5" text-anchor="start" fill="#000" stroke="#000" stroke-width="0.06" font-weight="bold">c</text>
<rect x="62.80" y="195.10" width="11.90" height="11.55" fill="#8da0cb"/>
<rect x="77.40" y="195.10" width="86.50" height="11.50" fill="#ededed"/>
<rect x="79.13" y="195.10" width="1.30" height="6.90" fill="#3cb5c6"/>
<rect x="98.59" y="195.10" width="1.73" height="11.50" fill="#3cb5c6"/>
<rect x="140.63" y="195.10" width="13.23" height="11.50" fill="#f9c734"/>
<rect x="142.02" y="195.10" width="1.64" height="11.50" fill="#3cb5c6"/>
<rect x="153.87" y="195.10" width="1.38" height="11.50" fill="#3cb5c6"/>
<rect x="155.25" y="195.10" width="5.62" height="11.50" fill="#f9c734"/>
<rect x="160.87" y="195.10" width="3.03" height="11.50" fill="#3cb5c6"/>
<rect x="86.05" y="197.95" width="1.00" height="1.20" fill="#3cb5c6"/>
<rect x="94.70" y="195.65" width="1.00" height="1.20" fill="#3cb5c6"/>
<rect x="125.84" y="200.25" width="1.00" height="1.20" fill="#3cb5c6"/>
<rect x="128.44" y="203.70" width="1.00" height="1.20" fill="#3cb5c6"/>
<rect x="139.68" y="201.40" width="1.00" height="1.20" fill="#3cb5c6"/>
<rect x="145.74" y="204.85" width="1.00" height="1.20" fill="#3cb5c6"/>
<line x1="77.40" y1="194.20" x2="163.90" y2="194.20" stroke="#666" stroke-width="0.6"/>
<line x1="77.40" y1="193.90" x2="139.25" y2="193.90" stroke="#c0272d" stroke-width="1.8"/>
<line x1="77.40" y1="192.30" x2="77.40" y2="194.80" stroke="#666" stroke-width="0.5"/>
<text x="77.40" y="190.70" font-size="6.2" text-anchor="start" fill="#222" stroke="#222" stroke-width="0.06">0</text>
<line x1="139.25" y1="192.30" x2="139.25" y2="194.80" stroke="#666" stroke-width="0.5"/>
<text x="143.00" y="190.70" font-size="6.2" text-anchor="middle" fill="#222" stroke="#222" stroke-width="0.06">214.4</text>
<line x1="163.90" y1="192.30" x2="163.90" y2="194.80" stroke="#666" stroke-width="0.5"/>
<text x="154.90" y="190.70" font-size="6.2" text-anchor="start" fill="#222" stroke="#222" stroke-width="0.06">300Mb</text>
<text x="62.60" y="194.60" font-size="6.2" text-anchor="start" fill="#333" stroke="#333" stroke-width="0.06">n=8</text>
<rect x="63.20" y="208.50" width="100.70" height="70.80" fill="#fff"/>
<line x1="67.60" y1="208.50" x2="67.60" y2="279.30" stroke="#ebebeb" stroke-width="0.6"/>
<line x1="86.93" y1="208.50" x2="86.93" y2="279.30" stroke="#ebebeb" stroke-width="0.6"/>
<line x1="106.25" y1="208.50" x2="106.25" y2="279.30" stroke="#ebebeb" stroke-width="0.6"/>
<line x1="125.58" y1="208.50" x2="125.58" y2="279.30" stroke="#ebebeb" stroke-width="0.6"/>
<line x1="144.90" y1="208.50" x2="144.90" y2="279.30" stroke="#ebebeb" stroke-width="0.6"/>
<line x1="63.20" y1="227.70" x2="163.90" y2="227.70" stroke="#ebebeb" stroke-width="0.6"/>
<line x1="63.20" y1="260.20" x2="163.90" y2="260.20" stroke="#ebebeb" stroke-width="0.6"/>
<rect x="67.10" y="227.20" width="1.00" height="1.00" fill="#ccc" fill-opacity="0.6"/>
<rect x="69.02" y="227.20" width="1.00" height="1.00" fill="#ccc" fill-opacity="0.6"/>
<rect x="70.95" y="227.20" width="1.00" height="1.00" fill="#ccc" fill-opacity="0.6"/>
<rect x="72.87" y="227.20" width="1.00" height="1.00" fill="#ccc" fill-opacity="0.6"/>
<rect x="74.79" y="227.20" width="1.00" height="1.00" fill="#ccc" fill-opacity="0.6"/>
<rect x="76.71" y="227.20" width="1.00" height="1.00" fill="#ccc" fill-opacity="0.6"/>
<rect x="78.64" y="227.20" width="1.00" height="1.00" fill="#ccc" fill-opacity="0.6"/>
<rect x="80.56" y="227.20" width="1.00" height="1.00" fill="#ccc" fill-opacity="0.6"/>
<rect x="82.48" y="227.20" width="1.00" height="1.00" fill="#ccc" fill-opacity="0.6"/>
<rect x="84.40" y="227.20" width="1.00" height="1.00" fill="#ccc" fill-opacity="0.6"/>
<rect x="86.33" y="227.20" width="1.00" height="1.00" fill="#ccc" fill-opacity="0.6"/>
<rect x="88.25" y="227.20" width="1.00" height="1.00" fill="#ccc" fill-opacity="0.6"/>
<rect x="90.17" y="227.20" width="1.00" height="1.00" fill="#ccc" fill-opacity="0.6"/>
<rect x="92.09" y="227.20" width="1.00" height="1.00" fill="#ccc" fill-opacity="0.6"/>
<rect x="94.02" y="227.20" width="1.00" height="1.00" fill="#ccc" fill-opacity="0.6"/>
<rect x="95.94" y="227.20" width="1.00" height="1.00" fill="#ccc" fill-opacity="0.6"/>
<rect x="97.86" y="227.20" width="1.00" height="1.00" fill="#ccc" fill-opacity="0.6"/>
<rect x="99.78" y="227.20" width="1.00" height="1.00" fill="#ccc" fill-opacity="0.6"/>
<rect x="101.71" y="227.20" width="1.00" height="1.00" fill="#ccc" fill-opacity="0.6"/>
<rect x="103.63" y="227.20" width="1.00" height="1.00" fill="#ccc" fill-opacity="0.6"/>
<rect x="105.55" y="227.20" width="1.00" height="1.00" fill="#ccc" fill-opacity="0.6"/>
<rect x="107.47" y="227.20" width="1.00" height="1.00" fill="#ccc" fill-opacity="0.6"/>
<rect x="109.40" y="227.20" width="1.00" height="1.00" fill="#ccc" fill-opacity="0.6"/>
<rect x="111.32" y="227.20" width="1.00" height="1.00" fill="#ccc" fill-opacity="0.6"/>
<rect x="113.24" y="227.20" width="1.00" height="1.00" fill="#ccc" fill-opacity="0.6"/>
<rect x="115.16" y="227.20" width="1.00" height="1.00" fill="#ccc" fill-opacity="0.6"/>
<rect x="117.09" y="227.20" width="1.00" height="1.00" fill="#ccc" fill-opacity="0.6"/>
<rect x="119.01" y="227.20" width="1.00" height="1.00" fill="#ccc" fill-opacity="0.6"/>
<rect x="120.93" y="227.20" width="1.00" height="1.00" fill="#ccc" fill-opacity="0.6"/>
<rect x="122.86" y="227.20" width="1.00" height="1.00" fill="#ccc" fill-opacity="0.6"/>
<rect x="124.78" y="227.20" width="1.00" height="1.00" fill="#ccc" fill-opacity="0.6"/>
<rect x="126.70" y="227.20" width="1.00" height="1.00" fill="#ccc" fill-opacity="0.6"/>
<rect x="128.62" y="227.20" width="1.00" height="1.00" fill="#ccc" fill-opacity="0.6"/>
<rect x="130.55" y="227.20" width="1.00" height="1.00" fill="#ccc" fill-opacity="0.6"/>
<rect x="132.47" y="227.20" width="1.00" height="1.00" fill="#ccc" fill-opacity="0.6"/>
<rect x="134.39" y="227.20" width="1.00" height="1.00" fill="#ccc" fill-opacity="0.6"/>
<rect x="136.31" y="227.20" width="1.00" height="1.00" fill="#ccc" fill-opacity="0.6"/>
<rect x="138.24" y="227.20" width="1.00" height="1.00" fill="#ccc" fill-opacity="0.6"/>
<rect x="140.16" y="227.20" width="1.00" height="1.00" fill="#ccc" fill-opacity="0.6"/>
<rect x="142.08" y="227.20" width="1.00" height="1.00" fill="#ccc" fill-opacity="0.6"/>
<line x1="142.58" y1="227.70" x2="142.97" y2="227.70" stroke="#e89a9a" stroke-width="0.8"/>
<line x1="143.74" y1="227.70" x2="144.13" y2="227.70" stroke="#e89a9a" stroke-width="0.8"/>
<rect x="142.97" y="219.60" width="0.80" height="16.60" fill="#fff" stroke="#d9545a" stroke-width="0.7"/>
<line x1="143.35" y1="219.60" x2="143.35" y2="236.20" stroke="#cc3b42" stroke-width="0.9"/>
<rect x="96.47" y="259.70" width="1.00" height="1.00" fill="#ccc" fill-opacity="0.6"/>
<rect x="98.33" y="259.70" width="1.00" height="1.00" fill="#ccc" fill-opacity="0.6"/>
<rect x="100.18" y="259.70" width="1.00" height="1.00" fill="#ccc" fill-opacity="0.6"/>
<rect x="102.04" y="259.70" width="1.00" height="1.00" fill="#ccc" fill-opacity="0.6"/>
<rect x="103.89" y="259.70" width="1.00" height="1.00" fill="#ccc" fill-opacity="0.6"/>
<rect x="105.75" y="259.70" width="1.00" height="1.00" fill="#ccc" fill-opacity="0.6"/>
<line x1="67.60" y1="260.20" x2="96.97" y2="260.20" stroke="#aaa" stroke-width="0.7"/>
<rect x="67.99" y="252.00" width="2.71" height="16.50" fill="#fff" stroke="#aaa" stroke-width="0.7"/>
<line x1="68.37" y1="252.00" x2="68.37" y2="268.50" stroke="#999" stroke-width="0.7"/>
<line x1="148.38" y1="227.70" x2="148.38" y2="260.20" stroke="#999" stroke-width="0.7"/>
<line x1="146.18" y1="227.70" x2="148.38" y2="227.70" stroke="#999" stroke-width="0.7"/>
<line x1="146.18" y1="260.20" x2="148.38" y2="260.20" stroke="#999" stroke-width="0.7"/>
<text x="149.38" y="244.20" font-size="8.8" text-anchor="middle" fill="#000" stroke="#000" stroke-width="0.06" transform="rotate(90 149.38 244.20)">****</text>
<rect x="63.20" y="208.50" width="100.70" height="70.80" fill="none" stroke="#9a9a9a" stroke-width="0.9"/>
<text x="68.20" y="219.50" font-size="9.8" text-anchor="start" fill="#000" stroke="#000" stroke-width="0.06">1A</text>
<line x1="60.70" y1="227.70" x2="63.20" y2="227.70" stroke="#333" stroke-width="0.6"/>
<line x1="60.70" y1="260.20" x2="63.20" y2="260.20" stroke="#333" stroke-width="0.6"/>
<line x1="67.60" y1="279.30" x2="67.60" y2="281.80" stroke="#333" stroke-width="0.6"/>
<text x="71.90" y="288.20" font-size="8.8" text-anchor="end" fill="#333" stroke="#333" stroke-width="0.06" transform="rotate(-45 71.90 288.20)">0.00</text>
<line x1="86.93" y1="279.30" x2="86.93" y2="281.80" stroke="#333" stroke-width="0.6"/>
<text x="91.23" y="288.20" font-size="8.8" text-anchor="end" fill="#333" stroke="#333" stroke-width="0.06" transform="rotate(-45 91.23 288.20)">0.25</text>
<line x1="106.25" y1="279.30" x2="106.25" y2="281.80" stroke="#333" stroke-width="0.6"/>
<text x="110.55" y="288.20" font-size="8.8" text-anchor="end" fill="#333" stroke="#333" stroke-width="0.06" transform="rotate(-45 110.55 288.20)">0.50</text>
<line x1="125.58" y1="279.30" x2="125.58" y2="281.80" stroke="#333" stroke-width="0.6"/>
<text x="129.88" y="288.20" font-size="8.8" text-anchor="end" fill="#333" stroke="#333" stroke-width="0.06" transform="rotate(-45 129.88 288.20)">0.75</text>
<line x1="144.90" y1="279.30" x2="144.90" y2="281.80" stroke="#333" stroke-width="0.6"/>
<text x="149.20" y="288.20" font-size="8.8" text-anchor="end" fill="#333" stroke="#333" stroke-width="0.06" transform="rotate(-45 149.20 288.20)">1.00</text>
<rect x="175.90" y="195.10" width="11.90" height="2.92" fill="#fc8d62"/>
<rect x="175.90" y="197.97" width="11.90" height="0.74" fill="#c9a28f"/>
<rect x="175.90" y="198.66" width="11.90" height="3.50" fill="#fc8d62"/>
<rect x="175.90" y="202.11" width="11.90" height="0.74" fill="#b6a79f"/>
<rect x="175.90" y="202.80" width="11.90" height="3.85" fill="#fc8d62"/>
<rect x="190.50" y="195.10" width="86.50" height="11.50" fill="#ededed"/>
<rect x="259.70" y="195.10" width="17.30" height="11.50" fill="#3cb5c6"/>
<rect x="194.82" y="196.80" width="1.00" height="1.20" fill="#3cb5c6"/>
<rect x="203.47" y="197.95" width="1.00" height="1.20" fill="#3cb5c6"/>
<rect x="220.78" y="195.65" width="1.00" height="1.20" fill="#3cb5c6"/>
<rect x="229.43" y="197.95" width="1.00" height="1.20" fill="#3cb5c6"/>
<rect x="238.07" y="196.80" width="1.00" height="1.20" fill="#3cb5c6"/>
<rect x="251.05" y="197.38" width="1.00" height="1.20" fill="#3cb5c6"/>
<rect x="255.38" y="195.65" width="1.00" height="1.20" fill="#3cb5c6"/>
<rect x="257.97" y="199.10" width="1.00" height="1.20" fill="#3cb5c6"/>
<line x1="190.50" y1="194.20" x2="277.00" y2="194.20" stroke="#666" stroke-width="0.6"/>
<line x1="190.50" y1="193.90" x2="259.44" y2="193.90" stroke="#c0272d" stroke-width="1.8"/>
<line x1="190.50" y1="192.30" x2="190.50" y2="194.80" stroke="#666" stroke-width="0.5"/>
<text x="191.30" y="190.70" font-size="6.2" text-anchor="start" fill="#222" stroke="#222" stroke-width="0.06">0</text>
<line x1="259.44" y1="192.30" x2="259.44" y2="194.80" stroke="#666" stroke-width="0.5"/>
<text x="258.70" y="190.70" font-size="6.2" text-anchor="middle" fill="#222" stroke="#222" stroke-width="0.06">239.3</text>
<line x1="277.00" y1="192.30" x2="277.00" y2="194.80" stroke="#666" stroke-width="0.5"/>
<text x="268.40" y="190.70" font-size="6.2" text-anchor="start" fill="#222" stroke="#222" stroke-width="0.06">300Mb</text>
<text x="175.70" y="194.60" font-size="6.2" text-anchor="start" fill="#333" stroke="#333" stroke-width="0.06">n=50</text>
<rect x="176.30" y="208.50" width="100.70" height="70.80" fill="#fff"/>
<line x1="180.70" y1="208.50" x2="180.70" y2="279.30" stroke="#ebebeb" stroke-width="0.6"/>
<line x1="200.03" y1="208.50" x2="200.03" y2="279.30" stroke="#ebebeb" stroke-width="0.6"/>
<line x1="219.35" y1="208.50" x2="219.35" y2="279.30" stroke="#ebebeb" stroke-width="0.6"/>
<line x1="238.68" y1="208.50" x2="238.68" y2="279.30" stroke="#ebebeb" stroke-width="0.6"/>
<line x1="258.00" y1="208.50" x2="258.00" y2="279.30" stroke="#ebebeb" stroke-width="0.6"/>
<line x1="176.30" y1="227.70" x2="277.00" y2="227.70" stroke="#ebebeb" stroke-width="0.6"/>
<line x1="176.30" y1="260.20" x2="277.00" y2="260.20" stroke="#ebebeb" stroke-width="0.6"/>
<rect x="180.20" y="227.20" width="1.00" height="1.00" fill="#ccc" fill-opacity="0.6"/>
<rect x="182.10" y="227.20" width="1.00" height="1.00" fill="#ccc" fill-opacity="0.6"/>
<rect x="183.99" y="227.20" width="1.00" height="1.00" fill="#ccc" fill-opacity="0.6"/>
<rect x="185.89" y="227.20" width="1.00" height="1.00" fill="#ccc" fill-opacity="0.6"/>
<rect x="187.79" y="227.20" width="1.00" height="1.00" fill="#ccc" fill-opacity="0.6"/>
<rect x="189.69" y="227.20" width="1.00" height="1.00" fill="#ccc" fill-opacity="0.6"/>
<rect x="191.58" y="227.20" width="1.00" height="1.00" fill="#ccc" fill-opacity="0.6"/>
<rect x="193.48" y="227.20" width="1.00" height="1.00" fill="#ccc" fill-opacity="0.6"/>
<rect x="195.38" y="227.20" width="1.00" height="1.00" fill="#ccc" fill-opacity="0.6"/>
<rect x="197.28" y="227.20" width="1.00" height="1.00" fill="#ccc" fill-opacity="0.6"/>
<rect x="199.17" y="227.20" width="1.00" height="1.00" fill="#ccc" fill-opacity="0.6"/>
<rect x="201.07" y="227.20" width="1.00" height="1.00" fill="#ccc" fill-opacity="0.6"/>
<rect x="202.97" y="227.20" width="1.00" height="1.00" fill="#ccc" fill-opacity="0.6"/>
<rect x="204.87" y="227.20" width="1.00" height="1.00" fill="#ccc" fill-opacity="0.6"/>
<rect x="206.76" y="227.20" width="1.00" height="1.00" fill="#ccc" fill-opacity="0.6"/>
<rect x="208.66" y="227.20" width="1.00" height="1.00" fill="#ccc" fill-opacity="0.6"/>
<rect x="210.56" y="227.20" width="1.00" height="1.00" fill="#ccc" fill-opacity="0.6"/>
<rect x="212.46" y="227.20" width="1.00" height="1.00" fill="#ccc" fill-opacity="0.6"/>
<rect x="214.35" y="227.20" width="1.00" height="1.00" fill="#ccc" fill-opacity="0.6"/>
<rect x="216.25" y="227.20" width="1.00" height="1.00" fill="#ccc" fill-opacity="0.6"/>
<rect x="218.15" y="227.20" width="1.00" height="1.00" fill="#ccc" fill-opacity="0.6"/>
<rect x="220.04" y="227.20" width="1.00" height="1.00" fill="#ccc" fill-opacity="0.6"/>
<rect x="221.94" y="227.20" width="1.00" height="1.00" fill="#ccc" fill-opacity="0.6"/>
<rect x="223.84" y="227.20" width="1.00" height="1.00" fill="#ccc" fill-opacity="0.6"/>
<rect x="225.74" y="227.20" width="1.00" height="1.00" fill="#ccc" fill-opacity="0.6"/>
<rect x="227.63" y="227.20" width="1.00" height="1.00" fill="#ccc" fill-opacity="0.6"/>
<rect x="229.53" y="227.20" width="1.00" height="1.00" fill="#ccc" fill-opacity="0.6"/>
<rect x="231.43" y="227.20" width="1.00" height="1.00" fill="#ccc" fill-opacity="0.6"/>
<rect x="233.33" y="227.20" width="1.00" height="1.00" fill="#ccc" fill-opacity="0.6"/>
<rect x="235.22" y="227.20" width="1.00" height="1.00" fill="#ccc" fill-opacity="0.6"/>
<rect x="237.12" y="227.20" width="1.00" height="1.00" fill="#ccc" fill-opacity="0.6"/>
<rect x="239.02" y="227.20" width="1.00" height="1.00" fill="#ccc" fill-opacity="0.6"/>
<rect x="240.92" y="227.20" width="1.00" height="1.00" fill="#ccc" fill-opacity="0.6"/>
<rect x="242.81" y="227.20" width="1.00" height="1.00" fill="#ccc" fill-opacity="0.6"/>
<line x1="243.31" y1="227.70" x2="249.88" y2="227.70" stroke="#e89a9a" stroke-width="0.8"/>
<line x1="254.91" y1="227.70" x2="257.23" y2="227.70" stroke="#e89a9a" stroke-width="0.8"/>
<rect x="249.88" y="219.60" width="5.02" height="16.60" fill="#fff" stroke="#d9545a" stroke-width="0.7"/>
<line x1="253.36" y1="219.60" x2="253.36" y2="236.20" stroke="#cc3b42" stroke-width="0.9"/>
<rect x="242.81" y="259.70" width="1.00" height="1.00" fill="#ccc" fill-opacity="0.6"/>
<rect x="244.65" y="259.70" width="1.00" height="1.00" fill="#ccc" fill-opacity="0.6"/>
<rect x="246.48" y="259.70" width="1.00" height="1.00" fill="#ccc" fill-opacity="0.6"/>
<rect x="248.32" y="259.70" width="1.00" height="1.00" fill="#ccc" fill-opacity="0.6"/>
<rect x="250.16" y="259.70" width="1.00" height="1.00" fill="#ccc" fill-opacity="0.6"/>
<rect x="251.99" y="259.70" width="1.00" height="1.00" fill="#ccc" fill-opacity="0.6"/>
<rect x="253.83" y="259.70" width="1.00" height="1.00" fill="#ccc" fill-opacity="0.6"/>
<rect x="255.66" y="259.70" width="1.00" height="1.00" fill="#ccc" fill-opacity="0.6"/>
<rect x="257.50" y="259.70" width="1.00" height="1.00" fill="#ccc" fill-opacity="0.6"/>
<line x1="180.70" y1="260.20" x2="243.31" y2="260.20" stroke="#aaa" stroke-width="0.7"/>
<rect x="181.09" y="252.00" width="5.41" height="16.50" fill="#fff" stroke="#aaa" stroke-width="0.7"/>
<line x1="182.25" y1="252.00" x2="182.25" y2="268.50" stroke="#999" stroke-width="0.7"/>
<line x1="261.63" y1="227.70" x2="261.63" y2="260.20" stroke="#999" stroke-width="0.7"/>
<line x1="259.43" y1="227.70" x2="261.63" y2="227.70" stroke="#999" stroke-width="0.7"/>
<line x1="259.43" y1="260.20" x2="261.63" y2="260.20" stroke="#999" stroke-width="0.7"/>
<text x="262.63" y="244.20" font-size="8.8" text-anchor="middle" fill="#000" stroke="#000" stroke-width="0.06" transform="rotate(90 262.63 244.20)">****</text>
<rect x="176.30" y="208.50" width="100.70" height="70.80" fill="none" stroke="#9a9a9a" stroke-width="0.9"/>
<text x="181.30" y="219.50" font-size="9.8" text-anchor="start" fill="#000" stroke="#000" stroke-width="0.06">1B</text>
<line x1="173.80" y1="227.70" x2="176.30" y2="227.70" stroke="#333" stroke-width="0.6"/>
<line x1="173.80" y1="260.20" x2="176.30" y2="260.20" stroke="#333" stroke-width="0.6"/>
<line x1="180.70" y1="279.30" x2="180.70" y2="281.80" stroke="#333" stroke-width="0.6"/>
<text x="185.00" y="288.20" font-size="8.8" text-anchor="end" fill="#333" stroke="#333" stroke-width="0.06" transform="rotate(-45 185.00 288.20)">0.00</text>
<line x1="200.03" y1="279.30" x2="200.03" y2="281.80" stroke="#333" stroke-width="0.6"/>
<text x="204.33" y="288.20" font-size="8.8" text-anchor="end" fill="#333" stroke="#333" stroke-width="0.06" transform="rotate(-45 204.33 288.20)">0.25</text>
<line x1="219.35" y1="279.30" x2="219.35" y2="281.80" stroke="#333" stroke-width="0.6"/>
<text x="223.65" y="288.20" font-size="8.8" text-anchor="end" fill="#333" stroke="#333" stroke-width="0.06" transform="rotate(-45 223.65 288.20)">0.50</text>
<line x1="238.68" y1="279.30" x2="238.68" y2="281.80" stroke="#333" stroke-width="0.6"/>
<text x="242.98" y="288.20" font-size="8.8" text-anchor="end" fill="#333" stroke="#333" stroke-width="0.06" transform="rotate(-45 242.98 288.20)">0.75</text>
<line x1="258.00" y1="279.30" x2="258.00" y2="281.80" stroke="#333" stroke-width="0.6"/>
<text x="262.30" y="288.20" font-size="8.8" text-anchor="end" fill="#333" stroke="#333" stroke-width="0.06" transform="rotate(-45 262.30 288.20)">1.00</text>
<rect x="288.80" y="195.10" width="11.90" height="1.77" fill="#8da0cb"/>
<rect x="288.80" y="196.82" width="11.90" height="1.77" fill="#fc8d62"/>
<rect x="288.80" y="198.55" width="11.90" height="1.20" fill="#b0a89d"/>
<rect x="288.80" y="199.70" width="11.90" height="2.58" fill="#fc8d62"/>
<rect x="288.80" y="202.23" width="11.90" height="2.12" fill="#c09a85"/>
<rect x="288.80" y="204.30" width="11.90" height="2.35" fill="#66c2a5"/>
<rect x="303.40" y="195.10" width="86.50" height="11.50" fill="#ededed"/>
<rect x="303.40" y="195.10" width="17.30" height="11.50" fill="#3cb5c6"/>
<rect x="318.71" y="195.10" width="1.12" height="11.50" fill="#f9c734"/>
<rect x="353.14" y="195.10" width="1.30" height="11.50" fill="#f9c734"/>
<rect x="362.22" y="195.10" width="8.65" height="11.50" fill="#3cb5c6"/>
<rect x="370.87" y="195.10" width="18.16" height="11.50" fill="#3cb5c6"/>
<rect x="365.68" y="195.10" width="1.73" height="11.50" fill="#f9c734"/>
<rect x="374.33" y="195.10" width="0.87" height="11.50" fill="#f9c734"/>
<rect x="378.65" y="198.55" width="6.92" height="4.60" fill="#9fd7df"/>
<rect x="329.35" y="197.95" width="1.00" height="1.20" fill="#3cb5c6"/>
<rect x="332.81" y="201.40" width="1.00" height="1.20" fill="#3cb5c6"/>
<rect x="338.00" y="196.80" width="1.00" height="1.20" fill="#3cb5c6"/>
<rect x="343.19" y="200.25" width="1.00" height="1.20" fill="#3cb5c6"/>
<rect x="346.65" y="203.70" width="1.00" height="1.20" fill="#3cb5c6"/>
<rect x="348.38" y="199.10" width="1.00" height="1.20" fill="#3cb5c6"/>
<rect x="334.54" y="202.55" width="1.00" height="1.20" fill="#3cb5c6"/>
<rect x="341.46" y="204.85" width="1.00" height="1.20" fill="#3cb5c6"/>
<rect x="308.59" y="198.90" width="1.00" height="1.60" fill="#f9c734"/>
<rect x="310.32" y="202.35" width="1.00" height="1.60" fill="#f9c734"/>
<rect x="312.91" y="200.05" width="1.00" height="1.60" fill="#f9c734"/>
<rect x="339.73" y="200.05" width="1.00" height="1.60" fill="#f9c734"/>
<rect x="342.32" y="203.50" width="1.00" height="1.60" fill="#f9c734"/>
<rect x="345.78" y="196.60" width="1.00" height="1.60" fill="#f9c734"/>
<rect x="347.51" y="201.20" width="1.00" height="1.60" fill="#f9c734"/>
<rect x="381.25" y="197.75" width="1.00" height="1.60" fill="#f9c734"/>
<rect x="383.84" y="203.50" width="1.00" height="1.60" fill="#f9c734"/>
<rect x="386.44" y="200.05" width="1.00" height="1.60" fill="#f9c734"/>
<line x1="303.40" y1="194.20" x2="389.90" y2="194.20" stroke="#666" stroke-width="0.6"/>
<line x1="320.79" y1="193.90" x2="363.26" y2="193.90" stroke="#c0272d" stroke-width="1.8"/>
<line x1="303.40" y1="192.30" x2="303.40" y2="194.80" stroke="#666" stroke-width="0.5"/>
<text x="307.20" y="190.70" font-size="6.2" text-anchor="middle" fill="#222" stroke="#222" stroke-width="0.06">550</text>
<line x1="320.79" y1="192.30" x2="320.79" y2="194.80" stroke="#666" stroke-width="0.5"/>
<text x="324.30" y="190.70" font-size="6.2" text-anchor="middle" fill="#222" stroke="#222" stroke-width="0.06">570.1</text>
<line x1="363.26" y1="192.30" x2="363.26" y2="194.80" stroke="#666" stroke-width="0.5"/>
<text x="364.50" y="190.70" font-size="6.2" text-anchor="middle" fill="#222" stroke="#222" stroke-width="0.06">619.2</text>
<line x1="389.90" y1="192.30" x2="389.90" y2="194.80" stroke="#666" stroke-width="0.5"/>
<text x="383.00" y="190.70" font-size="6.2" text-anchor="start" fill="#222" stroke="#222" stroke-width="0.06">650Mb</text>
<text x="288.60" y="194.60" font-size="6.2" text-anchor="start" fill="#333" stroke="#333" stroke-width="0.06">n=49</text>
<rect x="289.20" y="208.50" width="100.70" height="70.80" fill="#fff"/>
<line x1="293.60" y1="208.50" x2="293.60" y2="279.30" stroke="#ebebeb" stroke-width="0.6"/>
<line x1="312.92" y1="208.50" x2="312.92" y2="279.30" stroke="#ebebeb" stroke-width="0.6"/>
<line x1="332.25" y1="208.50" x2="332.25" y2="279.30" stroke="#ebebeb" stroke-width="0.6"/>
<line x1="351.57" y1="208.50" x2="351.57" y2="279.30" stroke="#ebebeb" stroke-width="0.6"/>
<line x1="370.90" y1="208.50" x2="370.90" y2="279.30" stroke="#ebebeb" stroke-width="0.6"/>
<line x1="289.20" y1="227.70" x2="389.90" y2="227.70" stroke="#ebebeb" stroke-width="0.6"/>
<line x1="289.20" y1="260.20" x2="389.90" y2="260.20" stroke="#ebebeb" stroke-width="0.6"/>
<line x1="293.60" y1="227.70" x2="314.86" y2="227.70" stroke="#e89a9a" stroke-width="0.8"/>
<line x1="346.16" y1="227.70" x2="365.49" y2="227.70" stroke="#e89a9a" stroke-width="0.8"/>
<rect x="314.86" y="219.60" width="31.31" height="16.60" fill="#fff" stroke="#d9545a" stroke-width="0.7"/>
<line x1="330.70" y1="219.60" x2="330.70" y2="236.20" stroke="#cc3b42" stroke-width="0.9"/>
<line x1="293.60" y1="260.20" x2="373.99" y2="260.20" stroke="#aaa" stroke-width="0.7"/>
<rect x="293.60" y="252.00" width="0.60" height="16.50" fill="#fff" stroke="#aaa" stroke-width="0.7"/>
<line x1="293.60" y1="252.00" x2="293.60" y2="268.50" stroke="#999" stroke-width="0.7"/>
<line x1="373.99" y1="227.70" x2="373.99" y2="260.20" stroke="#999" stroke-width="0.7"/>
<line x1="371.79" y1="227.70" x2="373.99" y2="227.70" stroke="#999" stroke-width="0.7"/>
<line x1="371.79" y1="260.20" x2="373.99" y2="260.20" stroke="#999" stroke-width="0.7"/>
<text x="374.99" y="244.20" font-size="8.8" text-anchor="middle" fill="#000" stroke="#000" stroke-width="0.06" transform="rotate(90 374.99 244.20)">****</text>
<rect x="289.20" y="208.50" width="100.70" height="70.80" fill="none" stroke="#9a9a9a" stroke-width="0.9"/>
<text x="294.20" y="219.50" font-size="9.8" text-anchor="start" fill="#000" stroke="#000" stroke-width="0.06">2D</text>
<line x1="286.70" y1="227.70" x2="289.20" y2="227.70" stroke="#333" stroke-width="0.6"/>
<line x1="286.70" y1="260.20" x2="289.20" y2="260.20" stroke="#333" stroke-width="0.6"/>
<line x1="293.60" y1="279.30" x2="293.60" y2="281.80" stroke="#333" stroke-width="0.6"/>
<text x="297.90" y="288.20" font-size="8.8" text-anchor="end" fill="#333" stroke="#333" stroke-width="0.06" transform="rotate(-45 297.90 288.20)">0.00</text>
<line x1="312.92" y1="279.30" x2="312.92" y2="281.80" stroke="#333" stroke-width="0.6"/>
<text x="317.22" y="288.20" font-size="8.8" text-anchor="end" fill="#333" stroke="#333" stroke-width="0.06" transform="rotate(-45 317.22 288.20)">0.25</text>
<line x1="332.25" y1="279.30" x2="332.25" y2="281.80" stroke="#333" stroke-width="0.6"/>
<text x="336.55" y="288.20" font-size="8.8" text-anchor="end" fill="#333" stroke="#333" stroke-width="0.06" transform="rotate(-45 336.55 288.20)">0.50</text>
<line x1="351.57" y1="279.30" x2="351.57" y2="281.80" stroke="#333" stroke-width="0.6"/>
<text x="355.87" y="288.20" font-size="8.8" text-anchor="end" fill="#333" stroke="#333" stroke-width="0.06" transform="rotate(-45 355.87 288.20)">0.75</text>
<line x1="370.90" y1="279.30" x2="370.90" y2="281.80" stroke="#333" stroke-width="0.6"/>
<text x="375.20" y="288.20" font-size="8.8" text-anchor="end" fill="#333" stroke="#333" stroke-width="0.06" transform="rotate(-45 375.20 288.20)">1.00</text>
<rect x="401.90" y="195.10" width="11.90" height="11.55" fill="#8da0cb"/>
<rect x="416.50" y="195.10" width="86.50" height="11.50" fill="#ededed"/>
<rect x="416.50" y="195.10" width="26.82" height="11.50" fill="#3cb5c6"/>
<rect x="419.53" y="195.10" width="0.86" height="5.75" fill="#f9c734"/>
<rect x="421.69" y="195.10" width="0.87" height="11.50" fill="#f9c734"/>
<rect x="425.15" y="195.10" width="0.86" height="11.50" fill="#f9c734"/>
<rect x="428.61" y="195.10" width="0.86" height="11.50" fill="#f9c734"/>
<rect x="432.07" y="195.10" width="0.87" height="11.50" fill="#f9c734"/>
<rect x="434.67" y="195.10" width="0.87" height="11.50" fill="#f9c734"/>
<rect x="438.56" y="195.10" width="0.87" height="11.50" fill="#f9c734"/>
<rect x="447.64" y="195.10" width="1.30" height="11.50" fill="#3cb5c6"/>
<rect x="467.10" y="195.10" width="0.87" height="6.90" fill="#3cb5c6"/>
<rect x="468.83" y="198.55" width="0.87" height="6.90" fill="#3cb5c6"/>
<rect x="471.86" y="195.10" width="2.16" height="11.50" fill="#3cb5c6"/>
<rect x="501.70" y="195.10" width="1.30" height="11.50" fill="#3cb5c6"/>
<line x1="416.50" y1="194.20" x2="503.00" y2="194.20" stroke="#666" stroke-width="0.6"/>
<line x1="442.71" y1="193.90" x2="503.00" y2="193.90" stroke="#c0272d" stroke-width="1.8"/>
<line x1="416.50" y1="192.30" x2="416.50" y2="194.80" stroke="#666" stroke-width="0.5"/>
<text x="419.60" y="190.70" font-size="6.2" text-anchor="middle" fill="#222" stroke="#222" stroke-width="0.06">450</text>
<line x1="442.71" y1="192.30" x2="442.71" y2="194.80" stroke="#666" stroke-width="0.5"/>
<text x="444.60" y="190.70" font-size="6.2" text-anchor="middle" fill="#222" stroke="#222" stroke-width="0.06">500</text>
<line x1="503.00" y1="192.30" x2="503.00" y2="194.80" stroke="#666" stroke-width="0.5"/>
<text x="492.70" y="190.70" font-size="6.2" text-anchor="start" fill="#222" stroke="#222" stroke-width="0.06">615Mb</text>
<text x="401.70" y="194.60" font-size="6.2" text-anchor="start" fill="#333" stroke="#333" stroke-width="0.06">n=4</text>
<rect x="402.30" y="208.50" width="100.70" height="70.80" fill="#fff"/>
<line x1="406.70" y1="208.50" x2="406.70" y2="279.30" stroke="#ebebeb" stroke-width="0.6"/>
<line x1="426.02" y1="208.50" x2="426.02" y2="279.30" stroke="#ebebeb" stroke-width="0.6"/>
<line x1="445.35" y1="208.50" x2="445.35" y2="279.30" stroke="#ebebeb" stroke-width="0.6"/>
<line x1="464.67" y1="208.50" x2="464.67" y2="279.30" stroke="#ebebeb" stroke-width="0.6"/>
<line x1="484.00" y1="208.50" x2="484.00" y2="279.30" stroke="#ebebeb" stroke-width="0.6"/>
<line x1="402.30" y1="227.70" x2="503.00" y2="227.70" stroke="#ebebeb" stroke-width="0.6"/>
<line x1="402.30" y1="260.20" x2="503.00" y2="260.20" stroke="#ebebeb" stroke-width="0.6"/>
<rect x="456.44" y="227.20" width="1.00" height="1.00" fill="#ccc" fill-opacity="0.6"/>
<rect x="458.22" y="227.20" width="1.00" height="1.00" fill="#ccc" fill-opacity="0.6"/>
<rect x="460.00" y="227.20" width="1.00" height="1.00" fill="#ccc" fill-opacity="0.6"/>
<rect x="461.78" y="227.20" width="1.00" height="1.00" fill="#ccc" fill-opacity="0.6"/>
<rect x="463.56" y="227.20" width="1.00" height="1.00" fill="#ccc" fill-opacity="0.6"/>
<rect x="465.33" y="227.20" width="1.00" height="1.00" fill="#ccc" fill-opacity="0.6"/>
<rect x="467.11" y="227.20" width="1.00" height="1.00" fill="#ccc" fill-opacity="0.6"/>
<rect x="468.89" y="227.20" width="1.00" height="1.00" fill="#ccc" fill-opacity="0.6"/>
<rect x="470.67" y="227.20" width="1.00" height="1.00" fill="#ccc" fill-opacity="0.6"/>
<rect x="472.45" y="227.20" width="1.00" height="1.00" fill="#ccc" fill-opacity="0.6"/>
<rect x="474.22" y="227.20" width="1.00" height="1.00" fill="#ccc" fill-opacity="0.6"/>
<line x1="474.72" y1="227.70" x2="477.43" y2="227.70" stroke="#e89a9a" stroke-width="0.8"/>
<line x1="480.13" y1="227.70" x2="481.68" y2="227.70" stroke="#e89a9a" stroke-width="0.8"/>
<rect x="477.43" y="219.60" width="2.71" height="16.60" fill="#fff" stroke="#d9545a" stroke-width="0.7"/>
<line x1="478.59" y1="219.60" x2="478.59" y2="236.20" stroke="#cc3b42" stroke-width="0.9"/>
<line x1="406.70" y1="260.20" x2="486.32" y2="260.20" stroke="#aaa" stroke-width="0.7"/>
<rect x="406.70" y="252.00" width="0.60" height="16.50" fill="#fff" stroke="#aaa" stroke-width="0.7"/>
<line x1="406.70" y1="252.00" x2="406.70" y2="268.50" stroke="#999" stroke-width="0.7"/>
<line x1="486.32" y1="227.70" x2="486.32" y2="260.20" stroke="#999" stroke-width="0.7"/>
<line x1="484.12" y1="227.70" x2="486.32" y2="227.70" stroke="#999" stroke-width="0.7"/>
<line x1="484.12" y1="260.20" x2="486.32" y2="260.20" stroke="#999" stroke-width="0.7"/>
<text x="487.32" y="244.20" font-size="8.8" text-anchor="middle" fill="#000" stroke="#000" stroke-width="0.06" transform="rotate(90 487.32 244.20)">****</text>
<rect x="402.30" y="208.50" width="100.70" height="70.80" fill="none" stroke="#9a9a9a" stroke-width="0.9"/>
<text x="407.30" y="219.50" font-size="9.8" text-anchor="start" fill="#000" stroke="#000" stroke-width="0.06">3D</text>
<line x1="399.80" y1="227.70" x2="402.30" y2="227.70" stroke="#333" stroke-width="0.6"/>
<line x1="399.80" y1="260.20" x2="402.30" y2="260.20" stroke="#333" stroke-width="0.6"/>
<line x1="406.70" y1="279.30" x2="406.70" y2="281.80" stroke="#333" stroke-width="0.6"/>
<text x="411.00" y="288.20" font-size="8.8" text-anchor="end" fill="#333" stroke="#333" stroke-width="0.06" transform="rotate(-45 411.00 288.20)">0.00</text>
<line x1="426.02" y1="279.30" x2="426.02" y2="281.80" stroke="#333" stroke-width="0.6"/>
<text x="430.32" y="288.20" font-size="8.8" text-anchor="end" fill="#333" stroke="#333" stroke-width="0.06" transform="rotate(-45 430.32 288.20)">0.25</text>
<line x1="445.35" y1="279.30" x2="445.35" y2="281.80" stroke="#333" stroke-width="0.6"/>
<text x="449.65" y="288.20" font-size="8.8" text-anchor="end" fill="#333" stroke="#333" stroke-width="0.06" transform="rotate(-45 449.65 288.20)">0.50</text>
<line x1="464.67" y1="279.30" x2="464.67" y2="281.80" stroke="#333" stroke-width="0.6"/>
<text x="468.97" y="288.20" font-size="8.8" text-anchor="end" fill="#333" stroke="#333" stroke-width="0.06" transform="rotate(-45 468.97 288.20)">0.75</text>
<line x1="484.00" y1="279.30" x2="484.00" y2="281.80" stroke="#333" stroke-width="0.6"/>
<text x="488.30" y="288.20" font-size="8.8" text-anchor="end" fill="#333" stroke="#333" stroke-width="0.06" transform="rotate(-45 488.30 288.20)">1.00</text>
<rect x="515.70" y="195.10" width="11.90" height="4.07" fill="#fc8d62"/>
<rect x="515.70" y="199.12" width="11.90" height="1.20" fill="#f5b89a"/>
<rect x="515.70" y="200.28" width="11.90" height="3.50" fill="#fc8d62"/>
<rect x="515.70" y="203.72" width="11.90" height="1.43" fill="#8da0cb"/>
<rect x="515.70" y="205.10" width="11.90" height="1.55" fill="#fc8d62"/>
<rect x="530.30" y="195.10" width="86.50" height="11.50" fill="#ededed"/>
<rect x="530.30" y="195.10" width="7.79" height="11.50" fill="#3cb5c6"/>
<rect x="539.82" y="195.10" width="6.05" height="11.50" fill="#3cb5c6"/>
<rect x="540.68" y="195.10" width="0.87" height="11.50" fill="#66c2a5"/>
<rect x="530.30" y="195.10" width="0.86" height="11.50" fill="#f9c734"/>
<rect x="537.22" y="195.10" width="1.30" height="11.50" fill="#f9c734"/>
<rect x="544.14" y="195.10" width="0.87" height="11.50" fill="#f9c734"/>
<rect x="553.66" y="195.10" width="1.73" height="11.50" fill="#f9c734"/>
<rect x="557.12" y="195.10" width="0.87" height="11.50" fill="#3cb5c6"/>
<rect x="561.44" y="195.10" width="1.30" height="11.50" fill="#f9c734"/>
<rect x="565.77" y="195.10" width="0.87" height="11.50" fill="#3cb5c6"/>
<rect x="568.36" y="195.10" width="0.87" height="11.50" fill="#f9c734"/>
<rect x="573.55" y="195.10" width="0.87" height="11.50" fill="#f9c734"/>
<rect x="576.15" y="195.10" width="1.30" height="11.50" fill="#3cb5c6"/>
<rect x="579.61" y="195.10" width="0.87" height="11.50" fill="#f9c734"/>
<rect x="583.93" y="195.10" width="0.87" height="11.50" fill="#f9c734"/>
<rect x="585.66" y="195.10" width="1.73" height="11.50" fill="#3cb5c6"/>
<rect x="587.39" y="195.10" width="7.78" height="11.50" fill="#f9c734"/>
<rect x="589.12" y="195.10" width="1.73" height="11.50" fill="#3cb5c6"/>
<rect x="593.45" y="195.10" width="23.36" height="11.50" fill="#3cb5c6"/>
<rect x="597.77" y="195.10" width="0.87" height="11.50" fill="#f9c734"/>
<rect x="604.69" y="195.10" width="0.87" height="11.50" fill="#f9c734"/>
<rect x="612.48" y="199.70" width="4.33" height="4.60" fill="#f9c734"/>
<rect x="549.33" y="197.95" width="1.00" height="1.20" fill="#3cb5c6"/>
<rect x="551.93" y="202.55" width="1.00" height="1.20" fill="#3cb5c6"/>
<rect x="558.85" y="200.25" width="1.00" height="1.20" fill="#3cb5c6"/>
<rect x="564.90" y="196.80" width="1.00" height="1.20" fill="#3cb5c6"/>
<rect x="570.96" y="201.40" width="1.00" height="1.20" fill="#3cb5c6"/>
<rect x="577.88" y="197.95" width="1.00" height="1.20" fill="#3cb5c6"/>
<line x1="530.30" y1="194.20" x2="616.80" y2="194.20" stroke="#666" stroke-width="0.6"/>
<line x1="545.35" y1="193.90" x2="594.57" y2="193.90" stroke="#c0272d" stroke-width="1.8"/>
<line x1="530.30" y1="192.30" x2="530.30" y2="194.80" stroke="#666" stroke-width="0.5"/>
<text x="533.90" y="190.70" font-size="6.2" text-anchor="middle" fill="#222" stroke="#222" stroke-width="0.06">485</text>
<line x1="545.35" y1="192.30" x2="545.35" y2="194.80" stroke="#666" stroke-width="0.5"/>
<text x="549.40" y="190.70" font-size="6.2" text-anchor="middle" fill="#222" stroke="#222" stroke-width="0.06">497.2</text>
<line x1="594.57" y1="192.30" x2="594.57" y2="194.80" stroke="#666" stroke-width="0.5"/>
<text x="592.70" y="190.70" font-size="6.2" text-anchor="middle" fill="#222" stroke="#222" stroke-width="0.06">537</text>
<line x1="616.80" y1="192.30" x2="616.80" y2="194.80" stroke="#666" stroke-width="0.5"/>
<text x="606.20" y="190.70" font-size="6.2" text-anchor="start" fill="#222" stroke="#222" stroke-width="0.06">555Mb</text>
<text x="515.50" y="194.60" font-size="6.2" text-anchor="start" fill="#333" stroke="#333" stroke-width="0.06">n=74</text>
<rect x="516.10" y="208.50" width="100.70" height="70.80" fill="#fff"/>
<line x1="520.50" y1="208.50" x2="520.50" y2="279.30" stroke="#ebebeb" stroke-width="0.6"/>
<line x1="539.83" y1="208.50" x2="539.83" y2="279.30" stroke="#ebebeb" stroke-width="0.6"/>
<line x1="559.15" y1="208.50" x2="559.15" y2="279.30" stroke="#ebebeb" stroke-width="0.6"/>
<line x1="578.48" y1="208.50" x2="578.48" y2="279.30" stroke="#ebebeb" stroke-width="0.6"/>
<line x1="597.80" y1="208.50" x2="597.80" y2="279.30" stroke="#ebebeb" stroke-width="0.6"/>
<line x1="516.10" y1="227.70" x2="616.80" y2="227.70" stroke="#ebebeb" stroke-width="0.6"/>
<line x1="516.10" y1="260.20" x2="616.80" y2="260.20" stroke="#ebebeb" stroke-width="0.6"/>
<line x1="520.50" y1="227.70" x2="541.37" y2="227.70" stroke="#e89a9a" stroke-width="0.8"/>
<line x1="568.04" y1="227.70" x2="591.62" y2="227.70" stroke="#e89a9a" stroke-width="0.8"/>
<rect x="541.37" y="219.60" width="26.67" height="16.60" fill="#fff" stroke="#d9545a" stroke-width="0.7"/>
<line x1="556.06" y1="219.60" x2="556.06" y2="236.20" stroke="#cc3b42" stroke-width="0.9"/>
<line x1="520.50" y1="260.20" x2="600.89" y2="260.20" stroke="#aaa" stroke-width="0.7"/>
<rect x="520.50" y="252.00" width="4.25" height="16.50" fill="#fff" stroke="#aaa" stroke-width="0.7"/>
<line x1="521.27" y1="252.00" x2="521.27" y2="268.50" stroke="#999" stroke-width="0.7"/>
<line x1="600.89" y1="227.70" x2="600.89" y2="260.20" stroke="#999" stroke-width="0.7"/>
<line x1="598.69" y1="227.70" x2="600.89" y2="227.70" stroke="#999" stroke-width="0.7"/>
<line x1="598.69" y1="260.20" x2="600.89" y2="260.20" stroke="#999" stroke-width="0.7"/>
<text x="601.89" y="244.20" font-size="8.8" text-anchor="middle" fill="#000" stroke="#000" stroke-width="0.06" transform="rotate(90 601.89 244.20)">****</text>
<rect x="516.10" y="208.50" width="100.70" height="70.80" fill="none" stroke="#9a9a9a" stroke-width="0.9"/>
<text x="521.10" y="219.50" font-size="9.8" text-anchor="start" fill="#000" stroke="#000" stroke-width="0.06">5B</text>
<line x1="513.60" y1="227.70" x2="516.10" y2="227.70" stroke="#333" stroke-width="0.6"/>
<line x1="513.60" y1="260.20" x2="516.10" y2="260.20" stroke="#333" stroke-width="0.6"/>
<line x1="520.50" y1="279.30" x2="520.50" y2="281.80" stroke="#333" stroke-width="0.6"/>
<text x="524.80" y="288.20" font-size="8.8" text-anchor="end" fill="#333" stroke="#333" stroke-width="0.06" transform="rotate(-45 524.80 288.20)">0.00</text>
<line x1="539.83" y1="279.30" x2="539.83" y2="281.80" stroke="#333" stroke-width="0.6"/>
<text x="544.12" y="288.20" font-size="8.8" text-anchor="end" fill="#333" stroke="#333" stroke-width="0.06" transform="rotate(-45 544.12 288.20)">0.25</text>
<line x1="559.15" y1="279.30" x2="559.15" y2="281.80" stroke="#333" stroke-width="0.6"/>
<text x="563.45" y="288.20" font-size="8.8" text-anchor="end" fill="#333" stroke="#333" stroke-width="0.06" transform="rotate(-45 563.45 288.20)">0.50</text>
<line x1="578.48" y1="279.30" x2="578.48" y2="281.80" stroke="#333" stroke-width="0.6"/>
<text x="582.77" y="288.20" font-size="8.8" text-anchor="end" fill="#333" stroke="#333" stroke-width="0.06" transform="rotate(-45 582.77 288.20)">0.75</text>
<line x1="597.80" y1="279.30" x2="597.80" y2="281.80" stroke="#333" stroke-width="0.6"/>
<text x="602.10" y="288.20" font-size="8.8" text-anchor="end" fill="#333" stroke="#333" stroke-width="0.06" transform="rotate(-45 602.10 288.20)">1.00</text>
<text x="56.90" y="232.20" font-size="9.8" text-anchor="end" fill="#000" stroke="#000" stroke-width="0.06">Introgression</text>
<text x="56.90" y="264.70" font-size="9.8" text-anchor="end" fill="#000" stroke="#000" stroke-width="0.06">Background</text>
<text x="328.30" y="315.30" font-size="9.8" text-anchor="middle" fill="#000" stroke="#000" stroke-width="0.06">Missing rate</text>
<text x="623.30" y="204.40" font-size="8.3" text-anchor="start" fill="#000" stroke="#000" stroke-width="0.06">Accessions</text>
<rect x="623.70" y="209.00" width="7.20" height="6.60" fill="#fc8d62"/>
<text x="633.70" y="215.10" font-size="8.3" text-anchor="start" fill="#000" stroke="#000" stroke-width="0.06">MCC</text>
<rect x="623.70" y="217.90" width="7.20" height="6.60" fill="#8da0cb"/>
<text x="633.70" y="224.00" font-size="8.3" text-anchor="start" fill="#000" stroke="#000" stroke-width="0.06">USMC</text>
<rect x="623.70" y="226.80" width="7.20" height="6.60" fill="#66c2a5"/>
<text x="633.70" y="232.90" font-size="8.3" text-anchor="start" fill="#000" stroke="#000" stroke-width="0.06">LR</text>
<text x="623.30" y="246.50" font-size="8.3" text-anchor="start" fill="#000" stroke="#000" stroke-width="0.06">Allele</text>
<rect x="623.70" y="252.00" width="7.20" height="6.60" fill="#3cb5c6"/>
<text x="633.70" y="258.10" font-size="8.3" text-anchor="start" fill="#000" stroke="#000" stroke-width="0.06">Reference</text>
<rect x="623.70" y="261.35" width="7.20" height="6.60" fill="#f9c734"/>
<text x="633.70" y="267.45" font-size="8.3" text-anchor="start" fill="#000" stroke="#000" stroke-width="0.06">Alternative</text>
<rect x="623.70" y="270.70" width="7.20" height="6.60" fill="#fde2c2"/>
<text x="633.70" y="276.80" font-size="8.3" text-anchor="start" fill="#000" stroke="#000" stroke-width="0.06">Heterozygous</text>
<rect x="623.70" y="280.05" width="7.20" height="6.60" fill="#ededed"/>
<text x="633.70" y="286.15" font-size="8.3" text-anchor="start" fill="#000" stroke="#000" stroke-width="0.06">Miss</text>
<text x="0.30" y="339.60" font-size="9.3" text-anchor="start" fill="#000" stroke="#000" stroke-width="0.06" font-weight="bold">d</text>
<text x="219.00" y="338.10" font-size="8.3" text-anchor="start" fill="#000" stroke="#000" stroke-width="0.06">Accessions</text>
<line x1="273.20" y1="335.20" x2="284.30" y2="335.20" stroke="#e07a7a" stroke-width="1.2"/>
<text x="288.00" y="338.10" font-size="8.3" text-anchor="start" fill="#000" stroke="#000" stroke-width="0.06">introgression line</text>
<line x1="355.60" y1="335.20" x2="366.20" y2="335.20" stroke="#c8c8c8" stroke-width="1.2"/>
<text x="369.60" y="338.10" font-size="8.3" text-anchor="start" fill="#000" stroke="#000" stroke-width="0.06">Non-introgression line</text>
<defs><clipPath id="cd1"><rect x="34.7" y="345.8" width="119.6" height="40.2"/></clipPath></defs>
<rect x="34.70" y="345.80" width="119.60" height="40.20" fill="#fff"/>
<line x1="34.70" y1="384.10" x2="154.30" y2="384.10" stroke="#ebebeb" stroke-width="0.6"/>
<line x1="34.70" y1="374.30" x2="154.30" y2="374.30" stroke="#ebebeb" stroke-width="0.6"/>
<line x1="34.70" y1="364.40" x2="154.30" y2="364.40" stroke="#ebebeb" stroke-width="0.6"/>
<line x1="34.70" y1="354.30" x2="154.30" y2="354.30" stroke="#ebebeb" stroke-width="0.6"/>
<line x1="40.40" y1="345.80" x2="40.40" y2="386.00" stroke="#ebebeb" stroke-width="0.6"/>
<line x1="76.50" y1="345.80" x2="76.50" y2="386.00" stroke="#ebebeb" stroke-width="0.6"/>
<line x1="112.60" y1="345.80" x2="112.60" y2="386.00" stroke="#ebebeb" stroke-width="0.6"/>
<line x1="148.60" y1="345.80" x2="148.60" y2="386.00" stroke="#ebebeb" stroke-width="0.6"/>
<g clip-path="url(#cd1)">
<path d="M40.4 353l1.4 5.5 1.4 6.2 1.4 2.8 1.4 1.6 1.4.6 1.4 1 1.4 1.6 1.4 1.5 1.4-1.8 1.4-3.1 1.4 1.9 1.4 1.6 1.4 1.2 1.4 1.4 1.4 0 1.4-.8 1.4-.1 1.4-1 1.4-1.6 1.4-.6 1.4-1.4 1.4-2.2 1.4-1.1 1.4-1.3 1.4 2.4 1.4 1.8 1.4 1.4 1.4 1.4 1.4-.1 1.4 1.2 1.4.3 1.4 1 1.4 1.1 1.4.2 1.4-.4 1.4.8 1.4.2 1.4-.1 1.4.2 1.4 1.2 1.4.3 1.4.4 1.4 1 1.4.4 1.4.9 1.4-.1 1.4-.2 1.4 1 1.4-.9 1.4-.1 1.4-.5 1.4.6 1.4-1 1.4.1 1.4-.9 1.4.1 1.4-.1 1.4-.8 1.4-1.1 1.4-1.1 1.4-1.4 1.4-1.3 1.4-2 1.4-1.1 1.4.7 1.4 3.2 1.4 1.5 1.4-.4 1.4.6 1.4.9 1.4-1.2 1.4-1.7 1.4-.8 1.4-1.8 1.4-2.7 1.4-.9 1.4-.2.4.2 0 1.9-.4-.2-1.4.2-1.4.9-1.4 2.7-1.4 1.8-1.4.8-1.4 1.7-1.4 1.2-1.4-.9-1.4-.6-1.4.4-1.4-1.5-1.4-3.2-1.4-.7-1.4 1.1-1.4 2-1.4 1.3-1.4 1.4-1.4 1.1-1.4 1.1-1.4 1-1.4.5-1.4.2-1.4.9-1.4-.1-1.4 1-1.4-.6-1.4.4-1.4-.1-1.4.9-1.4-.9-1.4.3-1.4.2-1.4-.8-1.4 0-1.4-.5-1.4.1-1.4.2-1.4-1.2-1.4-.3-1.4.1-1.4-.5-1.4-1-1.4.2-1.4-.2-1.4-.6-1.4-.5-1.4.3-1.4-1.1-1.4.1-1.4-1.4-1.4-.9-1.4-.8-1.4-1.3-1.4 1.1-1.4.6-1.4 1.6-1.4.8-1.4-.1-1.4.9-1.4.7-1.4.1-1.4.8-1.4.4-1.4-1.1-1.4-.7-1.4-.7-1.4-1.4-1.4 1.3-1.4.2-1.4-.5-1.4-.7-1.4-.1-1.4.4-1.4-.2-1.4-1.2-1.4-.7-1.4 4.8z" fill="#efefef" fill-opacity="1.0" stroke="none"/>
<path d="M40.4 359.6l1.4 2.9 1.4 4.9 1.4 2.4 1.4 1.2 1.4.4 1.4.7 1.4 1.4 1.4 1.3 1.4-1.4 1.4-2.7 1.4 1.8 1.4 1.4 1.4 1 1.4 1.4 1.4-.1 1.4-.8 1.4-.1 1.4-1 1.4-1.4 1.4-.4 1.4-1.2 1.4-2.1 1.4-1 1.4-1.2 1.4 2.1 1.4 1.5 1.4 1.3 1.4 1.4 1.4-.1 1.4 1.2 1.4.1 1.4.9 1.4 1 1.4.2 1.4-.3 1.4.8 1.4.3 1.4-.1 1.4.2 1.4 1.2 1.4.2 1.4.2 1.4.9 1.4.3 1.4.9 1.4-.1 1.4-.2 1.4.9 1.4-.9 1.4 0 1.4-.5 1.4.6 1.4-1 1.4.1 1.4-.9 1.4 0 1.4-.2 1.4-.8 1.4-1.2 1.4-1 1.4-1.4 1.4-1.3 1.4-2 1.4-1.1 1.4.7 1.4 3.2 1.4 1.4 1.4-.3 1.4.6 1.4.9 1.4-1.2 1.4-1.7 1.4-.8 1.4-1.8 1.4-2.7 1.4-.9 1.4-.3.4.3 0 1.3-.4-.2-1.4.2-1.4.9-1.4 2.7-1.4 1.8-1.4.9-1.4 1.6-1.4 1.2-1.4-.9-1.4-.6-1.4.4-1.4-1.5-1.4-3.2-1.4-.7-1.4 1.1-1.4 2-1.4 1.3-1.4 1.4-1.4 1.1-1.4 1.1-1.4 1-1.4.4-1.4.3-1.4.9-1.4-.1-1.4.9-1.4-.6-1.4.4-1.4 0-1.4.9-1.4-.9-1.4.2-1.4.2-1.4-.8-1.4 0-1.4-.5-1.4.1-1.4.1-1.4-1.2-1.4-.2-1.4.1-1.4-.5-1.4-1-1.4.2-1.4-.2-1.4-.6-1.4-.5-1.4.3-1.4-1.2-1.4.1-1.4-1.4-1.4-1-1.4-.8-1.4-1.3-1.4 1.1-1.4.6-1.4 1.7-1.4.8-1.4-.1-1.4.9-1.4.8-1.4.1-1.4.8-1.4.3-1.4-1.1-1.4-.7-1.4-.7-1.4-1.5-1.4 1.4-1.4.3-1.4-.6-1.4-.7-1.4-.1-1.4.3-1.4-.3-1.4-1.3-1.4-.9-1.4 4.3z" fill="#e4e4e4" fill-opacity="1.0" stroke="none"/>
<g fill="none" stroke="#c4c4c4" stroke-width="0.4" stroke-opacity="0.3" stroke-linejoin="round">
<path d="M40.4 355.7l1.4 3.4 1.4 6.4 1.4 1.9 1.4 1.7 1.4 2.1 1.4.2 1.4.9 1.4 2.2 1.4-2.3 1.4-3.7 1.4 2.2 1.4 1.2 1.4 1.2 1.4 1.9 1.4.7 1.4-1.9 1.4.3 1.4-.5 1.4-1.2 1.4-1.6 1.4-.1 1.4-3.5 1.4-.1 1.4-1.4 1.4 3.3 1.4 1 1.4.9 1.4 2.7 1.4-1.3 1.4 1.7 1.4.9 1.4.4 1.4 1.5 1.4-.5 1.4.2 1.4.8 1.4-.2 1.4.7 1.4-.5 1.4 1.6 1.4-.1 1.4-.1 1.4 1.2 1.4.7 1.4.8 1.4-.2 1.4-.3 1.4 1.6 1.4-1.6 1.4.6 1.4-1.2 1.4 1.3 1.4-1.4 1.4.1 1.4-1 1.4.1 1.4.4 1.4-1.4 1.4-.8 1.4-1.3 1.4-1.2 1.4-1.2 1.4-2.6 1.4-.4 1.4.3 1.4 3.6 1.4 1.2 1.4-.8 1.4.6 1.4 1.4 1.4-1 1.4-2.1 1.4-.9 1.4-1.3 1.4-2.8 1.4-1.3 1.4-.4.4 1"/>
<path d="M40.4 361.7l1.4-2.8 1.4 8.8 1.4.9 1.4.6 1.4 1.2 1.4 1.7 1.4.5 1.4 1.9 1.4-.3 1.4-3.2 1.4 2.4 1.4.5 1.4 2.7 1.4.6 1.4.4 1.4-.8 1.4-.6 1.4.9 1.4-2.8 1.4 1.9 1.4-.8 1.4-2.1 1.4-.4 1.4-2.8 1.4 1.9 1.4.6 1.4 2.3 1.4-.1 1.4-.4 1.4 3.1 1.4-1 1.4.5 1.4 1.2 1.4-.8 1.4-.4 1.4.5 1.4.9 1.4-2 1.4.7 1.4 1.8 1.4.2 1.4-.6 1.4 1.4 1.4.5 1.4.7 1.4-.5 1.4-.6 1.4 2.3 1.4-1.8 1.4.1 1.4-.4 1.4.8 1.4-1.3 1.4.6 1.4-1.1 1.4.9 1.4-.6 1.4-1 1.4-.6 1.4-1.1 1.4-1.8 1.4-.7 1.4-2.4 1.4-.8 1.4.6 1.4 3.4 1.4 1.4 1.4-.7 1.4.6 1.4 1.2 1.4-1.7 1.4-1.9 1.4-.2 1.4-2 1.4-2.9 1.4-1.2 1.4.1.4.2"/>
<path d="M40.4 370.6l1.4-3.9 1.4 6.2 1.4-.1 1.4 2.1 1.4-1.1 1.4 0 1.4 1.7 1.4.9 1.4-.9 1.4-1.8 1.4 1.2 1.4 1.8 1.4-.7 1.4 2.8 1.4-2 1.4-.1 1.4-.5 1.4-.9 1.4-.8 1.4.8 1.4-2.5 1.4-2.1 1.4-.4 1.4-1.3 1.4 1.2 1.4 1.1 1.4 2.3 1.4 1.3 1.4-1 1.4 2.5 1.4-.1 1.4-.2 1.4.5 1.4.4 1.4.2 1.4 0 1.4.4 1.4.5 1.4-1 1.4 3 1.4-1.1 1.4.2 1.4 1.3 1.4-.4 1.4 1.9 1.4-.7 1.4-.2 1.4 1.5 1.4-2.1 1.4.9 1.4-.6 1.4.5 1.4-1.1 1.4.1 1.4-.8 1.4.4 1.4-.4 1.4-.9 1.4-1.4 1.4-.5 1.4-1.6 1.4-1 1.4-2.9 1.4-.4 1.4.1 1.4 4 1.4 1.3 1.4-.5 1.4.2 1.4 1.5 1.4-1.3 1.4-2 1.4-.6 1.4-1.2 1.4-2.8 1.4-1.4 1.4.3.4.1"/>
<path d="M40.4 367.8l1.4-3.3 1.4 5.8 1.4.7 1.4.6 1.4.9 1.4.5 1.4.8 1.4 1.4 1.4-.5 1.4-2.4 1.4 1.6 1.4-.5 1.4.4 1.4 3.1 1.4-1.6 1.4-1.1 1.4.9 1.4-1.6 1.4-1.2 1.4-.8 1.4-.6 1.4-4.2 1.4 1.2 1.4-2.6 1.4 3 1.4.8 1.4 1.5 1.4 2.2 1.4-.5 1.4 3.5 1.4-1.7 1.4 1.4 1.4 1.9 1.4-.4 1.4-.6 1.4 1.4 1.4.5 1.4-.8 1.4 1.4 1.4 1.7 1.4-.8 1.4.7 1.4.3 1.4-.3 1.4 1.9 1.4-1.2 1.4 0 1.4 1.3 1.4-2.3 1.4.8 1.4-1.1 1.4 1 1.4-1.1 1.4-.2 1.4-1.4 1.4.3 1.4.5 1.4-1.3 1.4-1 1.4-1 1.4-1.2 1.4-1.2 1.4-2.4 1.4-1 1.4.8 1.4 3.4 1.4 1.4 1.4-.5 1.4.3 1.4 2 1.4-1.6 1.4-2 1.4-.3 1.4-1.6 1.4-2.8 1.4-.8 1.4-.6.4.8"/>
<path d="M40.4 366.2l1.4-2.8 1.4 4.4 1.4 2.4 1.4.2 1.4 1.4 1.4 0 1.4 1.8 1.4 1 1.4-.9 1.4-2.9 1.4 1.3 1.4 1.9 1.4.9 1.4 1.8 1.4-1 1.4-1.3 1.4 0 1.4-.2 1.4-2.6 1.4.3 1.4-2.1 1.4-2.7 1.4-1.2 1.4 0 1.4 1.2 1.4 2.1 1.4 2 1.4 2.2 1.4-.2 1.4 1.1 1.4-.9 1.4 2.3 1.4 0 1.4.6 1.4.1 1.4 1.1 1.4 0 1.4.1 1.4-.9 1.4 1.6 1.4.5 1.4.9 1.4 0 1.4.5 1.4 1.5 1.4-.6 1.4.2 1.4.8 1.4-1.5 1.4 1.1 1.4-1.6 1.4 1.3 1.4-1.3 1.4.9 1.4-1.7 1.4.4 1.4 0 1.4-1.1 1.4-1.1 1.4-1.5 1.4-1.1 1.4-1.6 1.4-1.9 1.4-1.4 1.4.6 1.4 3.8 1.4 1.7 1.4-1.5 1.4 1.1 1.4.9 1.4-1.2 1.4-2.3 1.4.1 1.4-1.6 1.4-3.1 1.4-1.3 1.4-.2.4 1"/>
<path d="M40.4 380.3l1.4-4.6 1.4-.9 1.4 2.2 1.4-1.3 1.4-1 1.4.9 1.4-.1 1.4 1.5 1.4-1.1 1.4-2.6 1.4 3.2 1.4-.3 1.4.4 1.4 2.7 1.4-.7 1.4-1.9 1.4.5 1.4-2.1 1.4-.9 1.4 1.4 1.4-2.1 1.4-1 1.4-3.2 1.4-1.6 1.4 2.2 1.4 1.3 1.4 2.8 1.4 2.4 1.4-.8 1.4 1.3 1.4-.8 1.4.9 1.4.7 1.4.6 1.4-1 1.4 2.4 1.4.2 1.4-.6 1.4 1.1 1.4.9 1.4.7 1.4-.4 1.4.7 1.4-.1 1.4 1.3 1.4-.3 1.4-.6 1.4 1.4 1.4-1.4 1.4 0 1.4-.3 1.4 1.1 1.4-1.4 1.4.1 1.4-.9 1.4 0 1.4-.4 1.4-1.1 1.4-1.4 1.4-.8 1.4-1.6 1.4-1 1.4-2.6 1.4-.9 1.4.7 1.4 3.6 1.4 1.7 1.4-1.4 1.4.7 1.4 1.2 1.4-1.2 1.4-2.3 1.4-.1 1.4-1.6 1.4-3.1 1.4-1.4 1.4.1.4.2"/>
<path d="M40.4 367.5l1.4-3.4 1.4 4.6 1.4 3.7 1.4-1 1.4.6 1.4 1.8 1.4 1 1.4.3 1.4-.9 1.4-1.7 1.4 2.9 1.4-.8 1.4 2 1.4 1.5 1.4-1 1.4-.6 1.4 1 1.4-2.2 1.4-.6 1.4 0 1.4-1.8 1.4-1.5 1.4-1.1 1.4-.8 1.4 1 1.4 2.4 1.4 1.6 1.4 2.2 1.4-.4 1.4.3 1.4.5 1.4.1 1.4 1.5 1.4-.3 1.4-.2 1.4.7 1.4 1.4 1.4-1.2 1.4.7 1.4.8 1.4.6 1.4-1 1.4 1.2 1.4-.1 1.4 1.5 1.4-.4 1.4-.9 1.4 2.1 1.4-2.3 1.4.6 1.4-1 1.4 1.1 1.4-1.4 1.4 1.2 1.4-2.1 1.4.7 1.4-.3 1.4-.9 1.4-1.2 1.4-1.5 1.4-.9 1.4-1.7 1.4-2.5 1.4-.7 1.4.8 1.4 3.6 1.4 1.6 1.4-1.4 1.4.9 1.4 1.1 1.4-.9 1.4-2.3 1.4-.2 1.4-1.9 1.4-3.3 1.4-1 1.4 0 .4.9"/>
<path d="M40.4 354.4l1.4 6.1 1.4 7.3 1.4 2.2 1.4-.1 1.4.2 1.4 1.2 1.4 1.7 1.4 1.4 1.4-.2 1.4-5 1.4 2.5 1.4 1.6 1.4 1.5 1.4 1 1.4-.5 1.4.1 1.4-.6 1.4.4 1.4-1.9 1.4-.5 1.4.3 1.4-3.7 1.4.8 1.4-3.7 1.4 1.9 1.4 2.2 1.4 1.6 1.4 2.2 1.4-1.6 1.4 2.9 1.4-1.2 1.4 2 1.4.9 1.4 0 1.4-1.9 1.4 1.2 1.4.2 1.4.2 1.4-.5 1.4 1.9 1.4-.2 1.4 1.3 1.4.3 1.4-.1 1.4 1.2 1.4-.2 1.4-.7 1.4 2.1 1.4-1.4 1.4 0 1.4-1.4 1.4 1.6 1.4-1.3 1.4-.1 1.4-.7 1.4-.4 1.4.3 1.4-.7 1.4-1.4 1.4-1.3 1.4-.8 1.4-1.3 1.4-2.8 1.4-.5 1.4.1 1.4 4 1.4 1.6 1.4-1.1 1.4.6 1.4 1.5 1.4-1.5 1.4-2.3 1.4-.2 1.4-1.7 1.4-2.6 1.4-1.5 1.4.6.4.3"/>
<path d="M40.4 351.4l1.4 6.4 1.4 6.5 1.4 3.1 1.4 2.1 1.4-.3 1.4 1.4 1.4 1.6 1.4 1.3 1.4-.3 1.4-4.7 1.4 2.2 1.4 1.2 1.4 2.5 1.4.9 1.4.9 1.4-.6 1.4-.8 1.4-.7 1.4-1 1.4-.8 1.4-1.6 1.4-.9 1.4-.4 1.4-3.9 1.4 3.8 1.4-.6 1.4 3 1.4.8 1.4.7 1.4-.1 1.4-.1 1.4 1.3 1.4 1.4 1.4.3 1.4-1.3 1.4 1.1 1.4.3 1.4-.5 1.4.8 1.4 1.2 1.4 0 1.4.2 1.4 1.2 1.4.3 1.4 1.3 1.4 0 1.4-.8 1.4 2 1.4-1.3 1.4.1 1.4-1.3 1.4 1.5 1.4-1 1.4-.3 1.4-.3 1.4-.4 1.4 0 1.4-1 1.4-.6 1.4-1.6 1.4-1.1 1.4-1.2 1.4-2.5 1.4-.5 1.4.2 1.4 3.3 1.4 1.7 1.4-1.2 1.4 1.1 1.4.8 1.4-1.1 1.4-2.2 1.4-.3 1.4-1.7 1.4-3 1.4-1 1.4-.1.4.7"/>
<path d="M40.4 374.5l1.4-4.8 1.4 1 1.4 3.3 1.4.4 1.4-.1 1.4.5 1.4 1.4 1.4.5 1.4.3 1.4-2.6 1.4 2.2 1.4-.4 1.4 2.4 1.4.5 1.4.8 1.4-1.4 1.4.4 1.4-1.1 1.4-.9 1.4-.6 1.4-.6 1.4-1.1 1.4-1 1.4-1 1.4 1.4 1.4 1.3 1.4.5 1.4.6 1.4.7 1.4.7 1.4-.9 1.4.9 1.4 1.5 1.4-.1 1.4-1.2 1.4 1.8 1.4-.1 1.4-1.2 1.4 1.1 1.4 2 1.4-.7 1.4-.7 1.4 1.1 1.4-.4 1.4 1.4 1.4-.5 1.4.3 1.4 1.3 1.4-1.6 1.4.4 1.4-.5 1.4.9 1.4-1.6 1.4.7 1.4-1 1.4-.1 1.4-.3 1.4-.8 1.4-1.1 1.4-1.3 1.4-1.4 1.4-.8 1.4-2.4 1.4-.8 1.4.5 1.4 3.6 1.4 1.3 1.4-.9 1.4.6 1.4 1.5 1.4-1.8 1.4-1.5 1.4-.9 1.4-1.6 1.4-2.9 1.4-.8 1.4-.2.4.5"/>
<path d="M40.4 372.6l1.4-3.9 1.4 3.7 1.4 3 1.4.6 1.4-2.4 1.4 2.4 1.4-.4 1.4 1 1.4.2 1.4-2 1.4 1 1.4 1.6 1.4-.6 1.4 2.9 1.4-.5 1.4-1.1 1.4-1 1.4-.5 1.4-2.1 1.4.7 1.4-.8 1.4-2.9 1.4.3 1.4-.5 1.4 1.2 1.4 0 1.4.7 1.4 1.9 1.4.9 1.4.5 1.4 0 1.4.2 1.4 1.7 1.4-.9 1.4-.1 1.4 1.1 1.4.6 1.4-1 1.4.9 1.4 2.2 1.4-1.4 1.4-.3 1.4 1.2 1.4.1 1.4 1.8 1.4-1.2 1.4-.5 1.4 1.9 1.4-1.5 1.4-.1 1.4-.2 1.4.8 1.4-.8 1.4-.4 1.4-.8 1.4-.2 1.4-.1 1.4-.4 1.4-1.2 1.4-1.1 1.4-1.6 1.4-1.1 1.4-2.7 1.4-.8 1.4.6 1.4 3.7 1.4 1.6 1.4-.9 1.4.5 1.4 1.4 1.4-1 1.4-2 1.4-.7 1.4-1.4 1.4-3.4 1.4-.6 1.4 0 .4.2"/>
<path d="M40.4 374.8l1.4.7 1.4.1 1.4-.5 1.4.4 1.4-1.1 1.4 1.1 1.4 1.6 1.4-.7 1.4-.4 1.4-.8 1.4 1.9 1.4-.8 1.4.9 1.4 1.6 1.4-.3 1.4-.5 1.4.3 1.4-1.5 1.4-1.5 1.4 1.2 1.4-1.1 1.4-1.1 1.4-2.6 1.4.5 1.4 1.9 1.4-.2 1.4.5 1.4 2.8 1.4.5 1.4 1.6 1.4-1.4 1.4 1.2 1.4-.1 1.4.9 1.4-.7 1.4 1.5 1.4-.1 1.4-.4 1.4.1 1.4 1.8 1.4-.4 1.4-.8 1.4 1 1.4-.6 1.4 1.8 1.4-.3 1.4-1.1 1.4 1.5 1.4-1 1.4.1 1.4-.8 1.4 1 1.4-1.1 1.4-.1 1.4-1 1.4.4 1.4-.7 1.4-.9 1.4-1 1.4-1 1.4-1.4 1.4-1.3 1.4-2.4 1.4-.5 1.4.5 1.4 3.6 1.4 1.4 1.4-1.1 1.4 1 1.4 1.4 1.4-1.3 1.4-2 1.4-.5 1.4-1.5 1.4-3 1.4-1.3 1.4.1.4.4"/>
</g>
<g fill="none" stroke="#c8323a" stroke-width="0.38" stroke-opacity="0.42" stroke-linejoin="round">
<path d="M40.4 379.4l1.4-3 1.4 3.3 1.4.3 1.4 2.3 1.4-1 1.4 1.5 1.4-.3 1.4.1 1.4-.1 1.4-1.7 1.4 0 1.4.7 1.4-.5 1.4.3 1.4.1 1.4 1.1 1.4.4 1.4-.2 1.4-.9 1.4 1.2 1.4-1.3 1.4-.3 1.4-.7 1.4-1 1.4-.2 1.4 1.5 1.4.7 1.4.9 1.4.3 1.4-.3 1.4-.4 1.4.8 1.4.4 1.4-.6 1.4 1 1.4-1.7 1.4.3 1.4.1 1.4 1.5 1.4-.6 1.4-.3 1.4-.6 1.4.2 1.4.5 1.4-1.1 1.4-.4 1.4-.1 1.4.9 1.4.9 1.4-.6 1.4-.5 1.4.2 1.4-1 1.4.9 1.4-2.3 1.4-.3 1.4-.8 1.4.5 1.4-1.9 1.4-.1 1.4-2.4 1.4-1.3 1.4-2.1 1.4-.2 1.4.6 1.4 2.2 1.4.7 1.4 1 1.4.6 1.4 1 1.4-1.1 1.4-1 1.4-2.3 1.4-2.8 1.4-.2 1.4-.6 1.4-2.1.4.4"/>
<path d="M40.4 376.8l1.4-1.2 1.4 3.1 1.4.2 1.4 2 1.4-.3 1.4 1.5 1.4.2 1.4.1 1.4-.4 1.4-2.2 1.4.3 1.4.1 1.4-.7 1.4.8 1.4-.2 1.4 1.4 1.4 0 1.4.2 1.4-1.4 1.4 1.4 1.4-.8 1.4-.9 1.4-.6 1.4-1.2 1.4-.1 1.4 2 1.4.9 1.4.8 1.4.7 1.4-.8 1.4-.1 1.4.7 1.4.4 1.4-.4 1.4.8 1.4-1.2 1.4.5 1.4-.1 1.4 1.2 1.4-.7 1.4.1 1.4-.8 1.4.5 1.4.4 1.4-1.2 1.4-.1 1.4.1 1.4.9 1.4.4 1.4-.2 1.4-.6 1.4.1 1.4-.6 1.4.6 1.4-1.8 1.4-.9 1.4-.4 1.4.5 1.4-2.1 1.4.1 1.4-2.3 1.4-1.3 1.4-2.4 1.4.4 1.4.4 1.4 1.8 1.4 1.2 1.4 1.2 1.4-.2 1.4 1.6 1.4-1 1.4-1.7 1.4-2.2 1.4-2.3 1.4-1.2 1.4-.3 1.4-2.1.4.4"/>
<path d="M40.4 379.9l1.4-2.7 1.4 3.4 1.4 0 1.4 2.1 1.4-1.3 1.4 1.7 1.4-.3 1.4.2 1.4-.1 1.4-1.8 1.4-.2 1.4.9 1.4-.2 1.4-.2 1.4.4 1.4 1 1.4.1 1.4-.1 1.4-.6 1.4 1 1.4-.4 1.4-1.1 1.4.2 1.4-.7 1.4-.7 1.4 1.6 1.4.4 1.4.5 1.4.6 1.4-.5 1.4-.3 1.4 1 1.4.5 1.4-.8 1.4.9 1.4-1.6 1.4.3 1.4 0 1.4 1.3 1.4-.5 1.4 0 1.4-.9 1.4.4 1.4.5 1.4-1.2 1.4-.2 1.4-.1 1.4.8 1.4.7 1.4-.6 1.4-.5 1.4-.1 1.4-.8 1.4.9 1.4-1.5 1.4-1.2 1.4-.7 1.4.8 1.4-2 1.4 0 1.4-2.5 1.4-1.4 1.4-2.4 1.4.6 1.4.5 1.4 1.7 1.4 1.2 1.4.9 1.4.6 1.4 1.3 1.4-.7 1.4-1.6 1.4-2.4 1.4-2.4 1.4-.4 1.4-.9 1.4-1.7.4.6"/>
<path d="M40.4 380.2l1.4-3.2 1.4 3.8 1.4 0 1.4 2 1.4-1 1.4 1.6 1.4-.4 1.4.1 1.4-.3 1.4-1.4 1.4.4 1.4.8 1.4-.6 1.4.2 1.4 0 1.4 1.2 1.4-.2 1.4.2 1.4-1.2 1.4 1.5 1.4-.8 1.4-.8 1.4-.2 1.4-.7 1.4-.5 1.4 1.3 1.4.4 1.4.4 1.4.8 1.4-.6 1.4-.3 1.4 1.1 1.4.3 1.4-.7 1.4.9 1.4-1.7 1.4.5 1.4-.1 1.4 1.3 1.4-.5 1.4-.1 1.4-1 1.4.7 1.4.7 1.4-1.9 1.4.2 1.4-.2 1.4.8 1.4.9 1.4-.6 1.4-.6 1.4.2 1.4-.7 1.4.7 1.4-1.3 1.4-.7 1.4-.5 1.4.2 1.4-1.9 1.4-.1 1.4-2.6 1.4-1.1 1.4-2.3 1.4.2 1.4.7 1.4 2 1.4.8 1.4 1.1 1.4.5 1.4 1 1.4-.9 1.4-1.8 1.4-2.3 1.4-2.3 1.4-.7 1.4-.7 1.4-1.6.4.4"/>
<path d="M40.4 380.3l1.4-3.7 1.4 3.1 1.4-.1 1.4 3.3 1.4-1.7 1.4 1.6 1.4 0 1.4-.1 1.4.1 1.4-1.8 1.4 0 1.4 1 1.4-1.2 1.4.8 1.4.1 1.4 1.3 1.4-.4 1.4.4 1.4-1 1.4 1 1.4-.9 1.4-.6 1.4-.3 1.4-1 1.4-.4 1.4 2.1 1.4.3 1.4.3 1.4.9 1.4-.6 1.4-.7 1.4 1.3 1.4.3 1.4-.8 1.4 1 1.4-1.3 1.4.3 1.4-.1 1.4 1.2 1.4-.5 1.4 0 1.4-.8 1.4.4 1.4.6 1.4-1.3 1.4-.1 1.4.2 1.4.5 1.4.7 1.4-.4 1.4-.4 1.4-.1 1.4-.7 1.4.7 1.4-1.8 1.4-.1 1.4-1.1 1.4.7 1.4-2.4 1.4.2 1.4-2.3 1.4-1 1.4-2.2 1.4-.3 1.4.5 1.4 2.5 1.4.8 1.4 1.2 1.4-.1 1.4 1.5 1.4-.9 1.4-1.3 1.4-2.4 1.4-2.5 1.4-.6 1.4-1.1 1.4-1.4.4.5"/>
<path d="M40.4 380.1l1.4-3.3 1.4 3.7 1.4-1.2 1.4 2.6 1.4-.8 1.4 2 1.4-.3 1.4 0 1.4 0 1.4-2 1.4-.1 1.4 1.4 1.4-.7 1.4.4 1.4.1 1.4 1.1 1.4.3 1.4-.6 1.4-1 1.4 1.5 1.4-.3 1.4-1.2 1.4.2 1.4-.9 1.4-.7 1.4 1.7 1.4.5 1.4.5 1.4.6 1.4-.6 1.4-.2 1.4 1 1.4.5 1.4-.8 1.4.9 1.4-1.6 1.4.3 1.4 0 1.4 1.3 1.4-.5 1.4 0 1.4-1 1.4.5 1.4.7 1.4-1.4 1.4-.1 1.4 0 1.4.7 1.4.7 1.4-.9 1.4-.3 1.4-.1 1.4-.6 1.4.6 1.4-1.8 1.4-.9 1.4-.4 1.4.1 1.4-1.9 1.4.1 1.4-2.1 1.4-1.4 1.4-2.5 1.4.4 1.4.4 1.4 2 1.4.8 1.4 1.3 1.4.3 1.4 1.2 1.4-1.2 1.4-1.3 1.4-2.2 1.4-2.5 1.4-.6 1.4-.4 1.4-2.1.4.8"/>
<path d="M40.4 377.4l1.4-1.7 1.4 2.5 1.4.6 1.4 3 1.4-.7 1.4 1.6 1.4-.1 1.4-.1 1.4-.4 1.4-1.9 1.4.4 1.4.8 1.4-.8 1.4.1 1.4.8 1.4.9 1.4 0 1.4.3 1.4-1.1 1.4 1.2 1.4-.6 1.4-.8 1.4-.4 1.4-1.1 1.4-.6 1.4 2.4 1.4.1 1.4.8 1.4.4 1.4-.3 1.4-.2 1.4.9 1.4.1 1.4-.3 1.4.6 1.4-1.5 1.4.6 1.4 0 1.4 1 1.4-.3 1.4-.2 1.4-.7 1.4.4 1.4.3 1.4-1.4 1.4 0 1.4-.1 1.4 1.2 1.4.3 1.4-.5 1.4-.2 1.4-.3 1.4-.6 1.4.9 1.4-1.7 1.4-.8 1.4-1 1.4.2 1.4-1.6 1.4-.2 1.4-2.3 1.4-1.2 1.4-2.1 1.4-.4 1.4 1.2 1.4 1.4 1.4 1.1 1.4.7 1.4.3 1.4 1.5 1.4-.8 1.4-1.5 1.4-2.8 1.4-2 1.4-.6 1.4-.7 1.4-2 .4.1"/>
<path d="M40.4 378.7l1.4-3 1.4 3.9 1.4-.7 1.4 2.4 1.4-.3 1.4 1.7 1.4-.3 1.4 0 1.4-.2 1.4-2.2 1.4.2 1.4.8 1.4-.6 1.4.3 1.4-.2 1.4 1.5 1.4.1 1.4-.3 1.4-1.2 1.4 1.4 1.4-.6 1.4-.7 1.4-.3 1.4-1.7 1.4.1 1.4 1.7 1.4.8 1.4.6 1.4.7 1.4-.3 1.4-.6 1.4 1.3 1.4.3 1.4-.9 1.4 1.3 1.4-1.8 1.4.4 1.4.2 1.4 1.3 1.4-.5 1.4-.4 1.4-.8 1.4.6 1.4.8 1.4-1.6 1.4.2 1.4-.4 1.4.8 1.4.9 1.4-.3 1.4-.8 1.4.2 1.4-.7 1.4.4 1.4-1.2 1.4-1.2 1.4 0 1.4.1 1.4-2.4 1.4.2 1.4-2.3 1.4-1.5 1.4-1.7 1.4-.2 1.4.5 1.4 2 1.4 1.1 1.4 1.1 1.4.4 1.4.8 1.4-.8 1.4-1.4 1.4-2.3 1.4-2.7 1.4-.7 1.4-.1 1.4-1.8.4-.1"/>
<path d="M40.4 378.6l1.4-2 1.4 3.5 1.4.1 1.4 2.4 1.4-1.2 1.4 1.8 1.4-.4 1.4.3 1.4-.1 1.4-2 1.4.4 1.4.9 1.4-.6 1.4 0 1.4.4 1.4 1.4 1.4.1 1.4-.2 1.4-1 1.4 1.2 1.4-.7 1.4-.8 1.4-.2 1.4-.7 1.4-.5 1.4 1.5 1.4.3 1.4.5 1.4.6 1.4-.6 1.4-.2 1.4 1 1.4.5 1.4-.8 1.4.6 1.4-1.3 1.4.2 1.4 0 1.4 1.4 1.4-.7 1.4.1 1.4-1.2 1.4.6 1.4.4 1.4-1.2 1.4.1 1.4-.4 1.4 1 1.4.7 1.4-.8 1.4-.5 1.4.2 1.4-.7 1.4.9 1.4-1.6 1.4-.9 1.4-.7 1.4.4 1.4-1.9 1.4-.2 1.4-2 1.4-1.8 1.4-1.7 1.4 0 1.4.4 1.4 1.9 1.4 1.2 1.4.9 1.4.5 1.4 1.6 1.4-1 1.4-1.6 1.4-2.3 1.4-2.6 1.4-.3 1.4-.7 1.4-1.8.4.4"/>
<path d="M40.4 380l1.4-3.9 1.4 4.3 1.4.1 1.4 2.2 1.4-1.2 1.4 1.7 1.4-.2 1.4.3 1.4-.1 1.4-1.7 1.4.2 1.4.9 1.4-.6 1.4.2 1.4.1 1.4 1.2 1.4.1 1.4-.2 1.4-1 1.4 1.3 1.4-.8 1.4-.7 1.4-.4 1.4-.6 1.4-.6 1.4 1.6 1.4.2 1.4.6 1.4.5 1.4-.4 1.4-.6 1.4 1.3 1.4 0 1.4-.5 1.4.6 1.4-1.4 1.4.3 1.4-.1 1.4 1.4 1.4-.6 1.4-.1 1.4-.7 1.4.2 1.4.4 1.4-1 1.4.1 1.4-.5 1.4.9 1.4.9 1.4-.6 1.4-.4 1.4-.1 1.4-.6 1.4.8 1.4-1.4 1.4-.5 1.4-.6 1.4.3 1.4-1.9 1.4-.2 1.4-2.2 1.4-1.4 1.4-2.1 1.4 0 1.4.8 1.4 1.9 1.4.8 1.4 1.2 1.4.4 1.4 1.1 1.4-.9 1.4-1.4 1.4-2.4 1.4-2.5 1.4-.6 1.4-.7 1.4-1.8.4.3"/>
<path d="M40.4 380.3l1.4-2.7 1.4 2.7 1.4-.6 1.4 2.6 1.4-.6 1.4 1.5 1.4-.5 1.4.4 1.4-.3 1.4-2.2 1.4.9 1.4.2 1.4-.5 1.4.5 1.4.2 1.4.8 1.4.5 1.4-.6 1.4-1.2 1.4 1.3 1.4-.7 1.4-.5 1.4-.6 1.4-.3 1.4-.9 1.4 1.6 1.4.8 1.4.3 1.4.6 1.4-.1 1.4-.7 1.4 1 1.4.5 1.4-.8 1.4 1.1 1.4-1.4 1.4.2 1.4.1 1.4 1.1 1.4-.5 1.4 0 1.4-.7 1.4.4 1.4.9 1.4-1.7 1.4-.1 1.4 0 1.4.8 1.4.9 1.4-.7 1.4-.5 1.4 0 1.4-.7 1.4.9 1.4-1.4 1.4-1 1.4-.3 1.4.3 1.4-1.9 1.4-.5 1.4-1.9 1.4-1.5 1.4-2 1.4 0 1.4.8 1.4 1.9 1.4.7 1.4 1.3 1.4.2 1.4.8 1.4-.6 1.4-1.4 1.4-2.2 1.4-2.7 1.4-.7 1.4-.5 1.4-2 .4.3"/>
<path d="M40.4 381l1.4-2.5 1.4 3 1.4-.4 1.4 2.2 1.4-1.3 1.4 1.6 1.4-.4 1.4.1 1.4-.1 1.4-1.7 1.4.3 1.4.8 1.4-.6 1.4-.1 1.4.4 1.4.9 1.4.2 1.4-.1 1.4-1.2 1.4 1.3 1.4-1.1 1.4-.6 1.4-.3 1.4-.8 1.4-1 1.4 2 1.4.5 1.4.5 1.4.4 1.4-.2 1.4-.4 1.4.9 1.4.8 1.4-1 1.4.9 1.4-1.5 1.4.3 1.4 0 1.4 1.3 1.4-.5 1.4-.1 1.4-.5 1.4.3 1.4.7 1.4-1.3 1.4.1 1.4-.2 1.4.8 1.4.6 1.4-.6 1.4-.4 1.4 0 1.4-.8 1.4 1 1.4-1.6 1.4-.7 1.4-.5 1.4.2 1.4-1.9 1.4 0 1.4-2.4 1.4-1.3 1.4-2.2 1.4-.1 1.4.7 1.4 2 1.4.5 1.4 1.6 1.4.4 1.4 1.1 1.4-1.2 1.4-1.5 1.4-2.3 1.4-2.8 1.4-.8 1.4-.5 1.4-1.5.4.1"/>
</g>
<path d="M117.3 378.4l1.4-.3 1.4-.2 1.4-.4 1.4-1.3 1.4-.8 1.4-2.4 1.4-1 1.4-.9 1.4-1.8 1.4.8 1.4 1.6 1.4 2 1.4.3 1.4.9 1.4.5 1.4-1.8 1.4-.8 1.4-1.3 1.4-1.4 1.4-2.3 1.4-1.7 1.4.3.5-1 0 4.1-.5-.4-1.4.3-1.4 2.1-1.4 1.3-1.4 2.1-1.4 2.3-1.4 1-1.4.3-1.4.4-1.4-1.1-1.4-.4-1.4-2.1-1.4-1.7-1.4-.8-1.4 1.8-1.4 1.4-1.4.8-1.4 1.4-1.4.8-1.4 1-1.4.7-1.4 1-1.4 1.1z" fill="#dcdcdc" fill-opacity="0.55" stroke="none"/>
</g>
<rect x="34.70" y="345.80" width="119.60" height="40.20" fill="none" stroke="#9a9a9a" stroke-width="0.9"/>
<line x1="32.20" y1="384.10" x2="34.70" y2="384.10" stroke="#333" stroke-width="0.6"/>
<text x="30.90" y="387.10" font-size="8.4" text-anchor="end" fill="#333" stroke="#333" stroke-width="0.06">0</text>
<line x1="32.20" y1="374.30" x2="34.70" y2="374.30" stroke="#333" stroke-width="0.6"/>
<text x="30.90" y="377.30" font-size="8.4" text-anchor="end" fill="#333" stroke="#333" stroke-width="0.06">20</text>
<line x1="32.20" y1="364.40" x2="34.70" y2="364.40" stroke="#333" stroke-width="0.6"/>
<text x="30.90" y="367.40" font-size="8.4" text-anchor="end" fill="#333" stroke="#333" stroke-width="0.06">40</text>
<line x1="32.20" y1="354.30" x2="34.70" y2="354.30" stroke="#333" stroke-width="0.6"/>
<text x="30.90" y="357.30" font-size="8.4" text-anchor="end" fill="#333" stroke="#333" stroke-width="0.06">60</text>
<line x1="40.40" y1="386.00" x2="40.40" y2="388.50" stroke="#333" stroke-width="0.6"/>
<line x1="76.50" y1="386.00" x2="76.50" y2="388.50" stroke="#333" stroke-width="0.6"/>
<line x1="112.60" y1="386.00" x2="112.60" y2="388.50" stroke="#333" stroke-width="0.6"/>
<line x1="148.60" y1="386.00" x2="148.60" y2="388.50" stroke="#333" stroke-width="0.6"/>
<text x="43.90" y="356.00" font-size="9.8" text-anchor="start" fill="#000" stroke="#000" stroke-width="0.06">CS:chr1A</text>
<defs><clipPath id="cd2"><rect x="34.7" y="397.2" width="119.6" height="40.0"/></clipPath></defs>
<rect x="34.70" y="397.20" width="119.60" height="40.00" fill="#fff"/>
<line x1="34.70" y1="435.10" x2="154.30" y2="435.10" stroke="#ebebeb" stroke-width="0.6"/>
<line x1="34.70" y1="424.30" x2="154.30" y2="424.30" stroke="#ebebeb" stroke-width="0.6"/>
<line x1="34.70" y1="413.30" x2="154.30" y2="413.30" stroke="#ebebeb" stroke-width="0.6"/>
<line x1="34.70" y1="401.90" x2="154.30" y2="401.90" stroke="#ebebeb" stroke-width="0.6"/>
<line x1="40.40" y1="397.20" x2="40.40" y2="437.20" stroke="#ebebeb" stroke-width="0.6"/>
<line x1="76.50" y1="397.20" x2="76.50" y2="437.20" stroke="#ebebeb" stroke-width="0.6"/>
<line x1="112.60" y1="397.20" x2="112.60" y2="437.20" stroke="#ebebeb" stroke-width="0.6"/>
<line x1="148.60" y1="397.20" x2="148.60" y2="437.20" stroke="#ebebeb" stroke-width="0.6"/>
<g clip-path="url(#cd2)">
<path d="M40.4 410.2l1.4 1.5 1.4 1.7 1.4 1.2 1.4 3.6 1.4 4.2 1.4 1.8 1.4 1.8 1.4.1 1.4-1 1.4-.7 1.4-3 1.4-3 1.4-1.7 1.4.2 1.4 4 1.4 5.4 1.4 2.2 1.4 1.3 1.4 1.3 1.4-1.8 1.4-3.1 1.4-.8 1.4-1.4 1.4-1.6 1.4-.7 1.4-1.7 1.4-1.1 1.4-1.3 1.4.6 1.4 2.4 1.4 3.1 1.4-1.6 1.4-2 1.4-1.7 1.4 2.7 1.4 2.1 1.4-2.6 1.4-1.7 1.4-2.7 1.4 1.6 1.4 1.2 1.4 2.9 1.4.1 1.4 1.8 1.4.1 1.4-.6 1.4-1 1.4-.9 1.4 2.1 1.4 2.9 1.4 1.6 1.4.2 1.4.7 1.4-.4 1.4.4 1.4.4 1.4.3 1.4-.2 1.4.9 1.4-.7 1.4-.7 1.4-.1 1.4-.7 1.4 0 1.4-1.6 1.4-1.8 1.4-1.6 1.4-.8 1.4 2.4 1.4 2.2 1.4-1 1.4-.9 1.4.2 1.4.2 1.4.5 1.4-1.6 1.4-1.1.4-.6 0 1.9-.4.6-1.4 1.1-1.4 1.6-1.4-.5-1.4-.2-1.4-.2-1.4.9-1.4 1-1.4-2.2-1.4-2.4-1.4.8-1.4 1.6-1.4 1.8-1.4 1.6-1.4 0-1.4.7-1.4.1-1.4.7-1.4.7-1.4-.9-1.4.2-1.4-.3-1.4-.4-1.4-.2-1.4.7-1.4-.5-1.4 0-1.4-.7-1.4-1.8-1.4-1.3-1.4.7-1.4.7-1.4.3-1.4.1-1.4-1.5-1.4.3-1.4-1.9-1.4-.1-1.4-1.1-1.4 1.9-1.4.8-1.4 1.8-1.4-.9-1.4-1.3-1.4.9-1.4.9-1.4 1-1.4-2.1-1.4-1.3-1.4-.3-1.4.8-1.4.5-1.4 1.1-1.4.1-1.4 1-1.4.9-1.4.1-1.4 2.5-1.4 1-1.4-.5-1.4-.7-1.4-.9-1.4-2.6-1.4-1.2-1.4.1-1.4.1-1.4 1.3-1.4 1.4-1.4-.1-1.4 1-1.4-.1-1.4-.7-1.4-.4-1.4-1.8-1.4-.7-1.4-.5-1.4-1.7-1.4.5z" fill="#efefef" fill-opacity="1.0" stroke="none"/>
<path d="M40.4 414.3l1.4 1 1.4 1.6 1.4 1.1 1.4 2.9 1.4 3.6 1.4 1.4 1.4 1.5 1.4.1 1.4-1 1.4-.5 1.4-2.6 1.4-2.6 1.4-1.2 1.4.1 1.4 3.3 1.4 4.7 1.4 1.8 1.4 1.2 1.4 1.1 1.4-1.6 1.4-2.9 1.4-.6 1.4-1.4 1.4-1.4 1.4-.6 1.4-1.5 1.4-.9 1.4-1.2 1.4.5 1.4 2.1 1.4 2.9 1.4-1.5 1.4-1.7 1.4-1.5 1.4 2.3 1.4 1.9 1.4-2.4 1.4-1.5 1.4-2.5 1.4 1.4 1.4 1 1.4 2.7 1.4-.1 1.4 1.8 1.4 0 1.4-.5 1.4-.9 1.4-.9 1.4 1.9 1.4 2.6 1.4 1.4 1.4.2 1.4.6 1.4-.5 1.4.4 1.4.4 1.4.2 1.4-.1 1.4.9 1.4-.7 1.4-.8 1.4-.1 1.4-.6 1.4 0 1.4-1.6 1.4-1.8 1.4-1.7 1.4-.7 1.4 2.3 1.4 2.3 1.4-1 1.4-1 1.4.3 1.4.2 1.4.5 1.4-1.7 1.4-1 .4-.6 0 1.3-.4.6-1.4 1.1-1.4 1.6-1.4-.5-1.4-.2-1.4-.2-1.4.9-1.4 1-1.4-2.2-1.4-2.4-1.4.8-1.4 1.6-1.4 1.8-1.4 1.6-1.4 0-1.4.7-1.4.1-1.4.7-1.4.7-1.4-.9-1.4.2-1.4-.3-1.4-.4-1.4-.2-1.4.6-1.4-.4-1.4 0-1.4-.8-1.4-1.8-1.4-1.4-1.4.7-1.4.8-1.4.3-1.4.1-1.4-1.5-1.4.3-1.4-2-1.4-.2-1.4-1.1-1.4 1.9-1.4.9-1.4 1.8-1.4-1-1.4-1.3-1.4.9-1.4 1-1.4 1-1.4-2.1-1.4-1.4-1.4-.3-1.4.8-1.4.5-1.4 1.1-1.4.2-1.4 1.1-1.4.9-1.4.1-1.4 2.5-1.4 1.1-1.4-.6-1.4-.7-1.4-1-1.4-2.7-1.4-1.3-1.4.1-1.4.1-1.4 1.4-1.4 1.5-1.4-.1-1.4 1-1.4-.1-1.4-.7-1.4-.5-1.4-1.9-1.4-.9-1.4-.5-1.4-1.7-1.4.4z" fill="#e4e4e4" fill-opacity="1.0" stroke="none"/>
<g fill="none" stroke="#c4c4c4" stroke-width="0.4" stroke-opacity="0.3" stroke-linejoin="round">
<path d="M40.4 409.5l1.4 1.6 1.4 1.9 1.4.7 1.4 3.7 1.4 4.8 1.4 2 1.4 1.8 1.4.3 1.4-1.6 1.4-.3 1.4-3.4 1.4-1.9 1.4-2.7 1.4.5 1.4 5.3 1.4 4.5 1.4 3.1 1.4.2 1.4 1.9 1.4-2 1.4-4 1.4.6 1.4-.9 1.4-3.2 1.4.6 1.4-1.1 1.4-3 1.4-.1 1.4-.1 1.4 2.2 1.4 3.9 1.4-2.6 1.4-2.1 1.4-1.8 1.4 3.8 1.4.9 1.4-2.4 1.4-.7 1.4-4 1.4 2.5 1.4 0 1.4 3.6 1.4-.6 1.4 2.4 1.4-.2 1.4-.5 1.4-1.1 1.4-1.1 1.4 2.4 1.4 3.4 1.4 1 1.4.3 1.4 1.1 1.4-.9 1.4.9 1.4.5 1.4.1 1.4-.4 1.4 1.5 1.4-1 1.4-1.2 1.4.6 1.4-1.4 1.4.5 1.4-1.8 1.4-1.5 1.4-1.7 1.4-.5 1.4 1.8 1.4 2.7 1.4-1.3 1.4-.8 1.4.5 1.4-.2 1.4 1 1.4-1.8 1.4-1.1.4-.9"/>
<path d="M40.4 423.3l1.4-3.3 1.4 5.4 1.4.8 1.4-.7 1.4 2.7 1.4 1 1.4-.1 1.4 1.4 1.4-1.1 1.4.6 1.4-2.8 1.4-2.3 1.4 1 1.4-2.8 1.4 1.9 1.4 5.6 1.4-.2 1.4 1.3 1.4 1.3 1.4-.9 1.4-3.6 1.4-.8 1.4-.4 1.4-2.7 1.4.4 1.4-1.3 1.4.5 1.4-3.2 1.4.8 1.4 1.5 1.4 2.9 1.4-1.6 1.4-.5 1.4-1.5 1.4 2 1.4 2.6 1.4-3.9 1.4.2 1.4-3.7 1.4 2 1.4 2.1 1.4 2.7 1.4-.6 1.4.7 1.4.9 1.4-1 1.4 0 1.4-1.3 1.4 1.4 1.4 2.7 1.4.2 1.4.4 1.4 1 1.4-1.2 1.4.5 1.4.6 1.4-.3 1.4 0 1.4 1.4 1.4-1.2 1.4-1.2 1.4.2 1.4-1.2 1.4.6 1.4-1.8 1.4-2.2 1.4-1.1 1.4-.7 1.4 2.2 1.4 2.2 1.4-1.2 1.4-1 1.4.7 1.4-.5 1.4 1 1.4-1.5 1.4-.6.4-1.2"/>
<path d="M40.4 420.2l1.4 1.9 1.4 1.8 1.4-1.1 1.4 3.2 1.4 4.6 1.4-.4 1.4-.2 1.4.8 1.4-1.7 1.4.9 1.4-1.8 1.4-3.2 1.4 1.2 1.4 1.8 1.4-1.1 1.4 4.2 1.4 1.5 1.4-.2 1.4.6 1.4-1 1.4-4 1.4-.1 1.4-1.5 1.4-.6 1.4-.2 1.4-1.8 1.4-2.5 1.4-1 1.4 2 1.4.9 1.4 2 1.4-.7 1.4-2.7 1.4-2 1.4 4.4 1.4 1.4 1.4-3.4 1.4-1.2 1.4-1.3 1.4 1 1.4 1.4 1.4 1.2 1.4.7 1.4 1.7 1.4.6 1.4.3 1.4-2.5 1.4.6 1.4 2.1 1.4 2.1 1.4.5 1.4.5 1.4 1.1 1.4-1.1 1.4.4 1.4.4 1.4.3 1.4-.4 1.4 1.6 1.4-1.3 1.4-.7 1.4.2 1.4-1 1.4.1 1.4-1.5 1.4-2 1.4-1.7 1.4-.3 1.4 2.2 1.4 2.3 1.4-1.1 1.4-1.5 1.4.7 1.4-.6 1.4 1.3 1.4-2.4 1.4-.5.4-.6"/>
<path d="M40.4 413.1l1.4-1.3 1.4 5.7 1.4-3.5 1.4 5.5 1.4 4.2 1.4.1 1.4 3.2 1.4.3 1.4-2.1 1.4-.6 1.4-3.1 1.4-3.4 1.4.1 1.4 1.5 1.4.5 1.4 6.6 1.4 2.6 1.4 1.4 1.4 1.2 1.4-.9 1.4-3.6 1.4-.5 1.4-1.4 1.4-1.2 1.4.7 1.4-3.3 1.4-.8 1.4-.7 1.4 1.6 1.4 1.3 1.4 2.4 1.4-1.4 1.4-1 1.4-.9 1.4-.3 1.4 2.7 1.4-4.1 1.4.5 1.4-3.8 1.4 2.9 1.4-.4 1.4 3.4 1.4-1.4 1.4 2.9 1.4-1.1 1.4-.5 1.4-.6 1.4-1.2 1.4 2.3 1.4 3.5 1.4 1 1.4.4 1.4 1 1.4-1 1.4.8 1.4.5 1.4.2 1.4-.1 1.4 1.2 1.4-.9 1.4-1.2 1.4.5 1.4-.7 1.4-.2 1.4-1.6 1.4-1.7 1.4-1.3 1.4-.9 1.4 2.2 1.4 2.5 1.4-1.4 1.4-.7 1.4.5 1.4-.5 1.4 1.1 1.4-1.9 1.4-1.3.4-.6"/>
<path d="M40.4 424.7l1.4 2.1 1.4-.9 1.4 2.6 1.4.6 1.4 1.9 1.4-1 1.4 1.6 1.4.7 1.4-2.4 1.4 1.3 1.4-1.3 1.4-2.7 1.4.8 1.4.3 1.4.5 1.4 3.5 1.4.8 1.4-.2 1.4 1.3 1.4-1.1 1.4-3.7 1.4 1.4 1.4-1.1 1.4-1.2 1.4-.4 1.4-2.8 1.4.2 1.4.5 1.4-1.4 1.4 2.3 1.4 1.5 1.4-.6 1.4-.3 1.4-2.1 1.4.8 1.4 2.8 1.4-3.3 1.4.3 1.4-4.4 1.4 3.2 1.4 0 1.4 2.1 1.4-.7 1.4 2.5 1.4-2.1 1.4.8 1.4-.6 1.4-.6 1.4 1.1 1.4 2.3 1.4.7 1.4-.6 1.4 1 1.4-1.2 1.4.6 1.4.4 1.4.3 1.4-.1 1.4 1 1.4-.8 1.4-.8 1.4-.1 1.4-1 1.4.2 1.4-1.2 1.4-2 1.4-1.6 1.4-.6 1.4 2.1 1.4 2.9 1.4-1.1 1.4-1.2 1.4.5 1.4 0 1.4.7 1.4-1.7 1.4-.9.4-.7"/>
<path d="M40.4 427.3l1.4-.5 1.4 1.8 1.4-1.5 1.4-.2 1.4 4.3 1.4-2 1.4 1.7 1.4.1 1.4-.6 1.4-.1 1.4-2 1.4-4.4 1.4 1 1.4.9 1.4 2.2 1.4 3.2 1.4 1.4 1.4.5 1.4.4 1.4-.3 1.4-4.3 1.4 1.1 1.4-1.6 1.4.2 1.4-.6 1.4-1.7 1.4.9 1.4-1.7 1.4 1.1 1.4 1 1.4 2.2 1.4-1 1.4-.5 1.4-1.4 1.4 1.7 1.4.7 1.4-2.7 1.4-.6 1.4-2.5 1.4 2.3 1.4 0 1.4 2.5 1.4-2.4 1.4 2.6 1.4-.4 1.4.3 1.4-2.7 1.4-.9 1.4 2.1 1.4 2.1 1.4.9 1.4-.2 1.4 1.5 1.4-1.6 1.4.9 1.4.1 1.4.2 1.4-.2 1.4 1.7 1.4-.8 1.4-1.2 1.4.2 1.4-.9 1.4.3 1.4-1.7 1.4-1.7 1.4-1.4 1.4-.8 1.4 2.2 1.4 2.4 1.4-1 1.4-1 1.4.6 1.4-.3 1.4.9 1.4-1.8 1.4-.9.4-1"/>
<path d="M40.4 422.7l1.4-.3 1.4 2 1.4 2.1 1.4-.6 1.4 4.4 1.4-.8 1.4.7 1.4 2 1.4-3 1.4 1.6 1.4-2.7 1.4-.7 1.4 1.6 1.4-.8 1.4 1.1 1.4 3 1.4.4 1.4.6 1.4.9 1.4-.8 1.4-3.6 1.4 1.1 1.4-1.1 1.4-1.2 1.4.1 1.4-1.3 1.4-.2 1.4-.8 1.4.2 1.4 1 1.4 2.2 1.4-1 1.4-.5 1.4-.7 1.4 1 1.4.7 1.4-2 1.4-.4 1.4-2.2 1.4 1.6 1.4-.5 1.4 2.5 1.4-1.1 1.4 2.1 1.4-.4 1.4-.2 1.4-.8 1.4-.8 1.4 1.4 1.4 2 1.4.3 1.4 0 1.4.8 1.4-1.1 1.4.3 1.4.5 1.4.3 1.4-.4 1.4 1.3 1.4-1.1 1.4-1 1.4.3 1.4-1.1 1.4.3 1.4-1.7 1.4-1.9 1.4-1.6 1.4-.3 1.4 2 1.4 2.4 1.4-.9 1.4-1.2 1.4.4 1.4 0 1.4.3 1.4-1.5 1.4-.9.4-.5"/>
<path d="M40.4 412.3l1.4.5 1.4 1.9 1.4 3.7 1.4-.6 1.4 5.9 1.4 2 1.4.9 1.4-.5 1.4.1 1.4-1.6 1.4-2 1.4-3.3 1.4 0 1.4-.2 1.4 4.4 1.4 4.8 1.4 2.1 1.4 0 1.4 2.1 1.4-2 1.4-2.8 1.4-.9 1.4.1 1.4-1.1 1.4 0 1.4-1.2 1.4-2.4 1.4 1.2 1.4.2 1.4 1.2 1.4 2.1 1.4.1 1.4-1.4 1.4-1 1.4 1 1.4 1.7 1.4-3.2 1.4 1.3 1.4-3.5 1.4 1.8 1.4.2 1.4 1.2 1.4.9 1.4.3 1.4 0 1.4.5 1.4-1.8 1.4-.3 1.4 1.3 1.4 3 1.4-.4 1.4.2 1.4 1.5 1.4-1.6 1.4.9 1.4.1 1.4.6 1.4-.6 1.4.9 1.4-.9 1.4-1.1 1.4.7 1.4-1.4 1.4.1 1.4-1.7 1.4-1.7 1.4-1.1 1.4-.5 1.4 1.9 1.4 2.5 1.4-.9 1.4-1.4 1.4.7 1.4.2 1.4.7 1.4-1.8 1.4-.6.4-.8"/>
<path d="M40.4 422.3l1.4-2.3 1.4 4.8 1.4.9 1.4 1 1.4 2.2 1.4-.1 1.4 2.3 1.4 1 1.4-3.2 1.4 2.3 1.4-1.4 1.4-4 1.4.8 1.4 1.7 1.4 1 1.4 2.6 1.4 1 1.4.8 1.4.5 1.4-.8 1.4-3.1 1.4.6 1.4-1.1 1.4-1.2 1.4.1 1.4-1.3 1.4-.8 1.4-.2 1.4-.3 1.4.7 1.4 2 1.4-.9 1.4-1.5 1.4-1.9 1.4 2.2 1.4.9 1.4-2.9 1.4 1.1 1.4-2.6 1.4.2 1.4.4 1.4 3.4 1.4-2.2 1.4 2.3 1.4.8 1.4-1.1 1.4-.2 1.4-1.2 1.4 1.7 1.4 2.8 1.4-.2 1.4.5 1.4.5 1.4-.8 1.4.5 1.4.7 1.4 0 1.4-.1 1.4 1.3 1.4-.9 1.4-1.3 1.4.4 1.4-1.1 1.4.4 1.4-1.8 1.4-1.9 1.4-1.2 1.4-.7 1.4 1.8 1.4 2.4 1.4-.7 1.4-1 1.4.3 1.4-.1 1.4.5 1.4-1.9 1.4-.9.4-.6"/>
<path d="M40.4 427.3l1.4-1.1 1.4 1.1 1.4.2 1.4 1.6 1.4 2.1 1.4 0 1.4.7 1.4.4 1.4-1.5 1.4.7 1.4-2.7 1.4-2.1 1.4 1.4 1.4.5 1.4-1.6 1.4 3.8 1.4 1.5 1.4.2 1.4 1.1 1.4-.7 1.4-3.6 1.4-.8 1.4-.8 1.4-.8 1.4-1 1.4-2 1.4.8 1.4-.7 1.4.5 1.4 1.1 1.4 2.9 1.4-2.8 1.4-.1 1.4.1 1.4 1.9 1.4 1.2 1.4-3.1 1.4-1 1.4-2.2 1.4 3.4 1.4-.1 1.4 1.5 1.4-.9 1.4 2.4 1.4-.2 1.4-.7 1.4 0 1.4-.7 1.4 1.2 1.4 2.1 1.4.3 1.4-.3 1.4 1.1 1.4-1.6 1.4.3 1.4.4 1.4.7 1.4-.7 1.4 1.2 1.4-.5 1.4-1.7 1.4.5 1.4-1.4 1.4.3 1.4-1.4 1.4-2.3 1.4-1.2 1.4-.4 1.4 2.2 1.4 2.4 1.4-1.3 1.4-1 1.4.5 1.4.3 1.4 1 1.4-2.2 1.4-.7.4-.8"/>
<path d="M40.4 420.6l1.4.4 1.4 1.8 1.4-2.4 1.4 3 1.4 2.9 1.4 1.8 1.4.3 1.4.2 1.4-1.3 1.4.2 1.4-1.4 1.4-4 1.4-.4 1.4.3 1.4 1.6 1.4 6.8 1.4.9 1.4 1.4 1.4.5 1.4-1.7 1.4-2.2 1.4-.1 1.4-.9 1.4-.9 1.4-1 1.4-.3 1.4-2.4 1.4 1.4 1.4.8 1.4-.7 1.4 3.4 1.4-.9 1.4.3 1.4-.9 1.4-.3 1.4 1.3 1.4-2.2 1.4-1.1 1.4-2.4 1.4 1.8 1.4.8 1.4 2.7 1.4-.5 1.4 1.4 1.4-1.4 1.4 0 1.4.1 1.4-1.9 1.4 2.4 1.4 2.3 1.4.2 1.4-.2 1.4.6 1.4-.9 1.4.6 1.4 0 1.4.5 1.4-.4 1.4 1 1.4-.9 1.4-1.3 1.4.7 1.4-1.3 1.4.4 1.4-2.1 1.4-1.6 1.4-1.7 1.4-.2 1.4 2.2 1.4 2.4 1.4-1.2 1.4-1 1.4.5 1.4-.2 1.4.6 1.4-1.5 1.4-.9.4-.8"/>
<path d="M40.4 425.2l1.4-.2 1.4-.6 1.4.6 1.4 2.2 1.4 2.3 1.4.8 1.4-.1 1.4 0 1.4-2.1 1.4 1.1 1.4-1.2 1.4-1.9 1.4-.4 1.4-3.2 1.4 2.8 1.4 4.6 1.4 1.4 1.4 1.1 1.4.3 1.4-.2 1.4-3.8 1.4.6 1.4-2.7 1.4-1.7 1.4-.5 1.4.4 1.4-.3 1.4-1.2 1.4-.4 1.4 1.5 1.4 2.3 1.4-.1 1.4-.9 1.4-1.2 1.4 1.4 1.4 1.8 1.4-4 1.4-.6 1.4-.3 1.4-.4 1.4 1.6 1.4 1.5 1.4-.8 1.4 2.8 1.4-.9 1.4.4 1.4-.8 1.4.1 1.4 1.9 1.4 1.7 1.4.7 1.4 0 1.4.6 1.4-1.2 1.4.8 1.4.4 1.4-.1 1.4 0 1.4.8 1.4-.8 1.4-1.2 1.4.3 1.4-.6 1.4.1 1.4-1.5 1.4-1.9 1.4-1.5 1.4-.8 1.4 2.4 1.4 1.8 1.4-.6 1.4-1.2 1.4.6 1.4 0 1.4.9 1.4-2.3 1.4-.9.4-.7"/>
</g>
<g fill="none" stroke="#c8323a" stroke-width="0.38" stroke-opacity="0.5" stroke-linejoin="round">
<path d="M40.4 426.6l1.4.8 1.4 1.8 1.4.1 1.4 1 1.4 2 1.4-.2 1.4.1 1.4.4 1.4.2 1.4-1.1 1.4-.5 1.4.1 1.4.4 1.4-.4 1.4 2 1.4-.6 1.4 1.9 1.4-1.1 1.4 1.6 1.4-1.3 1.4-.1 1.4-.2 1.4-1.2 1.4 0 1.4.2 1.4-1.2 1.4-.6 1.4 1.1 1.4.3 1.4-.4 1.4.3 1.4.3 1.4-1.7 1.4-.2 1.4.8 1.4 0 1.4.1 1.4-1.3 1.4 1.3 1.4 0 1.4-.3 1.4.7 1.4-.3 1.4.9 1.4.5 1.4-.9 1.4-1.3 1.4 0 1.4 1.9 1.4-.2 1.4 2.1 1.4-.6 1.4-.8 1.4.8 1.4 1.2 1.4-1.4 1.4.4 1.4-.3 1.4-1.1 1.4 0 1.4 0 1.4-1.3 1.4-.8 1.4-.3 1.4-2.1 1.4-1.3 1.4-2.3 1.4-1.6 1.4 3.6 1.4 1 1.4-1.2 1.4.3 1.4-1.7 1.4 1.7 1.4.1 1.4-1.3 1.4-.4.4-1.3"/>
<path d="M40.4 427.1l1.4.5 1.4 1.6 1.4.6 1.4.5 1.4 1.5 1.4-.1 1.4.2 1.4.2 1.4.7 1.4-1.3 1.4-.2 1.4-.6 1.4.1 1.4.2 1.4 1.5 1.4 0 1.4 1.2 1.4-.6 1.4 1.6 1.4-1.1 1.4.1 1.4-1.1 1.4-.7 1.4-.4 1.4.7 1.4-1.4 1.4-.1 1.4 1.3 1.4-.4 1.4-.3 1.4.3 1.4.4 1.4-1.3 1.4-.3 1.4 1.4 1.4-.7 1.4.5 1.4-.7 1.4.7 1.4.3 1.4-.4 1.4 0 1.4 0 1.4.9 1.4.4 1.4-.7 1.4-1.4 1.4.1 1.4 1.8 1.4-.5 1.4 1.5 1.4-.2 1.4-.7 1.4.6 1.4 1.5 1.4-1.7 1.4.5 1.4-.4 1.4-.5 1.4-.8 1.4-.1 1.4-.9 1.4-1.1 1.4 0 1.4-1.9 1.4-1.6 1.4-1.7 1.4-1.6 1.4 3.4 1.4 1.2 1.4-1.2 1.4-.1 1.4-1.3 1.4 1.3 1.4.2 1.4-1.9 1.4-.3.4-.9"/>
<path d="M40.4 427l1.4 1.4 1.4 2.1 1.4-.6 1.4.7 1.4 2.2 1.4-.5 1.4.2 1.4-.1 1.4 1 1.4-1.6 1.4-.6 1.4 0 1.4-.4 1.4.5 1.4 1.4 1.4-.4 1.4 1.5 1.4-.6 1.4 1.5 1.4-1 1.4 0 1.4-.8 1.4-.7 1.4-.3 1.4.5 1.4-1.6 1.4-.5 1.4 1.3 1.4.2 1.4-.9 1.4.9 1.4-.2 1.4-1.3 1.4-.3 1.4.8 1.4.2 1.4.3 1.4-.8 1.4.7 1.4.6 1.4-1.4 1.4.5 1.4-.4 1.4 1.6 1.4.1 1.4-1.3 1.4-1.1 1.4.1 1.4 2 1.4-.4 1.4 1.9 1.4-.3 1.4-.5 1.4.4 1.4 1.3 1.4-1.5 1.4.4 1.4-.3 1.4-1 1.4-.6 1.4.2 1.4-1.1 1.4-.7 1.4-.6 1.4-1.8 1.4-1.9 1.4-1.2 1.4-2.3 1.4 4.5 1.4.8 1.4-1.2 1.4.2 1.4-1.7 1.4 1.9 1.4 0 1.4-1.9 1.4-.4.4-.9"/>
<path d="M40.4 429.5l1.4 1 1.4 1.7 1.4-.7 1.4.6 1.4 1.2 1.4-.1 1.4.1 1.4.3 1.4.5 1.4-1.9 1.4 0 1.4-.8 1.4.4 1.4.1 1.4 2.2 1.4-1.1 1.4 1.6 1.4-1.2 1.4 1.5 1.4-1.2 1.4-.2 1.4.1 1.4-1.5 1.4-.4 1.4.4 1.4-1.2 1.4-.5 1.4 1.1 1.4.1 1.4-.6 1.4.5 1.4.4 1.4-1 1.4-.1 1.4.8 1.4-.4 1.4-.3 1.4-.8 1.4 1.7 1.4 0 1.4-.1 1.4 0 1.4.1 1.4.8 1.4-.2 1.4-.8 1.4-.6 1.4 0 1.4 1.8 1.4-.1 1.4 1.3 1.4-.2 1.4-.5 1.4.2 1.4 1.5 1.4-1.4 1.4.6 1.4-.3 1.4-.9 1.4 0 1.4 0 1.4-1.3 1.4-.3 1.4-.9 1.4-1.3 1.4-1.9 1.4-1.6 1.4-1.4 1.4 3.6 1.4.7 1.4-.8 1.4.3 1.4-2.1 1.4 1.8 1.4 0 1.4-1 1.4-.5.4-.9"/>
<path d="M40.4 428.3l1.4 1.2 1.4 1 1.4.8 1.4.3 1.4 1.1 1.4.1 1.4-.4 1.4.2 1.4 1.1 1.4-1.6 1.4-.6 1.4 0 1.4-.4 1.4.5 1.4 1.4 1.4-.6 1.4 1.5 1.4-.7 1.4 1.4 1.4-.8 1.4-.4 1.4-.9 1.4-.9 1.4-.2 1.4.8 1.4-1.3 1.4-1.2 1.4 1.2 1.4.2 1.4-.8 1.4.7 1.4.6 1.4-1.2 1.4-.9 1.4 1.4 1.4-.5 1.4.3 1.4-.4 1.4 1.1 1.4-.4 1.4 0 1.4.3 1.4-.4 1.4 2.1 1.4-.9 1.4 0 1.4-1.9 1.4.9 1.4 1.4 1.4 0 1.4 1.5 1.4-.5 1.4-.4 1.4.7 1.4 1.4 1.4-1.5 1.4.5 1.4-.2 1.4-.7 1.4-.7 1.4-.5 1.4-.6 1.4-.9 1.4-.5 1.4-1.3 1.4-2.5 1.4-1 1.4-1.7 1.4 3.6 1.4.9 1.4-1.2 1.4-.1 1.4-1.9 1.4 1.5 1.4.5 1.4-1.6 1.4-.7.4-.6"/>
<path d="M40.4 429l1.4.2 1.4 2 1.4-.2 1.4 1.5 1.4.6 1.4-.3 1.4-.1 1.4.5 1.4.5 1.4-1.4 1.4-.6 1.4.1 1.4 0 1.4-.5 1.4 2.2 1.4-.8 1.4 2 1.4-1.4 1.4 1.8 1.4-1 1.4-.4 1.4.1 1.4-1 1.4-.2 1.4.1 1.4-.8 1.4-.5 1.4 1.1 1.4 0 1.4-.6 1.4 1 1.4.6 1.4-1.3 1.4-.9 1.4.9 1.4-.2 1.4.4 1.4-.6 1.4 1.5 1.4-.7 1.4-.8 1.4.5 1.4-.4 1.4 2.1 1.4-.7 1.4-.5 1.4-1.7 1.4.5 1.4 1.5 1.4.1 1.4 1.3 1.4-.4 1.4-.5 1.4.6 1.4 1.1 1.4-1.2 1.4.5 1.4 0 1.4-1.1 1.4-.8 1.4.4 1.4-1.2 1.4-.5 1.4-.5 1.4-1.6 1.4-1.9 1.4-1.7 1.4-1.2 1.4 3.6 1.4.6 1.4-.9 1.4.3 1.4-2.2 1.4 2 1.4.1 1.4-1.2 1.4-.5.4-.8"/>
<path d="M40.4 429l1.4 1.4 1.4 1 1.4.2 1.4 1.2 1.4.7 1.4.3 1.4-.4 1.4.2 1.4.5 1.4-1.6 1.4-.1 1.4-.3 1.4.4 1.4-.1 1.4 2 1.4-.9 1.4 1.5 1.4-1.2 1.4 1.7 1.4-1 1.4 0 1.4-.4 1.4-.8 1.4-.3 1.4.6 1.4-1.4 1.4-.5 1.4 1.3 1.4-.6 1.4.2 1.4.3 1.4.5 1.4-1.2 1.4-.4 1.4.6 1.4-1 1.4.9 1.4-.6 1.4.7 1.4.2 1.4-.7 1.4.6 1.4-.6 1.4 1.4 1.4-.2 1.4-.4 1.4-1.5 1.4.3 1.4 1.8 1.4 0 1.4 1.5 1.4-.5 1.4-.5 1.4.4 1.4 1.3 1.4-1.3 1.4.5 1.4-.1 1.4-.9 1.4-.5 1.4-.1 1.4-.8 1.4-.9 1.4-.5 1.4-1.4 1.4-2 1.4-1.3 1.4-1.8 1.4 3.7 1.4.9 1.4-1.2 1.4.1 1.4-1.7 1.4 1.3 1.4.6 1.4-1.5 1.4-1.1.4-.6"/>
<path d="M40.4 425.3l1.4 1 1.4 1.8 1.4.3 1.4 1.6 1.4 1.8 1.4-.4 1.4.4 1.4 0 1.4.8 1.4-1.5 1.4-.1 1.4-.4 1.4.1 1.4-.4 1.4 2.5 1.4-1 1.4 1.6 1.4-.7 1.4 2 1.4-1.4 1.4 0 1.4-1.2 1.4-.8 1.4-.1 1.4.5 1.4-1.7 1.4-.7 1.4 1.1 1.4.3 1.4-.5 1.4.5 1.4.4 1.4-1.6 1.4 0 1.4.9 1.4-.2 1.4.1 1.4-.9 1.4 1 1.4.3 1.4-.4 1.4.3 1.4-.2 1.4 1.3 1.4-.3 1.4-.7 1.4-1.2 1.4.3 1.4 2 1.4 0 1.4 1.3 1.4-.3 1.4-.5 1.4.5 1.4 1.7 1.4-1.5 1.4.1 1.4 0 1.4-1.1 1.4-.6 1.4.1 1.4-.4 1.4-1.1 1.4-.6 1.4-1.7 1.4-1.5 1.4-1.6 1.4-1.8 1.4 3.7 1.4.9 1.4-1.3 1.4.7 1.4-2.2 1.4 1.5 1.4.1 1.4-1.8 1.4-.6.4-.8"/>
<path d="M40.4 427.7l1.4 1.4 1.4 1.7 1.4.8 1.4.4 1.4.6 1.4-.1 1.4 0 1.4.1 1.4.3 1.4-1.4 1.4.1 1.4-.7 1.4.2 1.4-.9 1.4 2.3 1.4-.2 1.4 1.6 1.4-1.5 1.4 1.9 1.4-1.4 1.4.1 1.4-.2 1.4-1.2 1.4-.4 1.4.5 1.4-1.3 1.4-.6 1.4 1.7 1.4-.3 1.4-.5 1.4 1 1.4.7 1.4-1.7 1.4.1 1.4.4 1.4.1 1.4.2 1.4-.2 1.4.7 1.4.1 1.4 0 1.4.1 1.4-.6 1.4 1.5 1.4-.3 1.4-.2 1.4-1.4 1.4.2 1.4 1.6 1.4-.1 1.4 1 1.4-.3 1.4-.7 1.4.5 1.4 1.3 1.4-1.1 1.4-.1 1.4-.3 1.4-1.1 1.4-.6 1.4 0 1.4-.9 1.4-.9 1.4-.4 1.4-1.8 1.4-1.6 1.4-1.9 1.4-1.6 1.4 4 1.4 1 1.4-1.4 1.4.6 1.4-2.1 1.4 2 1.4.1 1.4-1 1.4-1.1.4-.2"/>
<path d="M40.4 429.5l1.4.7 1.4 2 1.4 0 1.4.6 1.4.9 1.4.1 1.4-.5 1.4.3 1.4-.2 1.4-1.2 1.4-.2 1.4-.8 1.4.4 1.4-.2 1.4 1.7 1.4-.1 1.4 1.3 1.4-.9 1.4 1.4 1.4-1 1.4-.1 1.4-.4 1.4-.2 1.4-.4 1.4.6 1.4-1.3 1.4-.4 1.4 1.5 1.4-.1 1.4-.2 1.4.5 1.4.6 1.4-1.3 1.4-.3 1.4.5 1.4-.4 1.4.3 1.4-.6 1.4 1.4 1.4 0 1.4-.8 1.4-.3 1.4 0 1.4 1.6 1.4-.1 1.4-1.2 1.4-1.5 1.4.3 1.4 1.5 1.4-.3 1.4 1.7 1.4-.5 1.4-.7 1.4.5 1.4 1.5 1.4-1.6 1.4.4 1.4.1 1.4-.8 1.4-.4 1.4.1 1.4-.8 1.4-1 1.4-.3 1.4-1.4 1.4-1.9 1.4-1.4 1.4-1.7 1.4 3.6 1.4.9 1.4-1.2 1.4.3 1.4-1.8 1.4 1.6 1.4.3 1.4-1.4 1.4-.5.4-.6"/>
<path d="M40.4 429.3l1.4.9 1.4 1.7 1.4-.6 1.4 1.3 1.4.8 1.4-.4 1.4 0 1.4.2 1.4.3 1.4-1.4 1.4-.2 1.4-.6 1.4.5 1.4-.7 1.4 2.6 1.4-1.1 1.4 1.7 1.4-1.3 1.4 2.1 1.4-1.3 1.4.2 1.4-.5 1.4-1.1 1.4-.7 1.4.5 1.4-1.3 1.4-.7 1.4 1.7 1.4-.3 1.4.2 1.4.6 1.4.4 1.4-1.4 1.4-1 1.4 1.1 1.4-.4 1.4.8 1.4-1.5 1.4 2.1 1.4-.1 1.4-.7 1.4.2 1.4-.5 1.4 1.3 1.4.2 1.4-.9 1.4-1.5 1.4.7 1.4 1.9 1.4-.2 1.4 1.4 1.4-.5 1.4-.7 1.4.7 1.4 1.4 1.4-1.3 1.4.1 1.4 0 1.4-.8 1.4-.5 1.4.1 1.4-.8 1.4-1 1.4-.5 1.4-1.1 1.4-2.1 1.4-1.4 1.4-1.9 1.4 4.1 1.4.2 1.4-1.2 1.4.6 1.4-1.7 1.4 1.8 1.4-.2 1.4-1.6 1.4-.1.4-1.2"/>
<path d="M40.4 427.7l1.4 1.3 1.4 1.6 1.4-.1 1.4.8 1.4 1 1.4.4 1.4-.2 1.4-.2 1.4 1 1.4-1.7 1.4-.3 1.4-.4 1.4.5 1.4-.5 1.4 2.1 1.4-.2 1.4 1.6 1.4-1.5 1.4 2.1 1.4-1 1.4-.4 1.4.2 1.4-1.2 1.4-.1 1.4.4 1.4-1.1 1.4-.7 1.4 1.7 1.4.2 1.4-.7 1.4.9 1.4.1 1.4-1 1.4-.3 1.4.6 1.4-.5 1.4.6 1.4-.6 1.4 1.4 1.4 0 1.4-1 1.4.2 1.4-.3 1.4 1.7 1.4-.2 1.4-.9 1.4-1.5 1.4.1 1.4 1.8 1.4-.1 1.4 1.5 1.4-.4 1.4-.9 1.4.7 1.4 1.1 1.4-1.4 1.4.3 1.4-.3 1.4-.9 1.4-.4 1.4-.4 1.4-.7 1.4-.7 1.4-.5 1.4-1.9 1.4-1.7 1.4-1.6 1.4-1.4 1.4 3.4 1.4 1.1 1.4-1 1.4 0 1.4-1.8 1.4 1.5 1.4.1 1.4-1.5 1.4-.7.4.1"/>
<path d="M40.4 425.4l1.4 1.9 1.4 1.1 1.4.7 1.4 1.1 1.4.8 1.4.4 1.4.3 1.4 0 1.4.4 1.4-1.3 1.4-.2 1.4-.7 1.4.7 1.4-.4 1.4 2.6 1.4-1.2 1.4 1.8 1.4-.8 1.4 1.9 1.4-1.1 1.4-.4 1.4-.6 1.4-.4 1.4-.7 1.4 1.1 1.4-1.4 1.4-.6 1.4.7 1.4.8 1.4-.3 1.4.3 1.4.8 1.4-1.8 1.4-.4 1.4.6 1.4.1 1.4 0 1.4-.6 1.4 1.5 1.4-.6 1.4-.2 1.4.6 1.4-.3 1.4.9 1.4-.3 1.4-.4 1.4-1.4 1.4.1 1.4 2.3 1.4-.6 1.4 1.6 1.4-.3 1.4-.8 1.4.6 1.4 1.5 1.4-1.5 1.4.1 1.4.1 1.4-.7 1.4-.7 1.4-.4 1.4-.8 1.4-.6 1.4-.4 1.4-1.8 1.4-2 1.4-1.5 1.4-1.7 1.4 3.7 1.4.9 1.4-1.1 1.4.1 1.4-2 1.4 2.2 1.4-.4 1.4-1.6 1.4-.7.4-.7"/>
<path d="M40.4 427.1l1.4 1.9 1.4 1.6 1.4 0 1.4.2 1.4 1.5 1.4.4 1.4-.7 1.4.6 1.4.4 1.4-1.4 1.4.1 1.4-.3 1.4-.4 1.4 0 1.4 2.3 1.4-.7 1.4 1.9 1.4-1.5 1.4 1.9 1.4-1.1 1.4-.2 1.4-.1 1.4-1 1.4-.4 1.4.7 1.4-1.4 1.4-.4 1.4 1.4 1.4-.5 1.4.1 1.4.8 1.4-.2 1.4-1.2 1.4-.2 1.4.9 1.4-.4 1.4.1 1.4-.8 1.4 1.4 1.4.2 1.4-.6 1.4 0 1.4-.1 1.4 1.3 1.4.4 1.4-.9 1.4-1.7 1.4.5 1.4 1.9 1.4-.7 1.4 1.9 1.4-.8 1.4-.5 1.4.6 1.4 1.3 1.4-1.3 1.4.4 1.4-.5 1.4-.9 1.4-.6 1.4.6 1.4-1.3 1.4-.8 1.4-.5 1.4-1.7 1.4-1.5 1.4-1.7 1.4-1.4 1.4 3.5 1.4.7 1.4-1.2 1.4.8 1.4-2 1.4 1.7 1.4 0 1.4-1.8 1.4-.6.4 0"/>
<path d="M40.4 427.9l1.4 1.3 1.4 1.6 1.4-.9 1.4 1.7 1.4.9 1.4-.3 1.4-.2 1.4.2 1.4.5 1.4-1.6 1.4.3 1.4-.7 1.4.4 1.4-.4 1.4 1.8 1.4-.3 1.4 1.3 1.4-.5 1.4 1.4 1.4-1.1 1.4.2 1.4-.9 1.4-.7 1.4-.2 1.4.4 1.4-1.3 1.4-.3 1.4 1.2 1.4.2 1.4-.3 1.4 0 1.4.6 1.4-1.2 1.4-.2 1.4.4 1.4.2 1.4.1 1.4-.5 1.4.6 1.4 0 1.4-.2 1.4.3 1.4.2 1.4.9 1.4-.2 1.4-.9 1.4-1.3 1.4.7 1.4 1.4 1.4-.2 1.4 1.6 1.4-.4 1.4-.5 1.4.7 1.4 1 1.4-1.3 1.4.6 1.4-.1 1.4-1 1.4-.3 1.4-.1 1.4-1.3 1.4-1 1.4-.4 1.4-1.5 1.4-2.1 1.4-1.4 1.4-1.1 1.4 3.4 1.4 1.1 1.4-1.7 1.4.8 1.4-2.1 1.4 1.6 1.4 0 1.4-1.3 1.4-.5.4-.6"/>
<path d="M40.4 428.3l1.4 1.4 1.4 2 1.4-1.1 1.4 1.7 1.4.7 1.4 0 1.4-.2 1.4.2 1.4.6 1.4-2 1.4.4 1.4-1 1.4.2 1.4.1 1.4 2.2 1.4-1.3 1.4 2.2 1.4-1.6 1.4 2.2 1.4-1.6 1.4.2 1.4-.6 1.4-1 1.4-.5 1.4.2 1.4-.6 1.4-.8 1.4 1.5 1.4-.7 1.4-.4 1.4.7 1.4.9 1.4-2.1 1.4.6 1.4.2 1.4.1 1.4.3 1.4-.5 1.4.4 1.4.9 1.4-.7 1.4.4 1.4-.5 1.4 1.7 1.4 0 1.4-.8 1.4-1.2 1.4-.4 1.4 2.5 1.4-.3 1.4 1.6 1.4-.8 1.4-.5 1.4.8 1.4 1.2 1.4-1.3 1.4.4 1.4-.1 1.4-.9 1.4-.3 1.4-.4 1.4-.9 1.4-.7 1.4-.8 1.4-1.7 1.4-1.9 1.4-.9 1.4-1.9 1.4 3.4 1.4.8 1.4-1 1.4.5 1.4-2.5 1.4 1.6 1.4.5 1.4-1.9 1.4 0 .4-.7"/>
</g>
<path d="M126.8 428.4l1.4-.2 1.4-.3 1.4-.6 1.4-2.2 1.4-1.8 1.4-3 1.4 2.9 1.4 3.3 1.4-.9 1.4-.7 1.4-1.7 1.4 1.4 1.4.3 1.4-1 1.4-1.4.8-1.5 0 3.8-.8.9-1.4 2.1-1.4 1.3-1.4-1.4-1.4-.2-1.4 0-1.4 1.6-1.4 0-1.4-3-1.4-1.3-1.4 1.2-1.4 1.9-1.4 2.9-1.4.7-1.4-.3-1.4 1.1z" fill="#dcdcdc" fill-opacity="0.55" stroke="none"/>
</g>
<rect x="34.70" y="397.20" width="119.60" height="40.00" fill="none" stroke="#9a9a9a" stroke-width="0.9"/>
<line x1="32.20" y1="435.10" x2="34.70" y2="435.10" stroke="#333" stroke-width="0.6"/>
<text x="30.90" y="438.10" font-size="8.4" text-anchor="end" fill="#333" stroke="#333" stroke-width="0.06">0</text>
<line x1="32.20" y1="424.30" x2="34.70" y2="424.30" stroke="#333" stroke-width="0.6"/>
<text x="30.90" y="427.30" font-size="8.4" text-anchor="end" fill="#333" stroke="#333" stroke-width="0.06">20</text>
<line x1="32.20" y1="413.30" x2="34.70" y2="413.30" stroke="#333" stroke-width="0.6"/>
<text x="30.90" y="416.30" font-size="8.4" text-anchor="end" fill="#333" stroke="#333" stroke-width="0.06">40</text>
<line x1="32.20" y1="401.90" x2="34.70" y2="401.90" stroke="#333" stroke-width="0.6"/>
<text x="30.90" y="404.90" font-size="8.4" text-anchor="end" fill="#333" stroke="#333" stroke-width="0.06">60</text>
<line x1="40.40" y1="437.20" x2="40.40" y2="439.70" stroke="#333" stroke-width="0.6"/>
<line x1="76.50" y1="437.20" x2="76.50" y2="439.70" stroke="#333" stroke-width="0.6"/>
<line x1="112.60" y1="437.20" x2="112.60" y2="439.70" stroke="#333" stroke-width="0.6"/>
<line x1="148.60" y1="437.20" x2="148.60" y2="439.70" stroke="#333" stroke-width="0.6"/>
<text x="43.90" y="407.40" font-size="9.8" text-anchor="start" fill="#000" stroke="#000" stroke-width="0.06">CS:chr1B</text>
<defs><clipPath id="cd3"><rect x="34.7" y="448.2" width="119.6" height="39.8"/></clipPath></defs>
<rect x="34.70" y="448.20" width="119.60" height="39.80" fill="#fff"/>
<line x1="34.70" y1="486.10" x2="154.30" y2="486.10" stroke="#ebebeb" stroke-width="0.6"/>
<line x1="34.70" y1="472.80" x2="154.30" y2="472.80" stroke="#ebebeb" stroke-width="0.6"/>
<line x1="34.70" y1="459.60" x2="154.30" y2="459.60" stroke="#ebebeb" stroke-width="0.6"/>
<line x1="40.40" y1="448.20" x2="40.40" y2="488.00" stroke="#ebebeb" stroke-width="0.6"/>
<line x1="76.50" y1="448.20" x2="76.50" y2="488.00" stroke="#ebebeb" stroke-width="0.6"/>
<line x1="112.60" y1="448.20" x2="112.60" y2="488.00" stroke="#ebebeb" stroke-width="0.6"/>
<line x1="148.60" y1="448.20" x2="148.60" y2="488.00" stroke="#ebebeb" stroke-width="0.6"/>
<g clip-path="url(#cd3)">
<path d="M40.8 481.9l1.4-.4 1.4-1.6 1.4 1.1 1.4 2.5 1.4.4 1.4-.1 1.4.4 1.4.6 1.4-.4 1.4-.3 1.4 1 1.4-.7 1.4.6 1.4-.1 1.4-.1 1.4.5 1.4-.8 1.4.4 1.4-.5 1.4.9 1.4-.9 1.4.4 1.4.4 1.4 0 1.4-.8 1.4.8 1.4 0 1.4-.6 1.4.4 1.4-.6 1.4-.1 1.4 0 1.4.1 1.4.6 1.4-.4 1.4.6 1.4-.1 1.4-.7 1.4.2 1.4-.4 1.4.6 1.4.1 1.4-.1 1.4-.5 1.4.6 1.4-.5 1.4.8 1.4-.4 1.4-.4 1.4.9 1.4 0 1.4-.7 1.4.7 1.4-.7 1.4.2 1.4.1 1.4.2 1.4-.8 1.4 0 1.4.1 1.4-.2 1.4 0 1.4-.5 1.4-1.2 1.4 1.1 1.4-.2 1.4.6 1.4 1.2 1.4.7 1.4 0 1.4-.5 1.4.5 1.4-.6 1.4 0 1.4.9 1.4-.3 1.4-.5 0 .6-1.4.5-1.4.3-1.4-.9-1.4 0-1.4.6-1.4-.4-1.4.5-1.4 0-1.4-.5-1.4-.5-1.4.2-1.4.6-1.4-.7-1.4.7-1.4.1-1.4-.5-1.4-.2-1.4-.2-1.4.1-1.4.7-1.4-.2-1.4 0-1.4-.3-1.4.7-1.4-.6-1.4.6-1.4.1-1.4-1-1.4.4-1.4.4-1.4-.8-1.4.6-1.4-.6-1.4.5-1.4.1-1.4-.1-1.4-.5-1.4.4-1.4-.3-1.4.8-1.4.1-1.4-.6-1.4.4-1.4-.6-1.4-.1-1.4 0-1.4 0-1.4.6-1.4-.5-1.4.6-1.4 0-1.4-.8-1.4.8-1.4 0-1.4-.4-1.4-.4-1.4.9-1.4-.9-1.4.5-1.4-.4-1.4.8-1.4-.5-1.4.2-1.4 0-1.4-.6-1.4.9-1.4-1-1.4.5-1.4.4-1.4-.5-1.4-.3-1.4.6-1.4.3-1.4-.7-1.4-.3-1.4.9-1.4-.4z" fill="#efefef" fill-opacity="1.0" stroke="none"/>
<path d="M40.8 483l1.4-.2 1.4-1.5 1.4.9 1.4 2.1 1.4.2 1.4-.2 1.4.3 1.4.7 1.4-.5 1.4-.3 1.4 1 1.4-.8 1.4.6 1.4 0 1.4-.2 1.4.5 1.4-.8 1.4.4 1.4-.5 1.4.9 1.4-.8 1.4.4 1.4.3 1.4.1 1.4-.9 1.4.8 1.4 0 1.4-.6 1.4.5 1.4-.6 1.4-.1 1.4-.1 1.4.2 1.4.6 1.4-.4 1.4.6 1.4-.1 1.4-.8 1.4.3 1.4-.4 1.4.6 1.4 0 1.4 0 1.4-.5 1.4.5 1.4-.5 1.4.8 1.4-.4 1.4-.4 1.4 1 1.4-.1 1.4-.6 1.4.6 1.4-.7 1.4.3 1.4 0 1.4.3 1.4-.8 1.4-.1 1.4.2 1.4-.1 1.4.1 1.4-.5 1.4-1 1.4 1 1.4-.3 1.4.4 1.4 1 1.4.6 1.4.1 1.4-.5 1.4.4 1.4-.6 1.4 0 1.4.9 1.4-.3 1.4-.5 0 .4-1.4.6-1.4.2-1.4-.8-1.4 0-1.4.6-1.4-.4-1.4.5-1.4 0-1.4-.5-1.4-.6-1.4.2-1.4.5-1.4-.6-1.4.6-1.4.1-1.4-.4-1.4-.2-1.4-.1-1.4 0-1.4.8-1.4-.3-1.4 0-1.4-.3-1.4.7-1.4-.6-1.4.6-1.4.1-1.4-1-1.4.4-1.4.4-1.4-.8-1.4.6-1.4-.6-1.4.6-1.4 0-1.4 0-1.4-.6-1.4.4-1.4-.3-1.4.8-1.4.1-1.4-.6-1.4.4-1.4-.5-1.4-.2-1.4 0-1.4.1-1.4.5-1.4-.4-1.4.5-1.4.1-1.4-.9-1.4.9-1.4-.1-1.4-.3-1.4-.4-1.4.9-1.4-1-1.4.6-1.4-.5-1.4.9-1.4-.6-1.4.2-1.4 0-1.4-.5-1.4.8-1.4-1-1.4.5-1.4.5-1.4-.6-1.4-.3-1.4.6-1.4.3-1.4-.8-1.4-.4-1.4 1-1.4-.4z" fill="#e4e4e4" fill-opacity="1.0" stroke="none"/>
<g fill="none" stroke="#c4c4c4" stroke-width="0.4" stroke-opacity="0.3" stroke-linejoin="round">
<path d="M40.8 483.8l1.4-.8 1.4-1.6 1.4 1.1 1.4 2.5 1.4-.3 1.4-.6 1.4.8 1.4 1 1.4-.6 1.4-1.2 1.4 1.7 1.4-1 1.4.7 1.4.2 1.4-.5 1.4 1 1.4-1.3 1.4.6 1.4-.8 1.4 1.3 1.4-1.1 1.4.6 1.4.4 1.4.2 1.4-1.3 1.4 1.5 1.4-.5 1.4-.5 1.4.6 1.4-1.3 1.4.1 1.4.2 1.4-.1 1.4 1.2 1.4-.7 1.4 1 1.4-.5 1.4-1.2 1.4.9 1.4-1.1 1.4 1 1.4.2 1.4-.3 1.4-.5 1.4.9 1.4-1.1 1.4 1.4 1.4-.7 1.4-.6 1.4 1.4 1.4-.2 1.4-1 1.4 1.4 1.4-1.1 1.4.1 1.4.3 1.4.1 1.4-1.1 1.4-.2 1.4.3 1.4.3 1.4.5 1.4-.3 1.4-1.5 1.4.9 1.4-.9 1.4.6 1.4 1.2 1.4.8 1.4.1 1.4-.9 1.4.8 1.4-1 1.4-.2 1.4 1.6 1.4-.4 1.4-.9"/>
<path d="M40.8 484.5l1.4 0 1.4-2.2 1.4 1.5 1.4 1.4 1.4-.2 1.4-.3 1.4.5 1.4.6 1.4-.7 1.4-.5 1.4 1.4 1.4-.9 1.4.7 1.4-.2 1.4 0 1.4.9 1.4-1.4 1.4.9 1.4-1.1 1.4 1.6 1.4-1.3 1.4.4 1.4.8 1.4 0 1.4-1.1 1.4 1.3 1.4 0 1.4-1.1 1.4.9 1.4-.9 1.4-.2 1.4.1 1.4.2 1.4 1.1 1.4-.8 1.4.8 1.4-.3 1.4-1.2 1.4.4 1.4-.7 1.4 1.3 1.4 0 1.4-.3 1.4-.6 1.4.6 1.4-.8 1.4 1.4 1.4-.9 1.4-.6 1.4 1.5 1.4.1 1.4-1.4 1.4 1.2 1.4-1.1 1.4.5 1.4.1 1.4.2 1.4-1.3 1.4-.2 1.4.2 1.4.5 1.4.7 1.4-.8 1.4-1.6 1.4 1.9 1.4-1.3 1.4.3 1.4 1.1 1.4 1 1.4.1 1.4-1 1.4.9 1.4-1.2 1.4 0 1.4 1.5 1.4-.4 1.4-.9"/>
<path d="M40.8 483.8l1.4-.1 1.4-1.8 1.4.7 1.4 3 1.4-.5 1.4-1 1.4.9 1.4.8 1.4-.9 1.4-.5 1.4 1.3 1.4-1.1 1.4 1 1.4-.2 1.4-.4 1.4.9 1.4-1.5 1.4 1 1.4-1.1 1.4 1.5 1.4-1.2 1.4.6 1.4.3 1.4.3 1.4-1.6 1.4 1.4 1.4 0 1.4-1.1 1.4.8 1.4-.5 1.4-.4 1.4 0 1.4.2 1.4 1.3 1.4-.6 1.4.6 1.4.3 1.4-1.6 1.4.4 1.4-.5 1.4 1.1 1.4-.2 1.4 0 1.4-.9 1.4 1.1 1.4-1 1.4 1.5 1.4-.7 1.4-.6 1.4 1.2 1.4.1 1.4-1 1.4.9 1.4-1.2 1.4.6 1.4 0 1.4.1 1.4-1.3 1.4.2 1.4-.1 1.4.2 1.4.5 1.4-.8 1.4-1.3 1.4 1.7 1.4-.9 1.4.2 1.4 1.4 1.4 1.1 1.4-.1 1.4-.6 1.4.6 1.4-1 1.4-.1 1.4 1.6 1.4-.6 1.4-.7"/>
<path d="M40.8 484.7l1.4 1.2 1.4-1.8 1.4 1.2 1.4 1.1 1.4-.5 1.4-1 1.4.8 1.4.8 1.4-.7 1.4-.7 1.4 1.3 1.4-1.3 1.4 1 1.4.3 1.4-.5 1.4.8 1.4-1.3 1.4.7 1.4-1 1.4 1.9 1.4-1.6 1.4.8 1.4.6 1.4-.2 1.4-1.3 1.4 1.4 1.4.1 1.4-.9 1.4.6 1.4-.9 1.4 0 1.4 0 1.4.1 1.4.8 1.4-.4 1.4.9 1.4-.1 1.4-1.2 1.4.2 1.4-.7 1.4 1.2 1.4 0 1.4-.1 1.4-1 1.4 1 1.4-1 1.4 1.3 1.4-.5 1.4-.7 1.4 1.6 1.4 0 1.4-1.1 1.4 1 1.4-1.2 1.4.3 1.4.2 1.4.5 1.4-1.3 1.4-.1 1.4.3 1.4.1 1.4 1.1 1.4-.1 1.4-1.6 1.4 1.4 1.4-1 1.4-.3 1.4.9 1.4.8 1.4-.1 1.4-.8 1.4.8 1.4-1.2 1.4 0 1.4 1.4 1.4-.4 1.4-.9"/>
<path d="M40.8 483.9l1.4-.3 1.4-2.3 1.4 1.8 1.4 2 1.4.2 1.4-.8 1.4.7 1.4.6 1.4-.3 1.4-.8 1.4 1.4 1.4-1.3 1.4 1.1 1.4 0 1.4-.5 1.4 1 1.4-1.5 1.4 1.1 1.4-.9 1.4 1.5 1.4-1.6 1.4.7 1.4.7 1.4-.2 1.4-1.4 1.4 1.5 1.4.2 1.4-1.4 1.4 1.2 1.4-1.4 1.4.1 1.4-.3 1.4.6 1.4.5 1.4-.4 1.4.7 1.4.2 1.4-1.7 1.4.8 1.4-.7 1.4 1 1.4-.1 1.4-.2 1.4-.8 1.4.7 1.4-.5 1.4 1.1 1.4-.6 1.4-.5 1.4 1.5 1.4-.1 1.4-1.4 1.4 1.2 1.4-1.2 1.4.6 1.4 0 1.4.4 1.4-1 1.4.1 1.4-.1 1.4.5 1.4.4 1.4-.4 1.4-1.6 1.4 1.9 1.4-.9 1.4.1 1.4 1 1.4.8 1.4.1 1.4-.9 1.4.7 1.4-1 1.4-.1 1.4 1.5 1.4-.6 1.4-.9"/>
<path d="M40.8 483l1.4-.6 1.4-2.3 1.4 2.8 1.4 1.8 1.4 0 1.4-.9 1.4.6 1.4 1.5 1.4-.9 1.4-1.1 1.4 2.1 1.4-1.3 1.4.5 1.4.2 1.4-.6 1.4 1.1 1.4-1.3 1.4.6 1.4-1 1.4 1.5 1.4-1.6 1.4 1 1.4.2 1.4.2 1.4-1.4 1.4 1.3 1.4 0 1.4-1 1.4.7 1.4-.8 1.4-.3 1.4 0 1.4.2 1.4.9 1.4-.6 1.4 1 1.4 0 1.4-1.4 1.4.5 1.4-.7 1.4 1 1.4 0 1.4.2 1.4-.8 1.4.9 1.4-.8 1.4 1.3 1.4-.7 1.4-.6 1.4 1.4 1.4 0 1.4-.9 1.4 1.3 1.4-1.2 1.4.4 1.4-.1 1.4.6 1.4-1.4 1.4 0 1.4.1 1.4.1 1.4.2 1.4-1 1.4-.9 1.4 1.3 1.4-.6 1.4.3 1.4 1.3 1.4.9 1.4 0 1.4-.7 1.4.5 1.4-.9 1.4-.1 1.4 1.5 1.4-.4 1.4-.9"/>
<path d="M40.8 486.3l1.4 0 1.4-1.8 1.4 1.5 1.4 1.1 1.4-1 1.4-.8 1.4.5 1.4.8 1.4-.6 1.4-.9 1.4 1.6 1.4-1.8 1.4 1.3 1.4-.2 1.4-.3 1.4.9 1.4-1.6 1.4.7 1.4-.9 1.4 1.5 1.4-1.6 1.4 1 1.4.5 1.4-.1 1.4-1.3 1.4 1.6 1.4-.2 1.4-.8 1.4.9 1.4-1.2 1.4.2 1.4 0 1.4.4 1.4.5 1.4-.5 1.4 1.3 1.4-.5 1.4-1.1 1.4.7 1.4-.8 1.4 1.1 1.4-.2 1.4 0 1.4-.7 1.4.9 1.4-1.1 1.4 1.5 1.4-.8 1.4-.8 1.4 1.6 1.4.1 1.4-1.3 1.4 1.4 1.4-1.3 1.4.5 1.4-.4 1.4.6 1.4-1.3 1.4-.2 1.4.3 1.4.2 1.4.7 1.4-.9 1.4-1 1.4.7 1.4-.7 1.4.4 1.4 1.2 1.4.8 1.4 0 1.4-.8 1.4.7 1.4-1.1 1.4 0 1.4 1.5 1.4-.4 1.4-.8"/>
<path d="M40.8 481.7l1.4-.2 1.4-2.1 1.4 1.2 1.4 3.2 1.4.1 1.4-.4 1.4.6 1.4.9 1.4-.6 1.4-.3 1.4 1.5 1.4-1.3 1.4 1 1.4 0 1.4-.5 1.4 1.1 1.4-1.3 1.4.8 1.4-1 1.4 1.7 1.4-1.5 1.4.7 1.4.7 1.4 0 1.4-1.4 1.4 1.3 1.4 0 1.4-1.1 1.4 1 1.4-1.4 1.4.1 1.4.2 1.4-.2 1.4 1.2 1.4-.9 1.4.9 1.4 0 1.4-1.4 1.4.7 1.4-.5 1.4.7 1.4 0 1.4-.3 1.4-.8 1.4 1.1 1.4-1.1 1.4 1.6 1.4-.8 1.4-.9 1.4 1.8 1.4-.3 1.4-1.1 1.4 1.3 1.4-1.3 1.4.4 1.4.1 1.4.4 1.4-1.3 1.4-.1 1.4.2 1.4 0 1.4.2 1.4-.6 1.4-1.6 1.4 1.5 1.4-.5 1.4.4 1.4 1.7 1.4.9 1.4.1 1.4-.8 1.4.7 1.4-1.1 1.4.1 1.4 1.4 1.4-.5 1.4-.8"/>
<path d="M40.8 485.5l1.4.2 1.4-1.7 1.4 1 1.4 1.6 1.4-.6 1.4-.5 1.4.3 1.4 1 1.4-1 1.4-.8 1.4 1.8 1.4-1.6 1.4 1.1 1.4.1 1.4-.3 1.4.8 1.4-1.4 1.4.7 1.4-.7 1.4 1.5 1.4-1.4 1.4.6 1.4.5 1.4.2 1.4-1.4 1.4 1.3 1.4 0 1.4-.9 1.4.7 1.4-1.2 1.4.1 1.4.1 1.4.1 1.4.8 1.4-.5 1.4 1.1 1.4-.2 1.4-1.6 1.4.4 1.4-.5 1.4.8 1.4.3 1.4-.3 1.4-.6 1.4 1 1.4-1.2 1.4 1.3 1.4-.4 1.4-.9 1.4 1.8 1.4-.2 1.4-.9 1.4 1 1.4-1.1 1.4.4 1.4-.1 1.4.6 1.4-1.3 1.4 0 1.4 0 1.4.4 1.4 1 1.4-.1 1.4-1.1 1.4 1.1 1.4-1.2 1.4-.1 1.4.7 1.4.8 1.4 0 1.4-.8 1.4.7 1.4-1.1 1.4-.1 1.4 1.5 1.4-.5 1.4-.9"/>
<path d="M40.8 483.6l1.4-.3 1.4-1.6 1.4.4 1.4 2.6 1.4.3 1.4-1.1 1.4.3 1.4 1 1.4-.5 1.4-.8 1.4 1.6 1.4-1.3 1.4 1.1 1.4 0 1.4-.1 1.4.5 1.4-1.1 1.4.4 1.4-.7 1.4 1.3 1.4-1.5 1.4.9 1.4.4 1.4.3 1.4-1.2 1.4 1.2 1.4 0 1.4-1.2 1.4.9 1.4-1 1.4-.3 1.4.5 1.4-.2 1.4 1.1 1.4-.8 1.4 1.1 1.4 0 1.4-1.1 1.4.5 1.4-.7 1.4 1 1.4-.2 1.4 0 1.4-1.1 1.4 1.5 1.4-1.1 1.4 1.1 1.4-.4 1.4-.8 1.4 1.6 1.4-.2 1.4-.8 1.4 1 1.4-1.1 1.4.7 1.4-.1 1.4.3 1.4-1.2 1.4-.2 1.4.1 1.4.6 1.4.1 1.4.2 1.4-1 1.4.7 1.4-.3 1.4-.4 1.4 1.3 1.4.7 1.4.1 1.4-.8 1.4.6 1.4-.9 1.4-.1 1.4 1.4 1.4-.5 1.4-.8"/>
<path d="M40.8 485.1l1.4-.6 1.4-.2 1.4.4 1.4 1.1 1.4-.1 1.4-.9 1.4.5 1.4.5 1.4-.7 1.4-.3 1.4 1.5 1.4-1.5 1.4.8 1.4 0 1.4-.3 1.4 1.1 1.4-1.7 1.4 1.1 1.4-.9 1.4 1.5 1.4-1.5 1.4.4 1.4.5 1.4.3 1.4-1.6 1.4 1.5 1.4-.2 1.4-.8 1.4.7 1.4-1.1 1.4-.1 1.4-.1 1.4.3 1.4 1.1 1.4-.5 1.4 1 1.4-.4 1.4-1 1.4.2 1.4-.5 1.4.7 1.4.2 1.4-.1 1.4-.8 1.4 1 1.4-.7 1.4 1 1.4-.4 1.4-.5 1.4 1.4 1.4-.1 1.4-1.3 1.4 1.2 1.4-.9 1.4.3 1.4 0 1.4.7 1.4-1.4 1.4-.2 1.4.2 1.4.5 1.4.5 1.4-.3 1.4-1.6 1.4 1.7 1.4-.7 1.4-.2 1.4 1.1 1.4.8 1.4 0 1.4-.8 1.4.8 1.4-1.2 1.4 0 1.4 1.4 1.4-.3 1.4-1"/>
<path d="M40.8 481.7l1.4-.2 1.4-1.8 1.4 1.9 1.4 2.5 1.4-.2 1.4-.4 1.4.5 1.4 1 1.4-.6 1.4-.7 1.4 1.6 1.4-1.2 1.4.9 1.4.1 1.4-.4 1.4 1.1 1.4-1.5 1.4 1 1.4-1.3 1.4 1.6 1.4-1.2 1.4.5 1.4.5 1.4.3 1.4-1.6 1.4 1.7 1.4 0 1.4-1 1.4.8 1.4-1.3 1.4-.1 1.4.4 1.4-.1 1.4 1.2 1.4-.7 1.4 1 1.4-.2 1.4-1.2 1.4.5 1.4-.6 1.4.6 1.4.1 1.4.1 1.4-1 1.4.7 1.4-.4 1.4 1.3 1.4-.8 1.4-.9 1.4 1.7 1.4 0 1.4-1 1.4.9 1.4-1.4 1.4.5 1.4 0 1.4.5 1.4-1.3 1.4-.1 1.4.1 1.4.3 1.4.6 1.4-1.3 1.4-.7 1.4 1.3 1.4-1.2 1.4.7 1.4 1.5 1.4.8 1.4 0 1.4-.7 1.4.6 1.4-.9 1.4-.1 1.4 1.5 1.4-.4 1.4-.9"/>
</g>
<g fill="none" stroke="#c8323a" stroke-width="0.5" stroke-opacity="0.55" stroke-linejoin="round">
<path d="M40.8 462.9l1.4-3.6 1.4 1.6 1.4 7.5 1.4 5.2 1.4 5.8 1.4-2 1.4-3.6 1.4-5.2 1.4-5 1.4-3.2 1.4 3.1 1.4 4.4 1.4 4.1 1.4-2.1 1.4-2.8 1.4 4.7 1.4 6.9 1.4-1 1.4-5.3 1.4-4.6 1.4 6.2 1.4-3.7 1.4-2.4 1.4-2 1.4 5.6 1.4 2 1.4-4.3 1.4-1.8 1.4 3.5 1.4-.9 1.4-3.1 1.4 3.2 1.4.3 1.4-2 1.4 3.9 1.4 4.3 1.4-2.7 1.4-2.9 1.4 2.7 1.4 4.5 1.4 2.5 1.4.9 1.4 1.3 1.4 0 1.4.8 1.4 0 1.4-.5 1.4-1 1.4.2 1.4.4 1.4.5 1.4-.5 1.4.6 1.4 0 1.4.5 1.4-.5 1.4-.9 1.4-.5 1.4.1 1.4.1 1.4.9 1.4-.5 1.4-.8 1.4-3 1.4.3 1.4.2 1.4 3.7 1.4 1.3 1.4 1.9 1.4-.2 1.4-.2 1.4.7 1.4.4 1.4-1.4 1.4.5 1.4.5 1.4-.1"/>
<path d="M40.8 462.7l1.4-5.1 1.4 3.4 1.4 6.5 1.4 5.3 1.4 6.2 1.4-2.1 1.4-4.5 1.4-3.9 1.4-5 1.4-2.9 1.4 3 1.4 5.1 1.4 4 1.4-2.6 1.4-2.2 1.4 4.6 1.4 6.7 1.4-1.2 1.4-5.5 1.4-4.2 1.4 6 1.4-3 1.4-3.7 1.4-2 1.4 5.7 1.4 1.2 1.4-4 1.4-3 1.4 4.5 1.4-.8 1.4-2.7 1.4 2.5 1.4-.9 1.4-1.1 1.4 3.1 1.4 4.2 1.4-2.2 1.4-3.1 1.4 2 1.4 5.7 1.4 2.6 1.4 1.7 1.4 1.2 1.4.1 1.4.6 1.4.1 1.4-.3 1.4-.8 1.4-.1 1.4.5 1.4.4 1.4-.4 1.4.8 1.4 0 1.4.5 1.4-.6 1.4-.9 1.4-.4 1.4 0 1.4.3 1.4.9 1.4-.5 1.4-.8 1.4-3.1 1.4-.4 1.4.2 1.4 3.9 1.4 1.8 1.4 1.8 1.4 0 1.4-.4 1.4 1.1 1.4.2 1.4-1.3 1.4.3 1.4.6 1.4-.1"/>
<path d="M40.8 463.1l1.4-4.3 1.4 1.4 1.4 6.8 1.4 6.2 1.4 5.4 1.4-2.3 1.4-3.3 1.4-5.6 1.4-3.9 1.4-3.2 1.4 4 1.4 4 1.4 4.2 1.4-3.5 1.4-1.7 1.4 4.6 1.4 6.7 1.4-.7 1.4-5.2 1.4-5 1.4 6.3 1.4-2.5 1.4-3.8 1.4-1.8 1.4 5.8 1.4 1.8 1.4-4.5 1.4-2.8 1.4 3 1.4.1 1.4-2.2 1.4 2.3 1.4-.5 1.4-1.5 1.4 4.2 1.4 4 1.4-2.4 1.4-4.8 1.4 4 1.4 5 1.4 2.3 1.4 1.3 1.4 1.3 1.4-.1 1.4 1 1.4-.1 1.4-.4 1.4-.6 1.4 0 1.4.5 1.4.3 1.4-.6 1.4.9 1.4-.1 1.4 1 1.4-.7 1.4-.9 1.4-.5 1.4 0 1.4.2 1.4.9 1.4-.5 1.4-.6 1.4-3.2 1.4-.2 1.4 0 1.4 3.7 1.4 2.1 1.4 1.4 1.4.1 1.4-.4 1.4 1.1 1.4.1 1.4-1.2 1.4.4 1.4.6 1.4-.3"/>
<path d="M40.8 467.1l1.4-7 1.4 2.8 1.4 6.8 1.4 5.9 1.4 4.9 1.4-2.1 1.4-3 1.4-5.7 1.4-4.2 1.4-3.5 1.4 3.5 1.4 5.6 1.4 3.6 1.4-3.4 1.4-1.6 1.4 4.7 1.4 6 1.4-.4 1.4-5.5 1.4-3.9 1.4 5.5 1.4-3 1.4-3.5 1.4-1.6 1.4 5.5 1.4 2.6 1.4-5.1 1.4-2.5 1.4 4 1.4-1.1 1.4-1.9 1.4 2.8 1.4-.3 1.4-1.7 1.4 4 1.4 3.5 1.4-1.9 1.4-4 1.4 3 1.4 5 1.4 1.7 1.4.6 1.4 1.3 1.4-.1 1.4.8 1.4-.1 1.4-.1 1.4-1 1.4-.1 1.4.6 1.4.4 1.4-.5 1.4.8 1.4-.1 1.4.8 1.4-.7 1.4-1 1.4-.2 1.4-.2 1.4.3 1.4.9 1.4-.4 1.4-.8 1.4-2.1 1.4.1 1.4-.1 1.4 3.4 1.4 1.1 1.4 1.3 1.4-.1 1.4-.3 1.4.8 1.4.3 1.4-1.4 1.4.4 1.4.5 1.4-.2"/>
<path d="M40.8 462.6l1.4-4.3 1.4 2.4 1.4 6.6 1.4 6.6 1.4 4.7 1.4-1.6 1.4-4.1 1.4-4.6 1.4-5.7 1.4-2.1 1.4 3.7 1.4 3.7 1.4 4 1.4-2.9 1.4-1 1.4 4.6 1.4 6.4 1.4-.6 1.4-6.3 1.4-4 1.4 5.7 1.4-3.1 1.4-3.9 1.4-1.3 1.4 5.2 1.4 1.9 1.4-3.7 1.4-3.3 1.4 4.1 1.4-1 1.4-1.6 1.4 2.3 1.4-.6 1.4-2.3 1.4 4.9 1.4 4.1 1.4-2.2 1.4-3.2 1.4 2 1.4 5.4 1.4 2.5 1.4 1 1.4 1.6 1.4-.2 1.4 1 1.4-.1 1.4-.1 1.4-1.2 1.4.2 1.4.6 1.4.5 1.4-.6 1.4.6 1.4.2 1.4.5 1.4-.4 1.4-1.2 1.4-.4 1.4.2 1.4 0 1.4 1.4 1.4-.5 1.4-1.2 1.4-2.2 1.4-.5 1.4.2 1.4 3.2 1.4 2.2 1.4 1.2 1.4-.2 1.4-.1 1.4.8 1.4.2 1.4-1.2 1.4.4 1.4.6 1.4-.2"/>
<path d="M40.8 462.9l1.4-5.3 1.4 3.2 1.4 6.5 1.4 5.9 1.4 4.8 1.4-.8 1.4-4.1 1.4-5.2 1.4-5.8 1.4-2.1 1.4 3.5 1.4 5.1 1.4 3.3 1.4-2.7 1.4-2.6 1.4 4.5 1.4 6.9 1.4 0 1.4-6.1 1.4-3.8 1.4 5.5 1.4-3.5 1.4-3.4 1.4-1.1 1.4 4.3 1.4 2.9 1.4-4.2 1.4-2.2 1.4 2.6 1.4-.5 1.4-1.9 1.4 1.7 1.4.3 1.4-1.7 1.4 4.3 1.4 3.3 1.4-2.5 1.4-3.2 1.4 2.9 1.4 5.8 1.4 2.3 1.4 1.2 1.4 1.5 1.4-.1 1.4.7 1.4-.2 1.4-.2 1.4-.8 1.4-.2 1.4.6 1.4.7 1.4-.8 1.4 1.1 1.4-.1 1.4.5 1.4-.5 1.4-.8 1.4-.4 1.4-.1 1.4.4 1.4.9 1.4-.7 1.4-.7 1.4-2.7 1.4 0 1.4-.2 1.4 3.8 1.4 1.6 1.4 1.7 1.4-.1 1.4-.2 1.4.8 1.4.4 1.4-1.4 1.4.4 1.4.5 1.4-.1"/>
<path d="M40.8 461.2l1.4-2.6 1.4 2.1 1.4 6.8 1.4 5.7 1.4 5.4 1.4-1.3 1.4-4.4 1.4-5.4 1.4-4.1 1.4-2.1 1.4 3.2 1.4 4.6 1.4 4.2 1.4-3.2 1.4-1 1.4 3.8 1.4 6.7 1.4-.4 1.4-4.1 1.4-4.5 1.4 5.4 1.4-2.5 1.4-4.6 1.4-.8 1.4 5.2 1.4 1.7 1.4-3.7 1.4-3.1 1.4 3.7 1.4-1.1 1.4-2 1.4 3.3 1.4-.9 1.4-1.6 1.4 3.3 1.4 4 1.4-2.2 1.4-3 1.4 2.4 1.4 5.3 1.4 1.7 1.4.5 1.4 1.4 1.4-.1 1.4.9 1.4-.1 1.4-.2 1.4-1.1 1.4.1 1.4.4 1.4.1 1.4-.5 1.4.8 1.4.3 1.4.4 1.4-.6 1.4-.9 1.4-.4 1.4 0 1.4.3 1.4.8 1.4-.2 1.4-1.1 1.4-2.5 1.4-.3 1.4.1 1.4 3.8 1.4 1.6 1.4 1.4 1.4 0 1.4-.2 1.4.8 1.4.2 1.4-1.2 1.4.4 1.4.5 1.4-.1"/>
<path d="M40.8 467.9l1.4-6.5 1.4 1.5 1.4 6.2 1.4 6.6 1.4 4.4 1.4-.6 1.4-4.2 1.4-6 1.4-4.2 1.4-2.5 1.4 2.3 1.4 5.5 1.4 4.2 1.4-3.6 1.4-1.7 1.4 4.3 1.4 6.2 1.4-.6 1.4-4.6 1.4-4.1 1.4 4.5 1.4-3 1.4-3 1.4-1.7 1.4 6.3 1.4 1.4 1.4-4.6 1.4-2 1.4 3.8 1.4-.8 1.4-2.1 1.4 2.3 1.4.4 1.4-2.5 1.4 4.3 1.4 4.6 1.4-2.6 1.4-3.7 1.4 3 1.4 5.1 1.4 1.6 1.4.4 1.4 1.2 1.4 0 1.4.6 1.4.1 1.4-.1 1.4-1.3 1.4 0 1.4.4 1.4.6 1.4-.4 1.4.8 1.4-.1 1.4.3 1.4-.6 1.4-.6 1.4-.4 1.4 0 1.4-.2 1.4 1.1 1.4-.4 1.4-.8 1.4-2.7 1.4.9 1.4-.5 1.4 3.8 1.4 1.4 1.4 1.1 1.4-.2 1.4-.1 1.4.8 1.4.3 1.4-1.3 1.4.3 1.4.6 1.4-.1"/>
<path d="M40.8 466.4l1.4-5.6 1.4 1.3 1.4 6.3 1.4 5.8 1.4 6.1 1.4-1.8 1.4-3.7 1.4-5.9 1.4-4.9 1.4-2.6 1.4 3.9 1.4 4.6 1.4 4.3 1.4-3 1.4-2.3 1.4 4.3 1.4 7.3 1.4-.2 1.4-6.1 1.4-4.5 1.4 6 1.4-3.2 1.4-3.1 1.4-1.8 1.4 5.5 1.4 2 1.4-4.5 1.4-1.5 1.4 3.6 1.4-1.9 1.4-1.8 1.4 2.9 1.4-.7 1.4-1.5 1.4 4.2 1.4 3.7 1.4-1.9 1.4-3.2 1.4 2.7 1.4 4.3 1.4 2.3 1.4.2 1.4 1.5 1.4-.3 1.4.9 1.4-.1 1.4 0 1.4-1.2 1.4.1 1.4.6 1.4.4 1.4-.6 1.4 1 1.4-.1 1.4.6 1.4-.8 1.4-.9 1.4-.2 1.4-.1 1.4.3 1.4.7 1.4-.5 1.4-.8 1.4-1.9 1.4.1 1.4-.8 1.4 3.8 1.4 1.5 1.4 1 1.4.1 1.4-.4 1.4 1 1.4.2 1.4-1.4 1.4.3 1.4.6 1.4-.1"/>
<path d="M40.8 460.6l1.4-2.9 1.4 2.1 1.4 6.3 1.4 5.9 1.4 5.4 1.4-1.9 1.4-4.1 1.4-3.9 1.4-5.6 1.4-3 1.4 3.3 1.4 4.7 1.4 4 1.4-1.9 1.4-2.7 1.4 5.3 1.4 6.2 1.4-.1 1.4-5.8 1.4-3.9 1.4 5.8 1.4-3.4 1.4-3.9 1.4-1.4 1.4 5.3 1.4 2.3 1.4-3.7 1.4-2.7 1.4 3.8 1.4-.2 1.4-2.4 1.4 2.7 1.4-.4 1.4-2.3 1.4 3.7 1.4 4.9 1.4-2.9 1.4-3 1.4 1.9 1.4 6 1.4 2.1 1.4 1.1 1.4 1.5 1.4-.2 1.4.5 1.4.1 1.4-.3 1.4-1 1.4-.1 1.4.5 1.4.6 1.4-.7 1.4.9 1.4-.1 1.4.7 1.4-.6 1.4-.8 1.4-.5 1.4-.1 1.4.1 1.4 1.3 1.4-.6 1.4-1 1.4-3 1.4.2 1.4-.4 1.4 4.2 1.4 1.8 1.4 1.7 1.4-.1 1.4-.2 1.4.9 1.4.1 1.4-1.2 1.4.3 1.4.6 1.4-.1"/>
<path d="M40.8 465.1l1.4-7.1 1.4 3.9 1.4 6.7 1.4 5.6 1.4 4.5 1.4-.6 1.4-4.6 1.4-4.9 1.4-4.2 1.4-2.6 1.4 2.4 1.4 5.9 1.4 3.2 1.4-2.8 1.4-1.8 1.4 4.3 1.4 6.8 1.4.1 1.4-5.2 1.4-4.7 1.4 5.4 1.4-3.3 1.4-3.7 1.4-1.9 1.4 5.5 1.4 1.8 1.4-3.4 1.4-3.4 1.4 3.5 1.4-.6 1.4-1.6 1.4 1.3 1.4.6 1.4-2.3 1.4 4.1 1.4 4 1.4-1.4 1.4-3.7 1.4 1.6 1.4 5.8 1.4 2 1.4 1 1.4 1.6 1.4-.2 1.4.7 1.4-.1 1.4-.1 1.4-.9 1.4 0 1.4.3 1.4.6 1.4-.4 1.4.6 1.4 0 1.4.9 1.4-1 1.4-.5 1.4-.5 1.4.1 1.4-.1 1.4 1.2 1.4-.5 1.4-.8 1.4-2.5 1.4-.4 1.4-.3 1.4 4 1.4 1.8 1.4 1.3 1.4-.1 1.4-.2 1.4.9 1.4.3 1.4-1.4 1.4.3 1.4.7 1.4-.1"/>
<path d="M40.8 463.8l1.4-5.4 1.4 3.3 1.4 6.6 1.4 5.5 1.4 5 1.4-1.4 1.4-3.7 1.4-5.2 1.4-4.7 1.4-2.1 1.4 3.7 1.4 4.7 1.4 3 1.4-1.7 1.4-2.3 1.4 4.2 1.4 7 1.4.2 1.4-5.9 1.4-4.5 1.4 6 1.4-2.8 1.4-3.2 1.4-1.4 1.4 5.4 1.4 1 1.4-3.4 1.4-2.8 1.4 3.6 1.4-.6 1.4-2.9 1.4 2 1.4 0 1.4-.7 1.4 3.9 1.4 3.3 1.4-2.6 1.4-3 1.4 2 1.4 5.9 1.4 1.3 1.4.6 1.4 1.2 1.4 0 1.4.8 1.4-.1 1.4 0 1.4-.9 1.4-.2 1.4.4 1.4.6 1.4-.8 1.4 1 1.4-.1 1.4.8 1.4-.9 1.4-.6 1.4-.5 1.4 0 1.4 0 1.4 1.2 1.4-.6 1.4-.7 1.4-2.6 1.4.8 1.4-.7 1.4 3.5 1.4 1.8 1.4 1.2 1.4-.1 1.4-.2 1.4.9 1.4.2 1.4-1.2 1.4.3 1.4.5 1.4-.1"/>
<path d="M40.8 465.8l1.4-5.9 1.4.9 1.4 7.3 1.4 5.8 1.4 5.2 1.4-2.1 1.4-3.6 1.4-6.1 1.4-4.4 1.4-2.6 1.4 3.3 1.4 4.6 1.4 4.6 1.4-3.1 1.4-1.9 1.4 5.4 1.4 6.8 1.4-.8 1.4-5.7 1.4-3.2 1.4 5.1 1.4-2.7 1.4-2.9 1.4-2.3 1.4 6.2 1.4 1.8 1.4-3.9 1.4-2.6 1.4 3.2 1.4-.2 1.4-2.4 1.4 1.9 1.4 0 1.4-1.5 1.4 4.3 1.4 3.1 1.4-2.6 1.4-3.3 1.4 3 1.4 4.1 1.4 2.7 1.4.4 1.4 1.3 1.4-.1 1.4.8 1.4-.1 1.4-.1 1.4-1.1 1.4-.3 1.4.6 1.4.5 1.4-.6 1.4.9 1.4-.1 1.4 1 1.4-.7 1.4-.9 1.4-.3 1.4-.1 1.4.2 1.4 1 1.4-.2 1.4-.9 1.4-2.2 1.4-.3 1.4.5 1.4 3.5 1.4 1.2 1.4 1.4 1.4-.2 1.4-.3 1.4.8 1.4.2 1.4-1.2 1.4.2 1.4.7 1.4-.3"/>
<path d="M40.8 463.8l1.4-5.2 1.4 2.1 1.4 6.7 1.4 6.2 1.4 5.4 1.4-2.4 1.4-3.9 1.4-4.9 1.4-5.1 1.4-1.5 1.4 3.1 1.4 4.3 1.4 3.3 1.4-1.5 1.4-2 1.4 4.8 1.4 5.8 1.4-.4 1.4-5.2 1.4-4.4 1.4 5.8 1.4-2.1 1.4-3.8 1.4-2.4 1.4 6 1.4 1.9 1.4-3.8 1.4-2.4 1.4 3.9 1.4-.6 1.4-2.5 1.4 3 1.4-1.1 1.4-1.4 1.4 3.8 1.4 5.1 1.4-2.2 1.4-3.9 1.4 2.3 1.4 5.2 1.4 1.5 1.4.9 1.4 1.1 1.4-.1 1.4.8 1.4.1 1.4-.3 1.4-.8 1.4-.2 1.4.3 1.4.5 1.4-.2 1.4.6 1.4-.1 1.4.5 1.4-.4 1.4-1.1 1.4-.5 1.4 0 1.4.1 1.4.9 1.4-.4 1.4-.8 1.4-2.9 1.4.7 1.4-.7 1.4 3.7 1.4 1.6 1.4 1.5 1.4-.1 1.4-.4 1.4.9 1.4.3 1.4-1.3 1.4.4 1.4.6 1.4-.1"/>
<path d="M40.8 467l1.4-5.9 1.4 1.1 1.4 6.9 1.4 6.2 1.4 5.5 1.4-1.6 1.4-3.8 1.4-5 1.4-4.9 1.4-2.4 1.4 2.9 1.4 4.8 1.4 3.2 1.4-2.1 1.4-2.4 1.4 4.6 1.4 6.5 1.4-.9 1.4-4.8 1.4-5.1 1.4 6.4 1.4-2.8 1.4-4.7 1.4-1.4 1.4 5 1.4 2.1 1.4-4.2 1.4-2.4 1.4 4.2 1.4-.9 1.4-2.5 1.4 2.5 1.4-.3 1.4-1.8 1.4 5.1 1.4 3 1.4-1.7 1.4-4.2 1.4 3.5 1.4 5.1 1.4 1.4 1.4 1 1.4 1.2 1.4 0 1.4.7 1.4-.1 1.4 0 1.4-1.1 1.4 0 1.4.6 1.4.4 1.4-.5 1.4.7 1.4-.2 1.4 1 1.4-1.1 1.4-.5 1.4-.7 1.4.1 1.4.2 1.4.8 1.4-.4 1.4-.9 1.4-2.7 1.4.1 1.4-.1 1.4 3.8 1.4 1.5 1.4 1.2 1.4.1 1.4-.4 1.4.8 1.4.3 1.4-1.3 1.4.4 1.4.4 1.4 0"/>
<path d="M40.8 465.1l1.4-6.5 1.4 3.6 1.4 5.7 1.4 6.8 1.4 4.1 1.4-1.2 1.4-3.3 1.4-5.5 1.4-4.5 1.4-2.1 1.4 3.1 1.4 4.8 1.4 4.2 1.4-3.7 1.4-1.6 1.4 5.6 1.4 6.2 1.4-1.1 1.4-4.2 1.4-4.6 1.4 5.2 1.4-2.9 1.4-3.6 1.4-.9 1.4 4.8 1.4 2.4 1.4-4.1 1.4-2.5 1.4 3.5 1.4-1.4 1.4-1.5 1.4 1.9 1.4.2 1.4-2.3 1.4 4.6 1.4 3.7 1.4-2.7 1.4-3.3 1.4 2.5 1.4 4.9 1.4 2.1 1.4.5 1.4 1.4 1.4-.2 1.4.5 1.4.3 1.4-.4 1.4-1.2 1.4.2 1.4.6 1.4.5 1.4-.6 1.4.8 1.4-.3 1.4.7 1.4-.5 1.4-.9 1.4-.4 1.4-.1 1.4.2 1.4 1.2 1.4-.8 1.4-.8 1.4-2.3 1.4-.1 1.4.3 1.4 3.1 1.4 1.6 1.4 1.5 1.4-.2 1.4-.2 1.4.9 1.4.4 1.4-1.4 1.4.4 1.4.4 1.4 0"/>
<path d="M40.8 467.3l1.4-6.4 1.4 1.9 1.4 6.8 1.4 6 1.4 5 1.4-1.4 1.4-4.8 1.4-4.7 1.4-4.7 1.4-2.7 1.4 2.8 1.4 5 1.4 4 1.4-2.8 1.4-2.2 1.4 5.2 1.4 5.9 1.4.1 1.4-5.7 1.4-4.1 1.4 5.9 1.4-3.4 1.4-4 1.4-.9 1.4 4.8 1.4 2.8 1.4-4.1 1.4-2.6 1.4 3.1 1.4-.4 1.4-2.7 1.4 2.5 1.4-1.1 1.4-1.1 1.4 3.8 1.4 3.7 1.4-2.1 1.4-2.9 1.4 2.1 1.4 5.5 1.4 2.2 1.4.1 1.4 1.5 1.4 0 1.4.8 1.4-.2 1.4-.3 1.4-.7 1.4-.3 1.4.6 1.4.6 1.4-.6 1.4.8 1.4.2 1.4.4 1.4-.4 1.4-.9 1.4-.3 1.4-.3 1.4.1 1.4 1.4 1.4-.7 1.4-.8 1.4-2.6 1.4.4 1.4-.5 1.4 3.9 1.4 1.3 1.4 1.5 1.4-.2 1.4-.4 1.4 1 1.4.1 1.4-1.3 1.4.3 1.4.7 1.4-.2"/>
<path d="M40.8 466.8l1.4-5.7 1.4 1.5 1.4 7.1 1.4 5.7 1.4 5.1 1.4-1 1.4-4.5 1.4-5 1.4-4.9 1.4-2.5 1.4 3.3 1.4 5.2 1.4 3.9 1.4-3.1 1.4-1.5 1.4 4.6 1.4 5.9 1.4 0 1.4-5.5 1.4-4.3 1.4 5.2 1.4-2.4 1.4-4 1.4-2.1 1.4 5.6 1.4 2.5 1.4-4.8 1.4-2.2 1.4 3.4 1.4-1.5 1.4-1.9 1.4 3.1 1.4-1.3 1.4-1.1 1.4 4.4 1.4 3.6 1.4-2.8 1.4-3.2 1.4 2 1.4 5.7 1.4 2.4 1.4 0 1.4 1.4 1.4.2 1.4.5 1.4.3 1.4-.4 1.4-.8 1.4 0 1.4.4 1.4.6 1.4-.6 1.4 1 1.4-.1 1.4.7 1.4-.7 1.4-.9 1.4-.3 1.4-.1 1.4.2 1.4 1 1.4-.5 1.4-.8 1.4-2.1 1.4.3 1.4-.3 1.4 3.4 1.4 1.1 1.4 1.4 1.4-.2 1.4-.4 1.4.9 1.4.2 1.4-1.2 1.4.2 1.4.5 1.4-.1"/>
<path d="M40.8 462.7l1.4-5 1.4 2 1.4 7 1.4 6.8 1.4 4.3 1.4-.6 1.4-4.1 1.4-5.6 1.4-5 1.4-2.2 1.4 2.4 1.4 4.8 1.4 4.7 1.4-2.6 1.4-2.1 1.4 4.8 1.4 5.9 1.4-.6 1.4-4.7 1.4-5 1.4 4.9 1.4-2.1 1.4-4 1.4-1.1 1.4 4.4 1.4 3 1.4-4.1 1.4-3.3 1.4 4.1 1.4-1.2 1.4-2 1.4 1.8 1.4-.5 1.4-1 1.4 4 1.4 3.4 1.4-2.2 1.4-3.5 1.4 3.1 1.4 5.1 1.4 3.1 1.4 1.2 1.4 1.2 1.4 0 1.4.7 1.4 0 1.4-.2 1.4-.9 1.4.1 1.4.3 1.4.5 1.4-.5 1.4.9 1.4-.2 1.4.8 1.4-.5 1.4-1 1.4-.4 1.4 0 1.4.2 1.4 1.1 1.4-.5 1.4-1.2 1.4-2.5 1.4-.7 1.4.1 1.4 3.9 1.4 1.9 1.4 1.8 1.4-.3 1.4-.1 1.4 1.1 1.4.1 1.4-1.2 1.4.2 1.4.7 1.4-.2"/>
<path d="M40.8 461.9l1.4-4.5 1.4 3 1.4 5.9 1.4 6 1.4 5.6 1.4-1.5 1.4-4.7 1.4-4.6 1.4-5.2 1.4-1.6 1.4 2.4 1.4 5.2 1.4 3.7 1.4-2.8 1.4-1.5 1.4 4.2 1.4 6.4 1.4-.5 1.4-5.8 1.4-4.2 1.4 5.7 1.4-2.7 1.4-3.5 1.4-1.3 1.4 4.3 1.4 2.2 1.4-3.6 1.4-2 1.4 3.3 1.4-1.3 1.4-1.8 1.4 1.5 1.4 0 1.4-1 1.4 3.6 1.4 4.6 1.4-1.9 1.4-4.3 1.4 3 1.4 5.9 1.4 2.1 1.4 1.1 1.4 1.6 1.4-.2 1.4.7 1.4-.1 1.4-.1 1.4-1 1.4-.1 1.4.4 1.4.7 1.4-.7 1.4.9 1.4-.2 1.4.7 1.4-.5 1.4-.9 1.4-.6 1.4.2 1.4.2 1.4.9 1.4-.6 1.4-1.1 1.4-2.5 1.4-.3 1.4-.3 1.4 4.1 1.4 1.6 1.4 1.8 1.4-.3 1.4-.2 1.4 1 1.4.3 1.4-1.3 1.4.3 1.4.6 1.4-.2"/>
</g>
</g>
<rect x="34.70" y="448.20" width="119.60" height="39.80" fill="none" stroke="#9a9a9a" stroke-width="0.9"/>
<line x1="32.20" y1="486.10" x2="34.70" y2="486.10" stroke="#333" stroke-width="0.6"/>
<text x="30.90" y="489.10" font-size="8.4" text-anchor="end" fill="#333" stroke="#333" stroke-width="0.06">0</text>
<line x1="32.20" y1="472.80" x2="34.70" y2="472.80" stroke="#333" stroke-width="0.6"/>
<text x="30.90" y="475.80" font-size="8.4" text-anchor="end" fill="#333" stroke="#333" stroke-width="0.06">20</text>
<line x1="32.20" y1="459.60" x2="34.70" y2="459.60" stroke="#333" stroke-width="0.6"/>
<text x="30.90" y="462.60" font-size="8.4" text-anchor="end" fill="#333" stroke="#333" stroke-width="0.06">40</text>
<line x1="40.40" y1="488.00" x2="40.40" y2="490.50" stroke="#333" stroke-width="0.6"/>
<line x1="76.50" y1="488.00" x2="76.50" y2="490.50" stroke="#333" stroke-width="0.6"/>
<line x1="112.60" y1="488.00" x2="112.60" y2="490.50" stroke="#333" stroke-width="0.6"/>
<line x1="148.60" y1="488.00" x2="148.60" y2="490.50" stroke="#333" stroke-width="0.6"/>
<text x="43.90" y="458.40" font-size="9.8" text-anchor="start" fill="#000" stroke="#000" stroke-width="0.06">Rye:chr1R</text>
<text x="39.90" y="498.20" font-size="8.4" text-anchor="middle" fill="#333" stroke="#333" stroke-width="0.06">0</text>
<text x="76.00" y="498.20" font-size="8.4" text-anchor="middle" fill="#333" stroke="#333" stroke-width="0.06">100</text>
<text x="112.10" y="498.20" font-size="8.4" text-anchor="middle" fill="#333" stroke="#333" stroke-width="0.06">200</text>
<text x="139.90" y="498.20" font-size="8.4" text-anchor="start" fill="#333" stroke="#333" stroke-width="0.06">300Mb</text>
<text x="40.20" y="512.60" font-size="9.8" text-anchor="middle" fill="#000" stroke="#000" stroke-width="0.06">Reference</text>
<text x="99.90" y="512.60" font-size="9.8" text-anchor="middle" fill="#000" stroke="#000" stroke-width="0.06">CS+Rye</text>
<text x="15.20" y="420.00" font-size="9.8" text-anchor="middle" fill="#000" stroke="#000" stroke-width="0.06" transform="rotate(-90 15.20 420.00)">Expressed gene count</text>
<polyline points="40.4,345.8 40.4,488.0" fill="none" stroke="#d9434a" stroke-width="1.1" stroke-dasharray="2.6,1.8"/>
<polyline points="117.3,345.8 117.3,386.0 126.8,397.2 126.8,437.2 141.6,448.2 141.6,488.0" fill="none" stroke="#d9434a" stroke-width="1.1" stroke-dasharray="2.6,1.8"/>
<defs><clipPath id="cd4"><rect x="194.3" y="346.3" width="129.6" height="65.5"/></clipPath></defs>
<rect x="194.30" y="346.30" width="129.60" height="65.50" fill="#fff"/>
<line x1="194.30" y1="409.40" x2="323.90" y2="409.40" stroke="#ebebeb" stroke-width="0.6"/>
<line x1="194.30" y1="393.10" x2="323.90" y2="393.10" stroke="#ebebeb" stroke-width="0.6"/>
<line x1="194.30" y1="376.30" x2="323.90" y2="376.30" stroke="#ebebeb" stroke-width="0.6"/>
<line x1="194.30" y1="359.80" x2="323.90" y2="359.80" stroke="#ebebeb" stroke-width="0.6"/>
<line x1="200.20" y1="346.30" x2="200.20" y2="411.80" stroke="#ebebeb" stroke-width="0.6"/>
<line x1="229.70" y1="346.30" x2="229.70" y2="411.80" stroke="#ebebeb" stroke-width="0.6"/>
<line x1="259.30" y1="346.30" x2="259.30" y2="411.80" stroke="#ebebeb" stroke-width="0.6"/>
<line x1="288.90" y1="346.30" x2="288.90" y2="411.80" stroke="#ebebeb" stroke-width="0.6"/>
<line x1="318.30" y1="346.30" x2="318.30" y2="411.80" stroke="#ebebeb" stroke-width="0.6"/>
<g clip-path="url(#cd4)">
<path d="M200.2 388.4l1.4-1.2 1.4-2 1.4-1.2 1.4-1.4 1.4-2.2 1.4-1.6 1.4-1.8 1.4 0 1.4-.3 1.4.8 1.4 1.7 1.4.5 1.4.3 1.4 1.3 1.4.1 1.4.9 1.4-.6 1.4-.9 1.4-.9 1.4.3 1.4 1.5 1.4 1 1.4.8 1.4-.7 1.4-2.1 1.4-.9 1.4-1.8 1.4-1.1 1.4-2 1.4-1.7 1.4-1.9 1.4 1.2 1.4 2 1.4 1.7 1.4 2.5 1.4-.4 1.4.3 1.4.9 1.4-1.4 1.4-2.2 1.4-2.2 1.4.5 1.4 2.7 1.4 1.7 1.4 1.2 1.4-1.3 1.4-1.2 1.4-1.3 1.4-1.9 1.4-2.5 1.4-1.3 1.4-2.9 1.4-1.8 1.4-2 1.4 1.7 1.4 1.4 1.4 1.7 1.4 2.8 1.4 1.6 1.4 2.3 1.4 1.9 1.4 2.3 1.4.9 1.4-.8 1.4-1 1.4-.4 1.4.8 1.4-.2 1.4.5 1.4 0 1.4-.6 1.4-.8 1.4.1 1.4-1 1.4-.9 1.4-.9 1.4-.1 1.4 2 1.4 3.5 1.4 4 1.4 4.8 1.4 3.2 1.4 3.9 1.3 3.3 0 6.5-1.3-.7-1.4-1.3-1.4-.5-1.4-3.1-1.4-5.2-1.4-4.6-1.4-2.7-1.4 0-1.4 1-1.4.9-1.4 1-1.4-.1-1.4.8-1.4.6-1.4 0-1.4-.5-1.4.2-1.4-.8-1.4.4-1.4 1-1.4.8-1.4.8-1.4-.1-1.4.3-1.4-2.4-1.4-2.1-1.4-3.3-1.4-2.3-1.4-2-1.4-2.2-1.4 2-1.4 1.7-1.4 2.8-1.4.9-1.4 1.9-1.4 1.3-1.4.8-1.4.9-1.4.8-1.4-1.1-1.4-1.2-1.4-2.1-1.4-.3-1.4 2.3-1.4 2.2-1.4 1-1.4-1.3-1.4-.8-1.4 0-1.4-2.1-1.4-1.2-1.4-1.6-1.4-1.1-1.4 1.3-1.4 1-1.4 1.4-1.4.4-1.4 1.3-1.4.9-1.4 2.1-1.4.8-1.4.2-1.4.7-1.4.2-1.4-.5-1.4 0-1.4 0-1.4-.2-1.4-1-1.4 0-1.4-1.4-1.4-1.5-1.4-1.7-1.4-2.6-1.4-1.3-1.4-.3-1.4-.1-1.4 2.7-1.4 2.4-1.4 3.1-1.4 2.3-1.4 2.1-1.4 2.9-1.4 2.1z" fill="#efefef" fill-opacity="1.0" stroke="none"/>
<path d="M200.2 392.1l1.4-1.4 1.4-2.2 1.4-1.5 1.4-1.6 1.4-2.5 1.4-1.8 1.4-2 1.4.1 1.4-.2 1.4.9 1.4 1.9 1.4.9 1.4.6 1.4 1.3 1.4 0 1.4.9 1.4-.3 1.4-.7 1.4-.6 1.4.3 1.4 1.1 1.4.6 1.4.5 1.4-.8 1.4-2.1 1.4-.9 1.4-1.6 1.4-.9 1.4-1.9 1.4-1.5 1.4-1.8 1.4 1.2 1.4 1.9 1.4 1.6 1.4 2.3 1.4-.2 1.4.4 1.4 1 1.4-1.3 1.4-2.2 1.4-2.2 1.4.4 1.4 2.6 1.4 1.5 1.4 1.2 1.4-1.1 1.4-1.2 1.4-1.2 1.4-1.7 1.4-2.4 1.4-1.2 1.4-2.9 1.4-1.7 1.4-2 1.4 1.8 1.4 1.6 1.4 1.9 1.4 2.9 1.4 1.6 1.4 2.4 1.4 1.3 1.4 1.8 1.4.4 1.4-.7 1.4-1 1.4-.4 1.4.8 1.4-.2 1.4.5 1.4 0 1.4-.6 1.4-.8 1.4.1 1.4-1 1.4-.9 1.4-1 1.4 0 1.4 2.1 1.4 3.8 1.4 4.3 1.4 4.4 1.4 2.5 1.4 3.3 1.3 2.6 0 4.6-1.3-.9-1.4-1.4-1.4-.6-1.4-3.2-1.4-5.1-1.4-4.6-1.4-2.7-1.4.1-1.4 1-1.4.8-1.4 1-1.4-.1-1.4.9-1.4.5-1.4 0-1.4-.4-1.4.2-1.4-.8-1.4.3-1.4 1.1-1.4.7-1.4.7-1.4-.1-1.4.2-1.4-2.5-1.4-2-1.4-3.3-1.4-2.3-1.4-2-1.4-2.1-1.4 2-1.4 1.7-1.4 2.8-1.4.9-1.4 1.9-1.4 1.4-1.4.8-1.4.9-1.4.9-1.4-1.2-1.4-1.2-1.4-2.2-1.4-.2-1.4 2.2-1.4 2.2-1.4 1-1.4-1.2-1.4-.8-1.4 0-1.4-2-1.4-1.3-1.4-1.6-1.4-1.1-1.4 1.3-1.4 1.1-1.4 1.4-1.4.4-1.4 1.3-1.4.9-1.4 2.1-1.4.8-1.4.2-1.4.6-1.4.1-1.4-.4-1.4-.1-1.4.1-1.4-.2-1.4-.9-1.4-.1-1.4-1.4-1.4-1.4-1.4-1.6-1.4-2.6-1.4-1.3-1.4-.2-1.4-.2-1.4 2.7-1.4 2.4-1.4 3.1-1.4 2.2-1.4 2.1-1.4 2.8-1.4 2.1z" fill="#e4e4e4" fill-opacity="1.0" stroke="none"/>
<g fill="none" stroke="#c4c4c4" stroke-width="0.4" stroke-opacity="0.3" stroke-linejoin="round">
<path d="M200.2 398.3l1.4-2.3 1.4-3.1 1.4.5 1.4-3.4 1.4-1.6 1.4-.7 1.4-2.6 1.4-.3 1.4-.4 1.4.1 1.4 5.8 1.4 2 1.4-.8 1.4.7 1.4 2.2 1.4.9 1.4 1 1.4-.2 1.4.1 1.4.7 1.4-.2 1.4-1 1.4 0 1.4-.6 1.4-3.1 1.4-.4 1.4-2.6 1.4.7 1.4-1 1.4-3.2 1.4.8 1.4.2 1.4 1.4 1.4-.5 1.4 3.4 1.4.2 1.4-2.2 1.4 5.3 1.4-1.2 1.4-5.1 1.4-2.5 1.4 1.7 1.4 1.2 1.4.5 1.4.3 1.4-1.1 1.4-2 1.4-2.7 1.4 2 1.4-2.9 1.4-4.4 1.4 1.2 1.4-.3 1.4-5.2 1.4 5.2 1.4-2.4 1.4 5 1.4 4.9 1.4-.9 1.4 2 1.4 0 1.4 3.8 1.4-1.5 1.4.4 1.4-.3 1.4-1.7 1.4 2.3 1.4-1.9 1.4 3.9 1.4.2 1.4-1.9 1.4-1 1.4 2.1 1.4-1.2 1.4-.9 1.4-1.2 1.4.4 1.4 2.5 1.4 4.4 1.4 5.2 1.4 3.7 1.4-.1 1.4 1.2 1.3.4"/>
<path d="M200.2 393.4l1.4.1 1.4-1.1 1.4-3.3 1.4-1.4 1.4-1.9 1.4-.9 1.4-2.4 1.4.9 1.4-3.3 1.4 2.9 1.4 2.3 1.4 1.2 1.4.5 1.4 3.1 1.4.6 1.4.7 1.4-2.8 1.4 1.4 1.4 1.7 1.4-1.9 1.4 0 1.4.1 1.4 1.3 1.4-1.9 1.4-3.5 1.4-1.6 1.4-1.4 1.4 1.9 1.4-5 1.4-.4 1.4-2.3 1.4 4 1.4 1.6 1.4-2.9 1.4 2.8 1.4-.3 1.4-.2 1.4 2.9 1.4.5 1.4-5.2 1.4-1 1.4-.2 1.4 4.7 1.4-1.6 1.4 2.8 1.4-3.8 1.4.1 1.4-2.9 1.4 1.1 1.4-1.5 1.4-3 1.4-1.4 1.4 0 1.4-3.7 1.4 5.8 1.4-3.4 1.4 4.2 1.4 7.8 1.4 1.7 1.4-.5 1.4-.9 1.4 2.7 1.4.3 1.4-.8 1.4-.7 1.4-.6 1.4 3.8 1.4-4.5 1.4 4.5 1.4-2.4 1.4 2.3 1.4-1.3 1.4.6 1.4-3.2 1.4.5 1.4-4.7 1.4 1.1 1.4.9 1.4 3 1.4 9.3 1.4 1 1.4.6 1.4 5 1.3 1.1"/>
<path d="M200.2 397.2l1.4-.1 1.4-4.3 1.4-3.3 1.4-2 1.4-.5 1.4-2.3 1.4-3.2 1.4.4 1.4-2.3 1.4 1.3 1.4 5.8 1.4-2.9 1.4 3.9 1.4-1.4 1.4 2.4 1.4-1.8 1.4-.4 1.4 2.2 1.4 1.1 1.4-1.8 1.4 2.8 1.4-1.3 1.4 1.3 1.4-1.8 1.4-1.4 1.4-1.6 1.4-2.7 1.4-.3 1.4.1 1.4-5 1.4.4 1.4-.4 1.4 5.6 1.4-.1 1.4 3.8 1.4-2.6 1.4 1 1.4 2.2 1.4-1.3 1.4-4.1 1.4-3.2 1.4 3.3 1.4.6 1.4 2.9 1.4-.2 1.4 1.3 1.4-1.3 1.4-2.9 1.4 2.1 1.4-4 1.4 2.3 1.4-6.9 1.4-.3 1.4-2.4 1.4 4 1.4-.4 1.4 3.7 1.4 2.9 1.4-.4 1.4 7.8 1.4-3.8 1.4 4.3 1.4-2.1 1.4-1.5 1.4-1.4 1.4-.9 1.4.6 1.4.3 1.4 3.7 1.4-3.8 1.4 1.1 1.4-1 1.4-.1 1.4-2.6 1.4 2.4 1.4-2.2 1.4.8 1.4 1.5 1.4 6.5 1.4 2.8 1.4 4.9 1.4-1.4 1.4 2.9 1.3 1.8"/>
<path d="M200.2 404l1.4-2 1.4-3.2 1.4-3.2 1.4-1 1.4-3.5 1.4-2.3 1.4-2.8 1.4-.6 1.4.6 1.4.4 1.4 4.3 1.4 1.6 1.4 1.1 1.4-.2 1.4 1.3 1.4 1.4 1.4.4 1.4-3.9 1.4.9 1.4 3.6 1.4-3.8 1.4 0 1.4-1.8 1.4 2.4 1.4-2.9 1.4-2.9 1.4-3.1 1.4.8 1.4-.4 1.4.2 1.4-3.6 1.4 1.2 1.4.6 1.4 2.3 1.4 2.6 1.4 2.2 1.4-.7 1.4 3.8 1.4-4.3 1.4-2.4 1.4-1.4 1.4 1 1.4 5 1.4.3 1.4 1 1.4-1.9 1.4.2 1.4-.2 1.4-1.2 1.4-2 1.4-.2 1.4-3.4 1.4-1.5 1.4-1.9 1.4-.2 1.4 4.3 1.4 2.4 1.4 3.7 1.4 1.5 1.4-1.8 1.4-.8 1.4 1.7 1.4-1.5 1.4 1.3 1.4-2.3 1.4-.4 1.4 2.5 1.4-3.7 1.4 2 1.4-2.2 1.4 1.1 1.4.9 1.4-3.7 1.4 1.3 1.4.8 1.4-1.6 1.4-2.2 1.4 4.9 1.4 2.6 1.4 6.2 1.4 1.8 1.4 4 1.4 1.2 1.3.3"/>
<path d="M200.2 391.6l1.4 2.1 1.4-6.8 1.4-.5 1.4-3 1.4-2.3 1.4-.9 1.4-2.8 1.4 2 1.4-3.2 1.4 2.7 1.4 1.1 1.4 1.4 1.4.4 1.4 1.9 1.4-.3 1.4.2 1.4-2.6 1.4-.8 1.4.2 1.4 3.8 1.4-.2 1.4 2 1.4-2.3 1.4 3.5 1.4-2.8 1.4-.5 1.4-3.7 1.4-.4 1.4-.7 1.4-.1 1.4-5.5 1.4 4.6 1.4 3.7 1.4 1.7 1.4.4 1.4-2.9 1.4 4.4 1.4.1 1.4-1.5 1.4-4.3 1.4-.1 1.4 0 1.4-.6 1.4 4 1.4 2.4 1.4-4.4 1.4-.9 1.4-3 1.4-3.2 1.4 1.9 1.4-2.2 1.4-7 1.4 2.9 1.4-4.1 1.4 2.2 1.4-1.1 1.4 1.7 1.4 2.4 1.4 1.9 1.4 5 1.4-1.5 1.4 2.7 1.4 1.5 1.4-.3 1.4 1.8 1.4.3 1.4.8 1.4-2.7 1.4-.1 1.4 4.5 1.4-1.9 1.4 1.2 1.4-.1 1.4-4.3 1.4 2 1.4-3.7 1.4.5 1.4 4.3 1.4 4.5 1.4 3 1.4 6.9 1.4 0 1.4 1.3 1.3 2.3"/>
<path d="M200.2 401.7l1.4-1.7 1.4-1.2 1.4-4.2 1.4-2.2 1.4-2.8 1.4-1.3 1.4-2.3 1.4.3 1.4-.3 1.4.3 1.4 4.4 1.4 1.6 1.4.8 1.4 2.1 1.4-.3 1.4-1 1.4 2.4 1.4-.2 1.4-3.5 1.4 3 1.4 0 1.4-.3 1.4-.2 1.4-2.9 1.4-2.2 1.4.9 1.4-2.4 1.4-2.1 1.4.1 1.4-4.6 1.4 0 1.4 2.8 1.4-.5 1.4 2 1.4 3.4 1.4-3 1.4 5 1.4 1.6 1.4-4.3 1.4.4 1.4-1.9 1.4-1.6 1.4 1.8 1.4 4.4 1.4 1.6 1.4-2.1 1.4.5 1.4-2.6 1.4.2 1.4-4 1.4 2.1 1.4-3.7 1.4-1.2 1.4-3.6 1.4 3.9 1.4 1.4 1.4 2.9 1.4 3.5 1.4-1.2 1.4 5.4 1.4-.4 1.4.3 1.4-1.1 1.4-1.4 1.4-2.7 1.4 1.7 1.4-2.8 1.4 1.3 1.4.7 1.4.5 1.4-.5 1.4-5.2 1.4 4.3 1.4-4.6 1.4.4 1.4-3.3 1.4 2.9 1.4 4.3 1.4 1.7 1.4 5.7 1.4 1.8 1.4 4.2 1.4.8 1.3 1.1"/>
<path d="M200.2 391.6l1.4-1 1.4-1.1 1.4-1.5 1.4.1 1.4-1.9 1.4-.6 1.4-2.4 1.4-1.2 1.4-.9 1.4 3.3 1.4.6 1.4 1.6 1.4 1.6 1.4 1 1.4-.3 1.4-.4 1.4.8 1.4-1.3 1.4.5 1.4.3 1.4.3 1.4-3.7 1.4 3.8 1.4-2 1.4-3.2 1.4-1 1.4-.6 1.4-2.3 1.4-2.6 1.4-1 1.4-3 1.4 1.3 1.4 2.7 1.4 2.3 1.4-.3 1.4-.8 1.4.7 1.4 4.7 1.4-2.6 1.4.1 1.4-1.5 1.4-2.2 1.4 5.9 1.4-.1 1.4 4.6 1.4-1.3 1.4-2 1.4-.9 1.4-.5 1.4-1.9 1.4-1.4 1.4-2.1 1.4-4.6 1.4.6 1.4 1.6 1.4-.7 1.4 2.8 1.4 4.5 1.4 3.4 1.4.9 1.4-2.9 1.4 4.1 1.4-4.4 1.4 1.8 1.4-4.1 1.4-1.5 1.4 3.7 1.4-3 1.4.3 1.4 3 1.4-3.6 1.4.1 1.4 2.2 1.4-2.3 1.4-2.4 1.4-.5 1.4 0 1.4 4 1.4 1.5 1.4 6.5 1.4 4.2 1.4 1.4 1.4 4.9 1.3 1.4"/>
<path d="M200.2 401.6l1.4-1.1 1.4-2 1.4-2 1.4-2.6 1.4-5.2 1.4.1 1.4-2.8 1.4-.4 1.4.1 1.4-.2 1.4 5.2 1.4 1.6 1.4-.4 1.4 2.7 1.4-1 1.4-.5 1.4 2.4 1.4-3 1.4.3 1.4 4.1 1.4-.3 1.4-4.1 1.4 3.2 1.4-1.3 1.4-3.5 1.4.4 1.4-4.8 1.4 2.3 1.4-2.3 1.4 1 1.4-4.3 1.4.9 1.4 4.8 1.4.2 1.4-.6 1.4-1.1 1.4.4 1.4 5.4 1.4-4.8 1.4-3.7 1.4.4 1.4.5 1.4 3.6 1.4-2.1 1.4.3 1.4-1 1.4.9 1.4-.4 1.4-4.4 1.4 1.8 1.4-2.2 1.4-2.9 1.4-1.4 1.4-1.1 1.4-3.1 1.4 2.9 1.4 5.6 1.4 3.3 1.4-.6 1.4 4.1 1.4.7 1.4-1.7 1.4 1.4 1.4-4.4 1.4 2.6 1.4-4.2 1.4 4.9 1.4-2.4 1.4 1.3 1.4-1.3 1.4.3 1.4-2.7 1.4 3.6 1.4-1 1.4-3.6 1.4.4 1.4-1.7 1.4 4.5 1.4 1.4 1.4 4.2 1.4 4 1.4 5 1.4.2 1.3 2.9"/>
<path d="M200.2 402.6l1.4-.9 1.4-2.9 1.4-2 1.4-2.2 1.4-3.5 1.4-3 1.4-2.1 1.4-.3 1.4-1 1.4 2.6 1.4 2.8 1.4-2.6 1.4.2 1.4 4.8 1.4-1.1 1.4-2.7 1.4 3.7 1.4-4.2 1.4-1 1.4.8 1.4 2 1.4-.5 1.4 1.4 1.4.1 1.4-2.8 1.4-.9 1.4-3.1 1.4 3.7 1.4-1.9 1.4-1.5 1.4.2 1.4.8 1.4 2.7 1.4-.1 1.4 4.5 1.4-2.7 1.4 3.2 1.4 1.6 1.4-1.3 1.4-2.3 1.4-2.3 1.4.7 1.4 2.2 1.4-.2 1.4 2.3 1.4-2.9 1.4-1.3 1.4 1.1 1.4-.8 1.4-4.5 1.4-3.5 1.4-3.8 1.4 2.1 1.4-6.5 1.4.8 1.4 6.4 1.4 1.1 1.4.3 1.4 1.7 1.4 3.8 1.4-.8 1.4-.4 1.4 1.6 1.4.5 1.4-2.9 1.4-.3 1.4.9 1.4 3.2 1.4-1.3 1.4.2 1.4-1.1 1.4-.7 1.4 1.3 1.4 1.5 1.4-2.3 1.4-.3 1.4-.2 1.4 4.4 1.4 4.7 1.4 5 1.4 3.9 1.4-.1 1.4 1.2 1.3-.2"/>
<path d="M200.2 387.8l1.4-1 1.4-1.5 1.4-1.8 1.4-1.1 1.4-2.5 1.4-1.4 1.4-1.7 1.4.1 1.4 0 1.4-.1 1.4 3.5 1.4-.5 1.4-.6 1.4 1.6 1.4.9 1.4-.2 1.4-.5 1.4.3 1.4-.5 1.4-.1 1.4 1.8 1.4-.5 1.4 1.9 1.4-.8 1.4-.8 1.4-1.1 1.4-1.7 1.4-3.1 1.4-1.2 1.4-2 1.4-.5 1.4 4.2 1.4-1.2 1.4 4.8 1.4.3 1.4.5 1.4-2.8 1.4 4.6 1.4-1.1 1.4-1.3 1.4-2.8 1.4-2.1 1.4 2.3 1.4 2.2 1.4-.3 1.4-.1 1.4 1.4 1.4-3.4 1.4-1.1 1.4-4.6 1.4 2.9 1.4-6 1.4-2.8 1.4-1.6 1.4 2.2 1.4 2.9 1.4-2.2 1.4 7.2 1.4-2.9 1.4 2.3 1.4 2.7 1.4 2.2 1.4 2.6 1.4-3 1.4.8 1.4-.5 1.4-.7 1.4-.5 1.4 1.5 1.4-1 1.4-.5 1.4-1 1.4.6 1.4-1.2 1.4-.3 1.4-1.8 1.4.4 1.4 1.7 1.4 3.7 1.4 3.5 1.4 5.4 1.4 2.8 1.4 4.2 1.3 3.2"/>
<path d="M200.2 393.4l1.4-3.2 1.4-2 1.4 1.7 1.4-3.7 1.4-1.8 1.4-.4 1.4-2.6 1.4-.1 1.4-.4 1.4 3 1.4.1 1.4 2.1 1.4.4 1.4.6 1.4 3.3 1.4-.2 1.4-1.3 1.4 2.4 1.4-4.9 1.4 3.4 1.4-1.6 1.4.2 1.4-.6 1.4.1 1.4-3.3 1.4 1.5 1.4-3 1.4-3.5 1.4.6 1.4-5.2 1.4 0 1.4 0 1.4 2.2 1.4 2.7 1.4.5 1.4-2.5 1.4 4.7 1.4.6 1.4-3.9 1.4.6 1.4-3.3 1.4-.1 1.4 3 1.4 2.6 1.4 1 1.4-1 1.4-2.4 1.4-.6 1.4-3.9 1.4.8 1.4 1.5 1.4-6.8 1.4 2.9 1.4-1.5 1.4.1 1.4 2.6 1.4-1.5 1.4 8.8 1.4 1.3 1.4 3.5 1.4 1.4 1.4-1.6 1.4 0 1.4 1.2 1.4-1.9 1.4.6 1.4-.4 1.4.6 1.4 0 1.4.5 1.4-.9 1.4.4 1.4-2.4 1.4-1.9 1.4-.6 1.4-2.5 1.4.6 1.4 4.6 1.4 3.1 1.4 5.4 1.4.4 1.4 3.4 1.4 2.7 1.3 1.7"/>
<path d="M200.2 401.4l1.4-4.6 1.4-3.7 1.4.3 1.4-1.8 1.4-2.8 1.4-2.9 1.4-3.9 1.4 2 1.4-1.1 1.4 1.3 1.4 3.4 1.4.5 1.4.5 1.4 2.7 1.4-3.7 1.4 1.6 1.4 3.1 1.4-3.3 1.4.5 1.4 1.9 1.4-3.9 1.4.5 1.4 2.1 1.4-.6 1.4-4.1 1.4.7 1.4-3.6 1.4 1.1 1.4-2.5 1.4-4.2 1.4 2 1.4-1.9 1.4 4.3 1.4 1.7 1.4 2.2 1.4-.6 1.4.7 1.4-1.4 1.4-1.6 1.4 1.1 1.4-5.7 1.4.8 1.4 4.8 1.4 2 1.4 1.4 1.4-1.8 1.4-2.4 1.4-.9 1.4-3.1 1.4 2.9 1.4-1.2 1.4-4.8 1.4-.2 1.4-1.2 1.4 2.6 1.4 2.2 1.4-.9 1.4 4.4 1.4 4.3 1.4-2 1.4 4.7 1.4.8 1.4 1.2 1.4-2.3 1.4-3.4 1.4 2.5 1.4.6 1.4-1.2 1.4-1.1 1.4 3.2 1.4-3.7 1.4.2 1.4.2 1.4-2 1.4 1.8 1.4-3.1 1.4 3.3 1.4-1.1 1.4 7.7 1.4 1.2 1.4 3.5 1.4 4.1 1.4.5 1.3.8"/>
</g>
<g fill="none" stroke="#c8323a" stroke-width="0.38" stroke-opacity="0.42" stroke-linejoin="round">
<path d="M200.2 397l1.4-4.1 1.4-2.3 1.4-1.8 1.4-1.5 1.4-2.8 1.4-2.3 1.4 0 1.4-1.7 1.4 1.6 1.4 2.3 1.4 4 1.4 3.8 1.4 4.5 1.4 1.2 1.4 2 1.4 2.3 1.4.1 1.4 1.4 1.4.2 1.4-.3 1.4 1.9 1.4-.5 1.4-.3 1.4-1.3 1.4.9 1.4-2.1 1.4-.2 1.4-.1 1.4-.3 1.4-.5 1.4 1.1 1.4-.7 1.4-1 1.4-.1 1.4.7 1.4-.8 1.4-.3 1.4.6 1.4-.5 1.4-.8 1.4.7 1.4-2.1 1.4.7 1.4-.6 1.4-1.3 1.4-1.4 1.4-1.1 1.4.2 1.4-3.8 1.4-2.2 1.4-4.1 1.4-2 1.4-4.3 1.4-3.3 1.4 2.7 1.4 2.8 1.4 2.9 1.4 3.6 1.4-2.1 1.4 5 1.4 2.4 1.4-3.6 1.4 2.6 1.4-2.9 1.4 1.3 1.4.2 1.4.3 1.4-1.2 1.4-.4 1.4 2.4 1.4 1.8 1.4-3.9 1.4 4.9 1.4.6 1.4-1.2 1.4-1.6 1.4 4 1.4-2.4 1.4 1.4 1.4 4.2 1.4 1.4 1.4 1.5 1.4 2.5 1.3 1.5"/>
<path d="M200.2 392.3l1.4-4 1.4.4 1.4-3.4 1.4-.8 1.4-2.9 1.4-.4 1.4-1.7 1.4-.4 1.4 1.5 1.4 2 1.4 3.8 1.4 2.5 1.4 5 1.4 3.3 1.4 2.1 1.4 1.1 1.4.4 1.4 1.6 1.4-.1 1.4 1 1.4 2.2 1.4-1.9 1.4-.6 1.4.6 1.4-.1 1.4-1.9 1.4-.7 1.4.2 1.4-.7 1.4.3 1.4.4 1.4-.3 1.4-1.8 1.4-.2 1.4 1.2 1.4-.9 1.4.1 1.4-.4 1.4.5 1.4-1.3 1.4.1 1.4-1.9 1.4.5 1.4-1.1 1.4-.5 1.4-.6 1.4-1.1 1.4-2 1.4-4.3 1.4-1.9 1.4-2.7 1.4-3.8 1.4-2.1 1.4-5.3 1.4 3.4 1.4 1.4 1.4 1.7 1.4.8 1.4 2.8 1.4 5.6 1.4 3.3 1.4-5.1 1.4 2.4 1.4 2.5 1.4.2 1.4-2.2 1.4 3 1.4-.6 1.4 3.5 1.4-2.2 1.4-.6 1.4 2.3 1.4.4 1.4-7.3 1.4-1.6 1.4.9 1.4-2.8 1.4 2.3 1.4 4.6 1.4 4.4 1.4 2.1 1.4-.1 1.4 3.6 1.3 2.7"/>
<path d="M200.2 399.1l1.4-5.2 1.4-2.4 1.4-3.4 1.4-.8 1.4-2.9 1.4-.7 1.4-2.3 1.4.4 1.4 1.6 1.4 2.4 1.4 3.9 1.4 1.1 1.4 5.9 1.4 1.5 1.4 1.1 1.4 1.6 1.4 1.4 1.4 1.8 1.4-.9 1.4-.1 1.4 1.9 1.4-.3 1.4-.9 1.4-.7 1.4 1.1 1.4-2.1 1.4-.7 1.4-.2 1.4.8 1.4-.8 1.4.7 1.4.1 1.4-2.1 1.4.2 1.4 1.6 1.4-.3 1.4-1 1.4-.5 1.4 1.5 1.4-2 1.4 1.1 1.4-1.6 1.4.8 1.4-1.3 1.4.1 1.4-1.5 1.4-.3 1.4-.8 1.4-1.8 1.4-2.9 1.4-3.6 1.4-1.9 1.4-3.2 1.4-3.4 1.4 1.9 1.4 2.6 1.4 3.8 1.4 9.1 1.4 3.3 1.4 1.1 1.4 1 1.4-1 1.4-1.2 1.4-.1 1.4-1.2 1.4-.5 1.4.1 1.4 2.7 1.4 1 1.4.9 1.4.9 1.4-.1 1.4.2 1.4.6 1.4-.7 1.4-.3 1.4-.5 1.4.8 1.4 0 1.4-.3 1.4 1.6 1.4.7 1.4 1.8 1.3 1"/>
<path d="M200.2 394.3l1.4-4.4 1.4-.9 1.4-2.3 1.4-1.7 1.4-2.3 1.4-1.2 1.4-1.2 1.4-1.2 1.4 1.5 1.4 1.6 1.4 3.4 1.4 2.6 1.4 5.4 1.4 2.1 1.4 1.9 1.4 1.4 1.4 1.2 1.4 2.2 1.4-.5 1.4-.2 1.4 2 1.4-.8 1.4-.2 1.4-.4 1.4-.3 1.4-1.9 1.4-.4 1.4-.1 1.4.3 1.4-1 1.4 1.5 1.4-.8 1.4-1.2 1.4.3 1.4 1 1.4-1 1.4-.2 1.4.2 1.4.1 1.4-1.4 1.4.4 1.4-1 1.4.5 1.4-1 1.4-.9 1.4-.8 1.4-.7 1.4-1.2 1.4-2.9 1.4-4.1 1.4-3.2 1.4-3.5 1.4-1.4 1.4-2.8 1.4 1.8 1.4 2.4 1.4 2.1 1.4 2.5 1.4.4 1.4 2.2 1.4 1.7 1.4.3 1.4.8 1.4.8 1.4 0 1.4.3 1.4-3.1 1.4 5.8 1.4-4.1 1.4.9 1.4.5 1.4 0 1.4 2.5 1.4-5.5 1.4-1.8 1.4 8 1.4-3.9 1.4 1.8 1.4 1.4 1.4.5 1.4 2.8 1.4 2.9 1.4 2.9 1.3 4.2"/>
<path d="M200.2 401.3l1.4-5.1 1.4-2 1.4-4 1.4-.7 1.4-2.8 1.4-2.3 1.4-2 1.4.5 1.4 0 1.4 3.8 1.4 3.1 1.4 3.4 1.4 4.4 1.4.8 1.4 1.8 1.4 2.8 1.4-.5 1.4 2.2 1.4-1.1 1.4.6 1.4 1.9 1.4-.5 1.4-.7 1.4-.7 1.4.7 1.4-1.7 1.4-.7 1.4.4 1.4-.2 1.4-1 1.4 1.9 1.4-.9 1.4-1.5 1.4.1 1.4 1.2 1.4-.6 1.4-.7 1.4.1 1.4.5 1.4-1.5 1.4.5 1.4-1.2 1.4.7 1.4-.8 1.4-.7 1.4-.9 1.4-1 1.4-.5 1.4-3 1.4-2.2 1.4-2.2 1.4-3.3 1.4-3.9 1.4-.8 1.4-1.2 1.4 2.1 1.4 4 1.4 7.2 1.4 3.6 1.4-.6 1.4.2 1.4-.3 1.4.4 1.4-2.7 1.4.6 1.4-1.7 1.4.8 1.4.1 1.4 2.8 1.4-.9 1.4 3.9 1.4-1.7 1.4 2.8 1.4 2.8 1.4.3 1.4-.3 1.4-.5 1.4-2.6 1.4 3.4 1.4-.3 1.4.2 1.4 2.1 1.4.9 1.3 1.7"/>
<path d="M200.2 395.8l1.4-3.1 1.4-2 1.4-3 1.4-.1 1.4-2.8 1.4-2.1 1.4-1 1.4-1.1 1.4 2.4 1.4 1.9 1.4 3.6 1.4 3 1.4 4.6 1.4 3 1.4.5 1.4 2.9 1.4.4 1.4.6 1.4.1 1.4-.1 1.4 2.6 1.4-1.5 1.4-1.2 1.4-.2 1.4.7 1.4-1.7 1.4-2 1.4.5 1.4.3 1.4-.6 1.4.5 1.4-.7 1.4-.5 1.4-.4 1.4 1.1 1.4-1.5 1.4-.3 1.4-.2 1.4 0 1.4-.6 1.4.3 1.4-1.3 1.4-.2 1.4-.2 1.4-1.9 1.4-.2 1.4-2 1.4-1.8 1.4-2.6 1.4-4.1 1.4-2.6 1.4-3.6 1.4-1 1.4-4.2 1.4.1 1.4 2 1.4 1.1 1.4.3 1.4 3.7 1.4 3.2 1.4 4.8 1.4-4.9 1.4 5.1 1.4-.7 1.4.3 1.4-3.9 1.4.5 1.4 7.7 1.4 1.3 1.4 1.1 1.4-2 1.4-4.4 1.4 1.6 1.4 4.7 1.4-4.4 1.4 1.4 1.4-3.3 1.4 3 1.4 5.7 1.4 2.1 1.4 2.3 1.4 1.7 1.4.4 1.3 2.1"/>
<path d="M200.2 391.3l1.4-1.5 1.4-1.9 1.4-1.7 1.4-2 1.4-2.4 1.4-.9 1.4-.8 1.4-.5 1.4 1.4 1.4 2.2 1.4 4.1 1.4 1.8 1.4 5.2 1.4 3.5 1.4.8 1.4 2.4 1.4.5 1.4 1.7 1.4-.9 1.4.9 1.4 1.6 1.4-1 1.4 0 1.4-.9 1.4.6 1.4-2.4 1.4-.7 1.4.3 1.4.1 1.4-.3 1.4.5 1.4.1 1.4-1.6 1.4-.7 1.4 1.6 1.4-1.3 1.4-.6 1.4-.2 1.4.8 1.4-2 1.4.6 1.4-1.2 1.4.2 1.4-1.2 1.4-.4 1.4-1 1.4-2.1 1.4-1.3 1.4-3.3 1.4-4.1 1.4-1.9 1.4-2.9 1.4-4.4 1.4-4.3 1.4 4 1.4.6 1.4-.4 1.4.6 1.4 2.3 1.4 2.8 1.4 8.1 1.4-2.8 1.4 2.4 1.4 1.1 1.4-4.2 1.4 1.4 1.4.3 1.4.2 1.4 3.4 1.4.6 1.4 1 1.4.1 1.4.5 1.4-2.3 1.4-5.2 1.4 4.2 1.4-2.6 1.4.3 1.4 2.2 1.4 4.6 1.4 5.1 1.4-1.7 1.4 5.4 1.3 2.5"/>
<path d="M200.2 393.8l1.4-3 1.4-.7 1.4-3.5 1.4-.1 1.4-2.8 1.4-2.1 1.4-1.6 1.4-.7 1.4 1.8 1.4 1.6 1.4 3.4 1.4 3.1 1.4 5 1.4 1.3 1.4 3.1 1.4.5 1.4 1.4 1.4 1.7 1.4-.4 1.4.3 1.4 1.6 1.4-1 1.4 0 1.4-.8 1.4-.3 1.4-1.2 1.4-1.3 1.4.3 1.4-.2 1.4-.3 1.4 1.4 1.4-.4 1.4-1.7 1.4.2 1.4.7 1.4-.7 1.4-.8 1.4.1 1.4.5 1.4-1.5 1.4.5 1.4-1.4 1.4.6 1.4-.7 1.4-1.2 1.4-1 1.4-1.5 1.4-1.6 1.4-3.5 1.4-3.6 1.4-2.2 1.4-3.2 1.4-3.3 1.4-4.8 1.4 2.8 1.4 2.4 1.4.4 1.4.4 1.4 3 1.4-.2 1.4 2.6 1.4 2.6 1.4-1.7 1.4-1.3 1.4-.8 1.4 3.9 1.4-1.6 1.4-.8 1.4 4.7 1.4-3.2 1.4 4 1.4-5.1 1.4 4.8 1.4-5.5 1.4 4.4 1.4-.4 1.4-1.1 1.4 1.2 1.4 2.5 1.4 1.6 1.4 3.4 1.4 4.5 1.4 4.5 1.3 1.2"/>
<path d="M200.2 396.7l1.4-5.9 1.4-.1 1.4-3.1 1.4-.1 1.4-2.8 1.4-2.6 1.4-1.2 1.4-.5 1.4 2.6 1.4 1.2 1.4 4.3 1.4 1.2 1.4 4.9 1.4 2.4 1.4 2.1 1.4 1.3 1.4.6 1.4 1 1.4.2 1.4-.1 1.4 2.4 1.4-1.2 1.4-1.4 1.4-.4 1.4.1 1.4-1.1 1.4-1.4 1.4.3 1.4-.2 1.4-.4 1.4 1.3 1.4-.6 1.4-1.3 1.4.5 1.4.6 1.4-.9 1.4-.5 1.4.7 1.4.1 1.4-1 1.4.2 1.4-.9 1.4.1 1.4-.2 1.4-1.5 1.4-.3 1.4-.5 1.4-2.2 1.4-1.3 1.4-4.2 1.4-2.3 1.4-1.9 1.4-3.3 1.4-4.2 1.4 3.3 1.4-.4 1.4 1.6 1.4 8.4 1.4 3.4 1.4-5.1 1.4.6 1.4 2.6 1.4 1.4 1.4-7.2 1.4 2.9 1.4-3.5 1.4 2.1 1.4-.9 1.4-1.3 1.4-.4 1.4 2.6 1.4-3.1 1.4 1.4 1.4-5.7 1.4-.6 1.4-1.1 1.4-.5 1.4 3.2 1.4 6.6 1.4 1 1.4 6.1 1.4 1.3 1.4 4.4 1.3 3.3"/>
<path d="M200.2 393l1.4-3.6 1.4-2.5 1.4-2.1 1.4-.8 1.4-1.5 1.4-2 1.4-1.4 1.4-.4 1.4 1.6 1.4 1.9 1.4 3.4 1.4 2.8 1.4 4.5 1.4 2.3 1.4 2.5 1.4 1.7 1.4.5 1.4 1.9 1.4-.7 1.4.3 1.4 2.2 1.4-.9 1.4-.3 1.4-.5 1.4.1 1.4-2 1.4-.2 1.4-.3 1.4-.1 1.4.2 1.4 1.2 1.4-.6 1.4-1.9 1.4.5 1.4 1.4 1.4-1.7 1.4-.2 1.4.2 1.4.2 1.4-.9 1.4-.1 1.4-.6 1.4.6 1.4-1 1.4-2 1.4-.3 1.4-1.1 1.4-2.4 1.4-3 1.4-2.4 1.4-3.4 1.4-3.6 1.4-3.4 1.4-5.1 1.4 2.7 1.4 1.7 1.4-.4 1.4 3.2 1.4-.3 1.4 1.7 1.4 2.6 1.4-.2 1.4 1 1.4-1.2 1.4-.8 1.4-.2 1.4 1.4 1.4.3 1.4 2.3 1.4-1.4 1.4.6 1.4-2.8 1.4.6 1.4-2.7 1.4 2.8 1.4-4.7 1.4 1.4 1.4 6.4 1.4-1.1 1.4 5.7 1.4 3.2 1.4 4.2 1.4 4.5 1.3 2.9"/>
<path d="M200.2 401.5l1.4-4.6 1.4-2.4 1.4-3.2 1.4-1.8 1.4-2.7 1.4-1.6 1.4-2 1.4-.6 1.4 1.6 1.4 3 1.4 4.4 1.4 2.9 1.4 3.1 1.4 2.7 1.4.9 1.4 2.2 1.4-.6 1.4 1.6 1.4 0 1.4.1 1.4 1.1 1.4-.4 1.4-1.2 1.4.4 1.4.1 1.4-2.6 1.4-.6 1.4.7 1.4 0 1.4-1.2 1.4 1.8 1.4-.8 1.4-.9 1.4-.6 1.4 1.5 1.4-.7 1.4-1 1.4 1.1 1.4-.2 1.4-1 1.4.3 1.4-1 1.4.4 1.4-.9 1.4-.5 1.4-1 1.4-.9 1.4-.7 1.4-2.4 1.4-2.1 1.4-2.2 1.4-3.3 1.4-1.9 1.4-2.8 1.4.6 1.4 2 1.4 4.8 1.4 8.1 1.4 4.2 1.4.2 1.4 1 1.4-2.4 1.4 1.9 1.4-2.3 1.4-2.5 1.4 1.3 1.4-2.7 1.4 3.5 1.4 2.9 1.4-3.1 1.4 1.4 1.4-.5 1.4-.7 1.4-1.8 1.4 0 1.4-1.9 1.4-1.5 1.4 5.8 1.4-1.6 1.4.8 1.4 2.5 1.4 2.3 1.4 2.4 1.3 1.2"/>
<path d="M200.2 399.3l1.4-3.7 1.4-2.2 1.4-2.7 1.4-2.9 1.4-2.4 1.4-.7 1.4-1.8 1.4-1.2 1.4 2.1 1.4 1.9 1.4 4.8 1.4 1.7 1.4 5.8 1.4 1.9 1.4.9 1.4 2 1.4-.2 1.4.9 1.4.1 1.4-.4 1.4 2.9 1.4-1.7 1.4-.7 1.4-.4 1.4.7 1.4-1.4 1.4-1.6 1.4 1 1.4-.3 1.4-.2 1.4.3 1.4-.6 1.4-1.1 1.4-.2 1.4 1.4 1.4-.6 1.4-1 1.4.4 1.4.9 1.4-1.9 1.4 1.2 1.4-1.4 1.4.6 1.4-.4 1.4-1.5 1.4.2 1.4-1.2 1.4-.5 1.4-2.5 1.4-4.8 1.4-1.7 1.4-3.7 1.4-.1 1.4-3.7 1.4-.8 1.4 4.5 1.4 4 1.4 8.2 1.4-1.5 1.4 4.6 1.4-4.2 1.4 4.3 1.4-3.1 1.4 2 1.4-3 1.4-2.8 1.4 1.9 1.4-1.1 1.4 1.2 1.4 2.1 1.4 3.1 1.4-7.4 1.4 5.5 1.4-2.6 1.4-1.1 1.4-3.4 1.4 4.7 1.4-1.9 1.4 4.2 1.4 1.8 1.4 2.9 1.4 1 1.4 1.2 1.3 1.2"/>
<path d="M200.2 396.5l1.4-2 1.4-1.5 1.4-5.1 1.4-.1 1.4-2.5 1.4-2.5 1.4-1.7 1.4.3 1.4 1.3 1.4 2.6 1.4 3.9 1.4 1.2 1.4 6.2 1.4 1.1 1.4 1.5 1.4 1.8 1.4.6 1.4 1.1 1.4-.3 1.4.3 1.4 1.8 1.4-.3 1.4-1.3 1.4-.5 1.4 0 1.4-1 1.4-1 1.4.2 1.4.2 1.4-1.6 1.4 1.6 1.4.1 1.4-2.4 1.4.2 1.4.7 1.4.3 1.4-1.7 1.4.3 1.4.5 1.4-1.8 1.4 1.5 1.4-2.1 1.4 1.1 1.4-1.2 1.4-.8 1.4-1.4 1.4-.6 1.4-1.6 1.4-4 1.4-3.5 1.4-.9 1.4-3.2 1.4-2.2 1.4-5.9 1.4 1.3 1.4 4.4 1.4 1.5 1.4 3.8 1.4.4 1.4-1 1.4 3.9 1.4-.4 1.4 5.3 1.4-3.7 1.4-2.9 1.4.6 1.4 4.1 1.4 1.1 1.4 3.5 1.4-1.8 1.4 3 1.4-4.4 1.4 4.1 1.4-2.1 1.4 1.7 1.4-1.4 1.4-1.1 1.4 4.8 1.4-3.3 1.4 1.8 1.4 5.2 1.4 1.3 1.4 1.9 1.3 2.1"/>
<path d="M200.2 396.6l1.4-4.4 1.4-2.5 1.4-3.3 1.4-.4 1.4-3.6 1.4-1.8 1.4.1 1.4-1.6 1.4 1.6 1.4 1.6 1.4 3.6 1.4 2 1.4 5.2 1.4 2.5 1.4 1.9 1.4 2.7 1.4-.3 1.4 2.7 1.4-.7 1.4.3 1.4 1.6 1.4-.3 1.4-.3 1.4-.6 1.4.1 1.4-1.3 1.4-1 1.4.4 1.4.2 1.4-.3 1.4 1.1 1.4-1.1 1.4-1.3 1.4.9 1.4 1.2 1.4-.9 1.4-.6 1.4.2 1.4.8 1.4-2.4 1.4.5 1.4-1.3 1.4.6 1.4-.4 1.4-.6 1.4-1.2 1.4-2.1 1.4-.8 1.4-2 1.4-3.1 1.4-4.2 1.4-3.2 1.4-1.5 1.4-5.6 1.4 3.1 1.4 1.6 1.4-1.2 1.4 3.7 1.4 4.8 1.4-4.2 1.4 5.6 1.4-.8 1.4.1 1.4-5 1.4 3.1 1.4-2 1.4-2.3 1.4 1.3 1.4 1.4 1.4 1 1.4 1.7 1.4-3.4 1.4 1.6 1.4-2.6 1.4-2.8 1.4 6 1.4-5 1.4 4.8 1.4 2.9 1.4 5.8 1.4 4.1 1.4 2.9 1.4.5 1.3 5"/>
<path d="M200.2 397.1l1.4-1.7 1.4-2 1.4-4.3 1.4-1.8 1.4-1.7 1.4-1.7 1.4-1.9 1.4.8 1.4 1.5 1.4 2.7 1.4 2.9 1.4 3.3 1.4 5.1 1.4 2 1.4 1 1.4 1.4 1.4.7 1.4 1 1.4.2 1.4-.2 1.4 2 1.4-.5 1.4-.5 1.4-1.1 1.4-.1 1.4-.8 1.4-1.1 1.4.5 1.4-1 1.4-.4 1.4 1.3 1.4-.7 1.4-.9 1.4-.2 1.4 1.4 1.4-1.5 1.4-.4 1.4-.1 1.4.7 1.4-1.4 1.4.4 1.4-2 1.4 1.3 1.4-1.5 1.4-.3 1.4-1.6 1.4-.9 1.4-.5 1.4-2.2 1.4-5 1.4-.5 1.4-5.6 1.4-.9 1.4-3.8 1.4 2.4 1.4 1.4 1.4 3.2 1.4 5.3 1.4-.6 1.4 3.3 1.4 1.5 1.4-.2 1.4.7 1.4-2.6 1.4-3.2 1.4 1.5 1.4-1.4 1.4 3.9 1.4-3.8 1.4.7 1.4 3 1.4-6.4 1.4 5.5 1.4-3.4 1.4-1.7 1.4-1.6 1.4-.1 1.4 1.1 1.4 3.9 1.4 4.7 1.4 1.4 1.4 3.9 1.4 2.2 1.3 3.1"/>
<path d="M200.2 400.3l1.4-6.5 1.4-1.2 1.4-1.8 1.4-2.6 1.4-3.6 1.4-1.2 1.4-1.5 1.4-.1 1.4 1.5 1.4 3.2 1.4 3.1 1.4 3.3 1.4 3.5 1.4 2.3 1.4 1.6 1.4 1.7 1.4 1.2 1.4 1.2 1.4-1.1 1.4 1.1 1.4 1.1 1.4-.3 1.4-1 1.4-.7 1.4 1.1 1.4-1.8 1.4-1.1 1.4.5 1.4.1 1.4-.9 1.4 1.8 1.4-1.4 1.4-.9 1.4-.3 1.4.9 1.4-.2 1.4-.2 1.4-.2 1.4.9 1.4-2.2 1.4 1.2 1.4-2.2 1.4 1.2 1.4-1.3 1.4-.9 1.4-.7 1.4-.2 1.4-.6 1.4-3.9 1.4-1.4 1.4-4.1 1.4-2.2 1.4-3.3 1.4-1.1 1.4-.9 1.4 2 1.4 5.8 1.4 1.5 1.4 9.9 1.4-4.7 1.4 4.3 1.4-1.7 1.4.3 1.4-3 1.4-2.6 1.4 1.6 1.4-.9 1.4 1.1 1.4 4.7 1.4-2 1.4 4.6 1.4-3.5 1.4-4.5 1.4 7.6 1.4-3 1.4-1.5 1.4.9 1.4-1.6 1.4-.1 1.4 3.6 1.4 1.8 1.4 3.4 1.4 1 1.3 3.5"/>
<path d="M200.2 393.9l1.4-4.2 1.4-2 1.4-.9 1.4-.8 1.4-3.5 1.4-1.9 1.4-.6 1.4-.7 1.4 1.9 1.4 1.9 1.4 4 1.4 1.5 1.4 5.6 1.4 1 1.4 2.3 1.4 1.8 1.4 1.5 1.4 1.2 1.4-.4 1.4.8 1.4 2.3 1.4-1.2 1.4-.5 1.4-.2 1.4-.6 1.4-1.7 1.4-.7 1.4.5 1.4-.3 1.4-.6 1.4 1.8 1.4-.2 1.4-1.4 1.4-.6 1.4 1.3 1.4-.5 1.4-1.3 1.4.1 1.4 1 1.4-2.2 1.4 1.3 1.4-1.7 1.4 0 1.4-1.3 1.4.2 1.4-1.8 1.4-1.5 1.4-.9 1.4-3.4 1.4-4.3 1.4-1.5 1.4-3.1 1.4-3.8 1.4-2.7 1.4.3 1.4 3.9 1.4-2.3 1.4 2.4 1.4 7 1.4.8 1.4-2.3 1.4 3.2 1.4 3.6 1.4-6.1 1.4 3.1 1.4-2.9 1.4 1.2 1.4-.3 1.4 5.9 1.4.8 1.4-5.4 1.4.2 1.4.8 1.4-.3 1.4 1.7 1.4-4.4 1.4.4 1.4 2.6 1.4.4 1.4 4.8 1.4.7 1.4 4 1.4 3.5 1.3 3.1"/>
<path d="M200.2 396.6l1.4-3.8 1.4-.7 1.4-4.2 1.4-.7 1.4-3.2 1.4-1.1 1.4-.9 1.4-.2 1.4 1.6 1.4 2.9 1.4 3.8 1.4 3.3 1.4 4.3 1.4 2.5 1.4 1.6 1.4.2 1.4 1.9 1.4.4 1.4.2 1.4-.8 1.4 2.3 1.4-.4 1.4-.4 1.4-1.1 1.4-.1 1.4-1.1 1.4-1 1.4-.5 1.4-.1 1.4-.7 1.4 2 1.4-.9 1.4-1.6 1.4-.5 1.4 1.5 1.4-.8 1.4-.6 1.4.1 1.4.7 1.4-2 1.4.4 1.4-1.2 1.4 1.1 1.4-.8 1.4-.8 1.4-1.3 1.4-1.2 1.4-.9 1.4-2 1.4-2.7 1.4-.8 1.4-3.1 1.4-3.4 1.4-1.7 1.4.9 1.4 1.2 1.4 4.5 1.4 8.8 1.4-3.1 1.4 3.6 1.4 2.4 1.4-.8 1.4-1.3 1.4-4.5 1.4 3 1.4-1.2 1.4-1.3 1.4-.5 1.4 4.2 1.4-2.9 1.4 2.4 1.4 0 1.4-.9 1.4-4.6 1.4-2.5 1.4-.3 1.4 3.7 1.4 3.5 1.4-1.8 1.4 3.7 1.4 2.9 1.4 1.3 1.4 2.4 1.3 3.5"/>
<path d="M200.2 398.1l1.4-3.7 1.4-1.4 1.4-4.6 1.4-.4 1.4-2.1 1.4-2 1.4-1.6 1.4-.3 1.4 2 1.4 1.7 1.4 5 1.4 1.6 1.4 5.1 1.4 2.8 1.4 1.6 1.4.4 1.4 1.7 1.4 1.1 1.4-1 1.4.3 1.4 2.7 1.4-1.5 1.4-.9 1.4-.5 1.4.5 1.4-2 1.4-1 1.4.7 1.4.3 1.4-.8 1.4.7 1.4-.2 1.4-1.6 1.4-.2 1.4 1.5 1.4-1.4 1.4-.9 1.4.2 1.4 1.2 1.4-2.5 1.4.5 1.4-.9 1.4.9 1.4-1.3 1.4-1.2 1.4-1.1 1.4-.5 1.4-1.7 1.4-2.5 1.4-3.4 1.4-1.5 1.4-4.1 1.4-3.2 1.4-4.4 1.4 3.4 1.4-.1 1.4 2.9 1.4 8.3 1.4.8 1.4 1 1.4 4.2 1.4-3 1.4-.7 1.4-1.4 1.4-.6 1.4.2 1.4 4.1 1.4 2.4 1.4-3.5 1.4 4 1.4-.7 1.4-.6 1.4.9 1.4 3.2 1.4-2.4 1.4 2.5 1.4-5.7 1.4.9 1.4 6 1.4 1.6 1.4-.2 1.4.4 1.4 4.5 1.3 1.1"/>
<path d="M200.2 397.5l1.4-3.8 1.4-2.1 1.4-.6 1.4-2.2 1.4-2 1.4-1.9 1.4-1.2 1.4-.7 1.4.6 1.4 3.6 1.4 4.2 1.4 2.8 1.4 4.8 1.4 1.8 1.4.5 1.4 2.2 1.4.3 1.4.9 1.4-.7 1.4.6 1.4 1.7 1.4-1 1.4-.8 1.4-.5 1.4.4 1.4-2.5 1.4-.9 1.4 0 1.4 0 1.4-.1 1.4 1.3 1.4-1.3 1.4-1.4 1.4.5 1.4 1.1 1.4-1.6 1.4-.6 1.4.3 1.4 1.2 1.4-2 1.4.6 1.4-1.6 1.4 1 1.4-.3 1.4-1.5 1.4-.7 1.4-.5 1.4-.1 1.4-2.1 1.4-2.8 1.4-2.2 1.4-3.5 1.4-3 1.4-3 1.4 2.1 1.4.8 1.4 6.9 1.4 8 1.4-.5 1.4 4.9 1.4 1 1.4-2.7 1.4-2 1.4 2.4 1.4-2.1 1.4-1 1.4-2.8 1.4 3.1 1.4-.3 1.4-.1 1.4 1.5 1.4 1.4 1.4-7.6 1.4 4 1.4-.6 1.4-1.6 1.4-4.3 1.4 5 1.4.6 1.4-1.9 1.4 5.6 1.4 1.1 1.4 2.9 1.3 1.8"/>
<path d="M200.2 395.6l1.4-3.8 1.4-.7 1.4-1.5 1.4-1.7 1.4-2 1.4-1.5 1.4-2.1 1.4.2 1.4.8 1.4 3.5 1.4 4.5 1.4 2.8 1.4 3.5 1.4 2.4 1.4 1.3 1.4 1.8 1.4 1 1.4 1.3 1.4-.7 1.4-.5 1.4 2.5 1.4-1.2 1.4-.7 1.4-.6 1.4.6 1.4-2.3 1.4-.4 1.4 0 1.4-.9 1.4.1 1.4 1.5 1.4-1.4 1.4-1.8 1.4-.2 1.4 1.2 1.4-.2 1.4-1.1 1.4-.2 1.4 1 1.4-1.5 1.4.1 1.4-1.2 1.4.5 1.4-.9 1.4-1.5 1.4-.4 1.4-.7 1.4-.8 1.4-3.4 1.4-4.1 1.4-.9 1.4-4.1 1.4-1.8 1.4-3.8 1.4 3.1 1.4 2.2 1.4.5 1.4 6.5 1.4 4.8 1.4 4.6 1.4 1.1 1.4-1.4 1.4-.5 1.4 1.3 1.4-2.1 1.4-.4 1.4-1.4 1.4 5.8 1.4-1 1.4 3.9 1.4-2.1 1.4 2.9 1.4-5.7 1.4 2.3 1.4 1.2 1.4-5.3 1.4-2.3 1.4 7.8 1.4-4.9 1.4 4 1.4.6 1.4 1.4 1.4 1.8 1.3 1.1"/>
<path d="M200.2 400.2l1.4-4.1 1.4-2.8 1.4-2 1.4-2.1 1.4-2.8 1.4-1.2 1.4-1.7 1.4-1.4 1.4 1.8 1.4 2.8 1.4 4.9 1.4 1.9 1.4 3.8 1.4 2.7 1.4.9 1.4 1 1.4.5 1.4 2.3 1.4-.9 1.4.1 1.4 1.4 1.4-.3 1.4-1 1.4-.1 1.4-.6 1.4-1.6 1.4-1.1 1.4.6 1.4-.3 1.4.3 1.4 1.1 1.4-.7 1.4-1.5 1.4-.1 1.4 1.6 1.4-1.1 1.4-.7 1.4-.4 1.4.5 1.4-1.2 1.4.6 1.4-1.3 1.4 1.4 1.4-1.4 1.4 0 1.4-2 1.4-.2 1.4-.2 1.4-3.1 1.4-2.2 1.4-2.3 1.4-4.8 1.4-1.2 1.4-1 1.4-.9 1.4 2.1 1.4 6.5 1.4 5.4 1.4 6.6 1.4-2.9 1.4 4.1 1.4-1 1.4-.7 1.4-2.4 1.4-3.1 1.4-.3 1.4 3 1.4 3.3 1.4-2.9 1.4.9 1.4 4.8 1.4-5.1 1.4-.8 1.4 5.1 1.4-2.9 1.4 1.4 1.4-.4 1.4-4.2 1.4-.4 1.4 1.1 1.4 2 1.4 1.4 1.4 3.9 1.3 2.3"/>
<path d="M200.2 397.8l1.4-3.9 1.4-3 1.4-3.2 1.4-1.4 1.4-2.8 1.4.1 1.4-2.2 1.4-.7 1.4 2 1.4 2.4 1.4 3.7 1.4 2.3 1.4 6.5 1.4 1.2 1.4 2.4 1.4.9 1.4.6 1.4 1.6 1.4-.9 1.4.4 1.4 2.3 1.4-.5 1.4-1.2 1.4.4 1.4.1 1.4-1.9 1.4-1.4 1.4.5 1.4-.7 1.4-.5 1.4 1.9 1.4-1.4 1.4-.7 1.4-.2 1.4 1.1 1.4-.6 1.4-1.6 1.4.1 1.4.6 1.4-1.2 1.4.7 1.4-1.2 1.4.1 1.4-1.5 1.4.1 1.4-.8 1.4-2 1.4-1.7 1.4-2.9 1.4-2.1 1.4-2.1 1.4-3.4 1.4-2.9 1.4-1.2 1.4 1.3 1.4.4 1.4 4.7 1.4 8 1.4.9 1.4 2 1.4-2.4 1.4 5.5 1.4-4.5 1.4 1.6 1.4.5 1.4-1.1 1.4-.4 1.4 1.7 1.4 2.2 1.4-3.6 1.4 6.2 1.4-1.7 1.4-4.3 1.4-.2 1.4 4.2 1.4-.8 1.4-4.7 1.4 4.3 1.4-1.3 1.4-.1 1.4 2.4 1.4 1.5 1.4 3 1.3 2.8"/>
<path d="M200.2 400.8l1.4-4 1.4-2.9 1.4-2.9 1.4-3.2 1.4-2.4 1.4-2 1.4-.3 1.4-1.8 1.4 2.5 1.4 2.1 1.4 4.6 1.4 1.1 1.4 5 1.4 2.6 1.4 1.3 1.4 1.2 1.4 1.1 1.4.5 1.4-.5 1.4.3 1.4 2.6 1.4-.6 1.4-.9 1.4-.4 1.4.2 1.4-1.7 1.4-.4 1.4 0 1.4 0 1.4-.3 1.4 1.6 1.4-.9 1.4-1.5 1.4-.2 1.4 1.4 1.4-1 1.4.2 1.4-.9 1.4.5 1.4-.8 1.4.5 1.4-1.1 1.4-.4 1.4.2 1.4-.9 1.4-1.4 1.4-1.1 1.4-1.7 1.4-2.9 1.4-2.8 1.4-1.2 1.4-5.4 1.4-.6 1.4-5.3 1.4 1.3 1.4 3.6 1.4 2.1 1.4 7.7 1.4-.2 1.4-1.8 1.4 5.3 1.4.6 1.4 2.8 1.4-3.5 1.4-1 1.4-2.1 1.4 2.2 1.4 5.4 1.4.7 1.4-4 1.4 5.1 1.4 1.6 1.4 1.2 1.4-.2 1.4-.7 1.4-2.3 1.4 2.8 1.4-.7 1.4-.3 1.4 1.3 1.4-.2 1.4.8 1.4 1.5 1.3 2"/>
<path d="M200.2 391.3l1.4-3.3 1.4-1.1 1.4-1.5 1.4-1.2 1.4-2.6 1.4-1.3 1.4-1.2 1.4-.4 1.4 1.6 1.4 2.4 1.4 2.9 1.4 2.5 1.4 5.4 1.4 2.1 1.4 1.6 1.4 2.1 1.4 1.3 1.4 1.1 1.4.1 1.4.3 1.4 2.4 1.4-1.7 1.4-.5 1.4.1 1.4-.5 1.4-1.4 1.4-.7 1.4.7 1.4.2 1.4-1.1 1.4 1.1 1.4.4 1.4-1.7 1.4.2 1.4.4 1.4-.4 1.4-.1 1.4-.8 1.4 1.5 1.4-2.1 1.4 1 1.4-1.8 1.4.8 1.4-.3 1.4-1.5 1.4-1 1.4-1.1 1.4-2 1.4-3 1.4-3.2 1.4-2.1 1.4-3 1.4-3.1 1.4-3.3 1.4.9 1.4 2 1.4 1.1 1.4 2 1.4 9.3 1.4-6.2 1.4 6.7 1.4-.5 1.4-.3 1.4.3 1.4-2 1.4-1.4 1.4-1.6 1.4 2.2 1.4-.8 1.4 3.4 1.4-5.2 1.4 2.5 1.4.4 1.4-2.9 1.4-5.1 1.4 5.5 1.4-3.2 1.4.6 1.4 1.4 1.4 4.9 1.4 2.3 1.4 3.5 1.4 4 1.3 3.3"/>
<path d="M200.2 400.5l1.4-5.6 1.4-1.7 1.4-2.3 1.4-2 1.4-3.8 1.4-.8 1.4-1.7 1.4.3 1.4.9 1.4 1.9 1.4 4.5 1.4 2.9 1.4 5.1 1.4 1.3 1.4 2.3 1.4 1.3 1.4-.3 1.4 2.5 1.4-.9 1.4.2 1.4 2.4 1.4-1.2 1.4-.4 1.4-.3 1.4 0 1.4-1.7 1.4-.9 1.4.4 1.4-.2 1.4-.4 1.4 1.2 1.4-.6 1.4-1.5 1.4-.1 1.4 1.2 1.4-.6 1.4-.7 1.4 0 1.4.6 1.4-2 1.4 1 1.4-1.6 1.4.4 1.4-.3 1.4-1.7 1.4-.7 1.4-.2 1.4-1.6 1.4-2.4 1.4-4.3 1.4.1 1.4-3.6 1.4-2.9 1.4-3.5 1.4.3 1.4 4 1.4 4.9 1.4 8.2 1.4 2.1 1.4 2.5 1.4-1.3 1.4.9 1.4-.4 1.4-.6 1.4-1.4 1.4.2 1.4.9 1.4 1.3 1.4 1.6 1.4.7 1.4 1.1 1.4-1.2 1.4 1.3 1.4.6 1.4-.7 1.4-2.3 1.4 1.3 1.4 1 1.4 0 1.4-.9 1.4 2.2 1.4-1.3 1.4 3.8 1.3-.3"/>
</g>
<path d="M200.2 387.6l1.4-1.3 1.4-1.5 1.4-1.3 1.4-1.9 1.4-1.5 1.4-2.9 1.4-1.3 1.4.5 1.4.2 1.4.9 1.4-.1 1.4 1.2 1.4.6.6.7 0 14.7-.6-1.2-1.4-1.7-1.4-1.9-1.4-1-1.4-1.3-1.4-1.9-1.4.8-1.4 1.9-1.4 3.2-1.4 2.1-1.4 2.4-1.4 3.4-1.4 1.6-1.4 2.5z" fill="#dcdcdc" fill-opacity="0.35" stroke="none"/>
</g>
<rect x="194.30" y="346.30" width="129.60" height="65.50" fill="none" stroke="#9a9a9a" stroke-width="0.9"/>
<line x1="191.80" y1="409.40" x2="194.30" y2="409.40" stroke="#333" stroke-width="0.6"/>
<text x="190.50" y="412.40" font-size="8.4" text-anchor="end" fill="#333" stroke="#333" stroke-width="0.06">0</text>
<line x1="191.80" y1="393.10" x2="194.30" y2="393.10" stroke="#333" stroke-width="0.6"/>
<text x="190.50" y="396.10" font-size="8.4" text-anchor="end" fill="#333" stroke="#333" stroke-width="0.06">30</text>
<line x1="191.80" y1="376.30" x2="194.30" y2="376.30" stroke="#333" stroke-width="0.6"/>
<text x="190.50" y="379.30" font-size="8.4" text-anchor="end" fill="#333" stroke="#333" stroke-width="0.06">60</text>
<line x1="191.80" y1="359.80" x2="194.30" y2="359.80" stroke="#333" stroke-width="0.6"/>
<text x="190.50" y="362.80" font-size="8.4" text-anchor="end" fill="#333" stroke="#333" stroke-width="0.06">90</text>
<line x1="200.20" y1="411.80" x2="200.20" y2="414.30" stroke="#333" stroke-width="0.6"/>
<line x1="229.70" y1="411.80" x2="229.70" y2="414.30" stroke="#333" stroke-width="0.6"/>
<line x1="259.30" y1="411.80" x2="259.30" y2="414.30" stroke="#333" stroke-width="0.6"/>
<line x1="288.90" y1="411.80" x2="288.90" y2="414.30" stroke="#333" stroke-width="0.6"/>
<line x1="318.30" y1="411.80" x2="318.30" y2="414.30" stroke="#333" stroke-width="0.6"/>
<text x="201.50" y="356.50" font-size="9.8" text-anchor="start" fill="#000" stroke="#000" stroke-width="0.06">CS:chr2D</text>
<defs><clipPath id="cd5"><rect x="194.3" y="422.2" width="129.6" height="66.2"/></clipPath></defs>
<rect x="194.30" y="422.20" width="129.60" height="66.20" fill="#fff"/>
<line x1="194.30" y1="485.00" x2="323.90" y2="485.00" stroke="#ebebeb" stroke-width="0.6"/>
<line x1="194.30" y1="473.60" x2="323.90" y2="473.60" stroke="#ebebeb" stroke-width="0.6"/>
<line x1="194.30" y1="461.90" x2="323.90" y2="461.90" stroke="#ebebeb" stroke-width="0.6"/>
<line x1="194.30" y1="450.10" x2="323.90" y2="450.10" stroke="#ebebeb" stroke-width="0.6"/>
<line x1="194.30" y1="438.40" x2="323.90" y2="438.40" stroke="#ebebeb" stroke-width="0.6"/>
<line x1="194.30" y1="426.60" x2="323.90" y2="426.60" stroke="#ebebeb" stroke-width="0.6"/>
<line x1="200.20" y1="422.20" x2="200.20" y2="488.40" stroke="#ebebeb" stroke-width="0.6"/>
<line x1="229.70" y1="422.20" x2="229.70" y2="488.40" stroke="#ebebeb" stroke-width="0.6"/>
<line x1="259.30" y1="422.20" x2="259.30" y2="488.40" stroke="#ebebeb" stroke-width="0.6"/>
<line x1="288.90" y1="422.20" x2="288.90" y2="488.40" stroke="#ebebeb" stroke-width="0.6"/>
<line x1="318.30" y1="422.20" x2="318.30" y2="488.40" stroke="#ebebeb" stroke-width="0.6"/>
<g clip-path="url(#cd5)">
<path d="M200.2 469.1l1.4.5 1.4-.1 1.4.3 1.4-.2 1.4 1 1.4.2 1.4.7 1.4.7 1.4-.2 1.4-.5 1.4-.9 1.4.2 1.4-1.3 1.4-.8 1.4-1.4 1.4-.6 1.4-1.1 1.4.7 1.4.7 1.4 1 1.4.7 1.4-.1 1.4 1.1 1.4.3 1.4.5 1.4.8 1.4-.3 1.4.6 1.4.7 1.4.3 1.4.4 1.4.3 1.4 1.1 1.4.4 1.4.3 1.4.2 1.4-.6 1.4-.8 1.4-.7 1.4-1.1 1.4-.5 1.4.4 1.4 0 1.4.3 1.4 0 1.4-.7 1.4.4 1.4-.8 1.4-.3 1.4-.4 1.4-.4 1.4-.3 1.4-.8 1.4-1.8 1.4-.2 1.4-1 1.4-.8 1.4-.4 1.4.9 1.4-.1 1.4.1 1.4-.2 1.4.8 1.4-.1 1.4.4 1.4 1.1 1.4.6 1.4 1.6 1.4.1 1.4-.3 1.4.2 1.4-.3 1.4-.1 1.4-.4 1.4-1 1.4-1.6 1.4-.4 1.4-.2 1.4.1 1.4.5 1.4 1.2 1.4.9 1.4.9 1.3.7 0 9.3-1.3-.2-1.4-.3-1.4-.2-1.4-.6-1.4.1-1.4.5-1.4.4-1.4-.2-1.4 1-1.4.3-1.4-.1-1.4-.6-1.4-.2-1.4-.9-1.4-.2-1.4-.2-1.4-1.1-1.4-.1-1.4-.8-1.4-.1-1.4.4-1.4-.5-1.4.4-1.4-.1-1.4.1-1.4-.9-1.4.4-1.4.4-1.4.6-1.4-.3-1.4 1.3-1.4.4-1.4-.1-1.4.3-1.4.5-1.4.3-1.4.8-1.4-.5-1.4.9-1.4.7-1.4.2-1.4.6-1.4.2-1.4.3-1.4.9-1.4.3-1.4.6-1.4.4-1.4-.2-1.4-.3-1.4-.4-1.4-1.1-1.4-.3-1.4-.2-1.4 0-1.4-.4-1.4-.3-1.4.6-1.4-.5-1.4-.2-1.4 0-1.4-.7-1.4-.7-1.4-1-1.4-.3-1.4.1-1.4 0-1.4.7-1.4-.1-1.4.7-1.4.1-1.4 1-1.4-.5-1.4.5-1.4.3-1.4.3-1.4-.4-1.4-.4-1.4.2-1.4-.6-1.4.7-1.4.3-1.4.8-1.4.1z" fill="#efefef" fill-opacity="1.0" stroke="none"/>
<path d="M200.2 472.5l1.4.3 1.4-.3 1.4.1 1.4-.3 1.4.9 1.4.1 1.4.6 1.4.7 1.4-.3 1.4-.4 1.4-.8 1.4.3 1.4-1.2 1.4-.7 1.4-1.2 1.4-.4 1.4-1 1.4.5 1.4.5 1.4.8 1.4.8 1.4.1 1.4 1 1.4.2 1.4.5 1.4.7 1.4-.4 1.4.5 1.4.6 1.4.3 1.4.3 1.4.3 1.4 1.1 1.4.4 1.4.3 1.4.2 1.4-.5 1.4-.8 1.4-.6 1.4-1 1.4-.5 1.4.3 1.4-.2 1.4.2 1.4-.2 1.4-.7 1.4.4 1.4-.8 1.4-.3 1.4-.4 1.4-.4 1.4-.2 1.4-.7 1.4-1.7 1.4 0 1.4-.9 1.4-.8 1.4-.3 1.4.9 1.4-.1 1.4.1 1.4-.3 1.4.7 1.4-.2 1.4.4 1.4 1 1.4.4 1.4 1.5 1.4.2 1.4-.2 1.4.4 1.4-.2 1.4.1 1.4-.3 1.4-.8 1.4-1.4 1.4-.3 1.4-.3 1.4-.1 1.4.4 1.4 1.1 1.4.7 1.4.7 1.3.6 0 6.5-1.3-.2-1.4-.3-1.4-.3-1.4-.6-1.4 0-1.4.6-1.4.3-1.4-.1-1.4 1-1.4.4-1.4-.2-1.4-.5-1.4-.2-1.4-.8-1.4-.3-1.4-.1-1.4-1.2-1.4-.1-1.4-.8-1.4-.1-1.4.4-1.4-.5-1.4.4-1.4-.1-1.4.1-1.4-.9-1.4.4-1.4.4-1.4.6-1.4-.3-1.4 1.3-1.4.5-1.4-.1-1.4.3-1.4.5-1.4.3-1.4.8-1.4-.5-1.4.9-1.4.6-1.4.3-1.4.6-1.4.1-1.4.3-1.4.9-1.4.3-1.4.6-1.4.5-1.4-.3-1.4-.3-1.4-.4-1.4-1.1-1.4-.2-1.4-.3-1.4 0-1.4-.4-1.4-.3-1.4.6-1.4-.5-1.4-.2-1.4-.1-1.4-.7-1.4-.7-1.4-.9-1.4-.3-1.4 0-1.4 0-1.4.7-1.4-.1-1.4.7-1.4.2-1.4 1-1.4-.5-1.4.5-1.4.3-1.4.3-1.4-.4-1.4-.4-1.4.1-1.4-.6-1.4.7-1.4.3-1.4.7-1.4.2z" fill="#e4e4e4" fill-opacity="1.0" stroke="none"/>
<g fill="none" stroke="#c4c4c4" stroke-width="0.4" stroke-opacity="0.3" stroke-linejoin="round">
<path d="M200.2 468.2l1.4 2.2 1.4-1.7 1.4.4 1.4-.2 1.4 1.5 1.4.6 1.4.2 1.4.8 1.4.7 1.4-1.8 1.4-1.1 1.4.7 1.4-1.8 1.4-.6 1.4-1.6 1.4-.3 1.4-1.3 1.4 2.1 1.4 3 1.4.9 1.4-.1 1.4-2 1.4 4.8 1.4-2.5 1.4 1.6 1.4 1.2 1.4-1.3 1.4 0 1.4 3.3 1.4-2.6 1.4 1.3 1.4 1.4 1.4.4 1.4-.4 1.4.5 1.4 2.4 1.4-1.4 1.4-1.4 1.4 1.3 1.4-2 1.4-2 1.4.7 1.4 2.1 1.4-1.3 1.4.2 1.4-1.7 1.4 2.7 1.4-2.1 1.4.4 1.4-1.8 1.4.5 1.4-1.6 1.4-.7 1.4-1.7 1.4.5 1.4 1.3 1.4-3.4 1.4.4 1.4 2.5 1.4-1.7 1.4 1.3 1.4-1.4 1.4 1.1 1.4-2.7 1.4.9 1.4 3.3 1.4-1.6 1.4 2.9 1.4-.6 1.4.6 1.4-1 1.4 1.1 1.4-.6 1.4-.5 1.4 0 1.4-3.1 1.4-1.2 1.4 1.2 1.4-1 1.4-.3 1.4 2.1 1.4.1 1.4 1.9 1.3-.8"/>
<path d="M200.2 481.5l1.4-3.6 1.4.5 1.4-.5 1.4 1.5 1.4.6 1.4-1.1 1.4-.6 1.4 2.1 1.4.8 1.4-.1 1.4-2.6 1.4 3.3 1.4-3.7 1.4 2.3 1.4-3.7 1.4.2 1.4 1.9 1.4-1.2 1.4 1.4 1.4.1 1.4-.1 1.4 2.1 1.4-1.5 1.4 1.1 1.4 1.2 1.4.9 1.4-2.4 1.4.1 1.4.1 1.4 1.8 1.4-1.2 1.4-.5 1.4 3.7 1.4 0 1.4.4 1.4-1 1.4.5 1.4-2.7 1.4 1.3 1.4-1 1.4-1.7 1.4-.2 1.4-.2 1.4.2 1.4-2 1.4 1 1.4.3 1.4-.5 1.4-.4 1.4-2.4 1.4-.7 1.4 1.2 1.4 1.3 1.4-1.2 1.4-1.5 1.4-.2 1.4-1.6 1.4.7 1.4.7 1.4 1.7 1.4.1 1.4-.4 1.4-1.1 1.4 0 1.4 0 1.4 2.6 1.4-.9 1.4 2 1.4-2 1.4.5 1.4 2 1.4.6 1.4.6 1.4-1.9 1.4 1 1.4-2.9 1.4 2.2 1.4.4 1.4-4.3 1.4-.5 1.4 2.1 1.4 2.5 1.4-2.9 1.3.3"/>
<path d="M200.2 474.9l1.4-2.4 1.4 2.7 1.4-1 1.4-2.4 1.4 1.6 1.4 3 1.4-1.8 1.4 1.1 1.4 1.1 1.4-1.9 1.4 1.5 1.4-2 1.4-1.8 1.4 3.2 1.4-3.2 1.4 1.7 1.4-3.2 1.4 2.5 1.4-1 1.4-.7 1.4 2.3 1.4.2 1.4 2.6 1.4-.3 1.4.2 1.4-.1 1.4-.9 1.4-.4 1.4.7 1.4.3 1.4-.5 1.4-.3 1.4 2.2 1.4-.4 1.4.2 1.4.4 1.4-1.7 1.4-1.2 1.4 1.5 1.4-3.2 1.4-.1 1.4.9 1.4.8 1.4-.1 1.4-1 1.4.5 1.4 1.3 1.4-3 1.4 1 1.4-.8 1.4.8 1.4 0 1.4 0 1.4-2.6 1.4-.1 1.4-1 1.4-1.2 1.4 2.2 1.4.4 1.4-1.2 1.4.8 1.4.7 1.4-.4 1.4-2.1 1.4 0 1.4 2.3 1.4 1.2 1.4.8 1.4-.3 1.4-2.2 1.4 2.7 1.4-1.8 1.4-.7 1.4.7 1.4-.6 1.4-3.5 1.4.7 1.4 1.4 1.4-.9 1.4 1.1 1.4.5 1.4 3 1.4-1.7 1.3-.5"/>
<path d="M200.2 473.7l1.4.6 1.4-1.3 1.4-1 1.4 2 1.4.9 1.4-1.4 1.4 1.3 1.4.9 1.4-1.8 1.4 2.2 1.4-3.8 1.4.9 1.4.8 1.4-.5 1.4-1.3 1.4-2.9 1.4.3 1.4 2.7 1.4-2.5 1.4.6 1.4 1 1.4 2 1.4-1.6 1.4 0 1.4 1.3 1.4.9 1.4-1.7 1.4-.6 1.4 2.2 1.4-1.5 1.4 3.3 1.4-.6 1.4 1.1 1.4.9 1.4-.4 1.4 1.7 1.4-2.1 1.4.2 1.4-2.7 1.4-.3 1.4.4 1.4 1.6 1.4-2.5 1.4 2.4 1.4.6 1.4-2.8 1.4 1.6 1.4-.6 1.4.5 1.4-1.9 1.4-.1 1.4 1.3 1.4-.6 1.4-4.3 1.4 1.8 1.4-.8 1.4-2.9 1.4.2 1.4 1.7 1.4-.1 1.4-1.7 1.4 1.1 1.4-.1 1.4.8 1.4.6 1.4.8 1.4-2 1.4 2.7 1.4-.8 1.4.9 1.4-.6 1.4 1.3 1.4-2.3 1.4-.1 1.4 1.7 1.4-1.4 1.4.9 1.4-4.3 1.4 1.1 1.4 1.1 1.4.9 1.4 3.1 1.4-.9 1.3.5"/>
<path d="M200.2 475l1.4 2.6 1.4-1.2 1.4-2.1 1.4 1.4 1.4-2.2 1.4 2.2 1.4 1.1 1.4.9 1.4-1.3 1.4-2.3 1.4 1.4 1.4-.3 1.4-1.6 1.4-1 1.4 0 1.4 0 1.4-.4 1.4-1.4 1.4-.1 1.4 1.4 1.4.7 1.4-.9 1.4 1.6 1.4 1.6 1.4.5 1.4 2.3 1.4-2.6 1.4.5 1.4 2.8 1.4-2.4 1.4 3 1.4-1.5 1.4 2.7 1.4 2 1.4-2.1 1.4 0 1.4 1.5 1.4-1.8 1.4-1.1 1.4-1.3 1.4.5 1.4-1.4 1.4 2.7 1.4-.5 1.4-2.4 1.4-.3 1.4 1.5 1.4-1.3 1.4-.5 1.4-.8 1.4.2 1.4-.4 1.4-1 1.4-2.4 1.4-1.2 1.4.6 1.4-1.2 1.4-2 1.4 2.6 1.4-2.5 1.4 1.4 1.4 1.5 1.4-.8 1.4-1.1 1.4 1.7 1.4 1.6 1.4-1.3 1.4 1 1.4 2.4 1.4-1.8 1.4 2.6 1.4-.4 1.4.1 1.4 1.4 1.4-2.6 1.4-.5 1.4-2.2 1.4 1.9 1.4-1.5 1.4 2.6 1.4.2 1.4-.3 1.4 1.1 1.3.9"/>
<path d="M200.2 477.9l1.4-3.7 1.4.1 1.4 2.7 1.4-1.6 1.4 1.4 1.4.4 1.4.1 1.4-1 1.4.8 1.4.1 1.4-1.5 1.4-.1 1.4-3.6 1.4-.5 1.4 1.3 1.4-.3 1.4.4 1.4-2.9 1.4.8 1.4.4 1.4 2.2 1.4-1.3 1.4 2.1 1.4-1 1.4 2.6 1.4.6 1.4-1.2 1.4-.1 1.4.4 1.4-.9 1.4 2.2 1.4-2.1 1.4 3.4 1.4 0 1.4.7 1.4-1.3 1.4.9 1.4-3.4 1.4.6 1.4 0 1.4.6 1.4-.6 1.4-1.4 1.4 1.7 1.4-1 1.4-.1 1.4.2 1.4-1.6 1.4.8 1.4-1.2 1.4.1 1.4-.2 1.4-1.3 1.4-1.5 1.4 2.6 1.4-2.8 1.4-1.2 1.4.3 1.4 2.1 1.4-1.3 1.4.3 1.4-1.1 1.4.8 1.4 1 1.4.5 1.4 2.7 1.4-1.7 1.4 2.5 1.4.5 1.4-2.4 1.4 2.5 1.4-1 1.4-1.1 1.4.3 1.4 1.8 1.4-3 1.4 2.4 1.4.3 1.4-2.6 1.4 1.5 1.4-1.9 1.4 2.9 1.4-.3 1.3-.6"/>
<path d="M200.2 480.9l1.4.9 1.4-3.6 1.4 2.8 1.4-1.2 1.4 1 1.4-1.1 1.4 1.4 1.4.2 1.4-1.6 1.4 1.9 1.4-.8 1.4-1.3 1.4-.9 1.4 1.8 1.4-2.6 1.4 2.4 1.4-2.3 1.4-.6 1.4 1.6 1.4-.5 1.4.6 1.4-.2 1.4 2.8 1.4.5 1.4-.2 1.4.3 1.4-.5 1.4.2 1.4.7 1.4-1.3 1.4.5 1.4.4 1.4.4 1.4 1.4 1.4 1.1 1.4-1 1.4.1 1.4-2.6 1.4-1.1 1.4.6 1.4-.1 1.4.2 1.4-1.1 1.4-.5 1.4-1.2 1.4-.9 1.4-.1 1.4 1 1.4-2.1 1.4.8 1.4-.7 1.4.8 1.4 0 1.4-3.1 1.4-.4 1.4 1.7 1.4-1.8 1.4-1.8 1.4 3.1 1.4-1.8 1.4.1 1.4 1.6 1.4 2 1.4-2 1.4.3 1.4 1.1 1.4 1.1 1.4 1.5 1.4-.2 1.4-1 1.4.3 1.4.7 1.4-.4 1.4 2 1.4.3 1.4-1.8 1.4-1.4 1.4-.3 1.4-.3 1.4.3 1.4 2.3 1.4.6 1.4.2 1.3-1.2"/>
<path d="M200.2 469l1.4 2.5 1.4-.7 1.4-1.4 1.4-.5 1.4 1.9 1.4-.5 1.4 3.1 1.4.9 1.4-2.8 1.4-.5 1.4 1.8 1.4.5 1.4-2 1.4-2 1.4 1 1.4-2.5 1.4-.2 1.4-.6 1.4-.1 1.4 3.1 1.4.4 1.4.5 1.4-.8 1.4 2.8 1.4-1.9 1.4 4.2 1.4-1.9 1.4 1 1.4 1.8 1.4-1.2 1.4-.3 1.4-.5 1.4 1.7 1.4.9 1.4-.3 1.4 2.5 1.4-.5 1.4-1.5 1.4-2.1 1.4-1.4 1.4-.4 1.4 1 1.4 1.2 1.4-1.6 1.4 1.7 1.4-2.6 1.4.6 1.4 1.5 1.4-1.4 1.4.7 1.4-.4 1.4-2 1.4 1.6 1.4-3.5 1.4 1.2 1.4-2.3 1.4 1.3 1.4-.7 1.4 1.1 1.4-1.5 1.4-1.6 1.4 2.3 1.4.6 1.4-2.2 1.4-.4 1.4 4.3 1.4-2.4 1.4 2.8 1.4-.4 1.4-1.5 1.4 2.6 1.4-2.5 1.4 1.3 1.4.6 1.4.8 1.4-4.5 1.4 1.7 1.4-3.6 1.4.9 1.4 2.5 1.4-1.8 1.4 3.3 1.4.9 1.3 0"/>
<path d="M200.2 471.8l1.4 2.9 1.4-2.6 1.4.2 1.4-.4 1.4 1.8 1.4 1.5 1.4-1 1.4-.9 1.4 1.5 1.4-2.2 1.4.3 1.4.9 1.4-2.2 1.4 1.3 1.4-3 1.4-1 1.4.7 1.4-1.5 1.4.7 1.4 2.9 1.4 1.7 1.4-.5 1.4-.2 1.4 0 1.4 3.6 1.4.6 1.4-3.1 1.4.9 1.4 2.2 1.4.4 1.4-.3 1.4.7 1.4 2.2 1.4 1.3 1.4-1 1.4.2 1.4-2.1 1.4 1.2 1.4-2.9 1.4-.2 1.4 0 1.4-2.1 1.4.2 1.4-.3 1.4.1 1.4-.3 1.4.4 1.4-1.4 1.4-.4 1.4 0 1.4-2.3 1.4 1.2 1.4.2 1.4-2.7 1.4 2 1.4-2.8 1.4.9 1.4-2.6 1.4 3.7 1.4-1.8 1.4-.9 1.4 1.4 1.4.9 1.4.3 1.4-1.4 1.4 2.9 1.4.6 1.4 3.1 1.4-1.8 1.4.3 1.4.7 1.4 1 1.4-1.9 1.4 2.7 1.4-3.3 1.4-2.6 1.4 1.9 1.4-1.2 1.4-.2 1.4 1.9 1.4.1 1.4-1 1.4.2 1.3.4"/>
<path d="M200.2 469.5l1.4.1 1.4-.3 1.4-.2 1.4-.2 1.4 1.5 1.4-.1 1.4.9 1.4.8 1.4-.5 1.4-.6 1.4-1.1 1.4.7 1.4-.3 1.4-2.1 1.4-.3 1.4.1 1.4-.7 1.4 2.7 1.4-2.4 1.4 3.4 1.4 1.5 1.4-1.3 1.4 2.9 1.4.5 1.4-1.5 1.4 3.9 1.4-3.6 1.4 2.4 1.4 1.4 1.4-1.6 1.4 1.6 1.4-.5 1.4 1.2 1.4-1.5 1.4-.6 1.4-.1 1.4.7 1.4-1.5 1.4-2 1.4-1.6 1.4-.5 1.4 1.6 1.4-.3 1.4.5 1.4-.6 1.4-1 1.4 1 1.4-1.1 1.4-.3 1.4-.5 1.4-.4 1.4.8 1.4-1.6 1.4-2.3 1.4.9 1.4.1 1.4-1.8 1.4.8 1.4 2.2 1.4-.9 1.4 2.4 1.4-.3 1.4 1.3 1.4-3.2 1.4 3.3 1.4-.3 1.4-.7 1.4 1.8 1.4 1.7 1.4-.7 1.4.4 1.4-.6 1.4-.2 1.4.1 1.4-1.5 1.4-2.5 1.4-.7 1.4-1.3 1.4-1.7 1.4 2.5 1.4.1 1.4.6 1.4.9 1.3.6"/>
<path d="M200.2 472.3l1.4 1 1.4.2 1.4-.9 1.4.3 1.4-.3 1.4.2 1.4.7 1.4 3.1 1.4-3.4 1.4 1.4 1.4-2.7 1.4.7 1.4.3 1.4-1.7 1.4-.8 1.4-.7 1.4-3.2 1.4 1.8 1.4.1 1.4 3.2 1.4-2 1.4.4 1.4.2 1.4 2.6 1.4-2 1.4 1.2 1.4.6 1.4.7 1.4 2.5 1.4-2.3 1.4 1.7 1.4 1.5 1.4-1 1.4 3 1.4 0 1.4-1.1 1.4-.2 1.4-1.9 1.4 1.9 1.4-2.7 1.4.1 1.4.6 1.4.2 1.4 0 1.4.8 1.4-3.5 1.4 1.3 1.4-.2 1.4.5 1.4.2 1.4-2.3 1.4.9 1.4-.5 1.4-2.9 1.4.9 1.4-1.9 1.4-.3 1.4-.3 1.4 1.8 1.4.4 1.4-1.3 1.4 1.2 1.4 1.4 1.4-.7 1.4-1.1 1.4 2.2 1.4-2 1.4 3.6 1.4.5 1.4-2.2 1.4-.2 1.4-.4 1.4-.4 1.4 1.5 1.4-.1 1.4-1.7 1.4-3.2 1.4 3.6 1.4-.5 1.4-2.9 1.4 2.3 1.4.2 1.4 1.8 1.3.8"/>
<path d="M200.2 468.2l1.4.7 1.4-.2 1.4 2.3 1.4-2.1 1.4 1.8 1.4-.4 1.4.9 1.4.8 1.4 0 1.4-.3 1.4-1.7 1.4 1 1.4-2.3 1.4.7 1.4-2.9 1.4 2.6 1.4-2.4 1.4-.8 1.4 3.2 1.4.3 1.4 1.1 1.4 2.2 1.4 1.1 1.4.3 1.4.9 1.4-.2 1.4.2 1.4-.4 1.4.5 1.4.2 1.4.6 1.4-1.7 1.4 2.2 1.4 0 1.4.8 1.4-.2 1.4 1.4 1.4-3.5 1.4-1.2 1.4-.1 1.4 1.1 1.4-2.4 1.4 2.2 1.4-1.5 1.4.5 1.4-1.1 1.4-.5 1.4-.3 1.4-1.1 1.4-.5 1.4.8 1.4-1.1 1.4-.9 1.4-1.8 1.4.6 1.4-1.9 1.4.5 1.4-1.6 1.4.9 1.4-.4 1.4 0 1.4-.5 1.4 2.3 1.4.3 1.4 1 1.4 2 1.4-2.1 1.4 3.9 1.4-.1 1.4.2 1.4-.3 1.4 0 1.4.7 1.4-1.9 1.4 1.8 1.4-4.1 1.4.7 1.4.2 1.4-.2 1.4.2 1.4 2.8 1.4.6 1.4-1.3 1.3 2.8"/>
</g>
<g fill="none" stroke="#c8323a" stroke-width="0.38" stroke-opacity="0.42" stroke-linejoin="round">
<path d="M200.2 479.8l1.4 1.6 1.4-1.1 1.4-1.2 1.4-2.6 1.4 1.6 1.4-1 1.4.8 1.4 1.2 1.4.1 1.4.3 1.4-2.8 1.4 2.2 1.4-2 1.4-1.1 1.4-.3 1.4-.9 1.4-3 1.4 1.2 1.4 1.6 1.4 1.2 1.4-4.6 1.4-3.7 1.4-6.6 1.4.7 1.4-3.3 1.4 1.9 1.4.4 1.4 1.3 1.4-7.3 1.4 2.8 1.4 3.1 1.4-3.7 1.4 1 1.4-3.1 1.4-.7 1.4 1.7 1.4 1.5 1.4-4.9 1.4-2.6 1.4-5.3 1.4 5 1.4 2.2 1.4-2.7 1.4-2.1 1.4-7.7 1.4-7.8 1.4 11 1.4 7.4 1.4-6.4 1.4-3.3 1.4 3.5 1.4 1.8 1.4 2.4 1.4 8.5 1.4 1.8 1.4-1.7 1.4-1.1 1.4 2.7 1.4-3.9 1.4 2.5 1.4 5.1 1.4.8 1.4 0 1.4 3.8 1.4 4.1 1.4.2 1.4 4.5 1.4 1.7 1.4 1.3 1.4.8 1.4.3 1.4-1.3 1.4.3 1.4-4.2 1.4-1.2 1.4-.8 1.4-2 1.4-.3 1.4-1.9 1.4-.8 1.4 5.2 1.4 4.2 1.4 1.7 1.3 1.5"/>
<path d="M200.2 472.6l1.4.3 1.4.5 1.4-3.9 1.4 3.4 1.4-2.2 1.4.7 1.4.2 1.4-.5 1.4 2.1 1.4-1.3 1.4-.2 1.4.4 1.4-1.8 1.4-2.1 1.4-1.2 1.4 1.8 1.4-1 1.4.2 1.4 1.4 1.4.9 1.4-5 1.4-5.5 1.4-3.5 1.4-2 1.4-.7 1.4 4.1 1.4 1.6 1.4-2.4 1.4-2.8 1.4-2.6 1.4 3.4 1.4-2.4 1.4-2.9 1.4-.9 1.4-1.4 1.4.5 1.4 4.1 1.4-3.8 1.4-5.3 1.4-1.4 1.4 4.2 1.4-.3 1.4-1.4 1.4-4.5 1.4-6.9 1.4-4.3 1.4 6.9 1.4 4.6 1.4-.2 1.4-7.4 1.4 1.7 1.4 3 1.4 5.1 1.4 1.9 1.4 5 1.4-.3 1.4-6.5 1.4 1.5 1.4.8 1.4 2.6 1.4 1.7 1.4.2 1.4 2.5 1.4 2 1.4 5.2 1.4 3 1.4.5 1.4 3 1.4 4.6 1.4.1 1.4-2.1 1.4 2.3 1.4-2 1.4-3.7 1.4 1.7 1.4-3.5 1.4-1.9 1.4-1.6 1.4 0 1.4-1.2 1.4 6.4 1.4-.5 1.4 4.2 1.3 2.8"/>
<path d="M200.2 469.8l1.4.8 1.4.1 1.4-.5 1.4-.4 1.4-.6 1.4 1.3 1.4 1.1 1.4-.1 1.4-.2 1.4-.3 1.4-.7 1.4.3 1.4-1 1.4-1.4 1.4-1.2 1.4-1.3 1.4-.2 1.4-1 1.4 1.7 1.4 1.1 1.4-3.5 1.4-8.8 1.4-2.8 1.4-2.4 1.4-.3 1.4 2.4 1.4.4 1.4-1.7 1.4-4.1 1.4 1.5 1.4 2 1.4-1.2 1.4-3.8 1.4-1.4 1.4-.2 1.4 1.5 1.4.8 1.4-5.4 1.4-2.7 1.4-3.3 1.4 4.8 1.4 5.3 1.4-3.3 1.4-6.3 1.4-3.2 1.4-8.2 1.4 7.3 1.4 7.9 1.4-1.4 1.4-5.2 1.4 1.6 1.4 2.1 1.4 5.1 1.4 6.2 1.4 4.7 1.4-5.2 1.4-2.2 1.4 1.5 1.4-.7 1.4 2 1.4 1.6 1.4 2.4 1.4.5 1.4 6.5 1.4 2.3 1.4 3.3 1.4.2 1.4 4.5 1.4.4 1.4 1 1.4-.6 1.4 2.9 1.4-.9 1.4-5.1 1.4-1.6 1.4-.3 1.4-1.2 1.4-3.5 1.4.3 1.4-.7 1.4 1 1.4 7.9 1.4-2.9 1.3 2"/>
<path d="M200.2 471.7l1.4 2.9 1.4-.3 1.4-3.8 1.4 2.4 1.4-.7 1.4-.1 1.4 3 1.4-.9 1.4-1 1.4.6 1.4-2 1.4.7 1.4-.1 1.4-.7 1.4-3 1.4 2.5 1.4-1.8 1.4-2.1 1.4 5.4 1.4-.5 1.4-4.4 1.4-5.5 1.4-5.6 1.4-1.7 1.4 4.4 1.4-.7 1.4.8 1.4-1.6 1.4-4.1 1.4.6 1.4 1.1 1.4-2.6 1.4 1.9 1.4-2.7 1.4-1.7 1.4-1 1.4 4.9 1.4-7 1.4-2.6 1.4-4.9 1.4 2.4 1.4 4.5 1.4-3.3 1.4-2.1 1.4-9.5 1.4-6.2 1.4 7.6 1.4 7 1.4-3 1.4-5.2 1.4 3.7 1.4.2 1.4 3.8 1.4 5.3 1.4 3.7 1.4-1.5 1.4-5.9 1.4 5.2 1.4-2.3 1.4 1.6 1.4 4 1.4 1.4 1.4 1.1 1.4 4.7 1.4 1.8 1.4 1.9 1.4 5.3 1.4-.1 1.4 4.6 1.4.6 1.4-.4 1.4-.6 1.4-1.1 1.4-3.2 1.4 1.9 1.4-4.6 1.4-2.3 1.4-.6 1.4-1.5 1.4 1.3 1.4 4.9 1.4.9 1.4 6.3 1.3-.6"/>
<path d="M200.2 482.1l1.4 0 1.4.6 1.4-3.8 1.4-.1 1.4 1.4 1.4-2.4 1.4 3.2 1.4-2.6 1.4 1.2 1.4-1.8 1.4-.1 1.4-.9 1.4-2.6 1.4.7 1.4-2.6 1.4-1.3 1.4 2 1.4-2.1 1.4.7 1.4-.4 1.4-.7 1.4-10 1.4-4.4 1.4-1.5 1.4 3.3 1.4-1.1 1.4 1.8 1.4-.7 1.4-2.9 1.4 3.8 1.4-.8 1.4-1.5 1.4-1 1.4-.5 1.4-.7 1.4-1 1.4 5 1.4-5.2 1.4-4.1 1.4-4.7 1.4 7.3 1.4 4 1.4-2.9 1.4-4.8 1.4-6.4 1.4-9.3 1.4 11.8 1.4 5.8 1.4-6.8 1.4-2.4 1.4.7 1.4-1.6 1.4 5.5 1.4 6.8 1.4 3.7 1.4-6.7 1.4-4.6 1.4 5.7 1.4-1.2 1.4 4.1 1.4-.5 1.4 4.2 1.4-1.9 1.4 4.3 1.4 3.3 1.4 2.3 1.4 2.1 1.4 4.8 1.4.4 1.4 3.8 1.4 0 1.4-.3 1.4-.7 1.4-3.8 1.4-1 1.4-1.6 1.4.2 1.4-1.6 1.4-.1 1.4-2.8 1.4 3.5 1.4 4.9 1.4 4.9 1.3 1.6"/>
<path d="M200.2 480.8l1.4-1 1.4 2.4 1.4-3.9 1.4 1.1 1.4-.2 1.4-.7 1.4 2.1 1.4-1.4 1.4-.6 1.4 1 1.4-3.9 1.4.6 1.4-.3 1.4-1.1 1.4-.2 1.4-3.5 1.4.3 1.4 0 1.4 3 1.4.4 1.4-5.6 1.4-5.3 1.4-1.9 1.4-4.8 1.4-.1 1.4 2.5 1.4 5.1 1.4-6.1 1.4.9 1.4 0 1.4 1.7 1.4-4.5 1.4-.5 1.4-.3 1.4 1.5 1.4.2 1.4-1.6 1.4-3.4 1.4-5.3 1.4.3 1.4 5.1 1.4 3.8 1.4-1.8 1.4-5.7 1.4-6.5 1.4-6.3 1.4 6 1.4 9.3 1.4-3.6 1.4-7 1.4 3.1 1.4 3 1.4 4.9 1.4 4.9 1.4 1.3 1.4-2.2 1.4-3.6 1.4 1.7 1.4 2.4 1.4 3.5 1.4-1.1 1.4 5 1.4-3.8 1.4 4 1.4 4.2 1.4.8 1.4 1.7 1.4 2.1 1.4 3.3 1.4-.7 1.4.2 1.4 1 1.4-3.2 1.4-.4 1.4-3.5 1.4-.1 1.4-5.1 1.4.6 1.4-3.6 1.4 1.3 1.4 6 1.4 3.7 1.4-1.4 1.3 1.9"/>
<path d="M200.2 482.9l1.4-.9 1.4 1.3 1.4-3.8 1.4 1.7 1.4-.5 1.4.5 1.4.1 1.4.2 1.4-.1 1.4-.2 1.4-.8 1.4-1.5 1.4-1.5 1.4 1.3 1.4-1.1 1.4-3 1.4 2 1.4-2.3 1.4 2.1 1.4 1.3 1.4-5 1.4-5.6 1.4-2.6 1.4-2.9 1.4 1.2 1.4 2.7 1.4.6 1.4-4.9 1.4-3.3 1.4 2.1 1.4 1.4 1.4-2.3 1.4-1.3 1.4-5.5 1.4 2.4 1.4-.8 1.4 1.6 1.4-3.6 1.4-3.7 1.4-4.9 1.4 6.8 1.4.1 1.4 2.4 1.4-6.7 1.4-6.6 1.4-4.3 1.4 6 1.4 5.8 1.4-3.8 1.4-.6 1.4-.8 1.4 2.1 1.4 4.5 1.4 5.5 1.4 2.6 1.4-2.5 1.4.8 1.4-.9 1.4 1.5 1.4 2.6 1.4 2.5 1.4.9 1.4 2 1.4 2.6 1.4 1.3 1.4 3.6 1.4 3.3 1.4 2.8 1.4 1.9 1.4-.5 1.4-1.1 1.4 1.7 1.4-2.1 1.4-3.6 1.4-.1 1.4-.8 1.4-4.5 1.4 1.7 1.4-2.4 1.4-2.2 1.4 5.8 1.4 3.7 1.4 1.5 1.3.6"/>
<path d="M200.2 477.1l1.4 1.5 1.4-2.8 1.4-1 1.4 1.6 1.4-.8 1.4 1.9 1.4.1 1.4-1 1.4-.3 1.4-1 1.4-.6 1.4 1 1.4-.7 1.4-.7 1.4.2 1.4-.5 1.4.1 1.4-3.5 1.4 4.4 1.4-.1 1.4-3.3 1.4-7.4 1.4-4.6 1.4-1.4 1.4.7 1.4 3.1 1.4 1.7 1.4-3.6 1.4-.6 1.4 1.8 1.4-1.6 1.4.1 1.4-2.1 1.4-3.9 1.4.6 1.4 3 1.4.8 1.4-5.4 1.4-3.7 1.4-1.3 1.4 4.6 1.4 3.7 1.4-4.2 1.4-6 1.4-6.1 1.4-4 1.4 9.1 1.4 4.1 1.4-1 1.4-7.6 1.4 2.6 1.4 2.9 1.4 4.3 1.4 6.7 1.4 3.6 1.4-5.2 1.4-1.9 1.4 4.3 1.4-.7 1.4 0 1.4 3.7 1.4 2 1.4-.8 1.4 3 1.4 5.2 1.4.9 1.4 2.3 1.4 1.5 1.4 3.9 1.4-1.1 1.4-.9 1.4.4 1.4-2 1.4.3 1.4-2.9 1.4-.8 1.4-4.8 1.4-.8 1.4 1.4 1.4-2.5 1.4 6.9 1.4 4.2 1.4 0 1.3-.3"/>
<path d="M200.2 476.7l1.4-1.5 1.4-1.7 1.4 1.7 1.4-1.3 1.4-.2 1.4-.9 1.4 2.8 1.4-2.2 1.4 1.2 1.4-1 1.4.7 1.4-1.2 1.4-.6 1.4-2.5 1.4.4 1.4-2.4 1.4 2.5 1.4-1.6 1.4.6 1.4 2.6 1.4-4 1.4-7.7 1.4-4.2 1.4-2.8 1.4 1.7 1.4 3.1 1.4-.7 1.4-4 1.4-.2 1.4-2 1.4.5 1.4 2.4 1.4-4 1.4-1.6 1.4-1.6 1.4 4.6 1.4-2.3 1.4-3.5 1.4-4.4 1.4-.5 1.4 3.1 1.4 5.5 1.4-2.5 1.4-3.9 1.4-7.7 1.4-5.9 1.4 6.9 1.4 5.6 1.4 1.5 1.4-4.3 1.4-2 1.4 5.4 1.4 2.7 1.4 5.9 1.4 3.5 1.4-.8 1.4-3.3 1.4 0 1.4 4.1 1.4-2.2 1.4 4.8 1.4-.4 1.4 2.6 1.4 4.5 1.4 1.4 1.4 2.8 1.4 2.7 1.4 3.1 1.4 2.7 1.4-.9 1.4.5 1.4-1.2 1.4-1.6 1.4-.6 1.4-3.6 1.4 1.5 1.4-3.3 1.4-1.1 1.4-3.4 1.4.8 1.4 5.5 1.4 3.2 1.4-.5 1.3 2.7"/>
<path d="M200.2 476.7l1.4 2.4 1.4 1.7 1.4-2.7 1.4 1.9 1.4-3.2 1.4 1.4 1.4 2.7 1.4-1.1 1.4-.5 1.4.3 1.4-1.4 1.4 2.2 1.4-.7 1.4-2 1.4-2.1 1.4-1.9 1.4 3 1.4-2 1.4 1 1.4 2.9 1.4-6.7 1.4-3.1 1.4-4.3 1.4-5.3 1.4 3 1.4-1.8 1.4 2.7 1.4-4.7 1.4-.6 1.4-2.7 1.4.3 1.4 0 1.4-1.9 1.4-2.5 1.4.5 1.4 1.5 1.4.5 1.4-7.1 1.4-3.5 1.4-2.1 1.4 4.8 1.4 3.6 1.4-.8 1.4-8.3 1.4-3.4 1.4-7.5 1.4 9.4 1.4 5.4 1.4-1.3 1.4-5.8 1.4 3 1.4 2 1.4 3.6 1.4 6.1 1.4 4 1.4-.9 1.4-4.4 1.4 5.3 1.4.4 1.4 3 1.4 2.4 1.4 2 1.4-1.8 1.4 2.7 1.4 2.6 1.4 2.9 1.4 4.4 1.4-.7 1.4 5.2 1.4-1.7 1.4.6 1.4.9 1.4-3.4 1.4-2.9 1.4.5 1.4-4.1 1.4-3.8 1.4 1.7 1.4-4.3 1.4-1.3 1.4 5.8 1.4.6 1.4 2.2 1.3 5.1"/>
<path d="M200.2 481.5l1.4-2.3 1.4.6 1.4-3.9 1.4 2.9 1.4-3.5 1.4 2.5 1.4 2.6 1.4-1.7 1.4.5 1.4-1.3 1.4-.7 1.4.3 1.4.1 1.4-2.7 1.4 1.5 1.4-.9 1.4-1.9 1.4.1 1.4 1.8 1.4 3.1 1.4-5.1 1.4-5.9 1.4-2.3 1.4-.4 1.4-.7 1.4 1.9 1.4 1.3 1.4-3.3 1.4-2.4 1.4 1.5 1.4.8 1.4-1.6 1.4-2.2 1.4-2.7 1.4.5 1.4 1 1.4.8 1.4-4.3 1.4-3.9 1.4-2.3 1.4 2.3 1.4 5 1.4-3.7 1.4-6.6 1.4-5.1 1.4-6.3 1.4 7.1 1.4 8.7 1.4-4.1 1.4-7.9 1.4.4 1.4 4.9 1.4 4 1.4 6.7 1.4 1.5 1.4-.6 1.4-8.2 1.4 6.2 1.4 1 1.4.8 1.4 1.1 1.4 4.8 1.4-.5 1.4.4 1.4 4.2 1.4 3.9 1.4 3.6 1.4 2.6 1.4.1 1.4 3 1.4-.5 1.4-1 1.4-.5 1.4-2.2 1.4-1.3 1.4-1.2 1.4-2 1.4-.5 1.4-1.9 1.4.2 1.4 3.6 1.4 4.3 1.4 2.2 1.3 1.5"/>
<path d="M200.2 472.8l1.4-.1 1.4 2.1 1.4-3.1 1.4-.6 1.4 1.4 1.4 1 1.4 0 1.4-.8 1.4-1.1 1.4.8 1.4-1.7 1.4.1 1.4-1.2 1.4.7 1.4-1.4 1.4-3.2 1.4 2 1.4-3.2 1.4 4.7 1.4-1.3 1.4-2.6 1.4-5.7 1.4-4.4 1.4-3 1.4 2.3 1.4.6 1.4 0 1.4.9 1.4-5 1.4 2.1 1.4 1.6 1.4-3.6 1.4 1.4 1.4-4.2 1.4 1.2 1.4.2 1.4 1 1.4-5.4 1.4-.2 1.4-5.9 1.4 3.9 1.4 3.3 1.4 1.9 1.4-9.6 1.4-4.3 1.4-8.5 1.4 9.1 1.4 5.4 1.4-2.8 1.4-3 1.4-2.9 1.4 2.7 1.4 6.4 1.4 5.3 1.4 2.7 1.4-2.1 1.4-6 1.4 2.7 1.4 1.7 1.4 3.3 1.4.6 1.4-.3 1.4 4 1.4 3.7 1.4 1.7 1.4 4 1.4 1.6 1.4 1.5 1.4 2.7 1.4 1.9 1.4-.6 1.4 2.4 1.4-2.3 1.4-2.1 1.4-1.1 1.4-.8 1.4-1.5 1.4-4.1 1.4-2 1.4 2 1.4 4.2 1.4 6 1.4-2.6 1.3 4.7"/>
<path d="M200.2 478.3l1.4.9 1.4-3.3 1.4.5 1.4-.8 1.4 1.7 1.4 1.3 1.4-2 1.4.9 1.4 1.1 1.4-2.3 1.4-.3 1.4 1 1.4-1.9 1.4.8 1.4.4 1.4-3.1 1.4.3 1.4-1.2 1.4 2.1 1.4 2.2 1.4-4.8 1.4-7 1.4-2 1.4.8 1.4-2.5 1.4 4.3 1.4-.1 1.4-1.3 1.4-5 1.4-.4 1.4 3.4 1.4-3.1 1.4 0 1.4-3.9 1.4 1.9 1.4.4 1.4-.1 1.4-5.6 1.4-6 1.4-.7 1.4 1.6 1.4 7.7 1.4-6.1 1.4-4.5 1.4-4.3 1.4-8.8 1.4 9.9 1.4 5.7 1.4-2.5 1.4-7.1 1.4 3.1 1.4.2 1.4 7.6 1.4 3 1.4 5.5 1.4-3.4 1.4-4.3 1.4.1 1.4 1.9 1.4 2.3 1.4 3.1 1.4-2.4 1.4.5 1.4 3.9 1.4 2.9 1.4 1.5 1.4 2.6 1.4 3.5 1.4 1.4 1.4 1.8 1.4-1.4 1.4.9 1.4-.6 1.4-2.3 1.4-1.1 1.4-4.1 1.4-.7 1.4-.8 1.4-1.5 1.4-2.3 1.4 6.1 1.4 3.5 1.4 2 1.3 1.4"/>
<path d="M200.2 475.9l1.4 2.8 1.4-3.6 1.4.6 1.4.1 1.4-2.2 1.4-.9 1.4 4.5 1.4-3.1 1.4 1.8 1.4-1.3 1.4-1.6 1.4-.1 1.4-2.4 1.4-1.6 1.4.7 1.4-1.2 1.4.5 1.4-2.2 1.4 1.7 1.4 1.8 1.4-3.4 1.4-8.2 1.4-4 1.4-1.4 1.4-3.6 1.4 6.3 1.4.5 1.4-6.4 1.4-3.1 1.4 2.6 1.4 1.5 1.4-1.8 1.4-2.3 1.4-2.3 1.4 4.4 1.4-3.2 1.4 5.2 1.4-7.5 1.4-.9 1.4-2.7 1.4 2.1 1.4 6.6 1.4-3.8 1.4-5.5 1.4-6.2 1.4-4.8 1.4 9 1.4 4.4 1.4-2.7 1.4-.5 1.4-2.6 1.4 6.7 1.4 1.6 1.4 4.8 1.4 7.6 1.4-1.6 1.4-7.6 1.4 2.9 1.4 4.3 1.4 1.9 1.4-1.7 1.4 2.4 1.4 1.2 1.4 3.5 1.4 4.6 1.4 2.1 1.4 2.7 1.4 1.9 1.4.5 1.4 2.6 1.4-2.5 1.4 2.6 1.4-2.5 1.4-1.4 1.4-3.3 1.4-1.3 1.4-4.9 1.4-.8 1.4-1.1 1.4.3 1.4 1.1 1.4 6.7 1.4 2.2 1.3-1.6"/>
<path d="M200.2 474.4l1.4-1.8 1.4 1.6 1.4-4.6 1.4.7 1.4-.7 1.4 2.2 1.4-.2 1.4.2 1.4-.5 1.4-.3 1.4-.7 1.4.3 1.4-1 1.4-1.4 1.4-1.2 1.4-.8 1.4-.3 1.4-1.4 1.4 1.7 1.4 1.6 1.4-3.4 1.4-7.2 1.4-5 1.4.2 1.4-.8 1.4 3.8 1.4-1.6 1.4-.5 1.4-1.7 1.4 2 1.4.4 1.4 0 1.4-3.4 1.4-1.1 1.4-1.2 1.4.8 1.4 1.6 1.4-1.3 1.4-6.9 1.4-.6 1.4.9 1.4 7.3 1.4-6.5 1.4-3.7 1.4-6.3 1.4-7.7 1.4 11.2 1.4 2.4 1.4-2.2 1.4-6.4 1.4 2.2 1.4 4.2 1.4 1.4 1.4 6.9 1.4 5 1.4-6.5 1.4-4.3 1.4 5.2 1.4-.8 1.4.6 1.4 1.9 1.4 2 1.4 1.1 1.4 3.5 1.4 2.9 1.4 2.6 1.4 4.4 1.4 2.1 1.4 2.1 1.4-.2 1.4 1.3 1.4-1.2 1.4-1.2 1.4.1 1.4-3.8 1.4-.8 1.4-1.3 1.4-2.2 1.4-1.7 1.4-.3 1.4 6.3 1.4 3.3 1.4 4.6 1.3-1.9"/>
<path d="M200.2 470.6l1.4 2.3 1.4.9 1.4-1.8 1.4-.3 1.4-.1 1.4 1.2 1.4 1.1 1.4-1.4 1.4-.1 1.4-.6 1.4.4 1.4 1.5 1.4-1.9 1.4-1.3 1.4-.4 1.4-.8 1.4-.8 1.4-1.4 1.4 3.8 1.4.9 1.4-2.2 1.4-6.4 1.4-6.7 1.4.1 1.4-.9 1.4 5.2 1.4-2.9 1.4-.1 1.4-3.8 1.4 1.1 1.4 1.3 1.4-2.9 1.4-.3 1.4-1.4 1.4 2.1 1.4-3.7 1.4 2.7 1.4-2.9 1.4-6.1 1.4-.8 1.4 2.5 1.4 4.3 1.4-3.7 1.4-3.6 1.4-6.3 1.4-5 1.4 5.2 1.4 9.4 1.4-5.8 1.4-5.7 1.4 4.3 1.4.1 1.4 5.2 1.4 3.4 1.4 4.1 1.4.7 1.4-8.1 1.4 2 1.4.3 1.4 1.3 1.4 4.6 1.4-.7 1.4 1.7 1.4 3.9 1.4 1 1.4 2 1.4 5.4 1.4 1.8 1.4.2 1.4 1.8 1.4-.3 1.4.1 1.4-2.8 1.4-.5 1.4-.5 1.4-2.7 1.4-3.8 1.4-.3 1.4-4.5 1.4-.3 1.4 6.1 1.4 1.1 1.4 1.8 1.3 1.2"/>
<path d="M200.2 476.8l1.4 0 1.4-1 1.4-.3 1.4-1.5 1.4-.8 1.4 2 1.4.8 1.4 0 1.4.4 1.4.4 1.4.6 1.4-.3 1.4-.9 1.4-1.8 1.4-1.1 1.4-.1 1.4 1 1.4-2.5 1.4 3.6 1.4-.5 1.4-2 1.4-7 1.4-7.4 1.4-2.7 1.4-.6 1.4 6.1 1.4-1 1.4-6.2 1.4-2.2 1.4 1.6 1.4-1.1 1.4.5 1.4-3.4 1.4-4.4 1.4 1.7 1.4 3.2 1.4.8 1.4-6 1.4-5.5 1.4-.9 1.4 3.9 1.4 6.6 1.4-2.4 1.4-7.2 1.4-5.8 1.4-3.4 1.4 9.5 1.4 6.4 1.4-3 1.4-5.9 1.4-.2 1.4 6.7 1.4 5.6 1.4 4.5 1.4 1.2 1.4 1.2 1.4-3.8 1.4.9 1.4-1.9 1.4 4.1 1.4-1 1.4 6.1 1.4-2.8 1.4 4.3 1.4 1.6 1.4.4 1.4 5.8 1.4 1 1.4 2.8 1.4-.8 1.4-.4 1.4-.7 1.4-1.9 1.4-2.4 1.4-1.9 1.4-1 1.4-3.5 1.4-.5 1.4 0 1.4-3 1.4 5.8 1.4 1 1.4 5.6 1.3-1.6"/>
<path d="M200.2 475.5l1.4-2.5 1.4 3.4 1.4-3.7 1.4.8 1.4-1.6 1.4 1.6 1.4-.4 1.4 2.5 1.4-.8 1.4 0 1.4-1.9 1.4-.9 1.4.4 1.4-1 1.4-1 1.4-1 1.4-2.3 1.4.2 1.4-.5 1.4 4.6 1.4-3.8 1.4-7.5 1.4-5 1.4-4.2 1.4 2.3 1.4-.6 1.4 2.2 1.4-2.4 1.4-4.6 1.4 3.3 1.4 0 1.4 1.4 1.4-6.4 1.4-.4 1.4-1 1.4.8 1.4 1.1 1.4-4.5 1.4-3.4 1.4-1.2 1.4 3.1 1.4 3.4 1.4-.5 1.4-5.1 1.4-4.7 1.4-5.5 1.4 5.7 1.4 9.3 1.4-6.5 1.4-1.4 1.4-.5 1.4 3.2 1.4 6 1.4 3.9 1.4 3.3 1.4-1.5 1.4-3.9 1.4 4.4 1.4.1 1.4 1.6 1.4.5 1.4 3.8 1.4-.5 1.4 6.5 1.4-.9 1.4 4.8 1.4 4 1.4 1.8 1.4 2.5 1.4-2.9 1.4 2 1.4 2.1 1.4-3 1.4-3.8 1.4.5 1.4-1.6 1.4-3.7 1.4 1.1 1.4-2.5 1.4-2.8 1.4 3.9 1.4 6.7 1.4-.6 1.3 4.8"/>
<path d="M200.2 479.9l1.4 1.8 1.4-1.7 1.4-1.7 1.4-.3 1.4 1 1.4-1.2 1.4.7 1.4.9 1.4-1.2 1.4-.3 1.4-2.7 1.4 2.9 1.4-1 1.4-4.2 1.4-.1 1.4-1.2 1.4.9 1.4-2.4 1.4 4.8 1.4 1.1 1.4-4.8 1.4-8.9 1.4-1 1.4-3.3 1.4 0 1.4 5.7 1.4-2.5 1.4.5 1.4-6.6 1.4 5.7 1.4-2.6 1.4 2 1.4-3.5 1.4-3.7 1.4.4 1.4 2.2 1.4 2.3 1.4-5.4 1.4-3.8 1.4-1.7 1.4-.1 1.4 8 1.4-2.5 1.4-10 1.4-1.6 1.4-9.7 1.4 7.2 1.4 6.8 1.4-4.5 1.4-4.2 1.4 3.2 1.4 1.3 1.4 5.3 1.4 2.7 1.4 5 1.4-2 1.4-5.1 1.4 3.7 1.4.1 1.4.9 1.4 3.9 1.4-.1 1.4 2.5 1.4 5 1.4 0 1.4 4.3 1.4 5.1 1.4 1.9 1.4-.1 1.4-.4 1.4 3.5 1.4.4 1.4-4.2 1.4-1.7 1.4-.8 1.4-1.8 1.4-1.4 1.4-1.7 1.4-.8 1.4-2.3 1.4 6.5 1.4.5 1.4 1.8 1.3 4.6"/>
<path d="M200.2 480.6l1.4.3 1.4.3 1.4.2 1.4-2.5 1.4 1.8 1.4.4 1.4 1.3 1.4-1.5 1.4-.1 1.4.4 1.4-1 1.4.5 1.4-1 1.4-1 1.4-.7 1.4-.8 1.4.1 1.4-1 1.4 1.7 1.4 1.1 1.4-3 1.4-5.9 1.4-2.9 1.4-2.4 1.4-.4 1.4 1.2 1.4 1.7 1.4-6.8 1.4-3.1 1.4 4.1 1.4 1.4 1.4-4.4 1.4-3.3 1.4 0 1.4.8 1.4-2.9 1.4 1.5 1.4-4.2 1.4-2.4 1.4-.8 1.4 4.6 1.4 4.2 1.4-3.9 1.4-4.3 1.4-6.5 1.4-5.5 1.4 6.6 1.4 9.1 1.4-3.6 1.4-4.7 1.4-.2 1.4 4.2 1.4 4.7 1.4 5 1.4 3.7 1.4-2.1 1.4-3.6 1.4 2.7 1.4 0 1.4 2.3 1.4 1.9 1.4 2 1.4.9 1.4 2.9 1.4 1.4 1.4 1.3 1.4 2.2 1.4 4.2 1.4-1.2 1.4 0 1.4 1.7 1.4-2.2 1.4 1.6 1.4-5.6 1.4-.9 1.4-.6 1.4-1.2 1.4-1.5 1.4-3.4 1.4 1 1.4 3.3 1.4 4.8 1.4 4.2 1.3 1.3"/>
<path d="M200.2 479.2l1.4 2.5 1.4-1.7 1.4-2.3 1.4 1.8 1.4-3.2 1.4 1.1 1.4 2.1 1.4-.9 1.4-1.3 1.4-1.2 1.4 2.1 1.4-1.2 1.4-2.2 1.4-1.1 1.4-1.6 1.4 2.2 1.4-2.6 1.4.3 1.4-1 1.4 3.1 1.4-5.5 1.4-4.7 1.4-1.5 1.4-2.7 1.4-3.6 1.4 5.6 1.4-3.3 1.4-2.3 1.4-.7 1.4.6 1.4 1.1 1.4-.2 1.4-5.1 1.4-2 1.4 1.6 1.4-1.4 1.4 1.4 1.4-4.3 1.4-1.6 1.4-4.2 1.4 4.5 1.4 5.7 1.4-2 1.4-6.1 1.4-5.8 1.4-5.4 1.4 5.6 1.4 9 1.4-4.7 1.4-5.9 1.4 3.2 1.4 4.1 1.4 2.1 1.4 6.2 1.4 3.1 1.4.1 1.4-5.6 1.4 2.6 1.4.3 1.4 2.3 1.4 3.3 1.4 2.4 1.4 3.1 1.4-.2 1.4 5.1 1.4.9 1.4 3 1.4.8 1.4 2.4 1.4 2.9 1.4-1.6 1.4 1.5 1.4-1.9 1.4-1.6 1.4-2.4 1.4-2.2 1.4-3.2 1.4 2.5 1.4-3.9 1.4 2.2 1.4 1 1.4 6.2 1.4-.8 1.3 3.4"/>
<path d="M200.2 476.5l1.4.1 1.4-3 1.4.9 1.4-2.4 1.4-.2 1.4 2.4 1.4 1.8 1.4-3.5 1.4 2.8 1.4-.6 1.4-2.9 1.4.4 1.4-1.1 1.4-1.3 1.4.1 1.4-2.1 1.4-1.2 1.4 1.7 1.4-1.1 1.4 4.8 1.4-6.2 1.4-5.5 1.4-6.2 1.4-.6 1.4-1.1 1.4 2.8 1.4.4 1.4-2.2 1.4-2.2 1.4 3.8 1.4-1.4 1.4.8 1.4-5.8 1.4-1.2 1.4 4.8 1.4.1 1.4-1.9 1.4-.5 1.4-7.5 1.4 0 1.4 3.6 1.4 2.4 1.4-.4 1.4-4.2 1.4-8.4 1.4-5.9 1.4 9.4 1.4 5 1.4-1.4 1.4-6.4 1.4 4 1.4 3.9 1.4 2.2 1.4 4.4 1.4 6.7 1.4-2 1.4-5.5 1.4 1 1.4 4 1.4-2.2 1.4 5.8 1.4.4 1.4 3 1.4-1.4 1.4 6.5 1.4-1.7 1.4 4 1.4 2.3 1.4.6 1.4 1.7 1.4-.7 1.4.6 1.4-1.6 1.4-.8 1.4-4 1.4-1.7 1.4-1.4 1.4-3.7 1.4-1.8 1.4-1.2 1.4 6.7 1.4 2.6 1.4 1.6 1.3-1.2"/>
<path d="M200.2 473.6l1.4 2.2 1.4 1.4 1.4-2.3 1.4.8 1.4-.1 1.4.5 1.4-.3 1.4-1.2 1.4 3 1.4-1.1 1.4.2 1.4-1.1 1.4.5 1.4-1.8 1.4.2 1.4-3.6 1.4.3 1.4-.4 1.4 1.1 1.4 4 1.4-4.2 1.4-8.1 1.4-2.1 1.4-5.2 1.4.6 1.4 5.3 1.4-3 1.4-.6 1.4-1.8 1.4 1.8 1.4-3.8 1.4 2 1.4-5 1.4-2.8 1.4 2.2 1.4-.2 1.4 3.2 1.4-5.2 1.4-7.7 1.4-1.6 1.4 6.6 1.4-.3 1.4 1.5 1.4-8.7 1.4-5.5 1.4-3.7 1.4 6.7 1.4 7.7 1.4-5.3 1.4-2.5 1.4-1.3 1.4 1.8 1.4 7 1.4 1.4 1.4 6.4 1.4-5.3 1.4-1.8 1.4 1 1.4-.3 1.4 3.7 1.4 5 1.4-1.7 1.4 1.8 1.4 4.4 1.4 4 1.4.6 1.4 2.3 1.4 4.9 1.4-.5 1.4.5 1.4.8 1.4.8 1.4.1 1.4-1.6 1.4-1.7 1.4-2.1 1.4-3.7 1.4 1 1.4-4.1 1.4 1.9 1.4 4.2 1.4 1.1 1.4 2.5 1.3 2.7"/>
<path d="M200.2 469.8l1.4.9 1.4-.1 1.4-1.4 1.4.6 1.4.6 1.4.1 1.4 3.2 1.4-.7 1.4-.1 1.4-.1 1.4-.3 1.4-1.9 1.4.6 1.4-3 1.4-.3 1.4-.3 1.4-2.1 1.4-.7 1.4 3.7 1.4-.7 1.4-2.4 1.4-8.4 1.4-2.7 1.4-1 1.4-1.2 1.4 4.7 1.4-.9 1.4-2.2 1.4-5.2 1.4 3.3 1.4 1.9 1.4-1.4 1.4-5 1.4-2.6 1.4 1.2 1.4 2.3 1.4 2.3 1.4-6.7 1.4-1.7 1.4-6.2 1.4 7.3 1.4 2.1 1.4-.5 1.4-7.1 1.4-4.9 1.4-4.8 1.4 5.7 1.4 8.6 1.4-6.8 1.4-4.7 1.4 1 1.4 5.5 1.4 3.3 1.4 2.9 1.4 5.4 1.4-.6 1.4-3.6 1.4.6 1.4-.9 1.4.4 1.4 3.6 1.4 2.6 1.4 2.1 1.4.8 1.4 2.6 1.4 2.8 1.4 3.7 1.4 4.4 1.4 1.1 1.4.1 1.4.1 1.4-1.4 1.4-.4 1.4-3.3 1.4-1.2 1.4-.1 1.4-4.7 1.4.9 1.4-3.9 1.4-.7 1.4 4.1 1.4 2.9 1.4 3.1 1.3.1"/>
<path d="M200.2 474.6l1.4.3 1.4 1.9 1.4-1.9 1.4 1.4 1.4-4.2 1.4 2.4 1.4.7 1.4 0 1.4-1.4 1.4 1.4 1.4-.6 1.4-.8 1.4-1.9 1.4.9 1.4-.5 1.4-3.7 1.4 1.3 1.4-2.5 1.4 2.5 1.4 1.2 1.4-1 1.4-7.3 1.4-5.1 1.4-2.1 1.4-.5 1.4 3.2 1.4 2.6 1.4-4.4 1.4-2.3 1.4.4 1.4.4 1.4 1.8 1.4-1.2 1.4-4.8 1.4.7 1.4 3.1 1.4-.2 1.4-6.4 1.4-2.3 1.4-3.2 1.4 5.8 1.4 1.7 1.4-1.7 1.4-2.8 1.4-4.1 1.4-7 1.4 6.5 1.4 7.6 1.4-3.8 1.4-2.9 1.4.9 1.4-1.2 1.4 7.7 1.4 2.4 1.4 6.1 1.4-2.1 1.4-5.5 1.4 1.8 1.4 2.8 1.4-.9 1.4 4.6 1.4.5 1.4 1.5 1.4.2 1.4 4.5 1.4.5 1.4 3.8 1.4 1.3 1.4 1.6 1.4-.9 1.4 2.1 1.4.5 1.4-1.7 1.4-4.5 1.4.9 1.4-3.6 1.4-1.1 1.4-1.3 1.4-2.5 1.4-.2 1.4 2.6 1.4 2.6 1.4 2.4 1.3-.6"/>
<path d="M200.2 470.3l1.4.3 1.4.8 1.4-2.2 1.4 1.2 1.4-1.2 1.4 3.3 1.4-.6 1.4.3 1.4-.9 1.4 1.1 1.4-1.3 1.4-.4 1.4-1.1 1.4-.3 1.4-2.2 1.4-1.4 1.4-.2 1.4-1 1.4 2.3 1.4 1 1.4-3.1 1.4-6.8 1.4-2 1.4-6.1 1.4 3.6 1.4.8 1.4 1.2 1.4-3.7 1.4-2 1.4 1.2 1.4 1.3 1.4-2.7 1.4-3.7 1.4-2.4 1.4 1.2 1.4 2.3 1.4.9 1.4-2 1.4-7.1 1.4-2.8 1.4 5.8 1.4 5.1 1.4-5.7 1.4-5.4 1.4-1.8 1.4-8.1 1.4 8.1 1.4 4.2 1.4.8 1.4-6 1.4-1 1.4 2.8 1.4 6.2 1.4 2.9 1.4 7.2 1.4-5.6 1.4-4.9 1.4 4.1 1.4 2.2 1.4 1 1.4-1.1 1.4 2.1 1.4 3.8 1.4 4.1 1.4-.5 1.4 2.6 1.4 4.7 1.4 1.4 1.4 4.6 1.4-2.2 1.4-.1 1.4.1 1.4 1.3 1.4-3.3 1.4-2.1 1.4-2 1.4-3.6 1.4 1.5 1.4-4.9 1.4.8 1.4 4.8 1.4 1.1 1.4 1.7 1.3 4.4"/>
</g>
<path d="M200.2 469l1.4.2 1.4.1 1.4.2 1.4-.1 1.4.5 1.4-.5 1.4 1 1.4 1.1 1.4-.1 1.4-.2 1.4-1.5 1.4-.1 1.4-.7 1.4-.8 1.4-1.1 1.4-1.9 1.4-.6 1.4.7 1.4 1.4 1.2.4 0 11.9-1.2.9-1.4-.7-1.4.6-1.4-.2-1.4.4-1.4 1.5-1.4-.4-1.4.2-1.4 1.1-1.4.1-1.4-.5-1.4.7-1.4-.7-1.4 0-1.4-.8-1.4 1-1.4.2-1.4.9-1.4.4-1.4-.2z" fill="#dcdcdc" fill-opacity="0.4" stroke="none"/>
</g>
<rect x="194.30" y="422.20" width="129.60" height="66.20" fill="none" stroke="#9a9a9a" stroke-width="0.9"/>
<line x1="191.80" y1="485.00" x2="194.30" y2="485.00" stroke="#333" stroke-width="0.6"/>
<text x="190.50" y="488.00" font-size="8.4" text-anchor="end" fill="#333" stroke="#333" stroke-width="0.06">0</text>
<line x1="191.80" y1="473.60" x2="194.30" y2="473.60" stroke="#333" stroke-width="0.6"/>
<text x="190.50" y="476.60" font-size="8.4" text-anchor="end" fill="#333" stroke="#333" stroke-width="0.06">10</text>
<line x1="191.80" y1="461.90" x2="194.30" y2="461.90" stroke="#333" stroke-width="0.6"/>
<text x="190.50" y="464.90" font-size="8.4" text-anchor="end" fill="#333" stroke="#333" stroke-width="0.06">20</text>
<line x1="191.80" y1="450.10" x2="194.30" y2="450.10" stroke="#333" stroke-width="0.6"/>
<text x="190.50" y="453.10" font-size="8.4" text-anchor="end" fill="#333" stroke="#333" stroke-width="0.06">30</text>
<line x1="191.80" y1="438.40" x2="194.30" y2="438.40" stroke="#333" stroke-width="0.6"/>
<text x="190.50" y="441.40" font-size="8.4" text-anchor="end" fill="#333" stroke="#333" stroke-width="0.06">40</text>
<line x1="191.80" y1="426.60" x2="194.30" y2="426.60" stroke="#333" stroke-width="0.6"/>
<text x="190.50" y="429.60" font-size="8.4" text-anchor="end" fill="#333" stroke="#333" stroke-width="0.06">50</text>
<line x1="200.20" y1="488.40" x2="200.20" y2="490.90" stroke="#333" stroke-width="0.6"/>
<line x1="229.70" y1="488.40" x2="229.70" y2="490.90" stroke="#333" stroke-width="0.6"/>
<line x1="259.30" y1="488.40" x2="259.30" y2="490.90" stroke="#333" stroke-width="0.6"/>
<line x1="288.90" y1="488.40" x2="288.90" y2="490.90" stroke="#333" stroke-width="0.6"/>
<line x1="318.30" y1="488.40" x2="318.30" y2="490.90" stroke="#333" stroke-width="0.6"/>
<text x="201.50" y="432.40" font-size="9.8" text-anchor="start" fill="#000" stroke="#000" stroke-width="0.06">Renan:chr2D</text>
<text x="199.70" y="498.20" font-size="8.4" text-anchor="middle" fill="#333" stroke="#333" stroke-width="0.06">550</text>
<text x="229.20" y="498.20" font-size="8.4" text-anchor="middle" fill="#333" stroke="#333" stroke-width="0.06">575</text>
<text x="258.80" y="498.20" font-size="8.4" text-anchor="middle" fill="#333" stroke="#333" stroke-width="0.06">600</text>
<text x="288.40" y="498.20" font-size="8.4" text-anchor="middle" fill="#333" stroke="#333" stroke-width="0.06">625</text>
<text x="309.60" y="498.20" font-size="8.4" text-anchor="start" fill="#333" stroke="#333" stroke-width="0.06">650Mb</text>
<text x="254.40" y="513.30" font-size="9.8" text-anchor="middle" fill="#000" stroke="#000" stroke-width="0.06">CS+Renan</text>
<polyline points="220.2,346.1 220.2,412.3 229.3,422.2 229.3,488.4" fill="none" stroke="#d9434a" stroke-width="1.1" stroke-dasharray="2.6,1.8"/>
<polyline points="281.4,346.1 281.4,412.3 294.4,422.2 294.4,488.4" fill="none" stroke="#d9434a" stroke-width="1.1" stroke-dasharray="2.6,1.8"/>
<defs><clipPath id="cd6"><rect x="364.1" y="346.3" width="130.3" height="65.5"/></clipPath></defs>
<rect x="364.10" y="346.30" width="130.30" height="65.50" fill="#fff"/>
<line x1="364.10" y1="408.00" x2="494.40" y2="408.00" stroke="#ebebeb" stroke-width="0.6"/>
<line x1="364.10" y1="394.10" x2="494.40" y2="394.10" stroke="#ebebeb" stroke-width="0.6"/>
<line x1="364.10" y1="380.20" x2="494.40" y2="380.20" stroke="#ebebeb" stroke-width="0.6"/>
<line x1="364.10" y1="366.10" x2="494.40" y2="366.10" stroke="#ebebeb" stroke-width="0.6"/>
<line x1="364.10" y1="352.20" x2="494.40" y2="352.20" stroke="#ebebeb" stroke-width="0.6"/>
<line x1="369.80" y1="346.30" x2="369.80" y2="411.80" stroke="#ebebeb" stroke-width="0.6"/>
<line x1="395.80" y1="346.30" x2="395.80" y2="411.80" stroke="#ebebeb" stroke-width="0.6"/>
<line x1="421.30" y1="346.30" x2="421.30" y2="411.80" stroke="#ebebeb" stroke-width="0.6"/>
<line x1="446.90" y1="346.30" x2="446.90" y2="411.80" stroke="#ebebeb" stroke-width="0.6"/>
<line x1="472.40" y1="346.30" x2="472.40" y2="411.80" stroke="#ebebeb" stroke-width="0.6"/>
<g clip-path="url(#cd6)">
<path d="M369.6 366.6l1.4-.2 1.4 2.1 1.4 5.2 1.4 1.2 1.4.2 1.4-.5 1.4-.9 1.4.1 1.4-1.2 1.4-1.6 1.4-1.3 1.4 6 1.4 3.3 1.4 2.4 1.4 1.3 1.4.4 1.4-.2 1.4-6.5 1.4-1.9 1.4-.7 1.4 1.2 1.4.4 1.4.9 1.4 1.4 1.4-4 1.4-4.2 1.4 2 1.4 2.2 1.4 3.4 1.4 4 1.4-4.2 1.4-4.5 1.4-6.4 1.4-5.6 1.4 5.1 1.4 6 1.4 4.1 1.4 4.9 1.4 3 1.4 1.4 1.4 2.1 1.4 1.5 1.4-3.1 1.4-2.6 1.4-6.1 1.4-4.8 1.4-1.2 1.4-.8 1.4.7 1.4 2.2 1.4-1.4 1.4-1.6 1.4-2.8 1.4-3.5 1.4-4.4 1.4-4.8 1.4 9.8 1.4 8.8 1.4 14.5 1.4 11.4 1.4 9 0 1.8-1.4-4-1.4-6.9-1.4-13.1-1.4-6.6-1.4-8-1.4 3.5-1.4 3-1.4 2-1.4 1.5-1.4 1.6-1.4 1.4-1.4-2.2-1.4-.6-1.4 2.2-1.4 2.4-1.4 2.8-1.4 4-1.4 1.9-1.4 2.4-1.4-1.4-1.4-2.2-1.4-.6-1.4-2.3-1.4-3.6-1.4-2.7-1.4-5.3-1.4-4.4-1.4 4.2-1.4 4.9-1.4 1.8-1.4 1.5-1.4-1.9-1.4-1.3-1.4-1.5-1.4-1.4-1.4 2.8-1.4 2.7-1.4-.7-1.4-.3-1.4-.4-1.4-1.1-1.4 2.5-1.4 1.4-1.4 3.6-1.4-2.5-1.4-.3-1.4 1.4-1.4-2.4-1.4-3.3-1.4-5.9-1.4 1.2-1.4 1.6-1.4-.2-1.4-1.5-1.4 1.6-1.4 1.2-1.4-.2-1.4-1.1-1.4-2.9-1.4-.3-1.4 1.7z" fill="#efefef" fill-opacity="1.0" stroke="none"/>
<path d="M369.6 369.8l1.4-.6 1.4 1.7 1.4 4.6 1.4 1.2 1.4.1 1.4-.6 1.4-1.1 1.4.5 1.4-.9 1.4-1.6 1.4-1.3 1.4 6 1.4 3.3 1.4 2.4 1.4.7 1.4.3 1.4.5 1.4-5.8 1.4-1.8 1.4-1.1 1.4 1.1 1.4.4 1.4.8 1.4 1.2 1.4-3.6 1.4-3.9 1.4 1.9 1.4 2 1.4 2.9 1.4 3.5 1.4-3.6 1.4-3.8 1.4-6 1.4-5.3 1.4 4.9 1.4 5.8 1.4 3.8 1.4 4.6 1.4 2.8 1.4 1.2 1.4 2.1 1.4 1.5 1.4-2.9 1.4-2.4 1.4-5.6 1.4-4.3 1.4-1.5 1.4-1.2 1.4.7 1.4 2.2 1.4-1.4 1.4-1.6 1.4-2.5 1.4-3.1 1.4-4 1.4-4.6 1.4 9.4 1.4 8.3 1.4 14.1 1.4 10.3 1.4 7.7 0 1.3-1.4-4.2-1.4-7.2-1.4-13.1-1.4-6.8-1.4-8-1.4 3.5-1.4 3.1-1.4 2.1-1.4 1.5-1.4 1.6-1.4 1.4-1.4-2.1-1.4-.7-1.4 2.1-1.4 2.4-1.4 2.9-1.4 4.1-1.4 1.9-1.4 2.5-1.4-1.5-1.4-2.1-1.4-.7-1.4-2.3-1.4-3.6-1.4-2.8-1.4-5.4-1.4-4.4-1.4 4.3-1.4 5-1.4 1.8-1.4 1.7-1.4-2-1.4-1.4-1.4-1.6-1.4-1.4-1.4 2.9-1.4 2.7-1.4-.7-1.4-.3-1.4-.4-1.4-1.1-1.4 2.4-1.4 1.4-1.4 3.8-1.4-2.4-1.4-.3-1.4 1.2-1.4-2.3-1.4-3.3-1.4-6-1.4 1.3-1.4 1.6-1.4-.1-1.4-1.5-1.4 1.6-1.4 1.1-1.4-.1-1.4-1.2-1.4-3-1.4-.4-1.4 1.6z" fill="#e4e4e4" fill-opacity="1.0" stroke="none"/>
<g fill="none" stroke="#c4c4c4" stroke-width="0.4" stroke-opacity="0.3" stroke-linejoin="round">
<path d="M369.6 372.3l1.4-1.3 1.4 1.9 1.4 4.2 1.4 1 1.4 0 1.4-1.7 1.4-.5 1.4 1.8 1.4-.9 1.4-.1 1.4-3.6 1.4 7.5 1.4 2.8 1.4 1.9 1.4 1.2 1.4-.8 1.4 1.6 1.4-3.8 1.4-3 1.4.5 1.4-1 1.4.2 1.4-.1 1.4 2.5 1.4-3.5 1.4-2.3 1.4 2.4 1.4-1.8 1.4 3.6 1.4 3.8 1.4-3.9 1.4-1.2 1.4-8.1 1.4-4.5 1.4 5.3 1.4 6.9 1.4 1.4 1.4 3.4 1.4 4.8 1.4.7 1.4.8 1.4 1.2 1.4-3.7 1.4-.4 1.4-5.1 1.4-5.1 1.4-.1 1.4-4 1.4 1.2 1.4 3.2 1.4-2.6 1.4-1.8 1.4-3.8 1.4-1.5 1.4-3.4 1.4-4.7 1.4 10.3 1.4 4.1 1.4 17.5 1.4 9.1 1.4 7.6"/>
<path d="M369.6 370.9l1.4 2.9 1.4-.9 1.4 4 1.4 2.9 1.4-1.7 1.4 1 1.4-2.4 1.4 2.2 1.4-1.8 1.4-1.9 1.4-1.5 1.4 7.4 1.4 2.9 1.4 2 1.4 1.1 1.4-.8 1.4 2.8 1.4-5.6 1.4 0 1.4-1.2 1.4 1.5 1.4-1 1.4-.1 1.4 1.5 1.4-1.7 1.4-3.8 1.4 1.4 1.4.4 1.4 1.8 1.4 3.3 1.4-2.9 1.4.2 1.4-8.4 1.4-4.8 1.4 4.1 1.4 5.7 1.4 6.1 1.4 3.4 1.4.1 1.4 1.3 1.4 2.9 1.4 2.3 1.4-2.9 1.4-4.2 1.4-2.1 1.4-4.3 1.4-4.6 1.4-2 1.4.8 1.4 4.1 1.4-.7 1.4-3.3 1.4-.8 1.4-5.1 1.4-3.4 1.4-4.8 1.4 8.4 1.4 8.4 1.4 13 1.4 11 1.4 5.6"/>
<path d="M369.6 369.7l1.4.9 1.4 2.1 1.4 4 1.4 1.5 1.4-2.2 1.4.6 1.4-.3 1.4 1 1.4-2 1.4-2.7 1.4-1 1.4 6.1 1.4 3.6 1.4 2.1 1.4 1.5 1.4.6 1.4-.7 1.4-6.4 1.4 1 1.4-1.6 1.4 1.2 1.4-.3 1.4 1.5 1.4 0 1.4-3.9 1.4-.6 1.4-.3 1.4 2.2 1.4 2.2 1.4 4.3 1.4-4.2 1.4-1.4 1.4-5.7 1.4-3.4 1.4 4.2 1.4 8 1.4.5 1.4 6 1.4 1.6 1.4.7 1.4 2.6 1.4 3 1.4-2.8 1.4-2.7 1.4-6.8 1.4-2.3 1.4.1 1.4-.9 1.4-1.1 1.4 1.5 1.4 1.6 1.4-2 1.4-3.7 1.4-3.1 1.4-.2 1.4-4.5 1.4 10.3 1.4 5.1 1.4 11.5 1.4 9.2 1.4 3.9"/>
<path d="M369.6 375.2l1.4-1 1.4.6 1.4 4.5 1.4-.1 1.4.2 1.4-.9 1.4-.5 1.4 2.1 1.4-1.2 1.4-1.3 1.4-1.2 1.4 6.3 1.4 3 1.4 3 1.4-.9 1.4 0 1.4 2.2 1.4-5.9 1.4 2.9 1.4-4.7 1.4.5 1.4 1.3 1.4-.9 1.4 1.7 1.4-1.4 1.4-2.5 1.4 1.4 1.4.6 1.4 2.1 1.4 2.1 1.4-2.5 1.4-.8 1.4-5 1.4-3.9 1.4 4.5 1.4 5.5 1.4 2.1 1.4 3.6 1.4 2.7 1.4.2 1.4 2.6 1.4 1.5 1.4-2.7 1.4-1.8 1.4-4.3 1.4-2.2 1.4-2.6 1.4-2.4 1.4.4 1.4 2.6 1.4-1.5 1.4-1.8 1.4-1 1.4-1.9 1.4-3.2 1.4-3.7 1.4 8.5 1.4 5 1.4 14.3 1.4 5.9 1.4 4.2"/>
<path d="M369.6 371.2l1.4-3.3 1.4 3.9 1.4 3 1.4 2 1.4-1.5 1.4 1.3 1.4-2.5 1.4.9 1.4-1 1.4-3.1 1.4-.9 1.4 5.8 1.4 3.6 1.4 2.1 1.4 2.6 1.4-1.4 1.4.2 1.4-6.8 1.4-1 1.4-.1 1.4.1 1.4 1.3 1.4.5 1.4 2.5 1.4-4.8 1.4-5.6 1.4 1.8 1.4 2.9 1.4 2.8 1.4 5 1.4-3.1 1.4-4.3 1.4-8.3 1.4-5.9 1.4 7.5 1.4 3.8 1.4 6 1.4 3.6 1.4 3.4 1.4.9 1.4 2.2 1.4 3.1 1.4-3.3 1.4-1.7 1.4-6.7 1.4-1.4 1.4-1.8 1.4-1.8 1.4 1.2 1.4 1.5 1.4-1.1 1.4-.2 1.4-2.7 1.4-2.3 1.4-4 1.4-6.7 1.4 10.2 1.4 9.4 1.4 14.5 1.4 8.1 1.4 6.8"/>
<path d="M369.6 367.7l1.4-.7 1.4 2.8 1.4 5.4 1.4 1.5 1.4 0 1.4-1.1 1.4-1.8 1.4 2.6 1.4-2.8 1.4.1 1.4-3 1.4 6.8 1.4 3.8 1.4 2.9 1.4 0 1.4.5 1.4 2.3 1.4-8.1 1.4-1 1.4 1.4 1.4.6 1.4-1.4 1.4 2.3 1.4 1.6 1.4-5 1.4-4.6 1.4 2.7 1.4 3.9 1.4 1 1.4 4.5 1.4-3.7 1.4-4.3 1.4-7 1.4-2.3 1.4 2.5 1.4 6.6 1.4 3.8 1.4 5 1.4 2.1 1.4-.5 1.4 3.4 1.4 2.7 1.4-4.4 1.4-2.1 1.4-4.1 1.4-3.9 1.4-4.2 1.4-3.2 1.4 2.2 1.4 1.3 1.4.4 1.4-3 1.4-4 1.4 1 1.4-7.1 1.4-7 1.4 14.7 1.4 4.8 1.4 14.4 1.4 11.5 1.4 7.3"/>
<path d="M369.6 370.6l1.4-1.7 1.4 2 1.4 3.5 1.4 1.5 1.4.7 1.4-.6 1.4-1.3 1.4-.3 1.4-1 1.4-1.6 1.4-2.5 1.4 7.5 1.4 1.9 1.4 5.1 1.4-1.2 1.4.9 1.4 1.6 1.4-6.8 1.4-1.6 1.4-1.8 1.4 2.9 1.4-1.3 1.4.4 1.4 2.9 1.4-2.7 1.4-4.2 1.4.4 1.4 4.3 1.4 1.1 1.4 4.6 1.4-2.9 1.4-5.9 1.4-5.7 1.4-1.3 1.4 2.9 1.4 6.8 1.4 3.8 1.4 1.9 1.4 4.8 1.4.7 1.4 0 1.4 3.7 1.4-5.2 1.4-2.5 1.4-7.3 1.4-2.7 1.4-1.8 1.4-.5 1.4-1.6 1.4 5.4 1.4-4.9 1.4 1.8 1.4-4.1 1.4-4.7 1.4-4.3 1.4-3.3 1.4 10.2 1.4 9.4 1.4 11.7 1.4 13.2 1.4 7"/>
<path d="M369.6 377.5l1.4-1.8 1.4 1.6 1.4 3.6 1.4.6 1.4.7 1.4-1.1 1.4-2.9 1.4 2.2 1.4.9 1.4-2.5 1.4-.3 1.4 4.6 1.4 4.4 1.4-.1 1.4-.1 1.4-.3 1.4 2.8 1.4-5.1 1.4-2.2 1.4.3 1.4.4 1.4-.7 1.4-.3 1.4 1.4 1.4-4.8 1.4-.5 1.4-1.6 1.4 4.5 1.4 1.6 1.4 1.9 1.4-2.2 1.4-3.4 1.4-7.8 1.4-.3 1.4 3.8 1.4 2.6 1.4 5.2 1.4 5.1 1.4 2.3 1.4-.2 1.4.7 1.4 3.7 1.4-3.4 1.4-2.1 1.4-4.4 1.4-6.9 1.4-.9 1.4-.8 1.4-.4 1.4 1.5 1.4 1.4 1.4-1.9 1.4-4 1.4 1.1 1.4-5.9 1.4-2 1.4 4.2 1.4 8.7 1.4 13.3 1.4 11.3 1.4 5.8"/>
<path d="M369.6 376.4l1.4-3.5 1.4 0 1.4 5.7 1.4 1 1.4.1 1.4-2.7 1.4-.2 1.4.9 1.4-2.2 1.4-1.5 1.4.1 1.4 6 1.4 4.1 1.4 2.5 1.4-2.3 1.4 1.3 1.4.8 1.4-5.7 1.4-2.6 1.4.6 1.4.1 1.4-.4 1.4.7 1.4 2.3 1.4-3.1 1.4-6.7 1.4 2.8 1.4 2.3 1.4 3.7 1.4 2 1.4-2.1 1.4-2.8 1.4-6.8 1.4-6.2 1.4 3.1 1.4 9.6 1.4 2 1.4 6.2 1.4.8 1.4 2.6 1.4 1 1.4 2.3 1.4-2.9 1.4-3.8 1.4-4 1.4-1.4 1.4-4.5 1.4 1.3 1.4-2.2 1.4 4.4 1.4-3.1 1.4.8 1.4-5.1 1.4-2.8 1.4-.8 1.4-7.4 1.4 11.3 1.4 8.6 1.4 14.1 1.4 8.7 1.4 5.5"/>
<path d="M369.6 374.3l1.4-2 1.4.9 1.4 5.3 1.4 1.5 1.4-1.7 1.4-.7 1.4-.6 1.4.1 1.4-1 1.4.3 1.4-4.4 1.4 6.3 1.4 4.6 1.4.9 1.4.2 1.4.8 1.4-1.6 1.4-7.1 1.4 1 1.4-3.5 1.4 1.1 1.4 2.3 1.4-1.4 1.4 1.4 1.4-4 1.4-4.3 1.4 3 1.4 1.4 1.4 3.4 1.4 4.5 1.4-3.8 1.4-3.3 1.4-7.2 1.4-4.9 1.4 9.7 1.4 3.9 1.4 2.6 1.4 5.2 1.4 3.4 1.4 3.8 1.4 2.2 1.4-.2 1.4-3.1 1.4.3 1.4-5.4 1.4-3.7 1.4-2.7 1.4-1.2 1.4 1.1 1.4 1.3 1.4-3.6 1.4-2.8 1.4-1.6 1.4-1.4 1.4-7.8 1.4-5.5 1.4 11.3 1.4 5.7 1.4 16.8 1.4 9.2 1.4 8.5"/>
<path d="M369.6 369.6l1.4-1.2 1.4 3.4 1.4 3.4 1.4 2.4 1.4.2 1.4-.1 1.4-2.2 1.4 1.3 1.4.2 1.4-1.7 1.4-.9 1.4 6.7 1.4 2.7 1.4 1.3 1.4.5 1.4.2 1.4 2.8 1.4-5.5 1.4 1.8 1.4-3.2 1.4-.4 1.4 1.9 1.4.2 1.4 1.2 1.4-4.7 1.4-2.6 1.4 4.8 1.4 1 1.4.7 1.4 2.1 1.4-3.2 1.4-.6 1.4-6.6 1.4-4.8 1.4 2.5 1.4 4.5 1.4 3.2 1.4 4.5 1.4 2.4 1.4 2.2 1.4 2.7 1.4 1 1.4-4.7 1.4-3.6 1.4-2.8 1.4-3.4 1.4-4.7 1.4-.5 1.4-1.7 1.4 5 1.4-1.9 1.4-3.5 1.4-1.5 1.4-2.7 1.4-.5 1.4-6.9 1.4 12 1.4 7.5 1.4 15.1 1.4 7.6 1.4 6.6"/>
<path d="M369.6 379.3l1.4-1.2 1.4 0 1.4 2.3 1.4 2 1.4-.5 1.4-.8 1.4-1.7 1.4.6 1.4 1.4 1.4-2 1.4-2.5 1.4 6.7 1.4 1.3 1.4 3.2 1.4-1.6 1.4.4 1.4 1.6 1.4-3.6 1.4-.8 1.4-5.6 1.4 2.1 1.4 2.7 1.4-1.2 1.4.3 1.4-2.2 1.4-1.8 1.4-1 1.4 4.2 1.4 2.2 1.4 1.4 1.4-.5 1.4-4.5 1.4-5.6 1.4-.6 1.4 2.3 1.4 8.3 1.4.3 1.4 3.7 1.4 3.3 1.4.8 1.4 2.2 1.4 2.8 1.4-2.9 1.4-1.6 1.4-5.7 1.4-1.2 1.4-2.2 1.4-3.3 1.4 1.3 1.4 2 1.4-.9 1.4-1.8 1.4-4.3 1.4.5 1.4-6.8 1.4-4.9 1.4 7.9 1.4 8.4 1.4 15.4 1.4 5 1.4 6.4"/>
</g>
<g fill="none" stroke="#c8323a" stroke-width="0.5" stroke-opacity="0.6" stroke-linejoin="round">
<path d="M369.6 372.9l1.4 1.4 1.4 1.4 1.4 2.4 1.4 1.2 1.4 1 1.4-.7 1.4 0 1.4.4 1.4-.8 1.4-.1 1.4.4 1.4 3.4 1.4 4.4 1.4 2.7 1.4-.1 1.4-.3 1.4 3 1.4 3.7 1.4 1.6 1.4.8 1.4 1.2 1.4 1.8 1.4-2.4 1.4.4 1.4-1.6 1.4-1.4 1.4.5 1.4.9 1.4 1.6 1.4-.5 1.4-.5 1.4-.4 1.4-3.3 1.4 2.2 1.4-2.7 1.4 4.1 1.4-.2 1.4 2.2 1.4.8 1.4-.1 1.4 1.3 1.4-.1 1.4-1.1 1.4-.6 1.4-1.5 1.4-2.4 1.4-.7 1.4 3.4 1.4.2 1.4.8 1.4.2 1.4-1.6 1.4-1.4 1.4-.6 1.4-4.7 1.4-3 1.4 3.2 1.4 6 1.4 5.7 1.4 2.3 1.4 1.9"/>
<path d="M369.6 376.1l1.4 2.1 1.4-.9 1.4 3 1.4 1 1.4-.2 1.4.1 1.4.1 1.4-.5 1.4-.7 1.4.5 1.4 0 1.4 3.3 1.4 4.6 1.4 2.6 1.4.4 1.4-.2 1.4 2.7 1.4 3.8 1.4 1.1 1.4.9 1.4.7 1.4 1.4 1.4-.5 1.4-.6 1.4-.3 1.4-.5 1.4.4 1.4-.5 1.4 1.1 1.4-.1 1.4.7 1.4-.5 1.4-1.9 1.4 1.2 1.4-.8 1.4.8 1.4 1.1 1.4.8 1.4.6 1.4-.8 1.4 1.6 1.4-.7 1.4-1.3 1.4.7 1.4-2.3 1.4-2.6 1.4 1.8 1.4.6 1.4.6 1.4-.6 1.4.6 1.4-1.6 1.4-2.7 1.4 1.5 1.4-5.6 1.4-4 1.4 3.5 1.4 7.6 1.4 4.1 1.4 3.5 1.4 1.6"/>
<path d="M369.6 377.8l1.4-1.4 1.4.7 1.4 1.4 1.4.9 1.4-.1 1.4.1 1.4.2 1.4-.9 1.4.3 1.4-.8 1.4-1.1 1.4 4.7 1.4 4 1.4 1.9 1.4.6 1.4 1.1 1.4 2.1 1.4 4.8 1.4.8 1.4 1.6 1.4.2 1.4 2.7 1.4-1.6 1.4 0 1.4-.7 1.4-.5 1.4 0 1.4.8 1.4 1.7 1.4-.6 1.4 0 1.4-.7 1.4-.3 1.4-.4 1.4-.7 1.4 1.4 1.4 1.9 1.4.7 1.4-.6 1.4.5 1.4.9 1.4-.5 1.4-1.6 1.4-.1 1.4-2.3 1.4-3.3 1.4 2.3 1.4.7 1.4-.3 1.4.3 1.4-.3 1.4.9 1.4-3.9 1.4-.3 1.4-5.7 1.4-4 1.4 5.9 1.4 5.8 1.4 5.5 1.4 3.9 1.4 2"/>
<path d="M369.6 372.8l1.4 1.2 1.4 1.7 1.4 2.2 1.4.9 1.4.2 1.4-.3 1.4.1 1.4.5 1.4-.5 1.4 0 1.4-.6 1.4 4 1.4 3.5 1.4 3 1.4.5 1.4-.7 1.4 2.6 1.4 4.3 1.4 1.7 1.4 2.1 1.4.2 1.4 1.5 1.4-1.8 1.4 1 1.4-1.8 1.4-1.5 1.4.4 1.4.5 1.4 2.6 1.4-1.1 1.4 0 1.4-.7 1.4-2.7 1.4 2.4 1.4-2.6 1.4 1.6 1.4 1.6 1.4 1.6 1.4.9 1.4-.4 1.4 1.3 1.4-.1 1.4-1.4 1.4 0 1.4-3.3 1.4-3.4 1.4 2.2 1.4 2.3 1.4-.1 1.4-.1 1.4 0 1.4-.3 1.4-3.1 1.4 1.8 1.4-5.5 1.4-7.5 1.4 8.7 1.4 5 1.4 5.9 1.4 3.1 1.4 2.1"/>
<path d="M369.6 375.3l1.4.5 1.4.4 1.4 2.6 1.4.6 1.4.3 1.4-.7 1.4-.7 1.4.4 1.4-.5 1.4-.2 1.4-1 1.4 4.8 1.4 3.7 1.4 2.4 1.4 1.6 1.4-.2 1.4 2 1.4 4.5 1.4 1.4 1.4 1.5 1.4.8 1.4 1.9 1.4-1.7 1.4.2 1.4-.6 1.4-1.7 1.4.4 1.4 1.3 1.4 1.3 1.4.3 1.4-.6 1.4-.7 1.4-.4 1.4.6 1.4.5 1.4-.3 1.4 1.3 1.4 1.6 1.4 0 1.4-1 1.4 1.8 1.4-.2 1.4-1.3 1.4-.5 1.4-1.1 1.4-2 1.4.2 1.4 2.1 1.4-2.6 1.4 1 1.4.2 1.4-1.4 1.4-2 1.4-.3 1.4-5.5 1.4-3.7 1.4 4.7 1.4 6.1 1.4 4.3 1.4 3.6 1.4 2.9"/>
</g>
<path d="M369.6 366.4l1.4-.4 1.4 2.4 1.4 5.3 1.4.5 1.4.9 1.4-1.7 1.4-.2 1.4-.1 1.4-1.1 1.4-1.1 1.4-2.3 1.4 5.9 1.4 3.5 1.4 2.3 1.4 1.9 1.4-.2 1.4-.7 1.4-5.4.7-2 0 13.9-.7.7-1.4 3.5-1.4-2.7-1.4.2-1.4.3-1.4-2-1.4-2.8-1.4-6.3-1.4 1.4-1.4 2.3-1.4-.8-1.4-1.4-1.4 2.2-1.4.9-1.4-.6-1.4-1.2-1.4-1.9-1.4-.8-1.4 2.2z" fill="#dcdcdc" fill-opacity="0.55" stroke="none"/>
</g>
<rect x="364.10" y="346.30" width="130.30" height="65.50" fill="none" stroke="#9a9a9a" stroke-width="0.9"/>
<line x1="361.60" y1="408.00" x2="364.10" y2="408.00" stroke="#333" stroke-width="0.6"/>
<text x="360.30" y="411.00" font-size="8.4" text-anchor="end" fill="#333" stroke="#333" stroke-width="0.06">0</text>
<line x1="361.60" y1="394.10" x2="364.10" y2="394.10" stroke="#333" stroke-width="0.6"/>
<text x="360.30" y="397.10" font-size="8.4" text-anchor="end" fill="#333" stroke="#333" stroke-width="0.06">20</text>
<line x1="361.60" y1="380.20" x2="364.10" y2="380.20" stroke="#333" stroke-width="0.6"/>
<text x="360.30" y="383.20" font-size="8.4" text-anchor="end" fill="#333" stroke="#333" stroke-width="0.06">40</text>
<line x1="361.60" y1="366.10" x2="364.10" y2="366.10" stroke="#333" stroke-width="0.6"/>
<text x="360.30" y="369.10" font-size="8.4" text-anchor="end" fill="#333" stroke="#333" stroke-width="0.06">60</text>
<line x1="361.60" y1="352.20" x2="364.10" y2="352.20" stroke="#333" stroke-width="0.6"/>
<text x="360.30" y="355.20" font-size="8.4" text-anchor="end" fill="#333" stroke="#333" stroke-width="0.06">80</text>
<line x1="369.80" y1="411.80" x2="369.80" y2="414.30" stroke="#333" stroke-width="0.6"/>
<line x1="395.80" y1="411.80" x2="395.80" y2="414.30" stroke="#333" stroke-width="0.6"/>
<line x1="421.30" y1="411.80" x2="421.30" y2="414.30" stroke="#333" stroke-width="0.6"/>
<line x1="446.90" y1="411.80" x2="446.90" y2="414.30" stroke="#333" stroke-width="0.6"/>
<line x1="472.40" y1="411.80" x2="472.40" y2="414.30" stroke="#333" stroke-width="0.6"/>
<text x="371.30" y="356.50" font-size="9.8" text-anchor="start" fill="#000" stroke="#000" stroke-width="0.06">CS:chr3D</text>
<defs><clipPath id="cd7"><rect x="364.1" y="422.2" width="130.3" height="66.2"/></clipPath></defs>
<rect x="364.10" y="422.20" width="130.30" height="66.20" fill="#fff"/>
<line x1="364.10" y1="485.00" x2="494.40" y2="485.00" stroke="#ebebeb" stroke-width="0.6"/>
<line x1="364.10" y1="471.80" x2="494.40" y2="471.80" stroke="#ebebeb" stroke-width="0.6"/>
<line x1="364.10" y1="458.30" x2="494.40" y2="458.30" stroke="#ebebeb" stroke-width="0.6"/>
<line x1="364.10" y1="444.60" x2="494.40" y2="444.60" stroke="#ebebeb" stroke-width="0.6"/>
<line x1="364.10" y1="430.70" x2="494.40" y2="430.70" stroke="#ebebeb" stroke-width="0.6"/>
<line x1="369.80" y1="422.20" x2="369.80" y2="488.40" stroke="#ebebeb" stroke-width="0.6"/>
<line x1="395.80" y1="422.20" x2="395.80" y2="488.40" stroke="#ebebeb" stroke-width="0.6"/>
<line x1="421.30" y1="422.20" x2="421.30" y2="488.40" stroke="#ebebeb" stroke-width="0.6"/>
<line x1="446.90" y1="422.20" x2="446.90" y2="488.40" stroke="#ebebeb" stroke-width="0.6"/>
<line x1="472.40" y1="422.20" x2="472.40" y2="488.40" stroke="#ebebeb" stroke-width="0.6"/>
<g clip-path="url(#cd7)">
<path d="M370.2 468l1.4 2 1.4 1.9 1.4 1.5 1.4 1.6 1.4-.6 1.4-2.4 1.4-1.9 1.4.3 1.4 1.6 1.4 2.2 1.4-.8 1.4-2.1 1.4-1.6 1.4-1.8 1.4 2.9 1.4 1.9 1.4 1.6 1.4-.9 1.4.1 1.4-1 1.4-3.3 1.4-2.2 1.4 1.1 1.4.7 1.4.4 1.4-.9 1.4-.6 1.4-1 1.4-.4 1.4 1.7 1.4 1.1 1.4 1.8 1.4.3 1.4.1 1.4.5 1.4-.5 1.4-.1 1.4-.7 1.4-.7 1.4 1.2 1.4.2 1.4.5 1.4 1.6 1.4.7 1.4.8 1.4.8 1.4-1.2 1.4-1.3 1.4-.5 1.4-.7 1.4-.7 1.4-1.7 1.4-1.1 1.4.5 1.4-.7 1.4-.3 1.4-.8 1.4 1.2 1.4 1.4 1.4 1.3 1.4.8 1.4-.4 1.4-.1 1.4-.6 1.4-1.1 1.4-1 1.4.1 1.4-1.8 1.4.1 1.4 1.8 1.4 1 1.4 1.6 1.4-1.7 1.4-2.1 1.4-2.2 1.4-1.8 1.4 2.1 1.4 1.7 1.4 2.2 1.4 2.2 1.4 1.3 1.1 2.2 0 8.1-1.1-1.6-1.4-.6-1.4-1.5-1.4-1.5-1.4-1-1.4-1.4-1.4 1.4-1.4 1.6-1.4 1.5-1.4 1.3-1.4-1.5-1.4-1.1-1.4-1.8-1.4-.2-1.4 1.5-1.4-.3-1.4.7-1.4 1-1.4.6-1.4.1-1.4.4-1.4-.8-1.4-1.3-1.4-1.4-1.4-1.2-1.4.7-1.4.4-1.4.7-1.4-.5-1.4.9-1.4 1.3-1.4.4-1.4.5-1.4.5-1.4 1.4-1.4 1.2-1.4-.5-1.4-.6-1.4-.4-1.4-1.4-1.4-.5-1.4-.2-1.4-1.2-1.4.7-1.4.7-1.4.1-1.4.5-1.4-.5-1.4-.1-1.4-.3-1.4-1.7-1.4-.7-1.4-1.4-1.4.7-1.4 1-1.4.5-1.4.9-1.4-.4-1.4-.7-1.4-1.1-1.4 1-1.4 1.8-1.4.4-1.4-.4-1.4.5-1.4-.8-1.4-.9-1.4-1.9-1.4 1.7-1.4 1.4-1.4 1.8-1.4.6-1.4-1.8-1.4-1.3-1.4-.2-1.4 1.6-1.4 2.1-1.4.6-1.4-1.2-1.4-1-1.4-.9-1.4-1.1z" fill="#efefef" fill-opacity="1.0" stroke="none"/>
<path d="M370.2 470.8l1.4 1.8 1.4 1.6 1.4 1.4 1.4 1.5 1.4-.6 1.4-2.3 1.4-1.9 1.4.3 1.4 1.6 1.4 2 1.4-.7 1.4-2 1.4-1.6 1.4-1.8 1.4 2.7 1.4 1.6 1.4 1.4 1.4-.7 1.4.1 1.4-.8 1.4-3 1.4-1.8 1.4 1 1.4.8 1.4.3 1.4-.9 1.4-.5 1.4-1 1.4-.5 1.4 1.6 1.4 1 1.4 1.8 1.4.3 1.4.1 1.4.5 1.4-.5 1.4-.1 1.4-.7 1.4-.7 1.4 1.2 1.4.2 1.4.5 1.4 1.5 1.4.7 1.4.7 1.4.8 1.4-1.2 1.4-1.4 1.4-.5 1.4-.6 1.4-.6 1.4-1.7 1.4-1 1.4.5 1.4-.7 1.4-.3 1.4-.8 1.4 1.2 1.4 1.4 1.4 1.3 1.4.8 1.4-.4 1.4-.1 1.4-.6 1.4-1.1 1.4-.9 1.4.1 1.4-1.6 1.4.1 1.4 1.8 1.4 1 1.4 1.5 1.4-1.6 1.4-1.9 1.4-2 1.4-1.7 1.4 1.8 1.4 1.6 1.4 2 1.4 2.1 1.4 1.1 1.1 2 0 5.7-1.1-1.6-1.4-.6-1.4-1.6-1.4-1.6-1.4-1-1.4-1.4-1.4 1.4-1.4 1.6-1.4 1.6-1.4 1.3-1.4-1.6-1.4-1-1.4-1.8-1.4-.2-1.4 1.5-1.4-.3-1.4.8-1.4 1-1.4.5-1.4.2-1.4.3-1.4-.8-1.4-1.2-1.4-1.4-1.4-1.2-1.4.7-1.4.3-1.4.7-1.4-.4-1.4.8-1.4 1.4-1.4.4-1.4.5-1.4.5-1.4 1.4-1.4 1.2-1.4-.6-1.4-.5-1.4-.5-1.4-1.3-1.4-.6-1.4-.1-1.4-1.3-1.4.7-1.4.7-1.4.2-1.4.4-1.4-.5-1.4 0-1.4-.4-1.4-1.7-1.4-.7-1.4-1.4-1.4.6-1.4 1.1-1.4.5-1.4.9-1.4-.4-1.4-.7-1.4-1.1-1.4 1-1.4 2-1.4.4-1.4-.5-1.4.6-1.4-.9-1.4-.9-1.4-1.9-1.4 1.7-1.4 1.3-1.4 1.9-1.4.6-1.4-1.8-1.4-1.3-1.4-.2-1.4 1.6-1.4 2.1-1.4.6-1.4-1.2-1.4-1-1.4-1-1.4-1.1z" fill="#e4e4e4" fill-opacity="1.0" stroke="none"/>
<g fill="none" stroke="#c4c4c4" stroke-width="0.4" stroke-opacity="0.3" stroke-linejoin="round">
<path d="M370.2 469.9l1.4 2.7 1.4 1.8 1.4.5 1.4 2.8 1.4-.3 1.4-2 1.4-3.8 1.4 1.8 1.4.4 1.4 2.8 1.4-2.5 1.4-1.6 1.4-.6 1.4-2.6 1.4 2 1.4 2.7 1.4 1.9 1.4-.9 1.4-1.5 1.4-.9 1.4-2.9 1.4-2.9 1.4 4.6 1.4.6 1.4.3 1.4-1.6 1.4-1.1 1.4-.5 1.4-2.2 1.4 4.6 1.4-1.2 1.4 4.4 1.4-1.1 1.4-.7 1.4 1.4 1.4-.5 1.4 2.3 1.4-3.6 1.4.2 1.4 2.1 1.4.3 1.4-.9 1.4 4.7 1.4-.7 1.4 1.6 1.4-.4 1.4-1.2 1.4-1.5 1.4-.1 1.4 1.4 1.4-2.3 1.4-2.4 1.4 2.1 1.4-1.3 1.4 1.6 1.4-1 1.4-.3 1.4-.3 1.4 1.5 1.4 2.2 1.4-.1 1.4-.1 1.4-1.1 1.4 1.2 1.4-2.6 1.4 1 1.4-1.5 1.4-.1 1.4-.5 1.4 2.4 1.4 1.4 1.4 1.5 1.4-4 1.4-.8 1.4-.4 1.4-3.4 1.4.1 1.4 1.7 1.4 3.7 1.4-.9 1.4 3.3 1.1-.7"/>
<path d="M370.2 478.7l1.4-1.3 1.4 1.7 1.4.6 1.4 3 1.4 0 1.4-2.5 1.4-3.8 1.4.2 1.4 2.3 1.4 3.1 1.4-2.8 1.4-.8 1.4-2.8 1.4-2.3 1.4 3.6 1.4-.4 1.4 1.9 1.4-1.8 1.4.6 1.4-.7 1.4-1.2 1.4-1.6 1.4 2 1.4-.6 1.4 1.3 1.4-2.9 1.4 1.1 1.4-1.7 1.4-.9 1.4.7 1.4 1 1.4 2.5 1.4-.7 1.4.1 1.4.2 1.4.8 1.4-.9 1.4-.1 1.4-1.9 1.4 2.2 1.4-.2 1.4-2.2 1.4 4 1.4-.7 1.4.3 1.4 2.3 1.4-2 1.4-1.3 1.4-.4 1.4.6 1.4-.5 1.4-3.9 1.4-2.2 1.4 2.3 1.4-1.2 1.4 1.6 1.4-3.2 1.4 1.8 1.4 3 1.4-.4 1.4.3 1.4-.1 1.4.6 1.4.2 1.4.1 1.4-1.4 1.4 1.3 1.4-4.4 1.4.8 1.4 3.7 1.4-1.7 1.4 3 1.4 0 1.4-2.6 1.4-.1 1.4-5 1.4 2.3 1.4 2.4 1.4 3.4 1.4 2 1.4-.7 1.1 2"/>
<path d="M370.2 476.1l1.4 2.3 1.4 1.2 1.4 2.3 1.4-.3 1.4.6 1.4-4.6 1.4-1.4 1.4 1.9 1.4 1.1 1.4.9 1.4-1 1.4-1.6 1.4-1.1 1.4-3 1.4 1.8 1.4 1.9 1.4 1.1 1.4-.5 1.4-.4 1.4 1 1.4-2.9 1.4-3.2 1.4 1.8 1.4 2.1 1.4-1.1 1.4-.3 1.4 1.3 1.4-3.1 1.4-.3 1.4 1.9 1.4.8 1.4 3.7 1.4-.3 1.4-1.6 1.4 2.1 1.4.4 1.4-.7 1.4-.3 1.4-3.4 1.4 2.9 1.4 0 1.4 1.5 1.4 1.6 1.4-.1 1.4 2.2 1.4-.4 1.4-.9 1.4-.7 1.4-1.8 1.4-.2 1.4-.7 1.4-1.1 1.4-1.8 1.4 1.5 1.4.5 1.4-1.5 1.4-1.1 1.4 1.9 1.4 2.3 1.4-.6 1.4 1 1.4-.4 1.4.6 1.4.8 1.4-3.2 1.4-.1 1.4-.4 1.4.1 1.4-1.3 1.4 2.1 1.4 1 1.4.8 1.4-2 1.4-1 1.4-2 1.4-.9 1.4 0 1.4 1.6 1.4 2.7 1.4 1.8 1.4-1.5 1.1 3"/>
<path d="M370.2 474.5l1.4 1.4 1.4 2.6 1.4.2 1.4 1.6 1.4-.5 1.4-1.2 1.4-4.4 1.4-.4 1.4 2.6 1.4 1.8 1.4.2 1.4-3.4 1.4-2.5 1.4-2.1 1.4 2.7 1.4 3.2 1.4.6 1.4-2.4 1.4-.1 1.4-.3 1.4-1.9 1.4-4.5 1.4 3.5 1.4 1.5 1.4-.1 1.4-1.9 1.4-.1 1.4-1.8 1.4 0 1.4 1.4 1.4 2 1.4 1.1 1.4 1.5 1.4.5 1.4-1.1 1.4 1.1 1.4 1.7 1.4-3.7 1.4 1 1.4.8 1.4 1.2 1.4 0 1.4 2.7 1.4 2.1 1.4.4 1.4.3 1.4-.1 1.4-2.2 1.4-1.7 1.4-.1 1.4 1.2 1.4-4.3 1.4.5 1.4-.4 1.4 0 1.4-1.7 1.4 1.9 1.4-1.7 1.4 1.1 1.4 3.1 1.4-.3 1.4-1.4 1.4 1.8 1.4-1.1 1.4-2.4 1.4-.4 1.4-.4 1.4-3.5 1.4 2.4 1.4-1.1 1.4 3.9 1.4-.2 1.4-2.1 1.4-1 1.4-3.8 1.4-.4 1.4 1.8 1.4-.7 1.4 4.5 1.4 2.4 1.4-1.2 1.1 2.9"/>
<path d="M370.2 470.1l1.4 1.1 1.4 4.6 1.4-1.2 1.4 1.4 1.4-1.3 1.4-.5 1.4-3.2 1.4-.3 1.4 1 1.4 4.3 1.4-1 1.4-3.9 1.4-1.8 1.4-1 1.4 3.3 1.4 1.9 1.4 1.3 1.4-.8 1.4-.1 1.4 0 1.4-4.8 1.4.2 1.4 1 1.4-.1 1.4.4 1.4 1.7 1.4-3.5 1.4-.1 1.4 1.1 1.4 2.7 1.4-1.9 1.4 5.1 1.4.6 1.4-3.1 1.4 3.2 1.4-2.6 1.4 2.5 1.4-3 1.4.4 1.4 2.4 1.4-2.2 1.4 1 1.4 2.1 1.4 1 1.4-.2 1.4.8 1.4-1.9 1.4-2.3 1.4-1.2 1.4.4 1.4-2.5 1.4-1.1 1.4-2.3 1.4 2.2 1.4-1.8 1.4-.5 1.4-.9 1.4 1 1.4 1.5 1.4 2.6 1.4-.2 1.4 1.2 1.4.1 1.4-.7 1.4-2.7 1.4-1.1 1.4 2.1 1.4-1.1 1.4-1.8 1.4 1.8 1.4 1.9 1.4 2.7 1.4-2.1 1.4.9 1.4-3.2 1.4-3 1.4 3.8 1.4 1.9 1.4 2 1.4.7 1.4 2.1 1.1 1.5"/>
<path d="M370.2 472.8l1.4 1.8 1.4 2 1.4.9 1.4 4.1 1.4-2.5 1.4-3.1 1.4-.7 1.4 1.8 1.4-.1 1.4 1.1 1.4.2 1.4-2.9 1.4.8 1.4-2.5 1.4.5 1.4 1.6 1.4 1.6 1.4-.6 1.4 1.5 1.4-1.3 1.4-4.3 1.4-.8 1.4 1.3 1.4.3 1.4.7 1.4-2.5 1.4 1.9 1.4-2.4 1.4-1 1.4.6 1.4 1.5 1.4 3.5 1.4-1.8 1.4.5 1.4.3 1.4-2 1.4 2.1 1.4-1.7 1.4-.9 1.4.8 1.4 1.9 1.4-2.1 1.4 4.1 1.4.5 1.4-.5 1.4-.2 1.4-.1 1.4-2.7 1.4.9 1.4-1.3 1.4-1.9 1.4-.7 1.4-.4 1.4-.8 1.4-1.2 1.4-.1 1.4.8 1.4-1.2 1.4 1.8 1.4 2.3 1.4.8 1.4-1.1 1.4 1.6 1.4-1.3 1.4-.7 1.4-1.8 1.4-1.2 1.4-1.9 1.4-.4 1.4 2.3 1.4.9 1.4 1.8 1.4-1.9 1.4-1.8 1.4-1.9 1.4-1.7 1.4 1.8 1.4 3.6 1.4 2.8 1.4 1.3 1.4-.7 1.1 2.4"/>
<path d="M370.2 476.5l1.4 1.6 1.4-.4 1.4.9 1.4 2.4 1.4-1.3 1.4-2.3 1.4 1.1 1.4-1.8 1.4 2.1 1.4 2.4 1.4.5 1.4-2.3 1.4-3.8 1.4-.7 1.4 1.6 1.4 1.1 1.4 1.5 1.4.6 1.4-.7 1.4.1 1.4-1.5 1.4-1.4 1.4 2.8 1.4-2.2 1.4 2.9 1.4-1 1.4-.6 1.4-1.5 1.4-.1 1.4 1.6 1.4-1.5 1.4 2.6 1.4-.1 1.4 1.1 1.4-.1 1.4-1.2 1.4 2 1.4-1.2 1.4-.9 1.4.6 1.4 1.3 1.4.4 1.4 2 1.4.4 1.4-.9 1.4.7 1.4-1.7 1.4-.7 1.4.2 1.4-1.6 1.4-.1 1.4-2.5 1.4-.1 1.4 2.1 1.4-2.5 1.4-.1 1.4-.5 1.4 2 1.4 1.5 1.4-1.1 1.4 1.9 1.4 1 1.4-.5 1.4-2.3 1.4.6 1.4-1 1.4-.8 1.4-3.5 1.4 1.6 1.4 2.6 1.4 2.1 1.4.8 1.4-2.1 1.4.2 1.4-2.1 1.4-5 1.4 4.8 1.4 0 1.4 1.1 1.4 2.8 1.4-1.6 1.1 1.8"/>
<path d="M370.2 475.9l1.4 4.8 1.4-1.2 1.4 1.6 1.4 1.8 1.4-.1 1.4-2.8 1.4-2.4 1.4 1.7 1.4-.5 1.4 4 1.4-2.3 1.4-1.6 1.4.3 1.4-3.8 1.4 3.1 1.4.5 1.4 1.8 1.4-.7 1.4.7 1.4-2 1.4-2.2 1.4-.6 1.4 2.6 1.4-.4 1.4.6 1.4-1.4 1.4 1.4 1.4-1.7 1.4-.6 1.4 1.6 1.4.4 1.4 2.4 1.4-2.5 1.4 1.4 1.4-1.3 1.4 0 1.4 2.4 1.4-1.4 1.4-2.8 1.4 3 1.4-.1 1.4-1.5 1.4 1.4 1.4.7 1.4 1.5 1.4 1.9 1.4-3 1.4-1 1.4.1 1.4-1.9 1.4.4 1.4-3.4 1.4 1.2 1.4.4 1.4-.7 1.4-2 1.4-.2 1.4-.3 1.4.5 1.4 3.1 1.4-.5 1.4-1.1 1.4 2.5 1.4-2.2 1.4-2.3 1.4.1 1.4-.8 1.4-.8 1.4 0 1.4 2.6 1.4.5 1.4 2.1 1.4-2.2 1.4-1.1 1.4-3.2 1.4 1.2 1.4-1.6 1.4 1.2 1.4 3.1 1.4 2.3 1.4.6 1.1 2.5"/>
<path d="M370.2 477.2l1.4-.9 1.4 2.4 1.4 1 1.4 2 1.4-2.1 1.4-3.3 1.4-1.2 1.4-.7 1.4 1.7 1.4 2.7 1.4 1.1 1.4-4.9 1.4.8 1.4-4.5 1.4 3.3 1.4 2.8 1.4.6 1.4 0 1.4.5 1.4-2 1.4-1.3 1.4-2.8 1.4 3.6 1.4-.2 1.4.3 1.4-.8 1.4.3 1.4-3.2 1.4.3 1.4 3.4 1.4-.3 1.4 2.5 1.4 0 1.4-.1 1.4-.9 1.4.1 1.4 2.5 1.4-1.9 1.4-.3 1.4 1.4 1.4-.9 1.4 2 1.4 0 1.4.6 1.4 3.1 1.4.4 1.4-1.7 1.4-1.3 1.4-1.6 1.4.3 1.4-.8 1.4-.4 1.4-1.8 1.4 1.6 1.4-1.4 1.4-.3 1.4-1.8 1.4 1.8 1.4 1.9 1.4 1.4 1.4-.9 1.4 1.8 1.4-1.7 1.4.3 1.4-2.3 1.4.7 1.4.6 1.4-2.6 1.4 1.2 1.4 1.4 1.4.4 1.4 1.7 1.4-2.1 1.4-1.1 1.4 0 1.4-2.9 1.4 1.1 1.4-.8 1.4 4.3 1.4 1.8 1.4-1.1 1.1 1.1"/>
<path d="M370.2 477l1.4-1.1 1.4.5 1.4 2.3 1.4 2.7 1.4-.3 1.4-3.4 1.4-.9 1.4-2.8 1.4 2.3 1.4 1.8 1.4 1.1 1.4-1.6 1.4-2.4 1.4-1.2 1.4 1.9 1.4.9 1.4 1.4 1.4-.5 1.4 1.9 1.4-.8 1.4-3 1.4.8 1.4.5 1.4.9 1.4-.7 1.4-.1 1.4.8 1.4-1.2 1.4-1.2 1.4 1.6 1.4-.7 1.4 4.2 1.4.2 1.4-.2 1.4-.8 1.4.6 1.4.4 1.4-.8 1.4-2.3 1.4 3 1.4-.1 1.4.4 1.4 2 1.4-1.4 1.4 1.8 1.4-1.1 1.4.7 1.4-3.4 1.4 1.1 1.4-1.5 1.4.2 1.4-2.4 1.4-2.1 1.4-.2 1.4 1.8 1.4-1.3 1.4-3.2 1.4 3.9 1.4-.9 1.4.9 1.4 1.9 1.4-1.6 1.4 1.1 1.4.6 1.4-1.5 1.4-3.3 1.4 2.6 1.4-2.8 1.4-1.8 1.4 2.7 1.4 3.4 1.4-.7 1.4 1.4 1.4-2.2 1.4-3.4 1.4-1.2 1.4 1.5 1.4 1.5 1.4 2.7 1.4 2.5 1.4-.3 1.1 2.7"/>
<path d="M370.2 469.6l1.4 2.5 1.4.5 1.4.4 1.4 3 1.4-.2 1.4-3.1 1.4-2.9 1.4.2 1.4 2.5 1.4 2.2 1.4.6 1.4-2.8 1.4-3 1.4-2.4 1.4 3.6 1.4 2 1.4 2.4 1.4-2.1 1.4.9 1.4-1.7 1.4-3.7 1.4-2 1.4 2.1 1.4 1.4 1.4.2 1.4-1.7 1.4-.9 1.4-.3 1.4 0 1.4.5 1.4 2.4 1.4.5 1.4 1.8 1.4-.6 1.4-.2 1.4.5 1.4-.4 1.4-1.8 1.4 0 1.4 1.7 1.4-1.1 1.4 1.8 1.4 3 1.4.7 1.4-.7 1.4 2 1.4-2 1.4-.6 1.4-2.1 1.4.7 1.4-.7 1.4-1.9 1.4-1.6 1.4 1.1 1.4-.1 1.4-1.4 1.4-.4 1.4 1.9 1.4 1.3 1.4-.8 1.4 2.8 1.4-.1 1.4.4 1.4-1.1 1.4.3 1.4-4.2 1.4 1.2 1.4-.6 1.4.8 1.4-.2 1.4 2.9 1.4.9 1.4-.8 1.4-2.1 1.4-2.5 1.4-3.2 1.4 5.1 1.4 1.1 1.4-1.1 1.4 4.1 1.4-.4 1.1 2.3"/>
<path d="M370.2 468.3l1.4 3.4 1.4 2.8 1.4-.3 1.4 1.2 1.4 1.3 1.4-4.2 1.4.1 1.4-2.1 1.4 1.8 1.4 2.3 1.4.5 1.4-1.6 1.4-.9 1.4-2.1 1.4 2.6 1.4 1.6 1.4.5 1.4-.8 1.4.7 1.4-.8 1.4-2.4 1.4-1.1 1.4-.9 1.4 1.9 1.4-.8 1.4.3 1.4.4 1.4-1 1.4-.1 1.4 0 1.4 1.9 1.4 2.4 1.4-1.1 1.4 1.2 1.4-1.7 1.4 1 1.4.9 1.4-1.7 1.4-.1 1.4 1.7 1.4-2 1.4.5 1.4 4.7 1.4-1.3 1.4 2.1 1.4-.5 1.4-1.4 1.4-2.5 1.4-.6 1.4-.4 1.4.3 1.4-1.6 1.4.2 1.4 1.2 1.4-1.4 1.4-1 1.4-1.8 1.4 3.3 1.4 1.6 1.4 0 1.4-.7 1.4 1.6 1.4-.1 1.4.1 1.4-2.6 1.4.1 1.4-1.1 1.4-2.5 1.4 2 1.4-.7 1.4 1.7 1.4 1.8 1.4-2.8 1.4 1.1 1.4-2.1 1.4-3 1.4 2.8 1.4.4 1.4.3 1.4 3.2 1.4 2.3 1.1 0"/>
</g>
<g fill="none" stroke="#c8323a" stroke-width="0.5" stroke-opacity="0.5" stroke-linejoin="round">
<path d="M395.8 476.4l1.4-2.9 1.4-4.4 1.4-9.4 1.4-7.8 1.4-12 1.4-5.2 1.4-3.7 1.4 5.6 1.4 10.6 1.4 7.8 1.4-4.8 1.4-5.7 1.4-4.8 1.4 3.1 1.4-.1 1.4 0 1.4.5 1.4 2.9 1.4 1.3 1.4-.4 1.4 4.9 1.4 1.5 1.4 3.6 1.4 3 1.4 7.3 1.4 1.3 1.4.9 1.4 2.5 1.4-.9 1.4-1.5 1.4-4 1.4 1.2 1.4-8 1.4-3.2 1.4-2.3 1.4-1.9 1.4 1.2 1.4.9 1.4 2.9 1.4 3.5 1.4.9 1.4 4.4 1.4-1 1.4 2 1.4.3 1.4-2.2 1.4-5.8 1.4 0 1.4-3 1.4-1 1.4-2.6 1.4.6 1.4-2.2 1.4-1.3 1.4 2 1.4-2.3 1.4-5.4 1.4-4.2 1.4 7.9 1.4 1.8 1.4 4.2 1.4 9.3 1.4 6.6 1.4 4.8.3 1"/>
<path d="M395.8 480.1l1.4-4.6 1.4-1.8 1.4-9.3 1.4-6.9 1.4-9.5 1.4-13.2 1.4.9 1.4 4.3 1.4 12 1.4 6.8 1.4-10.1 1.4-1.8 1.4-7.5 1.4 6.2 1.4-3.2 1.4 2.5 1.4-1.1 1.4.1 1.4 1 1.4 1.7 1.4 3.4 1.4.5 1.4 4.3 1.4 6 1.4 5.7 1.4 1.9 1.4 1.8 1.4 1.3 1.4-1 1.4-2.6 1.4-.2 1.4-1.7 1.4-1.6 1.4-5.8 1.4-1.1 1.4-4.5 1.4 2.1 1.4 1 1.4 7.1 1.4 2.3 1.4 2.9 1.4 1 1.4-.6 1.4 3.7 1.4.3 1.4-5 1.4.2 1.4-.9 1.4-2.9 1.4-.9 1.4-2.9 1.4-3 1.4-1 1.4-2.3 1.4.1 1.4-1.3 1.4-5.3 1.4-5.3 1.4 6.3 1.4 8.7 1.4-.9 1.4 6.2 1.4 8.2 1.4 3.4.3.8"/>
<path d="M395.8 479.3l1.4-3.3 1.4-3.9 1.4-6.7 1.4-10.8 1.4-9.7 1.4-10.2 1.4-1.3 1.4 10.9 1.4 5.7 1.4 8.1 1.4-7.8 1.4.4 1.4-4.8 1.4.7 1.4 0 1.4 1.6 1.4 1.3 1.4.5 1.4.7 1.4 3.3 1.4-.3 1.4 7.3 1.4 3.8 1.4.4 1.4 5.8 1.4 4.6 1.4-1 1.4 1.8 1.4 2.3 1.4-3.3 1.4-2.8 1.4-2.8 1.4-3.5 1.4-4.5 1.4-.6 1.4-5.9 1.4.6 1.4 2.2 1.4 3.2 1.4 5.5 1.4 1.6 1.4.2 1.4.6 1.4 3.6 1.4-1.2 1.4-2.4 1.4.9 1.4-5.4 1.4-.4 1.4-4.9 1.4 1.5 1.4-1.3 1.4-2 1.4-1.8 1.4-.1 1.4-.4 1.4-6.8 1.4-3.7 1.4 8.8 1.4 13.9 1.4 1 1.4 2.6 1.4 3.7 1.4 2.7.3-.8"/>
<path d="M395.8 477.1l1.4-4.6 1.4-1.6 1.4-10.7 1.4-10.5 1.4-10.4 1.4-7.8 1.4-.9 1.4 4.8 1.4 11.6 1.4 8.8 1.4-9.8 1.4-2.7 1.4-4.2 1.4-1.6 1.4 2.1 1.4 2.3 1.4 1.1 1.4-1.8 1.4.7 1.4 4.1 1.4-4.5 1.4 7.6 1.4.6 1.4 8.3 1.4 3.4 1.4 2.9 1.4 4.9 1.4-2.9 1.4 1.6 1.4-2.3 1.4-.5 1.4-3 1.4-4.3 1.4-4.4 1.4-1 1.4-1.6 1.4-.5 1.4 1.3 1.4 3.1 1.4 2.6 1.4 3 1.4 2.8 1.4.9 1.4 1.9 1.4-1.8 1.4-2.6 1.4-3.6 1.4-2 1.4-3.1 1.4-.8 1.4-1.6 1.4-1.7 1.4-1.2 1.4-1.5 1.4.4 1.4-1.8 1.4-5.2 1.4-4.3 1.4 1.1 1.4 3.1 1.4 7.7 1.4 9.2 1.4 8.1 1.4 7.1.3.2"/>
<path d="M395.8 480l1.4-4.2 1.4-2 1.4-7.9 1.4-10.5 1.4-7.3 1.4-9.6 1.4-4.3 1.4 10 1.4 7.6 1.4 5 1.4-6.4 1.4-2.1 1.4-2.8 1.4 1.1 1.4-2.8 1.4 0 1.4 2 1.4-.4 1.4 2.4 1.4 2.3 1.4 1.9 1.4 1.4 1.4 6.1 1.4 3.5 1.4 2.3 1.4 5.8 1.4 2.6 1.4-2.1 1.4.6 1.4-.1 1.4-4.8 1.4-.6 1.4-.6 1.4-5 1.4-2 1.4-3.8 1.4 1.2 1.4 2.7 1.4 3.5 1.4 4.2 1.4 3.7 1.4.4 1.4-.1 1.4.3 1.4 1.2 1.4.5 1.4-.7 1.4-3.2 1.4-5.5 1.4.5 1.4-.1 1.4-4 1.4-3.5 1.4-1.1 1.4 2.8 1.4-.4 1.4-8.1 1.4-3.9 1.4 9 1.4 12.5 1.4 1.3 1.4 2.6 1.4 2.4 1.4 3.6.3.2"/>
</g>
</g>
<rect x="364.10" y="422.20" width="130.30" height="66.20" fill="none" stroke="#9a9a9a" stroke-width="0.9"/>
<line x1="361.60" y1="485.00" x2="364.10" y2="485.00" stroke="#333" stroke-width="0.6"/>
<text x="360.30" y="488.00" font-size="8.4" text-anchor="end" fill="#333" stroke="#333" stroke-width="0.06">0</text>
<line x1="361.60" y1="471.80" x2="364.10" y2="471.80" stroke="#333" stroke-width="0.6"/>
<text x="360.30" y="474.80" font-size="8.4" text-anchor="end" fill="#333" stroke="#333" stroke-width="0.06">10</text>
<line x1="361.60" y1="458.30" x2="364.10" y2="458.30" stroke="#333" stroke-width="0.6"/>
<text x="360.30" y="461.30" font-size="8.4" text-anchor="end" fill="#333" stroke="#333" stroke-width="0.06">20</text>
<line x1="361.60" y1="444.60" x2="364.10" y2="444.60" stroke="#333" stroke-width="0.6"/>
<text x="360.30" y="447.60" font-size="8.4" text-anchor="end" fill="#333" stroke="#333" stroke-width="0.06">30</text>
<line x1="361.60" y1="430.70" x2="364.10" y2="430.70" stroke="#333" stroke-width="0.6"/>
<text x="360.30" y="433.70" font-size="8.4" text-anchor="end" fill="#333" stroke="#333" stroke-width="0.06">40</text>
<line x1="369.80" y1="488.40" x2="369.80" y2="490.90" stroke="#333" stroke-width="0.6"/>
<line x1="395.80" y1="488.40" x2="395.80" y2="490.90" stroke="#333" stroke-width="0.6"/>
<line x1="421.30" y1="488.40" x2="421.30" y2="490.90" stroke="#333" stroke-width="0.6"/>
<line x1="446.90" y1="488.40" x2="446.90" y2="490.90" stroke="#333" stroke-width="0.6"/>
<line x1="472.40" y1="488.40" x2="472.40" y2="490.90" stroke="#333" stroke-width="0.6"/>
<text x="371.4" y="432.4" font-size="9.8" stroke="#000" stroke-width="0.06"><tspan font-style="italic">Th. elongatum:</tspan>chr3E</text>
<text x="369.30" y="498.20" font-size="8.4" text-anchor="middle" fill="#333" stroke="#333" stroke-width="0.06">450</text>
<text x="395.30" y="498.20" font-size="8.4" text-anchor="middle" fill="#333" stroke="#333" stroke-width="0.06">500</text>
<text x="420.80" y="498.20" font-size="8.4" text-anchor="middle" fill="#333" stroke="#333" stroke-width="0.06">550</text>
<text x="446.40" y="498.20" font-size="8.4" text-anchor="middle" fill="#333" stroke="#333" stroke-width="0.06">600</text>
<text x="463.70" y="498.20" font-size="8.4" text-anchor="start" fill="#333" stroke="#333" stroke-width="0.06">650Mb</text>
<text x="426.9" y="512.3" font-size="9.8" text-anchor="middle" stroke="#000" stroke-width="0.06">CS+<tspan font-style="italic">Th. elongatum</tspan></text>
<polyline points="395.5,345.7 395.5,412.0" fill="none" stroke="#d9434a" stroke-width="1.1" stroke-dasharray="2.6,1.8"/>
<polyline points="395.5,422.2 395.5,488.4" fill="none" stroke="#d9434a" stroke-width="1.1" stroke-dasharray="2.6,1.8"/>
<polyline points="454.6,345.7 454.6,412.0 485.7,422.2 485.7,488.4" fill="none" stroke="#d9434a" stroke-width="1.1" stroke-dasharray="2.6,1.8"/>
<defs><clipPath id="cd8"><rect x="534.0" y="346.3" width="130.5" height="65.5"/></clipPath></defs>
<rect x="534.00" y="346.30" width="130.50" height="65.50" fill="#fff"/>
<line x1="534.00" y1="408.40" x2="664.50" y2="408.40" stroke="#ebebeb" stroke-width="0.6"/>
<line x1="534.00" y1="390.60" x2="664.50" y2="390.60" stroke="#ebebeb" stroke-width="0.6"/>
<line x1="534.00" y1="372.70" x2="664.50" y2="372.70" stroke="#ebebeb" stroke-width="0.6"/>
<line x1="534.00" y1="354.30" x2="664.50" y2="354.30" stroke="#ebebeb" stroke-width="0.6"/>
<line x1="535.10" y1="346.30" x2="535.10" y2="411.80" stroke="#ebebeb" stroke-width="0.6"/>
<line x1="559.60" y1="346.30" x2="559.60" y2="411.80" stroke="#ebebeb" stroke-width="0.6"/>
<line x1="584.20" y1="346.30" x2="584.20" y2="411.80" stroke="#ebebeb" stroke-width="0.6"/>
<line x1="608.70" y1="346.30" x2="608.70" y2="411.80" stroke="#ebebeb" stroke-width="0.6"/>
<line x1="633.20" y1="346.30" x2="633.20" y2="411.80" stroke="#ebebeb" stroke-width="0.6"/>
<line x1="658.30" y1="346.30" x2="658.30" y2="411.80" stroke="#ebebeb" stroke-width="0.6"/>
<g clip-path="url(#cd8)">
<path d="M540.2 377.2l1.4-.3 1.4.7 1.4.5 1.4-.4 1.4.7 1.4-.2 1.4.1 1.4.2 1.4.3 1.4-.8 1.4.4 1.4-.4 1.4-.4 1.4.2 1.4-.4 1.4-.7 1.4-.2 1.4-.7 1.4-1.4 1.4.1 1.4-1.1 1.4-.4 1.4-1.2 1.4-1.5 1.4-1.4 1.4-.4 1.4-1 1.4-1.5 1.4-1.7 1.4 1.2 1.4.8 1.4.9 1.4 1 1.4.8 1.4.6 1.4.5 1.4.5 1.4 0 1.4.3 1.4-.2 1.4.4 1.4.3 1.4.8 1.4 1 1.4-.2 1.4.1 1.4-.4 1.4-1.4 1.4-.3 1.4-1 1.4-.9 1.4-.8 1.4.9 1.4 1.4 1.4 2.4 1.4 2.2 1.4 2.1 1.4 1 1.4.8 1.4 1.8 1.4 2.7 1.4 3.6 1.4-6.7 1.4-6.1 1.4-.4 1.4 2 1.4 0 1.4-2 1.4-1.3 1.4 2 1.4 1.1 1.4.8 1.4-2.2 1.4-1.4 1.4-1.4 1.4-3.4 1.4-3.1 1.4-2.1 1.4-2.6 1.4-3.3 1.4-.8 1.4 1.3 1.4-.1 1.4.4.5 0 0 26.5-.5-.9-1.4-2.9-1.4-2.4-1.4-3.8-1.4-1.1-1.4 2.5-1.4 2-1.4 1.6-1.4 3.1-1.4 3.4-1.4 1.4-1.4 1.4-1.4 2.2-1.4.4-1.4 1-1.4.1-1.4 1.4-1.4 1.2-1.4.2-1.4-.1-1.4.9-1.4 2.4-1.4 3.1-1.4-3.6-1.4-2.7-1.4-2.4-1.4-1.5-1.4-1.6-1.4-1.3-1.4-1.1-1.4-1.4-1.4-1.8-1.4-1.4-1.4.7-1.4 1-1.4.7-1.4 0-1.4 1-1.4.1-1.4-.5-1.4-.2-1.4-1-1.4-.8-1.4-.4-1.4.3-1.4.9-1.4.4-1.4.7-1.4.2-1.4.2-1.4.1-1.4-.1-1.4-.3-1.4-.2-1.4-.1-1.4-.7-1.4 1.4-1.4 1.2-1.4.8-1.4.1-1.4 1.1-1.4 1.2-1.4 1-1.4-.6-1.4.1-1.4-1.1-1.4.5-1.4-.3-1.4-.7-1.4-.4-1.4.1-1.4 0-1.4.5-1.4.6-1.4-.3-1.4.9-1.4-.1-1.4 0-1.4.2-1.4.4-1.4-.5-1.4.7-1.4-.1-1.4-.5-1.4.6z" fill="#efefef" fill-opacity="1.0" stroke="none"/>
<path d="M540.2 380.7l1.4-.3 1.4.7 1.4.3 1.4-.4 1.4.7 1.4-.3 1.4 0 1.4.2 1.4.2 1.4-.8 1.4.4 1.4-.5 1.4-.4 1.4.1 1.4-.3 1.4-.4 1.4 0 1.4-.4 1.4-1.2 1.4.3 1.4-.8 1.4-.2 1.4-1.2 1.4-1.3 1.4-1.4 1.4-.3 1.4-1 1.4-1.4 1.4-1.6 1.4 1.1 1.4.6 1.4.8 1.4.7 1.4.7 1.4.4 1.4.3 1.4.4 1.4-.2 1.4.1 1.4-.3 1.4.1 1.4.4 1.4.8 1.4.9 1.4-.1 1.4.3 1.4-.4 1.4-1.2 1.4-.3 1.4-.9 1.4-.9 1.4-.8 1.4 1.1 1.4 1.4 1.4 2.2 1.4 1.9 1.4 1.9 1.4 1.2 1.4.9 1.4 2 1.4 2.6 1.4 3.7 1.4-5.8 1.4-5.2 1.4-.5 1.4 1.5 1.4 0 1.4-1.9 1.4-1.3 1.4 1.5 1.4.6 1.4.5 1.4-2.2 1.4-1.4 1.4-1.5 1.4-3.3 1.4-3.2 1.4-1.9 1.4-2.5 1.4-3.1 1.4-.3 1.4 1.9 1.4.6 1.4 1 .5.2 0 18.6-.5-.9-1.4-2.7-1.4-2.3-1.4-3.7-1.4-1.1-1.4 2.6-1.4 2-1.4 1.7-1.4 3.1-1.4 3.4-1.4 1.4-1.4 1.4-1.4 2.2-1.4.3-1.4.9-1.4 0-1.4 1.4-1.4 1.2-1.4.3-1.4-.3-1.4.9-1.4 2.6-1.4 3.3-1.4-3.6-1.4-2.7-1.4-2.4-1.4-1.4-1.4-1.7-1.4-1.2-1.4-1.2-1.4-1.5-1.4-1.7-1.4-1.4-1.4.7-1.4.9-1.4.7-1.4.1-1.4 1-1.4.1-1.4-.5-1.4-.1-1.4-1.1-1.4-.7-1.4-.4-1.4.3-1.4.8-1.4.4-1.4.7-1.4.1-1.4.2-1.4.1-1.4-.2-1.4-.3-1.4-.3-1.4-.1-1.4-.8-1.4 1.5-1.4 1.2-1.4.8-1.4.1-1.4 1.2-1.4 1.1-1.4 1-1.4-.5-1.4.2-1.4-1-1.4.5-1.4-.3-1.4-.7-1.4-.3-1.4.1-1.4 0-1.4.5-1.4.6-1.4-.3-1.4.9-1.4-.1-1.4 0-1.4.1-1.4.5-1.4-.5-1.4.7-1.4-.2-1.4-.5-1.4.5z" fill="#e4e4e4" fill-opacity="1.0" stroke="none"/>
<g fill="none" stroke="#c4c4c4" stroke-width="0.4" stroke-opacity="0.3" stroke-linejoin="round">
<path d="M540.2 388.6l1.4.6 1.4-3.1 1.4 2.4 1.4-2.7 1.4 3.7 1.4-2.4 1.4.7 1.4.9 1.4-.8 1.4-1.5 1.4-1.2 1.4-.1 1.4 1.7 1.4.6 1.4-.9 1.4-2.1 1.4 4.2 1.4.9 1.4-.9 1.4 1.1 1.4-.9 1.4-1.3 1.4-.9 1.4-2.4 1.4 1.9 1.4-1.6 1.4 2.8 1.4-5.5 1.4-1.4 1.4.3 1.4 1.7 1.4 4 1.4.7 1.4.2 1.4-4.7 1.4 3.5 1.4-.6 1.4-1.7 1.4 1.5 1.4-.9 1.4-1.7 1.4 1.6 1.4.1 1.4 1.5 1.4.2 1.4.6 1.4-2.3 1.4 1.1 1.4-.9 1.4 0 1.4-2.4 1.4 1 1.4-.9 1.4 1.8 1.4 2.7 1.4 2.5 1.4 1.3 1.4 1.4 1.4-.8 1.4 4.2 1.4 2.9 1.4 4.2 1.4-3.9 1.4-5 1.4 1.1 1.4 1.5 1.4 0 1.4-1.3 1.4-3.8 1.4 1.9 1.4-1.6 1.4-.6 1.4-1.5 1.4-2.3 1.4-3.5 1.4-.6 1.4-3.7 1.4-4.4 1.4.2 1.4-.9 1.4-.8 1.4 4.2 1.4.1 1.4 1.7.5 5.9"/>
<path d="M540.2 379.4l1.4-.5 1.4 2.5 1.4-3 1.4-1 1.4 1.8 1.4-.5 1.4 2.6 1.4-2.8 1.4 1.8 1.4 1.1 1.4-1.7 1.4-.4 1.4-.5 1.4 0 1.4-.3 1.4 2 1.4-3.6 1.4-.2 1.4 2.4 1.4.7 1.4-2.8 1.4.6 1.4-1.2 1.4-2.8 1.4-.2 1.4-.1 1.4 1 1.4-3.4 1.4.1 1.4-2.1 1.4 7.3 1.4-5.6 1.4 4.1 1.4.1 1.4-1.1 1.4 5 1.4-2.4 1.4-1.6 1.4 1.1 1.4-1 1.4 1.9 1.4 2.3 1.4.7 1.4-1.9 1.4 2.1 1.4-.2 1.4.6 1.4-4.5 1.4-.5 1.4-.6 1.4 3.2 1.4-5.2 1.4 1 1.4 4.1 1.4 0 1.4 2.5 1.4 5.3 1.4-2.4 1.4 3.4 1.4 2.7 1.4.5 1.4 4.1 1.4-7 1.4-3.7 1.4.7 1.4 1.3 1.4-.3 1.4-3.1 1.4 1.8 1.4-1.6 1.4-.5 1.4 1.1 1.4-.9 1.4-2.8 1.4-.4 1.4-3.4 1.4-5.9 1.4.4 1.4-5.9 1.4-1.4 1.4-.7 1.4 1.7 1.4-1.9 1.4 6.4.5-4.3"/>
<path d="M540.2 383.8l1.4-.2 1.4-.1 1.4-.5 1.4 1.5 1.4-.6 1.4.2 1.4-1.6 1.4-1.7 1.4 2.1 1.4-4.6 1.4 2.6 1.4-1.3 1.4-2.5 1.4 1.1 1.4.6 1.4-2.2 1.4 0 1.4 2.4 1.4.6 1.4-.9 1.4 2 1.4-2.5 1.4-3.2 1.4-.4 1.4 1.2 1.4 4 1.4-.5 1.4.3 1.4-3.9 1.4 3.3 1.4-.6 1.4-1.5 1.4 3.4 1.4-1 1.4 3.2 1.4-.3 1.4-3.1 1.4-1.1 1.4.6 1.4-2.1 1.4.6 1.4 3.1 1.4.2 1.4-1.3 1.4 1.4 1.4-3.4 1.4 2.8 1.4-4.2 1.4-.4 1.4-3.1 1.4-2.9 1.4 1.5 1.4 1.2 1.4 1.8 1.4 2.6 1.4 2.7 1.4-2 1.4 3.8 1.4-2.2 1.4 6.1 1.4 1.2 1.4 2 1.4-3.9 1.4-.8 1.4.3 1.4 2.3 1.4-1.9 1.4.2 1.4-1 1.4.7 1.4 1.9 1.4-2.2 1.4-1.9 1.4.8 1.4 0 1.4-2.4 1.4-8 1.4 3.6 1.4-6 1.4-3 1.4 2 1.4 5.1 1.4-5.7 1.4 2.3.5 4.8"/>
<path d="M540.2 389.4l1.4.2 1.4-.7 1.4 1.6 1.4.1 1.4 1.3 1.4-.5 1.4-.3 1.4-.9 1.4 1.3 1.4-1.9 1.4.2 1.4-.6 1.4.2 1.4.2 1.4-.1 1.4.5 1.4.7 1.4.7 1.4-.9 1.4 1.7 1.4-.3 1.4.8 1.4-3.2 1.4.8 1.4-1.3 1.4.4 1.4-3.1 1.4.9 1.4-3.7 1.4-.5 1.4 3.5 1.4-.4 1.4.6 1.4.6 1.4-3.8 1.4.5 1.4-3.1 1.4 2.2 1.4.4 1.4-3 1.4-2 1.4 2.9 1.4-.8 1.4.2 1.4 2.3 1.4-1.3 1.4-.1 1.4-1.2 1.4-.9 1.4.1 1.4-3.1 1.4-1.2 1.4 2.3 1.4 3.7 1.4-.7 1.4 1 1.4 2.1 1.4 1.5 1.4-.2 1.4 3.9 1.4 3.2 1.4 6.5 1.4-10 1.4-2.5 1.4-1.5 1.4 2.9 1.4 3.5 1.4-6.1 1.4 1 1.4.6 1.4 2.1 1.4-1 1.4-.1 1.4-1.9 1.4-.4 1.4-4.1 1.4-6.6 1.4-.9 1.4 3 1.4-7.1 1.4.1 1.4 8.1 1.4 2.2 1.4-.7.5 3.3"/>
<path d="M540.2 382.4l1.4-2.3 1.4 3.7 1.4 1.2 1.4-5.4 1.4 4.5 1.4-.6 1.4-2 1.4 1.6 1.4-.6 1.4 1.3 1.4-1.4 1.4.7 1.4-2 1.4 2.9 1.4-2.8 1.4 3.2 1.4-3.1 1.4 1.1 1.4.3 1.4-.4 1.4 1.6 1.4-3.5 1.4 4.4 1.4-4.6 1.4 1.3 1.4-4.7 1.4.9 1.4-.9 1.4 1.4 1.4 1.7 1.4-3.9 1.4.7 1.4.4 1.4-1.3 1.4.5 1.4 3.4 1.4-3.4 1.4 3.3 1.4-2 1.4-1.8 1.4.7 1.4-.8 1.4 2.9 1.4-.5 1.4 1.3 1.4-.4 1.4.2 1.4-4.4 1.4 3.1 1.4-3.9 1.4 0 1.4 1.8 1.4 1.2 1.4-.8 1.4 1.7 1.4 2.1 1.4 2.4 1.4 2.3 1.4-2.7 1.4.5 1.4 5.3 1.4 3.1 1.4-5.3 1.4-4.9 1.4-3.5 1.4 3.3 1.4 3.8 1.4-4.1 1.4-.8 1.4 1.1 1.4-1.5 1.4.2 1.4-.3 1.4-3.4 1.4 1.3 1.4-1.9 1.4-7.8 1.4 3 1.4-3.5 1.4-.9 1.4-3.8 1.4 2.8 1.4-.9 1.4 6.6.5-6.2"/>
<path d="M540.2 384.4l1.4-1 1.4-.9 1.4 1.9 1.4-.2 1.4-2.2 1.4-2.1 1.4-.3 1.4.6 1.4-.3 1.4-1.9 1.4 1.2 1.4.5 1.4-2.1 1.4-.4 1.4-.5 1.4-.6 1.4 1 1.4-1.7 1.4-2 1.4 1.3 1.4-1.7 1.4-.6 1.4.8 1.4-3.3 1.4 1.7 1.4-3.7 1.4 2.5 1.4 2.5 1.4-7 1.4 7.9 1.4-1.3 1.4 1 1.4-.3 1.4 3.1 1.4-1.8 1.4.3 1.4.2 1.4.2 1.4 2.3 1.4-1.8 1.4 2 1.4-3.1 1.4.6 1.4 3 1.4-1.6 1.4-2.5 1.4 1 1.4-3.7 1.4 2.7 1.4-3 1.4-1.6 1.4-2.2 1.4 2.2 1.4 1.1 1.4 1.9 1.4 2.3 1.4 2.6 1.4.3 1.4.4 1.4 1.9 1.4 2.5 1.4 5.3 1.4-8.3 1.4-1.5 1.4-4.5 1.4 5.7 1.4-.2 1.4 3.5 1.4-4 1.4.5 1.4 1 1.4 1.6 1.4-.7 1.4-2.8 1.4 2.6 1.4-4.7 1.4-6.5 1.4-2.5 1.4-2.4 1.4-1.6 1.4-2.2 1.4 2.8 1.4-.7 1.4 4.5.5-7.1"/>
<path d="M540.2 390l1.4-1.1 1.4 2.2 1.4-1.7 1.4-3.3 1.4 1.6 1.4 2.6 1.4-4.6 1.4 2.9 1.4 1.6 1.4-3.2 1.4 1.2 1.4-.4 1.4-2.1 1.4 2 1.4 1.8 1.4-1 1.4.4 1.4 2.5 1.4-.9 1.4 1.7 1.4-.3 1.4.7 1.4-1 1.4-1.3 1.4-1.9 1.4 1 1.4-.7 1.4-1.5 1.4-1.8 1.4.1 1.4.1 1.4 1.3 1.4.2 1.4.2 1.4-2.4 1.4-.1 1.4 1.6 1.4-2.7 1.4-2.3 1.4 3 1.4-1.7 1.4-.2 1.4.8 1.4 1.1 1.4-.4 1.4-2.2 1.4-.7 1.4-1.3 1.4 4.4 1.4-4.7 1.4.1 1.4 2.9 1.4-1.7 1.4 4.6 1.4-.7 1.4 1.5 1.4 3.8 1.4 2 1.4-.7 1.4 4.4 1.4 2.6 1.4 4.2 1.4-3.3 1.4-2.7 1.4-.4 1.4.1 1.4 0 1.4-1.3 1.4-1.9 1.4-.9 1.4-1.5 1.4 1.4 1.4-2.7 1.4-1.5 1.4-3.5 1.4-2.2 1.4-2.3 1.4-4.9 1.4 2 1.4-5.3 1.4 2.8 1.4-2 1.4 3 1.4.4.5 3.1"/>
<path d="M540.2 392.4l1.4-2.1 1.4-.9 1.4 3.1 1.4-1.1 1.4-2.9 1.4-.9 1.4 2.2 1.4-2.8 1.4 0 1.4-.5 1.4 1.4 1.4-4.2 1.4 1.1 1.4-2 1.4 2.3 1.4-2.9 1.4 2.5 1.4-1.2 1.4-1 1.4 3.3 1.4-6.2 1.4 5.7 1.4-4.6 1.4 1.1 1.4-3.7 1.4.7 1.4-.9 1.4.9 1.4-4.3 1.4 6.4 1.4.9 1.4 1.1 1.4-2.7 1.4 4.2 1.4.5 1.4.4 1.4-2.9 1.4 2 1.4-1 1.4 1 1.4-.2 1.4-1.2 1.4 1.1 1.4 1.7 1.4.7 1.4.6 1.4-.2 1.4-2.5 1.4 0 1.4-.6 1.4.1 1.4-.7 1.4 1.3 1.4 2.2 1.4.8 1.4-.2 1.4.9 1.4.6 1.4.9 1.4 1.1 1.4 2.7 1.4 4.9 1.4-7.2 1.4-1.7 1.4 1.3 1.4-1.2 1.4-4.6 1.4-1.6 1.4 4 1.4-4.9 1.4 4 1.4-2.3 1.4-2.9 1.4-3.4 1.4 2 1.4-5.2 1.4-4.5 1.4-1.1 1.4-1.2 1.4-2.7 1.4 4 1.4 4.5 1.4-5.3 1.4 6.1.5 3.6"/>
<path d="M540.2 377.4l1.4-1.3 1.4 1 1.4.6 1.4-.8 1.4 1.1 1.4-.5 1.4 1.4 1.4-1.1 1.4 1.5 1.4-1.6 1.4.3 1.4-.7 1.4-.5 1.4.4 1.4.3 1.4-.2 1.4-.5 1.4-1.4 1.4-2 1.4.6 1.4.5 1.4-1.5 1.4-.2 1.4-3.4 1.4 2 1.4-3.5 1.4-.3 1.4-1.2 1.4 1.3 1.4 1.5 1.4 1.3 1.4-1.7 1.4 5.3 1.4-2.8 1.4-1.6 1.4 3.1 1.4 1.9 1.4-3.7 1.4 2 1.4-1.8 1.4 1 1.4.3 1.4-.8 1.4 1.2 1.4-.4 1.4.3 1.4-.1 1.4-1.8 1.4-.7 1.4-1 1.4-1 1.4-.9 1.4.9 1.4 1.6 1.4 2.7 1.4 3.4 1.4 1.2 1.4 2 1.4-1 1.4 2.1 1.4 2.3 1.4 7.2 1.4-10.2 1.4-.3 1.4-5.3 1.4 6.7 1.4 1 1.4-6.8 1.4-1.6 1.4 2.3 1.4 0 1.4 5.6 1.4-6.4 1.4-2.4 1.4 1.5 1.4-2.3 1.4-6.3 1.4-2.7 1.4-.3 1.4-3.3 1.4-3.7 1.4 3.1 1.4-1.8 1.4 1 .5.1"/>
<path d="M540.2 379.2l1.4-2.3 1.4 4.5 1.4-2.8 1.4 2 1.4 1.8 1.4-1.1 1.4.9 1.4-1.6 1.4.2 1.4 1.2 1.4.5 1.4-.6 1.4.9 1.4 1.2 1.4-.2 1.4.4 1.4 1.7 1.4-.4 1.4 0 1.4-3.4 1.4.6 1.4-2.1 1.4 4.5 1.4-2.6 1.4-5.7 1.4 1.1 1.4 1.9 1.4-2.7 1.4-2.8 1.4-1.5 1.4 1.6 1.4-3.3 1.4 3.9 1.4-3.7 1.4.6 1.4 1.6 1.4-1.9 1.4 2.8 1.4-2.7 1.4-1.5 1.4 1.4 1.4 1.2 1.4.2 1.4 1.2 1.4-.6 1.4 2.5 1.4-.7 1.4-5 1.4 3.7 1.4-4.9 1.4-.6 1.4-.6 1.4 3 1.4 2.1 1.4 1.3 1.4 5.8 1.4.4 1.4 2.4 1.4.9 1.4 4.7 1.4 1.7 1.4 6.5 1.4-9 1.4-5 1.4 4.8 1.4.6 1.4 1.9 1.4-7.5 1.4 3.4 1.4-2.3 1.4-1.9 1.4 3.1 1.4-5.6 1.4 1.7 1.4-3 1.4-4.2 1.4-.9 1.4-3 1.4-5.2 1.4-2.1 1.4-2.6 1.4 2.6 1.4-4.2 1.4 2.3.5 1.4"/>
<path d="M540.2 386.1l1.4-2.6 1.4 1.1 1.4 3.5 1.4-1.2 1.4-1.8 1.4.8 1.4-1.9 1.4 1.4 1.4 1.8 1.4-1.8 1.4 1.8 1.4-2.5 1.4 1.3 1.4-1.7 1.4-1 1.4 2.8 1.4-2.6 1.4-.1 1.4 1.8 1.4 2.5 1.4-4.4 1.4-1.4 1.4-.9 1.4-2.6 1.4 3.6 1.4.2 1.4-.7 1.4-5.5 1.4-.1 1.4-.6 1.4-1.3 1.4.1 1.4 6 1.4.8 1.4-5.5 1.4 2.5 1.4.2 1.4-2 1.4-.8 1.4 3.5 1.4-2.9 1.4 2.2 1.4.2 1.4 1.4 1.4-3.7 1.4 0 1.4-.1 1.4 1.1 1.4-1.2 1.4-1.7 1.4-.6 1.4-.3 1.4-2.1 1.4 2.3 1.4 3.8 1.4 3 1.4-1.6 1.4 3.3 1.4-.6 1.4 2.1 1.4 3.2 1.4 3.5 1.4-8.3 1.4-2 1.4-5.4 1.4 2.7 1.4 2.3 1.4-5.2 1.4 4.5 1.4-1.8 1.4-.1 1.4 4.3 1.4-3.5 1.4-4.3 1.4 3.1 1.4-5.5 1.4-3.2 1.4-4 1.4 1 1.4-5.2 1.4 1.7 1.4-.2 1.4-2.7 1.4 4.3.5-1.5"/>
<path d="M540.2 387.4l1.4-3 1.4 2.4 1.4 1.8 1.4-3.2 1.4 1.3 1.4-3.6 1.4 2.7 1.4-3.6 1.4.2 1.4-.1 1.4 2.6 1.4-4.1 1.4.8 1.4-1.9 1.4-.2 1.4-1.6 1.4 0 1.4.6 1.4-1.6 1.4 2.9 1.4-5 1.4-1.5 1.4 2.8 1.4.8 1.4-6.2 1.4.3 1.4 2.4 1.4-3.7 1.4.1 1.4.9 1.4 5.9 1.4-.2 1.4-.1 1.4-.4 1.4 1 1.4.3 1.4 1.2 1.4.9 1.4.5 1.4-1.2 1.4-1.1 1.4 2.8 1.4-1.1 1.4 4.1 1.4-1.9 1.4 1.5 1.4-1.4 1.4-3.7 1.4.5 1.4 2.5 1.4-3.8 1.4-3.7 1.4 5.4 1.4.8 1.4 1.2 1.4-1.6 1.4 3.6 1.4.9 1.4-3 1.4 3.1 1.4 3.9 1.4 3 1.4-6.7 1.4-9.1 1.4 3.6 1.4 1.3 1.4-2 1.4-2.9 1.4 3.3 1.4-.4 1.4 3.6 1.4-3.1 1.4-1.1 1.4 1.4 1.4-.3 1.4-6.1 1.4-.9 1.4-3.7 1.4.1 1.4-.7 1.4-.9 1.4 5.6 1.4 1.2 1.4-1.3.5 7.1"/>
</g>
<g fill="none" stroke="#c8323a" stroke-width="0.38" stroke-opacity="0.42" stroke-linejoin="round">
<path d="M540.2 384.1l1.4-.5 1.4 2.9 1.4-.4 1.4-.7 1.4-1.4 1.4 3 1.4-2.5 1.4-1.2 1.4 2 1.4-3.4 1.4-1.3 1.4 1.5 1.4-.2 1.4 1.1 1.4-.9 1.4.3 1.4-2.3 1.4.1 1.4-2.8 1.4-.7 1.4 1.6 1.4.5 1.4-.2 1.4.4 1.4-2.3 1.4-1.7 1.4-5.8 1.4-.7 1.4-.6 1.4 1.7 1.4.8 1.4 1 1.4 3 1.4 3.3 1.4-2.6 1.4-2.7 1.4.9 1.4-3.2 1.4.8 1.4.1 1.4.4 1.4 4.2 1.4 3.6 1.4 7.3 1.4 6.7 1.4 8.1 1.4 3.1 1.4 1.1 1.4-2.2 1.4-.2 1.4-.6 1.4.7 1.4 0 1.4.7 1.4.9 1.4.4 1.4.9 1.4.3 1.4-1.3 1.4.7 1.4 1.3 1.4-.6 1.4-.5 1.4-2 1.4-1 1.4-.7 1.4-3.5 1.4-.4 1.4-2.6 1.4-1.2 1.4-3.9 1.4-.9 1.4.5 1.4-3.8 1.4-4.8 1.4-3.4 1.4-7.6 1.4-2.8 1.4-3 1.4.2 1.4-6 1.4 8.2 1.4 1.4 1.4-5.9.5 4.1"/>
<path d="M540.2 392.1l1.4 0 1.4-2.3 1.4 1.6 1.4-.6 1.4-1.1 1.4 1.2 1.4-.7 1.4-2.3 1.4.4 1.4-3.1 1.4-2.1 1.4 1.3 1.4 1 1.4-.2 1.4-.4 1.4 1.5 1.4-1.8 1.4-.1 1.4-.1 1.4-2 1.4.7 1.4 2.7 1.4-2.6 1.4 2.5 1.4-.8 1.4-3.7 1.4-5 1.4.3 1.4-.4 1.4-2.1 1.4 1.3 1.4 2.9 1.4.5 1.4 1.3 1.4-.2 1.4-2 1.4-1.3 1.4-1.9 1.4-.7 1.4-.4 1.4 2 1.4 3.1 1.4 4.9 1.4 5.4 1.4 8.1 1.4 5.6 1.4 2.2 1.4 1.5 1.4-2.2 1.4-.9 1.4.3 1.4.2 1.4 1.2 1.4 1 1.4-.6 1.4.9 1.4.2 1.4 0 1.4-1.2 1.4 1.6 1.4.3 1.4.3 1.4-.7 1.4-1.3 1.4-2.1 1.4-1 1.4-.4 1.4.3 1.4-2.7 1.4-.8 1.4-1.4 1.4-3.7 1.4-3.1 1.4-1.6 1.4-2.4 1.4-6 1.4-.4 1.4-4.4 1.4-3.4 1.4-2.7 1.4-.8 1.4 4.3 1.4 2.8 1.4 4.4.5 5"/>
<path d="M540.2 376.7l1.4 4.5 1.4-4.1 1.4 3.9 1.4-.6 1.4 1.1 1.4 1.5 1.4.1 1.4-2.4 1.4.2 1.4-2.1 1.4.1 1.4.6 1.4.4 1.4-.4 1.4 0 1.4 1.2 1.4-1.7 1.4.1 1.4-2.5 1.4.3 1.4-.2 1.4.5 1.4 3 1.4 1.1 1.4-2.7 1.4.3 1.4-8.3 1.4.3 1.4-.5 1.4-.5 1.4 3.6 1.4.9 1.4 1.9 1.4 2.3 1.4-1 1.4-1.3 1.4-1.8 1.4-2.4 1.4-.4 1.4.7 1.4-.2 1.4 2.6 1.4 7.5 1.4 3.9 1.4 8.2 1.4 6.1 1.4 3.5 1.4 1.6 1.4-1.8 1.4-1.1 1.4-.3 1.4.2 1.4-.3 1.4 1.2 1.4.7 1.4 1 1.4.7 1.4-.6 1.4-.7 1.4.4 1.4.5 1.4.8 1.4-1.7 1.4-1.9 1.4-.7 1.4-3.6 1.4-.4 1.4-3 1.4-1.7 1.4-2.1 1.4-2.1 1.4-2.3 1.4-1.8 1.4-5.2 1.4-2.4 1.4-4.4 1.4-5.4 1.4-4.3 1.4-4.8 1.4-3 1.4-1.8 1.4.6 1.4 1 1.4.5.5 4.3"/>
<path d="M540.2 383.7l1.4 1.1 1.4-3.1 1.4 2.2 1.4 2.3 1.4-2.8 1.4 3.7 1.4-2.4 1.4-1.4 1.4 1.9 1.4-4.8 1.4-.3 1.4-.5 1.4 1.8 1.4-.5 1.4-2 1.4-.3 1.4 0 1.4-2.9 1.4-.6 1.4-.9 1.4-.6 1.4.2 1.4.1 1.4 1.5 1.4-1.8 1.4-2 1.4-5 1.4-1.3 1.4-.4 1.4.3 1.4 2.5 1.4 3.4 1.4 1.6 1.4 2.6 1.4 0 1.4-3 1.4-.7 1.4 1.1 1.4-2.4 1.4 2.3 1.4-1 1.4 3.1 1.4 7.8 1.4 3 1.4 9.7 1.4 5.5 1.4 3.6 1.4 1 1.4-2 1.4-.9 1.4.6 1.4.3 1.4-.1 1.4-.2 1.4 1.2 1.4-.1 1.4.6 1.4-.5 1.4-1.1 1.4 1.2 1.4 1.3 1.4.3 1.4-1.5 1.4-2.2 1.4-2.2 1.4-2.4 1.4-1.7 1.4-2.6 1.4-2.5 1.4-1.6 1.4-1.6 1.4.7 1.4-4.1 1.4-3.5 1.4-1.8 1.4-6.1 1.4 0 1.4-2.8 1.4-8.5 1.4 4.5 1.4-1.6 1.4 2.1 1.4-1.7 1.4 7.8.5 2.2"/>
<path d="M540.2 389.3l1.4-2.3 1.4-.4 1.4-.1 1.4 2.5 1.4-.5 1.4-1.1 1.4.1 1.4.3 1.4-1.6 1.4-1.6 1.4-2.3 1.4 1.9 1.4.4 1.4 1.4 1.4-.4 1.4.7 1.4-2.4 1.4.7 1.4-.3 1.4-.3 1.4-.4 1.4 2.6 1.4-.5 1.4 1.1 1.4-.7 1.4-2.2 1.4-4.7 1.4-2.6 1.4 0 1.4-1.4 1.4 1.6 1.4 1.5 1.4 2 1.4 2.1 1.4-1 1.4-2.2 1.4-1 1.4-1.7 1.4-.2 1.4 1.1 1.4-.3 1.4 2.4 1.4 4.4 1.4 6.1 1.4 7.8 1.4 6.7 1.4 1.6 1.4.9 1.4-1.9 1.4-.9 1.4.1 1.4.2 1.4-.3 1.4 1.3 1.4.8 1.4.6 1.4.5 1.4-.1 1.4-1.2 1.4.3 1.4 1 1.4 0 1.4-1.3 1.4-1.8 1.4-.7 1.4-1 1.4-3.4 1.4-.3 1.4-3.1 1.4 1.8 1.4-5.1 1.4.9 1.4-5.4 1.4-3 1.4-4.6 1.4-.4 1.4-5.3 1.4-5 1.4-2.1 1.4-.8 1.4-2.2 1.4 2.9 1.4 7.8 1.4-3.7.5 8.9"/>
<path d="M540.2 384.3l1.4 3.9 1.4-4.4 1.4 5 1.4.3 1.4-1.9 1.4.7 1.4 1.1 1.4-2.9 1.4.8 1.4-2.5 1.4-2 1.4.9 1.4 1.8 1.4-1.5 1.4.9 1.4-.1 1.4-2.1 1.4-1.8 1.4-.3 1.4-.8 1.4-1.2 1.4 4.2 1.4-1.7 1.4.5 1.4-2.2 1.4-2.7 1.4-6.7 1.4-.7 1.4 0 1.4.2 1.4.4 1.4 1.1 1.4 2.5 1.4 3.9 1.4-2.6 1.4-1.5 1.4-.8 1.4-.6 1.4.6 1.4.6 1.4.5 1.4 3.2 1.4 5.3 1.4 4.6 1.4 9.9 1.4 7 1.4 1.2 1.4 1.4 1.4-.9 1.4-1.1 1.4.7 1.4.5 1.4.1 1.4.2 1.4.1 1.4.5 1.4 1.3 1.4-.9 1.4.1 1.4.7 1.4.5 1.4-.3 1.4-.8 1.4-3.1 1.4-1.1 1.4-.9 1.4-.7 1.4-2.3 1.4-1.9 1.4-3.9 1.4-3.8 1.4.2 1.4-.9 1.4-5.5 1.4-5.3 1.4-.8 1.4-7.2 1.4-3 1.4-1.1 1.4-2.4 1.4-.2 1.4 1.6 1.4 7.2 1.4-.5.5.6"/>
<path d="M540.2 376.5l1.4 1 1.4 1.5 1.4.1 1.4 2.5 1.4-.9 1.4 1.1 1.4-1.3 1.4-1.3 1.4.9 1.4-2.6 1.4-1 1.4 1.2 1.4 1.8 1.4-.5 1.4-1.5 1.4-1.1 1.4-1.4 1.4.5 1.4-1.3 1.4-.3 1.4-.4 1.4.2 1.4 1.4 1.4.9 1.4 0 1.4-3.3 1.4-3.2 1.4-2.2 1.4-.4 1.4 1.2 1.4 2 1.4 2.1 1.4 2.1 1.4.3 1.4 1 1.4-3.7 1.4-2.2 1.4 0 1.4-2.6 1.4.9 1.4 2.6 1.4 3.7 1.4 3.8 1.4 6.1 1.4 7.4 1.4 6.8 1.4 4.3 1.4 1.5 1.4-2.3 1.4-1.6 1.4.5 1.4 1.3 1.4-.8 1.4 1.6 1.4-.2 1.4.2 1.4.6 1.4.1 1.4-.9 1.4 1.3 1.4 1.4 1.4-.5 1.4-1.1 1.4-1.9 1.4-1.5 1.4-2.8 1.4-2.6 1.4-1.7 1.4-1.8 1.4-.9 1.4-5.3 1.4-.8 1.4-4 1.4-1.2 1.4-3.6 1.4-3 1.4-4.2 1.4-4.6 1.4-1.7 1.4-2.8 1.4 1.9 1.4 2.4 1.4-5.6 1.4 6.6.5 4.3"/>
<path d="M540.2 389.3l1.4 2.8 1.4-3.5 1.4 1.7 1.4-.6 1.4-1.2 1.4 1.2 1.4-.2 1.4-1.1 1.4.3 1.4-4.9 1.4-.7 1.4.7 1.4 1.6 1.4.6 1.4-.4 1.4.2 1.4-.7 1.4-1.8 1.4-1.6 1.4 1.4 1.4-.6 1.4.4 1.4.9 1.4-.1 1.4 0 1.4-2.6 1.4-6.9 1.4-1 1.4-.6 1.4.1 1.4-.2 1.4 3.3 1.4 2 1.4-.2 1.4-1.1 1.4-.3 1.4-1.2 1.4-3.9 1.4-.9 1.4 1 1.4 1.9 1.4 2.3 1.4 5.3 1.4 4.5 1.4 9.3 1.4 7.7 1.4 1.6 1.4 1.8 1.4-2.5 1.4.2 1.4-.8 1.4.9 1.4.3 1.4.5 1.4.7 1.4.8 1.4.7 1.4-.4 1.4-.7 1.4 1.8 1.4.8 1.4-.9 1.4-.3 1.4-1.6 1.4-.9 1.4-.9 1.4-1.5 1.4 1 1.4-2 1.4-.3 1.4-1.8 1.4-.6 1.4-2.4 1.4-6.4 1.4-2.7 1.4-3 1.4-2.5 1.4-5.1 1.4-5.7 1.4.4 1.4 0 1.4 6.7 1.4-.1 1.4 5.5.5 2.5"/>
<path d="M540.2 380.8l1.4-1 1.4.8 1.4-.7 1.4 1.4 1.4-.2 1.4 2.5 1.4-.3 1.4-2.5 1.4-.3 1.4-1.5 1.4-2.2 1.4 3 1.4-.5 1.4-.4 1.4-1 1.4.7 1.4-2.4 1.4.2 1.4-.4 1.4-3.2 1.4 3.7 1.4-.7 1.4-2.9 1.4 3.4 1.4.4 1.4-5.7 1.4-2.1 1.4-5.2 1.4 2.8 1.4.6 1.4 2 1.4.6 1.4 1.6 1.4 2 1.4.6 1.4-3.4 1.4.4 1.4-3.8 1.4-.2 1.4 2.5 1.4-1.1 1.4 4.8 1.4 4.9 1.4 4.5 1.4 8.1 1.4 8.4 1.4 2.7 1.4 1.7 1.4-1.2 1.4-1.9 1.4-.1 1.4 1 1.4.6 1.4 1.1 1.4-.8 1.4 1 1.4.8 1.4-.6 1.4.1 1.4.6 1.4 1.3 1.4-.4 1.4-.8 1.4-2.8 1.4-1 1.4-2.7 1.4-2.5 1.4-1.4 1.4-2.9 1.4-1.6 1.4-3.9 1.4-1.8 1.4-1.4 1.4-5.5 1.4-.8 1.4-4.7 1.4-5.1 1.4-3.6 1.4-3.4 1.4-2.9 1.4-2.4 1.4 2.6 1.4 3.6 1.4-.7.5.7"/>
<path d="M540.2 389.3l1.4-.3 1.4-1.2 1.4-.7 1.4-1.8 1.4.2 1.4 1.9 1.4-1.8 1.4-1.5 1.4 1.5 1.4-4.8 1.4-1.1 1.4 1.8 1.4 2.4 1.4.1 1.4-.2 1.4.8 1.4-3.2 1.4-.1 1.4 0 1.4 1.9 1.4-.3 1.4.5 1.4 2.3 1.4.2 1.4-.8 1.4-3.1 1.4-3.1 1.4-2.3 1.4 0 1.4-1.5 1.4 1.7 1.4 1.2 1.4 2.3 1.4 2.1 1.4-1.5 1.4-2.3 1.4-1.1 1.4-1.7 1.4.5 1.4 1.1 1.4-.3 1.4 2.4 1.4 4.2 1.4 4 1.4 7.9 1.4 8.3 1.4.7 1.4 1.9 1.4-2.5 1.4-.8 1.4.2 1.4 1 1.4-.3 1.4 1.4 1.4-.2 1.4.6 1.4-.5 1.4-.1 1.4.6 1.4.8 1.4.5 1.4.2 1.4-1.6 1.4-.4 1.4-1.8 1.4-.9 1.4-.5 1.4-1.9 1.4.6 1.4-1.1 1.4-1.7 1.4-2 1.4.2 1.4-6.8 1.4-.8 1.4-3.8 1.4-3.3 1.4-4.2 1.4-4.8 1.4-.3 1.4 1.6 1.4 1.2 1.4 3.6 1.4 5.3.5 1.9"/>
<path d="M540.2 386.5l1.4.2 1.4-2 1.4 1.4 1.4 3.2 1.4-1.5 1.4-.8 1.4-1.6 1.4-1.4 1.4.3 1.4-2.5 1.4-.5 1.4 1.2 1.4 1.1 1.4-.2 1.4-1.8 1.4 1.2 1.4-2.8 1.4 1.9 1.4-1.4 1.4-.3 1.4-.8 1.4 3.2 1.4-.9 1.4 1.9 1.4-4.6 1.4 1.6 1.4-5.4 1.4-3.6 1.4.6 1.4-1.3 1.4 2.3 1.4 1.2 1.4 1.3 1.4 3.6 1.4-.6 1.4-1.8 1.4-1.6 1.4-.9 1.4.3 1.4-.6 1.4 1.6 1.4 3.1 1.4 3.3 1.4 7.6 1.4 6.9 1.4 6.4 1.4 2.1 1.4.7 1.4-.8 1.4-1.6 1.4.8 1.4 1 1.4-.6 1.4.7 1.4.6 1.4.8 1.4.8 1.4-.4 1.4-1 1.4 1.3 1.4.5 1.4-.5 1.4 0 1.4-1.9 1.4-.6 1.4-1.5 1.4-.3 1.4-.9 1.4-3.1 1.4-.5 1.4-3.4 1.4.1 1.4-2.4 1.4-6.4 1.4-3.3 1.4-1.4 1.4-4 1.4-5.7 1.4-6.4 1.4-.2 1.4.8 1.4.8 1.4 4.9 1.4-1.9.5 1.4"/>
<path d="M540.2 380.1l1.4 2.4 1.4-.8 1.4 1.6 1.4-1.9 1.4 2.1 1.4 1.4 1.4-2 1.4-.2 1.4.5 1.4-3.7 1.4-1.8 1.4 1.7 1.4 1.1 1.4-.7 1.4 1 1.4-.1 1.4-.7 1.4-2.4 1.4 1.4 1.4-.2 1.4-1.3 1.4 2.8 1.4-2.7 1.4 4.2 1.4-2.5 1.4-2.8 1.4-6.6 1.4 1.9 1.4-2.9 1.4 2.4 1.4.6 1.4.4 1.4 3.7 1.4 2.7 1.4-1.6 1.4-1.4 1.4-2.7 1.4 1.1 1.4-2.9 1.4 1.9 1.4-1.3 1.4 4.8 1.4 4.4 1.4 5.4 1.4 8 1.4 5.8 1.4 3.8 1.4 1.5 1.4-2.4 1.4-.2 1.4-.8 1.4 1.6 1.4-.1 1.4 1 1.4-1.3 1.4 1.8 1.4.3 1.4-1.2 1.4-.1 1.4 1 1.4 1.5 1.4-.6 1.4-1.5 1.4-2.3 1.4-1.9 1.4-.7 1.4-3.4 1.4.2 1.4-3.1 1.4-1.4 1.4-.7 1.4-4.7 1.4-3 1.4-.1 1.4-2.7 1.4-8 1.4 1.4 1.4-7.9 1.4-3.1 1.4.8 1.4-5 1.4 4.5 1.4-.2 1.4 3.6.5 7.7"/>
<path d="M540.2 391.1l1.4-.8 1.4-2.4 1.4.8 1.4-.7 1.4.1 1.4.3 1.4-.2 1.4-1.2 1.4 1.7 1.4-4.4 1.4-1.2 1.4 1.3 1.4-.4 1.4 2 1.4-.4 1.4-1.4 1.4.7 1.4-1.8 1.4.2 1.4-.3 1.4.4 1.4 2.8 1.4-.5 1.4.6 1.4-.2 1.4-2.2 1.4-4.7 1.4-2.6 1.4 0 1.4-1.4 1.4 1.6 1.4 1.5 1.4 2 1.4 1.9 1.4-1.1 1.4-1.6 1.4-1.3 1.4-1.1 1.4-.8 1.4 1.1 1.4-.3 1.4 2.2 1.4 5.6 1.4 5.1 1.4 7.8 1.4 6.2 1.4 2 1.4.8 1.4-1.2 1.4-1.2 1.4.3 1.4 1 1.4-.3 1.4 1.1 1.4.1 1.4.7 1.4.6 1.4-.4 1.4-.4 1.4 1 1.4.4 1.4 0 1.4-1 1.4-1.9 1.4.3 1.4-.6 1.4-1.4 1.4-.6 1.4-1.3 1.4-.5 1.4-4.6 1.4 1 1.4-1.6 1.4-7.2 1.4-2.7 1.4-2.8 1.4-2.7 1.4-3.5 1.4-4.9 1.4-1.1 1.4.5 1.4 5.5 1.4-1.2 1.4 2.9.5 6.6"/>
<path d="M540.2 378.3l1.4 2.4 1.4-2.1 1.4 3.1 1.4 3 1.4-3.1 1.4 2.8 1.4-1.4 1.4.6 1.4-1.4 1.4-1.2 1.4-1.6 1.4-.5 1.4 2.8 1.4-.8 1.4-1.9 1.4-.8 1.4-2.1 1.4.6 1.4-1.4 1.4-.7 1.4-2.2 1.4 3.2 1.4-3 1.4 1.6 1.4-.6 1.4-1.1 1.4-6.5 1.4-2.9 1.4 1.4 1.4.5 1.4 1.6 1.4 1.5 1.4 2.5 1.4 2.7 1.4-.1 1.4-2.7 1.4-1.7 1.4-1.7 1.4-1.7 1.4 2.7 1.4.2 1.4 4.7 1.4 4 1.4 6.1 1.4 8.3 1.4 8 1.4 2.8 1.4 1.8 1.4-1.4 1.4-.4 1.4.1 1.4-.3 1.4.5 1.4 1.3 1.4-.8 1.4 1.9 1.4.1 1.4-.9 1.4.5 1.4.5 1.4.3 1.4 1 1.4-2.1 1.4-2.5 1.4-1.9 1.4-2.2 1.4-1.3 1.4-.4 1.4-2.5 1.4-2 1.4-6.2 1.4-1.8 1.4-1.1 1.4-4.9 1.4-2.8 1.4-4.9 1.4-3.8 1.4-4.3 1.4-3.8 1.4-1.4 1.4-2.8 1.4 1.8 1.4 3.3 1.4-3 .5.9"/>
<path d="M540.2 378.8l1.4 2.2 1.4.4 1.4 1.5 1.4-3.2 1.4 1.9 1.4-.7 1.4-.3 1.4-.3 1.4.6 1.4-3.4 1.4-1.1 1.4 1.3 1.4 1 1.4-.4 1.4-1.6 1.4-.4 1.4-1.3 1.4-.2 1.4-.1 1.4-2 1.4.5 1.4-.3 1.4 1 1.4.8 1.4 1.6 1.4-2.2 1.4-5.3 1.4-1.6 1.4-1.5 1.4 3.6 1.4.4 1.4.6 1.4 4.8 1.4.6 1.4.8 1.4-2.9 1.4-2.4 1.4.3 1.4-4.9 1.4 1.1 1.4 2.7 1.4 3 1.4 3.6 1.4 6.9 1.4 6.7 1.4 7.2 1.4 3.9 1.4 1.7 1.4-1.8 1.4-1.3 1.4-.1 1.4 1 1.4-.2 1.4 1.1 1.4 0 1.4.8 1.4.6 1.4-.2 1.4-.6 1.4 1.6 1.4.8 1.4.3 1.4-1.6 1.4-1.7 1.4-1.3 1.4-2.2 1.4-1.6 1.4-1 1.4-1.2 1.4-.4 1.4-4.1 1.4-3.6 1.4-2.7 1.4-3.6 1.4-3.5 1.4-5.1 1.4-2.8 1.4-4.1 1.4-5.8 1.4-.1 1.4-2.9 1.4-1.8 1.4 1.6 1.4-.1.5.9"/>
<path d="M540.2 377.2l1.4 3.8 1.4-2.7 1.4 4.6 1.4-2.9 1.4-.8 1.4 4.1 1.4-2.8 1.4-.9 1.4.9 1.4-2.9 1.4-1.2 1.4 2.5 1.4-.2 1.4.2 1.4-1.7 1.4-.9 1.4-1.3 1.4-.5 1.4-.3 1.4-1.5 1.4.9 1.4-.8 1.4-.2 1.4 2.7 1.4-1.7 1.4-3 1.4-5.4 1.4-2.7 1.4 2 1.4.5 1.4 1.6 1.4 1.5 1.4 2.5 1.4 2.7 1.4-.9 1.4-1.9 1.4-1.7 1.4-1.7 1.4-1.7 1.4 1.7 1.4 1.2 1.4 3.3 1.4 5.4 1.4 5.3 1.4 8.3 1.4 7.2 1.4 3.9 1.4 1.7 1.4-1.8 1.4-1.3 1.4-.1 1.4 1 1.4-.2 1.4 1.1 1.4 0 1.4.8 1.4.8 1.4-.4 1.4-.5 1.4 1.2 1.4.8 1.4.2 1.4-.9 1.4-3.2 1.4-.9 1.4-2.4 1.4-1.1 1.4-2 1.4-3.7 1.4-1.2 1.4-3.6 1.4-1.4 1.4-4.1 1.4-3.9 1.4-2.6 1.4-3 1.4-3.1 1.4-6.2 1.4-4.2 1.4-.7 1.4-1.1 1.4.3 1.4 6.8 1.4-2.4.5-2.4"/>
<path d="M540.2 379.4l1.4 1.3 1.4 2.7 1.4-1.2 1.4.7 1.4 1.2 1.4 1 1.4-1.7 1.4-1 1.4 0 1.4-1.7 1.4-.9 1.4 1.1 1.4.8 1.4-.6 1.4-1.6 1.4.3 1.4 1.6 1.4-2 1.4-.1 1.4-.6 1.4-1.3 1.4.8 1.4 3 1.4 0 1.4-2.5 1.4-.3 1.4-7.6 1.4-2.4 1.4 2 1.4.4 1.4 2.3 1.4-1.3 1.4 3.8 1.4 3 1.4-3.4 1.4.1 1.4-2.5 1.4-2 1.4.4 1.4 1.6 1.4-2.2 1.4 4.7 1.4 5.2 1.4 6.1 1.4 5.6 1.4 7 1.4 3.9 1.4 1.9 1.4-1.7 1.4-1.4 1.4.1 1.4.3 1.4 0 1.4.7 1.4.8 1.4.6 1.4.1 1.4.1 1.4-.8 1.4 1.7 1.4-.2 1.4.9 1.4-1.3 1.4-3.4 1.4-.3 1.4-2.7 1.4-1.3 1.4-3.9 1.4-1.6 1.4-1.7 1.4-1.9 1.4-1.4 1.4-4.9 1.4-5.2 1.4-2.6 1.4-1 1.4-7 1.4-4.3 1.4-4.8 1.4 2.2 1.4-3.3 1.4-1.5 1.4 2.5 1.4 4.6.5-3.2"/>
<path d="M540.2 380.2l1.4.4 1.4-.3 1.4 1 1.4.7 1.4-.7 1.4 1.6 1.4 1.1 1.4-3.1 1.4 3.2 1.4-4.5 1.4-1.3 1.4 2 1.4 1.4 1.4-.4 1.4-1.8 1.4.9 1.4-2.5 1.4.2 1.4 1.2 1.4-1.9 1.4 1.2 1.4 1.8 1.4.2 1.4.9 1.4-.6 1.4-3.4 1.4-4.8 1.4-3.6 1.4 1.3 1.4.1 1.4 1.6 1.4 1.4 1.4 3.5 1.4 2.1 1.4-.5 1.4-2.3 1.4-1.1 1.4-1.5 1.4.6 1.4-1.1 1.4.9 1.4 2.7 1.4 5.6 1.4 4.3 1.4 8.6 1.4 7.7 1.4 1.7 1.4 1.3 1.4-2 1.4-1.2 1.4-.2 1.4 1.5 1.4 0 1.4.5 1.4.6 1.4 1.1 1.4.9 1.4-.4 1.4-1 1.4.8 1.4.9 1.4-.5 1.4-1.1 1.4-2.5 1.4.7 1.4-1.9 1.4-1.7 1.4-.2 1.4-2.3 1.4-.2 1.4-4 1.4-.3 1.4-5.7 1.4-4.4 1.4-1.5 1.4-4.1 1.4-3.6 1.4-7.4 1.4-.2 1.4-6.3 1.4 4.2 1.4-.4 1.4 4.4 1.4-4.3.5 7.1"/>
<path d="M540.2 388.7l1.4-.1 1.4-5.1 1.4 1.6 1.4 1.5 1.4-2.4 1.4.1 1.4-.9 1.4-1.9 1.4 3 1.4-2.8 1.4-2.6 1.4.7 1.4 1.4 1.4-.3 1.4.1 1.4.7 1.4-3.3 1.4 1.6 1.4-1.7 1.4 1.8 1.4-.6 1.4 2.5 1.4-2.1 1.4 2.3 1.4.1 1.4.7 1.4-5.9 1.4-2.3 1.4-.6 1.4-1.7 1.4 4.1 1.4-1.5 1.4 3.4 1.4 2.1 1.4-2.4 1.4-1.7 1.4-.7 1.4-.1 1.4-1.7 1.4.4 1.4-1.7 1.4 3.6 1.4 3.7 1.4 6.5 1.4 8.6 1.4 4.8 1.4 3.4 1.4.9 1.4-.6 1.4-2.3 1.4.8 1.4 1.5 1.4-.7 1.4 1.1 1.4.4 1.4 1.2 1.4-.4 1.4.1 1.4-.5 1.4 1.3 1.4 1.4 1.4-.2 1.4-1.2 1.4-.9 1.4-1.8 1.4 1.1 1.4-1.2 1.4-1.4 1.4-3.4 1.4-.1 1.4-.7 1.4-1.9 1.4-4.1 1.4-2.5 1.4-3.9 1.4-5.1 1.4-1.6 1.4-6.8 1.4-5.8 1.4-1.2 1.4 2.2 1.4-1.2 1.4 0 1.4 7.2.5-1.2"/>
<path d="M540.2 390.5l1.4.8 1.4-2.1 1.4.1 1.4-.3 1.4.3 1.4 1.5 1.4-2.8 1.4-2.3 1.4 2.2 1.4-3.6 1.4-2 1.4.5 1.4 1.8 1.4-.2 1.4-1.5 1.4.1 1.4-.9 1.4.9 1.4-.3 1.4-1 1.4.3 1.4-.1 1.4 1.7 1.4-1.9 1.4 1.5 1.4-3.4 1.4-5 1.4-2.6 1.4-2 1.4 2.1 1.4-.6 1.4 3.6 1.4 1.5 1.4 1.7 1.4-.2 1.4-3.3 1.4-1.1 1.4-1.1 1.4-1.8 1.4 1.6 1.4 1.1 1.4 3 1.4 4.6 1.4 5.1 1.4 8.3 1.4 6.2 1.4 2.9 1.4 2 1.4-1.7 1.4-.3 1.4-.8 1.4 1.1 1.4 0 1.4.7 1.4 1.1 1.4 0 1.4 1.2 1.4-1.2 1.4.6 1.4.9 1.4-.1 1.4-.2 1.4-.5 1.4-.9 1.4-.7 1.4-1.9 1.4-2.2 1.4 1.1 1.4-2.4 1.4 1.3 1.4-3.1 1.4-2.9 1.4-1.5 1.4-5.4 1.4.6 1.4-7.5 1.4.5 1.4-4.2 1.4-5.6 1.4.8 1.4 1 1.4 3.8 1.4-2.2 1.4 8.8.5 1.1"/>
<path d="M540.2 387l1.4-1.8 1.4-.6 1.4.3 1.4 3.2 1.4-2.1 1.4-.9 1.4 1.6 1.4-2.7 1.4.2 1.4-3.6 1.4-.4 1.4 1.4 1.4.2 1.4-.3 1.4.1 1.4-1.3 1.4-.5 1.4-.5 1.4 1.2 1.4-2.6 1.4-.9 1.4 4.3 1.4-1.7 1.4.4 1.4-1.7 1.4-.8 1.4-4.1 1.4-3.8 1.4.3 1.4 1.5 1.4 1.3 1.4-.4 1.4 5.2 1.4 2.6 1.4-1.4 1.4-3.3 1.4.2 1.4-2.2 1.4-1.7 1.4 1.4 1.4 1.1 1.4 2.9 1.4 5.7 1.4 5.2 1.4 8.2 1.4 7.2 1.4 1.2 1.4 1 1.4-1 1.4-1.3 1.4-.1 1.4.8 1.4.7 1.4.7 1.4.6 1.4 1.1 1.4.6 1.4-1.2 1.4.1 1.4.6 1.4 1.3 1.4-.5 1.4-1 1.4-1.1 1.4-.3 1.4-1.2 1.4-1 1.4-1.3 1.4-.1 1.4-2.2 1.4-4.3 1.4 2.6 1.4-2 1.4-4.7 1.4-6.4 1.4-2.5 1.4-1.3 1.4-3.8 1.4-7.6 1.4 1.7 1.4-2.9 1.4 4.3 1.4 3.4 1.4 3.7.5 2.6"/>
<path d="M540.2 389.3l1.4-.7 1.4-.8 1.4.9 1.4-1.2 1.4 1.1 1.4 1.5 1.4-.8 1.4-2 1.4-.7 1.4-1.9 1.4-1.9 1.4 1.6 1.4 0 1.4 1.2 1.4 0 1.4.4 1.4-2.1 1.4-.7 1.4 1.1 1.4-.3 1.4.9 1.4 1.3 1.4-.5 1.4.7 1.4-.3 1.4-2.8 1.4-7.1 1.4-1.7 1.4 2.1 1.4-1.4 1.4 1.6 1.4-.2 1.4 2.6 1.4 2.6 1.4-2.7 1.4-2.2 1.4-2.6 1.4 1.2 1.4-1.9 1.4-.2 1.4-.3 1.4 2.9 1.4 4.6 1.4 7.3 1.4 6.5 1.4 7.1 1.4 2 1.4 1.9 1.4-1.7 1.4-1.2 1.4.6 1.4-.1 1.4 0 1.4 2.1 1.4-.6 1.4.2 1.4 1.6 1.4-.8 1.4-1.1 1.4 2.3 1.4.8 1.4-1 1.4-.7 1.4-1.6 1.4-1.1 1.4-.4 1.4-1 1.4-1.2 1.4-2.5 1.4 1.2 1.4-4.3 1.4 1 1.4-1.3 1.4-4.6 1.4-4.9 1.4-2.3 1.4-2.3 1.4-5.8 1.4-4.3 1.4-.6 1.4 4.1 1.4 3 1.4 2.9 1.4 4.2.5 1.9"/>
<path d="M540.2 376.4l1.4 2.2 1.4-1.9 1.4 2.4 1.4.5 1.4-.6 1.4 3 1.4-1.5 1.4-.9 1.4.3 1.4-2.4 1.4-.9 1.4 1.1 1.4 1.1 1.4.4 1.4-1.4 1.4.8 1.4-3 1.4.9 1.4 1.4 1.4-1.3 1.4.3 1.4.5 1.4-1.8 1.4 4.7 1.4-2.3 1.4-2.7 1.4-4.6 1.4-2.3 1.4.2 1.4.4 1.4 3.3 1.4.6 1.4 2.3 1.4 3.2 1.4-3.5 1.4-1.3 1.4-1.3 1.4-.7 1.4-3.6 1.4 1.3 1.4 2.9 1.4.6 1.4 6.1 1.4 4 1.4 9.1 1.4 6.9 1.4 3.3 1.4 1.5 1.4-2.1 1.4-.7 1.4-.7 1.4 1.1 1.4.4 1.4.4 1.4 0 1.4 1.2 1.4.2 1.4-.2 1.4-.6 1.4 1.3 1.4.8 1.4.1 1.4-.8 1.4-3.2 1.4-1.5 1.4-1.8 1.4-2 1.4-2.3 1.4-1.9 1.4 0 1.4-6.1 1.4-.7 1.4-3.7 1.4.5 1.4-3.5 1.4-6.3 1.4-2.8 1.4-3.1 1.4-5.7 1.4 0 1.4 3.4 1.4-.3 1.4 1 1.4 6.7.5 1.1"/>
<path d="M540.2 392.1l1.4 0 1.4-4.5 1.4 2.7 1.4.8 1.4-2.1 1.4 1 1.4-1 1.4-.6 1.4-1.2 1.4-3.7 1.4-2.5 1.4 2 1.4 2.1 1.4 0 1.4-1.9 1.4 2.3 1.4-4.2 1.4-.6 1.4 1.6 1.4-2.4 1.4 1.5 1.4 3.1 1.4-3.5 1.4.6 1.4 2.3 1.4-1.7 1.4-8.6 1.4-2.2 1.4 3.4 1.4-3.9 1.4 3.1 1.4.8 1.4 1 1.4 4.9 1.4-2.9 1.4-1.9 1.4.4 1.4-3 1.4 1.3 1.4-.5 1.4 1.2 1.4 2.2 1.4 5.1 1.4 5.2 1.4 9 1.4 5.4 1.4 2.1 1.4 1.8 1.4-1.8 1.4-.4 1.4-.6 1.4 1.4 1.4.3 1.4 0 1.4.3 1.4.6 1.4.6 1.4-.3 1.4.4 1.4.5 1.4.4 1.4.8 1.4-.9 1.4-2.4 1.4 0 1.4-1.7 1.4-1.6 1.4 1 1.4-1.9 1.4.7 1.4-6 1.4 1.6 1.4-1.2 1.4-4.1 1.4-4.5 1.4-3.6 1.4-4.3 1.4-3 1.4-6 1.4 2.2 1.4 1.3 1.4 3.5 1.4 2.9 1.4 3.7.5 1.9"/>
<path d="M540.2 390.5l1.4-2.6 1.4-1.9 1.4.9 1.4.6 1.4-1.7 1.4 1.9 1.4-1.4 1.4-1.7 1.4.8 1.4-3.3 1.4-1.5 1.4 0 1.4 1.4 1.4.3 1.4.4 1.4-2.1 1.4-.3 1.4.3 1.4.3 1.4-.8 1.4 3.3 1.4 1.5 1.4-2.3 1.4 2 1.4-.7 1.4-.9 1.4-6.3 1.4-2.7 1.4 2.6 1.4-1.4 1.4 1.6 1.4 1.5 1.4 2 1.4 1.8 1.4-1.1 1.4-2.9 1.4-.6 1.4-.3 1.4-2.9 1.4 3 1.4-2.2 1.4 3.9 1.4 4.9 1.4 3.3 1.4 7.4 1.4 7.2 1.4 2.5 1.4 1.2 1.4-1.2 1.4-1.4 1.4-.1 1.4.6 1.4-.3 1.4 1.7 1.4-.1 1.4.5 1.4 1.1 1.4-.8 1.4-.5 1.4 2.1 1.4 1.1 1.4-.6 1.4-1.1 1.4-1 1.4-1 1.4.7 1.4-1.6 1.4-1.4 1.4-.2 1.4-1.2 1.4-2.8 1.4.1 1.4-3 1.4-3.3 1.4-4.8 1.4-3.1 1.4-4.9 1.4-2.9 1.4-5.2 1.4-1 1.4-2.2 1.4 1.3 1.4 3.8 1.4-.3.5-1"/>
<path d="M540.2 387.8l1.4-.8 1.4.8 1.4 1.8 1.4 1.1 1.4-1 1.4-1.7 1.4.9 1.4-3 1.4 1.3 1.4-3.9 1.4-.2 1.4.3 1.4 1.1 1.4 0 1.4 1.1 1.4.7 1.4-3.2 1.4-.2 1.4 1 1.4-1.5 1.4 2.5 1.4 1.3 1.4-2 1.4.2 1.4 1.7 1.4-5.1 1.4-2.7 1.4-1.7 1.4-2.3 1.4.9 1.4-1 1.4 1.2 1.4 4.2 1.4-.1 1.4-1.1 1.4.1 1.4-2.1 1.4-1.2 1.4-1.6 1.4 2.5 1.4-2 1.4 3.6 1.4 5 1.4 4.4 1.4 9.3 1.4 6.1 1.4 3 1.4 1.2 1.4-2.3 1.4-1 1.4.8 1.4.9 1.4-.4 1.4 1.4 1.4.5 1.4.7 1.4.2 1.4 0 1.4-.4 1.4 1 1.4-.1 1.4.5 1.4-1 1.4-1.3 1.4-.6 1.4-.3 1.4-2.1 1.4-.3 1.4-.9 1.4-1.8 1.4-1.6 1.4-2.2 1.4-2.4 1.4-4.1 1.4-5.1 1.4-3.1 1.4-3.5 1.4-1.7 1.4-5.6 1.4-3.6 1.4 5 1.4 3 1.4-5 1.4 9.7.5-4.8"/>
</g>
</g>
<rect x="534.00" y="346.30" width="130.50" height="65.50" fill="none" stroke="#9a9a9a" stroke-width="0.9"/>
<line x1="531.50" y1="408.40" x2="534.00" y2="408.40" stroke="#333" stroke-width="0.6"/>
<text x="530.20" y="411.40" font-size="8.4" text-anchor="end" fill="#333" stroke="#333" stroke-width="0.06">0</text>
<line x1="531.50" y1="390.60" x2="534.00" y2="390.60" stroke="#333" stroke-width="0.6"/>
<text x="530.20" y="393.60" font-size="8.4" text-anchor="end" fill="#333" stroke="#333" stroke-width="0.06">20</text>
<line x1="531.50" y1="372.70" x2="534.00" y2="372.70" stroke="#333" stroke-width="0.6"/>
<text x="530.20" y="375.70" font-size="8.4" text-anchor="end" fill="#333" stroke="#333" stroke-width="0.06">40</text>
<line x1="531.50" y1="354.30" x2="534.00" y2="354.30" stroke="#333" stroke-width="0.6"/>
<text x="530.20" y="357.30" font-size="8.4" text-anchor="end" fill="#333" stroke="#333" stroke-width="0.06">60</text>
<line x1="535.10" y1="411.80" x2="535.10" y2="414.30" stroke="#333" stroke-width="0.6"/>
<line x1="559.60" y1="411.80" x2="559.60" y2="414.30" stroke="#333" stroke-width="0.6"/>
<line x1="584.20" y1="411.80" x2="584.20" y2="414.30" stroke="#333" stroke-width="0.6"/>
<line x1="608.70" y1="411.80" x2="608.70" y2="414.30" stroke="#333" stroke-width="0.6"/>
<line x1="633.20" y1="411.80" x2="633.20" y2="414.30" stroke="#333" stroke-width="0.6"/>
<line x1="658.30" y1="411.80" x2="658.30" y2="414.30" stroke="#333" stroke-width="0.6"/>
<text x="539.10" y="356.50" font-size="9.8" text-anchor="start" fill="#000" stroke="#000" stroke-width="0.06">CS:chr5B</text>
<defs><clipPath id="cd9"><rect x="534.0" y="422.2" width="130.5" height="66.2"/></clipPath></defs>
<rect x="534.00" y="422.20" width="130.50" height="66.20" fill="#fff"/>
<line x1="534.00" y1="484.40" x2="664.50" y2="484.40" stroke="#ebebeb" stroke-width="0.6"/>
<line x1="534.00" y1="465.00" x2="664.50" y2="465.00" stroke="#ebebeb" stroke-width="0.6"/>
<line x1="534.00" y1="445.20" x2="664.50" y2="445.20" stroke="#ebebeb" stroke-width="0.6"/>
<line x1="534.00" y1="425.80" x2="664.50" y2="425.80" stroke="#ebebeb" stroke-width="0.6"/>
<line x1="535.10" y1="422.20" x2="535.10" y2="488.40" stroke="#ebebeb" stroke-width="0.6"/>
<line x1="559.60" y1="422.20" x2="559.60" y2="488.40" stroke="#ebebeb" stroke-width="0.6"/>
<line x1="584.20" y1="422.20" x2="584.20" y2="488.40" stroke="#ebebeb" stroke-width="0.6"/>
<line x1="608.70" y1="422.20" x2="608.70" y2="488.40" stroke="#ebebeb" stroke-width="0.6"/>
<line x1="633.20" y1="422.20" x2="633.20" y2="488.40" stroke="#ebebeb" stroke-width="0.6"/>
<line x1="658.30" y1="422.20" x2="658.30" y2="488.40" stroke="#ebebeb" stroke-width="0.6"/>
<g clip-path="url(#cd9)">
<path d="M540.2 472.4l1.4-.7 1.4-.3 1.4.2 1.4.3 1.4-.7 1.4.5 1.4-.4 1.4-.7 1.4-.8 1.4-.9 1.4-.9 1.4-.5 1.4-1 1.4-1 1.4-1.3 1.4-.3 1.4-.6 1.4.2 1.4-.5 1.4-1.2 1.4-.1 1.4-1.3 1.4.5 1.4-1.2 1.4.5 1.4-.6 1.4-.1 1.4 0 1.4 1.1 1.4 1 1.4 1.3 1.4 1.7 1.4.7 1.4.2 1.4 1.8 1.4-.7 1.4-.1 1.4 1 1.4 0 1.4-.6 1.4.6 1.4 0 1.4.7 1.4 1.3 1.4.2 1.4.5 1.4 1.3 1.4-.7 1.4 0 1.4-.2 1.4-.5 1.4-.9 1.4-.2 1.4.5 1.4-.6 1.4-.5 1.4.4 1.4 0 1.4-.9 1.4.2 1.4.3 1.4-1.1 1.4.5 1.4-.5 1.4.1 1.4-.8 1.4.5 1.4-.4 1.4-.1 1.4.8 1.4-.8 1.4 0 1.4.8 1.4-.7 1.4.9 1.4-.6 1.4.2 1.4 0 1.4-.4 1.4.1 1.4 1 1.4 1.4 1.4 1.7 1.4 1.8.5-.1 0 8.2-.5.3-1.4-1.3-1.4-1.3-1.4-.8-1.4-.7-1.4 0-1.4.3-1.4 0-1.4-.2-1.4.6-1.4-.9-1.4.8-1.4-.9-1.4 0-1.4.8-1.4-.7-1.4.1-1.4.3-1.4-.5-1.4.9-1.4-.2-1.4.5-1.4-.5-1.4 1.1-1.4-.3-1.4-.2-1.4.9-1.4.1-1.4-.5-1.4.6-1.4.5-1.4-.7-1.4-.1-1.4.6-1.4.2-1.4-.1-1.4-.3-1.4.4-1.4-1.1-1.4-.1-1.4.2-1.4-1-1.4-.3-1.4.2-1.4-.2-1.4 1-1.4.3-1.4-.6-1.4.4-1.4 1.1-1.4-1.8-1.4-.2-1.4-.7-1.4-1.7-1.4-.9-1.4-.3-1.4-.3-1.4.4-1.4.5-1.4.8-1.4-.1-1.4 1.6-1.4-.2-1.4 1.1-1.4-.1-1.4.9-1.4.2-1.4-.6-1.4.4-1.4.1-1.4.6-1.4.2-1.4.2-1.4-.4-1.4.1-1.4 0-1.4-.1-1.4.1-1.4.3-1.4-.6-1.4.5-1.4-.4-1.4-.3-1.4.1-1.4.5z" fill="#efefef" fill-opacity="1.0" stroke="none"/>
<path d="M540.2 474.2l1.4-.7 1.4-.2 1.4.2 1.4.3 1.4-.6 1.4.5 1.4-.4 1.4-.6 1.4-.5 1.4-.6 1.4-.7 1.4-.3 1.4-.8 1.4-.8 1.4-1.1 1.4-.3 1.4-.6 1.4.3 1.4-.4 1.4-1.1 1.4-.1 1.4-1.2 1.4.4 1.4-1.3 1.4.4 1.4-.6 1.4-.2 1.4-.1 1.4.9 1.4.8 1.4 1.2 1.4 1.7 1.4.7 1.4.2 1.4 1.8 1.4-.8 1.4-.2 1.4.9 1.4-.1 1.4-.7 1.4.5 1.4 0 1.4.6 1.4 1.2 1.4.1 1.4.4 1.4 1.2 1.4-.6 1.4.1 1.4-.1 1.4-.5 1.4-.7 1.4-.2 1.4.5 1.4-.5 1.4-.5 1.4.4 1.4 0 1.4-1 1.4.3 1.4.2 1.4-1.1 1.4.6 1.4-.6 1.4.2 1.4-.8 1.4.4 1.4-.3 1.4-.1 1.4.8 1.4-.9 1.4.1 1.4.8 1.4-.8 1.4.9 1.4-.6 1.4.3 1.4-.1 1.4-.3 1.4 0 1.4 1 1.4 1.2 1.4 1.6 1.4 1.7.5-.2 0 5.8-.5.3-1.4-1.4-1.4-1.2-1.4-.9-1.4-.7-1.4-.1-1.4.4-1.4 0-1.4-.2-1.4.6-1.4-.9-1.4.8-1.4-.9-1.4 0-1.4.8-1.4-.8-1.4.2-1.4.3-1.4-.5-1.4.8-1.4-.1-1.4.5-1.4-.5-1.4 1.1-1.4-.3-1.4-.2-1.4.9-1.4.1-1.4-.5-1.4.5-1.4.6-1.4-.7-1.4-.1-1.4.6-1.4.3-1.4-.1-1.4-.3-1.4.4-1.4-1.1-1.4-.2-1.4.2-1.4-1-1.4-.3-1.4.2-1.4-.2-1.4.9-1.4.3-1.4-.6-1.4.4-1.4 1.1-1.4-1.8-1.4-.2-1.4-.7-1.4-1.7-1.4-.9-1.4-.4-1.4-.4-1.4.5-1.4.4-1.4.9-1.4-.2-1.4 1.6-1.4-.2-1.4 1.1-1.4-.1-1.4.9-1.4.2-1.4-.5-1.4.4-1.4 0-1.4.7-1.4.3-1.4.1-1.4-.2-1.4.1-1.4 0-1.4 0-1.4.1-1.4.3-1.4-.6-1.4.5-1.4-.4-1.4-.3-1.4.1-1.4.6z" fill="#e4e4e4" fill-opacity="1.0" stroke="none"/>
<g fill="none" stroke="#c4c4c4" stroke-width="0.4" stroke-opacity="0.3" stroke-linejoin="round">
<path d="M540.2 472.2l1.4-1.1 1.4.9 1.4-.1 1.4-.2 1.4-1 1.4.9 1.4 0 1.4-1.5 1.4-.7 1.4-.9 1.4.5 1.4-1.9 1.4.4 1.4-2.7 1.4-1.6 1.4-.2 1.4-.8 1.4 1.7 1.4-1.3 1.4-1.6 1.4.1 1.4-1.8 1.4 1.1 1.4-.4 1.4-.4 1.4-.1 1.4.2 1.4-.7 1.4 1.5 1.4 1.9 1.4.7 1.4 3.2 1.4-1.5 1.4-.2 1.4 3.6 1.4-2.5 1.4 2 1.4-.1 1.4.8 1.4-.2 1.4-1 1.4-.3 1.4 2.9 1.4-.2 1.4 1.5 1.4-1.2 1.4 4.2 1.4-1.8 1.4.3 1.4-.4 1.4-.7 1.4-.3 1.4-2.5 1.4 4 1.4-.8 1.4-3.4 1.4 0 1.4 2 1.4-1 1.4-.1 1.4.8 1.4-1.3 1.4.9 1.4-3.1 1.4 1.9 1.4-2.2 1.4 1.4 1.4-1 1.4-.9 1.4 1.6 1.4-1.8 1.4.1 1.4 1.7 1.4-1.6 1.4 1.5 1.4-1 1.4.4 1.4 0 1.4-.6 1.4.1 1.4 1 1.4 1.3 1.4 2 1.4 2 .5-.6"/>
<path d="M540.2 477.7l1.4-1.6 1.4-.9 1.4.4 1.4 2.7 1.4-.6 1.4-.1 1.4-.2 1.4 1.2 1.4-.4 1.4-1.4 1.4-1.3 1.4 3.2 1.4.1 1.4-2.1 1.4-1.9 1.4 3.4 1.4-1.4 1.4-2.2 1.4-1.1 1.4 3.2 1.4-3.3 1.4-2.3 1.4 4.5 1.4-5.6 1.4 1.8 1.4.8 1.4-2.4 1.4-1.9 1.4 3.3 1.4-1.1 1.4-1.5 1.4 5.3 1.4-.3 1.4-3 1.4 1.4 1.4 2 1.4-4.3 1.4 4.4 1.4.3 1.4-3.7 1.4 0 1.4-.8 1.4 1.7 1.4 1.4 1.4-.3 1.4-1 1.4 1.8 1.4.1 1.4.2 1.4-.2 1.4-.7 1.4-1.2 1.4 1.2 1.4 2.2 1.4-1.1 1.4-1.3 1.4 1.3 1.4-1.5 1.4-1.7 1.4 2.5 1.4 0 1.4-1.7 1.4 3.2 1.4-.6 1.4-1.5 1.4-2.2 1.4 4 1.4-.7 1.4.2 1.4 1 1.4-3 1.4 2.1 1.4 1.8 1.4-2.9 1.4 3.6 1.4-2.4 1.4.9 1.4-.3 1.4.9 1.4-2.3 1.4 3.6 1.4-.3 1.4 2.1 1.4.3.5.6"/>
<path d="M540.2 479.9l1.4-1 1.4.1 1.4-.6 1.4.2 1.4-.6 1.4 1.9 1.4-.1 1.4 0 1.4.2 1.4-1.7 1.4 1.4 1.4-.7 1.4 1.3 1.4-.8 1.4-2.3 1.4 1.1 1.4-4 1.4 1.7 1.4-4.1 1.4-1.4 1.4 2.6 1.4-.8 1.4-4.5 1.4-.6 1.4-1.6 1.4 1.3 1.4-.3 1.4 2.1 1.4-3.1 1.4.4 1.4 1.5 1.4 5.2 1.4-1.5 1.4 1.7 1.4 3.2 1.4-.8 1.4-1.5 1.4.8 1.4 1 1.4-.5 1.4.2 1.4.6 1.4 2 1.4 1.4 1.4-.6 1.4 0 1.4.3 1.4.8 1.4-.9 1.4 1.5 1.4-.4 1.4-.9 1.4-2.3 1.4 2.7 1.4-.8 1.4-1.5 1.4-.9 1.4.9 1.4-2.9 1.4-.4 1.4.6 1.4-1.6 1.4 2.6 1.4-2.7 1.4-1 1.4-1.9 1.4.6 1.4 2.4 1.4-2.4 1.4 1.3 1.4-1 1.4.8 1.4 1.8 1.4.2 1.4 1.4 1.4-.1 1.4.3 1.4-.8 1.4 1.3 1.4-2.2 1.4 1.2 1.4 4 1.4 1.5 1.4.8.5 0"/>
<path d="M540.2 475.9l1.4-.8 1.4-2 1.4 1.8 1.4 0 1.4-.4 1.4.8 1.4-1.1 1.4-3 1.4.3 1.4-1 1.4-2.7 1.4 3.6 1.4-1.5 1.4-3 1.4-3.7 1.4 3.6 1.4-1.6 1.4-2.2 1.4-.4 1.4-1.6 1.4 3 1.4-4.7 1.4 1.1 1.4-1.8 1.4 2.5 1.4-2.1 1.4.1 1.4-.1 1.4.9 1.4 1.4 1.4.8 1.4 2.6 1.4 1.9 1.4-.3 1.4 2.1 1.4-1.6 1.4 1.5 1.4 1.6 1.4-2.6 1.4-.9 1.4 1.7 1.4-.6 1.4 1.6 1.4.9 1.4 2.4 1.4-1.6 1.4 2.8 1.4-1.2 1.4 2.3 1.4-2.1 1.4 2.1 1.4-4.1 1.4 3.5 1.4-1.2 1.4.8 1.4-2 1.4 2.2 1.4-.5 1.4-1.2 1.4.6 1.4 1.8 1.4-4.5 1.4 3.8 1.4-2.2 1.4-1 1.4-1.2 1.4 1.9 1.4.9 1.4.2 1.4-1.1 1.4.3 1.4.5 1.4-.6 1.4-.2 1.4.5 1.4-1.6 1.4-1.1 1.4 1.9 1.4-1.5 1.4-1 1.4 3.2 1.4-2.2 1.4 1.9 1.4 3.7.5-.1"/>
<path d="M540.2 476.7l1.4-2.4 1.4 1.7 1.4.6 1.4.8 1.4-3.2 1.4 2.9 1.4-2.4 1.4-.1 1.4.4 1.4-.9 1.4-.8 1.4 2.8 1.4-4.6 1.4 2.1 1.4-4.5 1.4 1.3 1.4-2.4 1.4.8 1.4.4 1.4-.4 1.4-1.4 1.4-2.8 1.4.3 1.4-2.2 1.4 2.8 1.4-2.2 1.4 1.9 1.4-4.4 1.4.6 1.4.7 1.4 4.4 1.4-1 1.4 2.5 1.4-2.4 1.4 2.9 1.4-1.5 1.4-1.2 1.4 4.2 1.4-1.3 1.4-1.3 1.4 2.1 1.4-1.9 1.4-.1 1.4 1.8 1.4 1 1.4.6 1.4 2.4 1.4-.9 1.4-.8 1.4-.4 1.4-1.2 1.4 1.6 1.4-.5 1.4-.3 1.4.3 1.4-.8 1.4.2 1.4 1.6 1.4-.1 1.4-1.8 1.4 1.2 1.4-1.1 1.4.6 1.4.2 1.4-.6 1.4.8 1.4-.4 1.4.5 1.4-1.8 1.4 4.1 1.4-3.8 1.4 3.4 1.4 1.1 1.4-1 1.4-1.2 1.4 1.5 1.4-1.9 1.4-.2 1.4 2.3 1.4-1.8 1.4 0 1.4 3.6 1.4 1 1.4 1 .5-1.1"/>
<path d="M540.2 478.4l1.4-.5 1.4.5 1.4-.9 1.4 1.2 1.4-2.1 1.4 3 1.4-2.2 1.4-.3 1.4 1.6 1.4-3.4 1.4.6 1.4 1.7 1.4-3 1.4-1.5 1.4-1.3 1.4 1.7 1.4-3.2 1.4 4.8 1.4.2 1.4-.9 1.4-.9 1.4-4.1 1.4 2.7 1.4-5.5 1.4 4.5 1.4-2.5 1.4 1.2 1.4-2.9 1.4 2.2 1.4 2.6 1.4-.2 1.4 1.7 1.4-1 1.4 3.4 1.4 1.7 1.4-3 1.4-.5 1.4 2 1.4 1.8 1.4-3.7 1.4 2.5 1.4-1.3 1.4 1.8 1.4-.2 1.4 1.7 1.4-1.8 1.4 3.2 1.4-.9 1.4.8 1.4-1.3 1.4-1.8 1.4 1.3 1.4-1.6 1.4 2.1 1.4-1.4 1.4.2 1.4-1 1.4-.3 1.4-.9 1.4 2 1.4-2.8 1.4-.3 1.4 2.1 1.4-3 1.4 1.2 1.4-1.8 1.4.8 1.4-1.2 1.4 1.3 1.4 2.4 1.4-4.2 1.4.6 1.4 2.9 1.4-2.8 1.4 3.7 1.4-2 1.4-.6 1.4 1.2 1.4.3 1.4-2.6 1.4 3.7 1.4 1 1.4-.1 1.4 2.2.5-1.9"/>
<path d="M540.2 474.1l1.4.2 1.4-1 1.4.9 1.4-1 1.4.6 1.4 0 1.4-1.2 1.4 1.4 1.4-2 1.4 1.2 1.4-1.3 1.4 1 1.4.2 1.4-2.6 1.4 1 1.4-3.3 1.4 2.8 1.4-1.8 1.4 3.3 1.4-1.2 1.4-4.2 1.4 1.1 1.4 1.9 1.4-3.7 1.4 3.9 1.4-5.3 1.4.2 1.4 1.6 1.4-1.1 1.4 1.6 1.4 2.1 1.4 2.4 1.4-.6 1.4-1.6 1.4 4 1.4-2.6 1.4-1.1 1.4 2.5 1.4-2.4 1.4-.8 1.4 1.7 1.4-2 1.4 1 1.4.9 1.4-.9 1.4.6 1.4 4.2 1.4-2.2 1.4-.8 1.4.5 1.4-1.6 1.4-.8 1.4 2.1 1.4-1.1 1.4-1.2 1.4 1.5 1.4 1.1 1.4 1.2 1.4-4.6 1.4 1.1 1.4 1.6 1.4-2.8 1.4 1.4 1.4.8 1.4 2.2 1.4-1.7 1.4 1.1 1.4-.9 1.4-2.4 1.4 2.6 1.4.7 1.4-.8 1.4-.6 1.4-1.6 1.4 4.3 1.4-1.3 1.4-.2 1.4-1.4 1.4.4 1.4 1.4 1.4-1 1.4 1.5 1.4 0 1.4 2.5.5-.1"/>
<path d="M540.2 474.5l1.4-.8 1.4-.2 1.4 0 1.4 1.5 1.4-1.7 1.4 2.3 1.4-.7 1.4-.8 1.4.1 1.4-1.8 1.4-.1 1.4-.3 1.4.6 1.4-2.8 1.4 2 1.4.5 1.4-.6 1.4 1.4 1.4-2.7 1.4.7 1.4-3.5 1.4-.3 1.4 4.1 1.4-5.1 1.4.6 1.4 1.4 1.4-3.1 1.4.5 1.4 3.2 1.4-2.8 1.4 3.4 1.4-.3 1.4 1.4 1.4.9 1.4 2.8 1.4-3.8 1.4 1.6 1.4-.8 1.4.3 1.4-.1 1.4-.6 1.4 1 1.4-1.8 1.4 2.8 1.4-.2 1.4-.9 1.4 3.2 1.4-2.5 1.4.6 1.4 1.7 1.4-.4 1.4-2.6 1.4 1.7 1.4-.5 1.4-.9 1.4-.1 1.4 3.5 1.4-1.7 1.4-2.3 1.4 2.7 1.4.6 1.4-3.9 1.4 1.3 1.4 0 1.4 1.2 1.4-1 1.4.3 1.4-2.7 1.4.7 1.4 0 1.4-1.7 1.4 2.6 1.4 1.6 1.4-2.3 1.4 1.9 1.4-3.8 1.4.9 1.4-.9 1.4-.9 1.4.1 1.4 3.8 1.4-1.3 1.4 1.5 1.4 2.8.5 1.3"/>
<path d="M540.2 479.7l1.4-3.2 1.4.3 1.4-.6 1.4 2.1 1.4-1.2 1.4.1 1.4 1 1.4-.5 1.4-1.1 1.4-2 1.4.3 1.4 2.5 1.4-3.4 1.4.2 1.4-1.4 1.4-.5 1.4-.9 1.4 1.9 1.4 2.2 1.4-5.2 1.4.7 1.4-1.6 1.4.3 1.4 2.1 1.4-.9 1.4-3.1 1.4 3.2 1.4-1 1.4-2 1.4 2.1 1.4 1.6 1.4 3.3 1.4 1.8 1.4-1.5 1.4.9 1.4 1.8 1.4-3.2 1.4.9 1.4 0 1.4-.7 1.4 3 1.4-3.1 1.4 2.7 1.4.7 1.4-.8 1.4 1.2 1.4 1.1 1.4-2.2 1.4 2.6 1.4.2 1.4-2.8 1.4-1.3 1.4.2 1.4 2.4 1.4-1.5 1.4-1.5 1.4.9 1.4 1.8 1.4-1.5 1.4-1.8 1.4 2.3 1.4-2.2 1.4.9 1.4-2.3 1.4.6 1.4-1.2 1.4 0 1.4 1.4 1.4-1.4 1.4-.3 1.4-1.4 1.4 2.5 1.4.9 1.4-2.8 1.4 3.1 1.4-2.1 1.4-.6 1.4-.4 1.4 1.8 1.4-1.4 1.4 2.6 1.4.3 1.4 2.8 1.4 1 .5-1.1"/>
<path d="M540.2 478.2l1.4-1.2 1.4-.3 1.4.2 1.4 1.7 1.4-.7 1.4 1.3 1.4-1.9 1.4.3 1.4.5 1.4-.1 1.4 1.9 1.4.6 1.4-2.9 1.4 2.2 1.4-3.5 1.4 1.8 1.4-1.8 1.4.7 1.4-.2 1.4-.8 1.4 2.8 1.4-1.6 1.4.1 1.4-3.8 1.4 2.9 1.4-1 1.4-.3 1.4-.6 1.4 0 1.4-.3 1.4 1.4 1.4 1.6 1.4 1.1 1.4-.2 1.4 1.3 1.4-.7 1.4-.8 1.4-.2 1.4 1.5 1.4-3.5 1.4-.4 1.4 1.3 1.4-.1 1.4 2.3 1.4-2.2 1.4-.2 1.4 1.2 1.4.1 1.4 1.8 1.4-2 1.4.2 1.4.1 1.4 0 1.4-.7 1.4-.5 1.4-1.2 1.4 3.7 1.4-1.6 1.4.2 1.4-2.6 1.4.8 1.4.1 1.4.6 1.4-1.9 1.4 3.6 1.4-3.3 1.4 2.5 1.4-1.4 1.4 1 1.4-.2 1.4.1 1.4.1 1.4 1.3 1.4-2.5 1.4 2.7 1.4-1.9 1.4 1 1.4.3 1.4-.6 1.4-.7 1.4 1.5 1.4.7 1.4 1.3 1.4.8.5 0"/>
<path d="M540.2 479.8l1.4-2.7 1.4-.6 1.4 2.9 1.4-1.6 1.4-.5 1.4 2.1 1.4.5 1.4-1.9 1.4.9 1.4-1.2 1.4-.7 1.4.4 1.4 1.2 1.4-1.8 1.4 1.6 1.4-3.5 1.4 2.8 1.4-1 1.4.6 1.4-2.3 1.4-.9 1.4-2.4 1.4.8 1.4-3.9 1.4 3.7 1.4-.8 1.4-3.7 1.4 3.3 1.4-1.9 1.4.3 1.4-.7 1.4 1 1.4 2.3 1.4 1.2 1.4-1.3 1.4.9 1.4-2.9 1.4 3.5 1.4 1 1.4-2.4 1.4.9 1.4 0 1.4-1.5 1.4 1.6 1.4.3 1.4-1.5 1.4 3.7 1.4-2.3 1.4.8 1.4-.6 1.4-.5 1.4 1.2 1.4-2.7 1.4 3.6 1.4-1.3 1.4-1.9 1.4 3.7 1.4-.7 1.4-3.4 1.4 1.5 1.4.7 1.4-.6 1.4 2.8 1.4-.3 1.4-1.7 1.4-.3 1.4.8 1.4-.4 1.4 1.6 1.4.8 1.4-.9 1.4-.9 1.4 2.9 1.4-2.6 1.4 2.5 1.4-1.1 1.4.8 1.4.5 1.4-3.2 1.4 1 1.4 2.8 1.4.6 1.4 1.4 1.4-.3.5.4"/>
<path d="M540.2 477.7l1.4-2.8 1.4.4 1.4-.2 1.4 1.4 1.4-2.5 1.4 2 1.4-.2 1.4-1.9 1.4.8 1.4-4 1.4-1.1 1.4 3 1.4-4.4 1.4 1.7 1.4-1.7 1.4-.6 1.4-3 1.4 1.6 1.4-1.3 1.4-.7 1.4 1.3 1.4-3.2 1.4-.1 1.4-3 1.4 3.4 1.4-3.6 1.4.9 1.4 2.4 1.4 1.4 1.4 1.5 1.4-2.3 1.4 6.7 1.4.5 1.4-2 1.4 3.5 1.4.2 1.4.5 1.4.6 1.4-.5 1.4-.4 1.4.2 1.4-1 1.4 3.7 1.4-.5 1.4-.3 1.4 1.4 1.4 1.7 1.4-1.5 1.4 1.7 1.4.5 1.4-2.6 1.4-.4 1.4-.1 1.4-1.2 1.4-.6 1.4 1.9 1.4.1 1.4-1.5 1.4-2.8 1.4.4 1.4-.3 1.4-.2 1.4.5 1.4.2 1.4-1.1 1.4-2.1 1.4 1.3 1.4-3.4 1.4 2.7 1.4 1.4 1.4-4.4 1.4.5 1.4 1 1.4-.4 1.4.6 1.4-1 1.4 2 1.4 1.5 1.4-.6 1.4-.7 1.4.9 1.4 1.8 1.4 2 1.4 3.3.5-2.9"/>
</g>
<g fill="none" stroke="#c8323a" stroke-width="0.38" stroke-opacity="0.42" stroke-linejoin="round">
<path d="M540.2 474.4l1.4-2.2 1.4 1.4 1.4-.4 1.4 1.7 1.4-.3 1.4-3.3 1.4-4.1 1.4-3.7 1.4-2.1 1.4-6 1.4-8.1 1.4-.9 1.4-6.7 1.4-5 1.4-2.3 1.4-3.6 1.4.6 1.4 2.7 1.4-.9 1.4-.3 1.4 5.2 1.4 8 1.4-4.5 1.4-2.2 1.4-1.1 1.4 1 1.4 2.7 1.4 5.4 1.4 3.2 1.4 3.2 1.4 5.3 1.4 3.3 1.4 1.9 1.4 5.8 1.4-1.4 1.4-4.1 1.4-.3 1.4.9 1.4-2.3 1.4 3.1 1.4 1.6 1.4.2 1.4 2.5 1.4 1.7 1.4.1 1.4 3.5 1.4-1.4 1.4 1.5 1.4-1.1 1.4 1.7 1.4-2.4 1.4.2 1.4-.7 1.4-4.2 1.4-1 1.4-1.5 1.4-.3 1.4-2.7 1.4 2.3 1.4.6 1.4 2.2 1.4 1 1.4 2.9 1.4 1 1.4-.6 1.4-1.7 1.4-3.6 1.4-.2 1.4 3.9 1.4 1.8 1.4-2.4 1.4-3.3 1.4 1.1 1.4-3 1.4-2.4 1.4 2.4 1.4.6 1.4.6 1.4.7 1.4-4.4 1.4 4.3 1.4 3.8 1.4 1.8 1.4 3.6.5-.7"/>
<path d="M540.2 478.8l1.4-.6 1.4-.1 1.4-.2 1.4 1.8 1.4-.1 1.4-1.3 1.4-2.6 1.4-2.2 1.4-1.9 1.4-3.6 1.4-5 1.4-5.9 1.4-3.5 1.4-3.3 1.4-7.5 1.4.5 1.4-5.4 1.4 4.2 1.4-4.3 1.4 2.2 1.4 6.9 1.4 1.1 1.4-3.1 1.4-2.4 1.4 2.6 1.4-3.1 1.4 5.5 1.4 1.5 1.4 6.2 1.4 1.8 1.4 2.8 1.4 4.4 1.4 2.9 1.4 4.4 1.4.9 1.4-3.8 1.4-2.7 1.4.1 1.4.4 1.4 2.5 1.4 1.7 1.4 1.2 1.4 0 1.4 1.9 1.4 1.2 1.4 2.6 1.4-.9 1.4 2.1 1.4-.5 1.4 1.2 1.4-2.9 1.4-.1 1.4-2.4 1.4-2.6 1.4-2 1.4.7 1.4-1.5 1.4-2.5 1.4.7 1.4 1.3 1.4-1.1 1.4.1 1.4 4.2 1.4.9 1.4-1 1.4-1.2 1.4-4.5 1.4 3.2 1.4 1.6 1.4 1.2 1.4-.6 1.4-3.2 1.4.4 1.4-.9 1.4.1 1.4 1.7 1.4 1 1.4.1 1.4 0 1.4-2 1.4 3.1 1.4 2.4 1.4 2.6 1.4 2.6.5 1.1"/>
<path d="M540.2 474.6l1.4 0 1.4.5 1.4 1.3 1.4.4 1.4-.5 1.4-1.8 1.4-3.4 1.4-3.3 1.4.1 1.4-5.6 1.4-3.9 1.4-5.8 1.4-4.3 1.4-6.2 1.4-2.1 1.4.4 1.4-2.8 1.4.3 1.4 1.3 1.4.4 1.4 6.5 1.4 5.3 1.4-2.7 1.4-4 1.4-.3 1.4 3.3 1.4-1.5 1.4 6.8 1.4 2.9 1.4 2.9 1.4 1.1 1.4 7.1 1.4.7 1.4 1.5 1.4 1 1.4-5 1.4-2 1.4 1.1 1.4.2 1.4 0 1.4.2 1.4 1.3 1.4 1 1.4 3 1.4-.3 1.4 3.9 1.4-.5 1.4.3 1.4 1 1.4-1.2 1.4-1.9 1.4-.6 1.4.6 1.4-4.1 1.4-1.3 1.4-.9 1.4-1.4 1.4-2.5 1.4-1 1.4.4 1.4 4.4 1.4.9 1.4 2.3 1.4 2.7 1.4-3.3 1.4-3.1 1.4.1 1.4-.8 1.4 3.3 1.4 2.7 1.4-2.5 1.4-.8 1.4-1 1.4-2.3 1.4-3.1 1.4 4.9 1.4 0 1.4-1.5 1.4.5 1.4-.4 1.4 1.8 1.4 5.4 1.4 1.9 1.4 3.1.5-.3"/>
<path d="M540.2 477.8l1.4-2.8 1.4 1.7 1.4.2 1.4.6 1.4 0 1.4-2.6 1.4-2.6 1.4-2.2 1.4-2.2 1.4-5.7 1.4-3 1.4-2.6 1.4-8 1.4-2.1 1.4-3.6 1.4-5.4 1.4 3.4 1.4-3.1 1.4 1.8 1.4 3.5 1.4 4.4 1.4 4.9 1.4-2.6 1.4-4.5 1.4 2.3 1.4-.4 1.4 3.8 1.4 2 1.4 6.8 1.4.8 1.4 2.2 1.4 4 1.4 5.7 1.4 2.2 1.4-1.6 1.4-5.3 1.4-1.1 1.4.5 1.4 0 1.4 1.4 1.4-.6 1.4 1.5 1.4 2.6 1.4.7 1.4 1.4 1.4 2.9 1.4-2.1 1.4 1.5 1.4.7 1.4-.2 1.4-.5 1.4-1.3 1.4-1.2 1.4-1.7 1.4-3.7 1.4.3 1.4-.6 1.4-1.6 1.4 2.2 1.4-.1 1.4 1.2 1.4 1.7 1.4 1.1 1.4 1.1 1.4 0 1.4-4 1.4-.6 1.4-.6 1.4 2.1 1.4.5 1.4.1 1.4-3.2 1.4 1 1.4-1.6 1.4-1.7 1.4 2.3 1.4-.4 1.4.2 1.4-.1 1.4-3.3 1.4 3.2 1.4 4.3 1.4 1.1 1.4 2.5.5 2.2"/>
<path d="M540.2 476.5l1.4-2.5 1.4 2.1 1.4.4 1.4 1 1.4-1.7 1.4-.2 1.4-5.2 1.4-3.6 1.4-.5 1.4-5.8 1.4-3.2 1.4-6 1.4-5.3 1.4-2.3 1.4-8.1 1.4 1.2 1.4-.8 1.4 2.3 1.4-1.9 1.4 2.4 1.4 5.3 1.4 2.1 1.4.4 1.4-3.8 1.4-.4 1.4-.9 1.4 4.3 1.4 3.5 1.4 3.8 1.4 1.6 1.4 3.7 1.4 3.1 1.4 2.3 1.4 3.7 1.4-.8 1.4-1.7 1.4-2.4 1.4-.9 1.4.1 1.4 1.9 1.4 1 1.4.2 1.4 1.2 1.4 1.5 1.4 1.4 1.4 2.6 1.4-.5 1.4 1.5 1.4 1 1.4.3 1.4-4.4 1.4 1 1.4-.1 1.4-4.3 1.4-2.3 1.4-.5 1.4-1.1 1.4-2.6 1.4 2.3 1.4 1 1.4 2.7 1.4.2 1.4 1.4 1.4 2.5 1.4-3.6 1.4-1.9 1.4-.1 1.4 1.3 1.4 2.2 1.4 1.6 1.4-3.4 1.4-1.2 1.4 0 1.4-4.4 1.4-.9 1.4 5 1.4-2 1.4.3 1.4.5 1.4-1.2 1.4 3.4 1.4 4.6 1.4.5 1.4 3.7.5-1.1"/>
<path d="M540.2 476.7l1.4-3.3 1.4 1.5 1.4.3 1.4.6 1.4.9 1.4-3.2 1.4-2.6 1.4-3.3 1.4-3.5 1.4-4.6 1.4-6.7 1.4-6.4 1.4-6.6 1.4.2 1.4-6.8 1.4 0 1.4-2.5 1.4-1 1.4 3.6 1.4 1 1.4 5.1 1.4 3.2 1.4.8 1.4-3.8 1.4 0 1.4-2 1.4 5.2 1.4 3.6 1.4 2.8 1.4 3.8 1.4 5 1.4 3.4 1.4 3.4 1.4 3.5 1.4.4 1.4-4.4 1.4-.4 1.4-1.5 1.4.1 1.4 1.6 1.4 2.7 1.4.7 1.4 2.1 1.4 1.3 1.4 1.6 1.4 2.1 1.4-1.2 1.4 1.3 1.4.8 1.4.4 1.4-4.3 1.4 3.1 1.4-1.7 1.4-5.9 1.4-1 1.4-1.6 1.4.6 1.4-2.9 1.4.2 1.4 2 1.4 1.4 1.4-1.1 1.4 4 1.4-.2 1.4-2 1.4-1 1.4-3.3 1.4 3.2 1.4 2.4 1.4 1.5 1.4-3.6 1.4-2.4 1.4 1.6 1.4-2.8 1.4-2 1.4 2.1 1.4-1.4 1.4 0 1.4 3.4 1.4-2.2 1.4 1.4 1.4 5.6 1.4.2 1.4 4.2.5.2"/>
<path d="M540.2 478.5l1.4-1.2 1.4 1.2 1.4-1.2 1.4.6 1.4.2 1.4-1.1 1.4-4.8 1.4-.1 1.4-4.3 1.4-1.7 1.4-4.6 1.4-8.4 1.4-3.3 1.4-5.7 1.4-1.1 1.4-1.8 1.4-2.5 1.4 3.5 1.4-3.2 1.4 4.6 1.4 4.6 1.4 5.5 1.4-2.7 1.4-5.5 1.4.4 1.4.3 1.4 3 1.4 4.3 1.4 1.2 1.4 3.1 1.4 4.1 1.4 3.7 1.4 1.7 1.4 3.9 1.4.7 1.4-5.9 1.4-.2 1.4-1.4 1.4 0 1.4 2.7 1.4-.8 1.4 3 1.4 1.4 1.4-.5 1.4 2.5 1.4 1.9 1.4-.4 1.4 1.7 1.4.5 1.4-.9 1.4-1 1.4-.4 1.4-.8 1.4-3.3 1.4-2.9 1.4.4 1.4-.5 1.4-4.3 1.4.5 1.4 1.2 1.4 2.7 1.4.9 1.4 1.3 1.4 2 1.4-1.9 1.4-2.4 1.4.4 1.4.8 1.4-.1 1.4 1.4 1.4-.4 1.4-2.5 1.4-.2 1.4-3.6 1.4 1.5 1.4.6 1.4.8 1.4.5 1.4.3 1.4-4.1 1.4 6.4 1.4 1.9 1.4.7 1.4 4.5.5.1"/>
<path d="M540.2 474.2l1.4-1.4 1.4.7 1.4-.5 1.4 1.6 1.4.3 1.4-3.6 1.4-4.1 1.4-3.7 1.4-3.4 1.4-5.9 1.4-6.9 1.4-3.2 1.4-6.3 1.4-3.1 1.4-4 1.4-1.9 1.4-.1 1.4 1.1 1.4-.2 1.4 3.5 1.4 3 1.4 4.6 1.4 2.6 1.4-2.4 1.4-.3 1.4.5 1.4 1.5 1.4 4.1 1.4 4 1.4 5.1 1.4 3.5 1.4 4.1 1.4 4 1.4-.3 1.4 1.6 1.4-2.9 1.4-2.8 1.4 1.1 1.4-2.3 1.4 1.3 1.4.9 1.4 1.3 1.4 1.5 1.4 1.7 1.4 1.7 1.4 2.1 1.4-1.2 1.4 1.1 1.4-.7 1.4 0 1.4-2 1.4.7 1.4-1.7 1.4-3.7 1.4-1 1.4-1.2 1.4-1.8 1.4-1.8 1.4.8 1.4.2 1.4 3.1 1.4.6 1.4 1.3 1.4 3 1.4-.9 1.4-1.8 1.4-3.2 1.4 3.3 1.4 1.8 1.4.5 1.4-1.6 1.4-1.1 1.4-.6 1.4-2.9 1.4-.6 1.4.7 1.4 1.4 1.4 1.7 1.4-.9 1.4-2.1 1.4 3.5 1.4 3 1.4.6 1.4 3.8.5.8"/>
<path d="M540.2 473.1l1.4-.4 1.4 1.2 1.4-.8 1.4 2.5 1.4-1.4 1.4-1.4 1.4-3.4 1.4-2.5 1.4-5.3 1.4-5.8 1.4-2.9 1.4-4.2 1.4-7.9 1.4-3.8 1.4-1.5 1.4-3.4 1.4 2 1.4 1.6 1.4 0 1.4-.3 1.4 6.9 1.4 3.6 1.4-2 1.4-1.7 1.4-2.6 1.4 1.3 1.4.9 1.4 1.7 1.4 8.5 1.4 1.5 1.4 2.1 1.4 6 1.4 2.2 1.4 3.1 1.4-1.2 1.4-3.6 1.4-1.4 1.4-.4 1.4 0 1.4 2.6 1.4-.2 1.4 1.3 1.4 1.7 1.4 1.3 1.4 1.3 1.4 3.4 1.4-1.2 1.4 2.5 1.4-1.6 1.4.1 1.4-1.4 1.4 1.6 1.4-2.8 1.4-3.6 1.4-1.2 1.4.6 1.4-.6 1.4-3.9 1.4 1.6 1.4 2.3 1.4 3 1.4-2.1 1.4 2.8 1.4 3.9 1.4-1.9 1.4-3.2 1.4-1.9 1.4.9 1.4 2.7 1.4.5 1.4-1.8 1.4-2.5 1.4.3 1.4-1.6 1.4-2.6 1.4.7 1.4 3 1.4-1.6 1.4.7 1.4-2.1 1.4 1.7 1.4 3.8 1.4 1.4 1.4 4.7.5.2"/>
<path d="M540.2 475.1l1.4-1.3 1.4 1.9 1.4-.5 1.4.8 1.4.1 1.4-1.4 1.4-2.7 1.4-4.1 1.4-4.2 1.4-2 1.4-7.8 1.4-4.6 1.4-6.9 1.4-.9 1.4-5.3 1.4-.8 1.4-2.8 1.4 1.8 1.4-1.6 1.4 3.1 1.4 2.8 1.4 6.5 1.4-.4 1.4-3.1 1.4-.1 1.4-1.4 1.4.4 1.4 4.7 1.4 6.2 1.4 2.6 1.4 2.1 1.4 2.8 1.4 5.9 1.4 3.2 1.4-2.9 1.4-.4 1.4-3.4 1.4-.8 1.4.3 1.4 2.6 1.4 2 1.4.2 1.4 1.2 1.4 1.3 1.4 2.7 1.4.9 1.4 1.3 1.4 1.3 1.4-1.7 1.4.8 1.4-.9 1.4.1 1.4-.6 1.4-3.1 1.4-2 1.4.7 1.4-2 1.4-3.1 1.4 1 1.4.3 1.4 1.8 1.4.7 1.4 2.9 1.4 3.2 1.4-1.3 1.4-3.7 1.4-1.1 1.4-.6 1.4 2 1.4 3.2 1.4-2.2 1.4-2.5 1.4 1.4 1.4-2.1 1.4-4.2 1.4 3.9 1.4.4 1.4-.1 1.4-1 1.4-3.7 1.4 4.4 1.4 3.6 1.4 1 1.4 3.6.5.8"/>
<path d="M540.2 478.2l1.4-1 1.4-.7 1.4.1 1.4 2.3 1.4-1.5 1.4-1 1.4-3.6 1.4-2.6 1.4-1.7 1.4-4.5 1.4-5.8 1.4-2.1 1.4-9.7 1.4-1.1 1.4-3.5 1.4-4.6 1.4-2 1.4.9 1.4 1.5 1.4-1.6 1.4 7.2 1.4 5 1.4-5.8 1.4-1.4 1.4-1.7 1.4 1.4 1.4 3.2 1.4 3.4 1.4 1.9 1.4 3.3 1.4 4.7 1.4 3 1.4 5.3 1.4 3.1 1.4-.4 1.4-2.8 1.4-2.2 1.4-.9 1.4 1.3 1.4.9 1.4.3 1.4 2.7 1.4 1.2 1.4 1.7 1.4 2.3 1.4.9 1.4.9 1.4 1.1 1.4.7 1.4 1.1 1.4-3.8 1.4 1.5 1.4-.7 1.4-3.7 1.4-2.7 1.4 1.5 1.4-2.2 1.4.8 1.4-1.4 1.4-1.3 1.4 2.7 1.4 2.7 1.4.4 1.4 2.6 1.4-3.5 1.4-2.9 1.4.9 1.4-1.5 1.4 2.5 1.4.9 1.4-1.6 1.4-3.7 1.4-.6 1.4-1.1 1.4-3.1 1.4 3.6 1.4-.1 1.4-1.4 1.4-.4 1.4-1.2 1.4 2.7 1.4 4 1.4 2.7 1.4 2.8.5 0"/>
<path d="M540.2 478.9l1.4-.5 1.4.3 1.4-1.4 1.4.9 1.4.5 1.4-2.5 1.4-2 1.4-2.5 1.4-4.5 1.4-5.4 1.4-5.2 1.4-5.2 1.4-3.2 1.4-5.4 1.4-.4 1.4-5.4 1.4-.5 1.4.5 1.4 1 1.4 2.5 1.4 5.4 1.4 4.5 1.4.6 1.4-4.5 1.4-2.4 1.4 2.2 1.4 3.1 1.4 4.8 1.4 3.6 1.4 5.8 1.4 2.9 1.4 1 1.4 4.3 1.4 3.6 1.4-2.2 1.4-2.5 1.4-2.2 1.4-.3 1.4-.1 1.4 1.1 1.4 1.4 1.4 1.2 1.4 1.4 1.4 1.6 1.4.5 1.4 2.4 1.4-.4 1.4 1.4 1.4.3 1.4-.7 1.4-1 1.4.7 1.4-2.1 1.4-2.7 1.4-1.3 1.4-.6 1.4-.7 1.4-1.6 1.4-2.2 1.4 2.3 1.4 2 1.4.1 1.4.6 1.4 4.4 1.4-2.6 1.4-4.2 1.4-.4 1.4-.9 1.4 2.8 1.4.8 1.4-2.8 1.4.1 1.4-1.6 1.4.3 1.4-4.5 1.4 3.3 1.4 1.6 1.4.6 1.4.1 1.4-3.6 1.4 5.2 1.4 1.3 1.4 1.7 1.4 5.8.5-.6"/>
<path d="M540.2 475.4l1.4.7 1.4.2 1.4-1.4 1.4 1.3 1.4.7 1.4-1.7 1.4-3.3 1.4-3.7 1.4-2 1.4-4.6 1.4-9.9 1.4-2.7 1.4-6.1 1.4-3.6 1.4-.3 1.4-1.8 1.4-.6 1.4-.7 1.4-.4 1.4 3.8 1.4 1.2 1.4 5.5 1.4-2.5 1.4-1.6 1.4 1 1.4.2 1.4-.3 1.4 3.8 1.4 6.2 1.4 3.6 1.4 4.2 1.4 2.6 1.4 2.6 1.4 3.9 1.4.7 1.4-3 1.4-1.9 1.4-1.4 1.4-.3 1.4 1.7 1.4 2.4 1.4-.2 1.4 3.4 1.4.7 1.4.4 1.4 2.1 1.4 1.4 1.4 1.1 1.4 1 1.4.5 1.4-3.9 1.4 1.7 1.4-1.1 1.4-4.1 1.4-1.9 1.4-.9 1.4-1.1 1.4.7 1.4 1 1.4-.8 1.4 3.8 1.4.2 1.4 1 1.4 2.4 1.4-2.1 1.4-2.7 1.4.1 1.4-2 1.4 3.4 1.4.1 1.4-1.2 1.4-2.6 1.4 2.1 1.4-2.8 1.4-1.7 1.4 1.1 1.4 0 1.4-.4 1.4 1.3 1.4-1.6 1.4 2.9 1.4 1.1 1.4 3.3 1.4 2.1.5-.6"/>
<path d="M540.2 475.9l1.4-2.6 1.4.7 1.4 1.3 1.4.4 1.4.3 1.4-3.6 1.4-2.7 1.4-5.8 1.4-1.3 1.4-8.4 1.4-5.6 1.4-2.5 1.4-6.9 1.4-3.5 1.4-.5 1.4-4.7 1.4 2.3 1.4-.8 1.4 2.3 1.4-.5 1.4 5.6 1.4 7.6 1.4-2.3 1.4-2.7 1.4-1.1 1.4 1 1.4 4.9 1.4 3.7 1.4 4.8 1.4 2.2 1.4 2.7 1.4 4 1.4 3.1 1.4 4.9 1.4-.2 1.4-4.8 1.4-1.1 1.4-1 1.4 1.1 1.4-.7 1.4.9 1.4 2 1.4 2 1.4 1.1 1.4-.3 1.4 2.4 1.4.1 1.4 1.3 1.4.1 1.4 0 1.4-3.9 1.4 1.7 1.4-2.2 1.4-3.1 1.4-2.8 1.4-1.3 1.4-1.7 1.4.2 1.4-2 1.4 1.2 1.4 2 1.4 3.3 1.4-.1 1.4 4.1 1.4-4.1 1.4.4 1.4-1.1 1.4-1.2 1.4 3.9 1.4 1.7 1.4-1.5 1.4-1.5 1.4.9 1.4-4.9 1.4-2.3 1.4 3.4 1.4 1.4 1.4-1.2 1.4 3.4 1.4-2.9 1.4 3.5 1.4 3.2 1.4.6 1.4 5.2.5-1.1"/>
<path d="M540.2 478.9l1.4-3.4 1.4 1.3 1.4.2 1.4 1.9 1.4-.4 1.4-2.8 1.4-1.4 1.4-3.4 1.4-2.9 1.4-.5 1.4-5.2 1.4-5.9 1.4-7.3 1.4 1.3 1.4-8.2 1.4.8 1.4-1.2 1.4 1.7 1.4 1.4 1.4.9 1.4 2.8 1.4 6.3 1.4-4.8 1.4.6 1.4-1.7 1.4-1.2 1.4.4 1.4 6.7 1.4 4.2 1.4 2.5 1.4 3.9 1.4 2.6 1.4 1.3 1.4 4 1.4-.4 1.4-6 1.4-.1 1.4-1.7 1.4-.4 1.4 2.8 1.4.5 1.4.3 1.4 1.3 1.4 3.1 1.4.3 1.4.9 1.4-.1 1.4 2.4 1.4-1.8 1.4.1 1.4.3 1.4-.5 1.4-1.1 1.4-3.9 1.4-2.7 1.4 2.5 1.4-4.1 1.4.9 1.4 1.2 1.4-1.8 1.4 5.4 1.4-.5 1.4.9 1.4 4.8 1.4-5.3 1.4.8 1.4-3 1.4.7 1.4 2.8 1.4.4 1.4-1.4 1.4-2.3 1.4 1.4 1.4-3.5 1.4.1 1.4.9 1.4.8 1.4-.8 1.4.9 1.4-.3 1.4 1.1 1.4 4 1.4 2.2 1.4 1.8.5.6"/>
<path d="M540.2 480.1l1.4-2.8 1.4 1.4 1.4-.4 1.4 1.6 1.4-1.4 1.4-.2 1.4-2.6 1.4-2.7 1.4-1.4 1.4-7.4 1.4-4.5 1.4-1.4 1.4-8.5 1.4-4.9 1.4-.3 1.4-4 1.4-2.2 1.4-.1 1.4 2.6 1.4-1.7 1.4 8.6 1.4 3.5 1.4-4.1 1.4-4.3 1.4 1.3 1.4 1.5 1.4-.9 1.4 2.7 1.4 5.2 1.4 3.5 1.4 4.2 1.4 3.2 1.4 5 1.4 2.2 1.4-1.2 1.4-4.4 1.4-1.2 1.4-1.2 1.4 2.5 1.4 1.3 1.4.4 1.4 1 1.4 1.5 1.4 1.2 1.4 1.1 1.4 2.5 1.4.8 1.4 2.1 1.4.3 1.4.3 1.4-3.3 1.4 1.7 1.4-.9 1.4-4.6 1.4-1.1 1.4.7 1.4-1.9 1.4-1.5 1.4 4.1 1.4-2 1.4 4.3 1.4.7 1.4 1.1 1.4 1.7 1.4-1.4 1.4-3.6 1.4-.4 1.4-.6 1.4 2 1.4-.1 1.4-.3 1.4-1.3 1.4-1.4 1.4-2.1 1.4.1 1.4.5 1.4-.8 1.4-.3 1.4.2 1.4-2.2 1.4 1.9 1.4 4.7 1.4-.1 1.4 4.5.5-.4"/>
<path d="M540.2 478.5l1.4-1.5 1.4-1 1.4.3 1.4.2 1.4.7 1.4-1.7 1.4-2.8 1.4-4.4 1.4-3.6 1.4-4.2 1.4-4.5 1.4-4.9 1.4-5.2 1.4-4.3 1.4-1.7 1.4-2.7 1.4-2.2 1.4-.1 1.4.8 1.4 5.1 1.4 2.7 1.4 3 1.4 1.5 1.4-4.3 1.4.8 1.4 1.7 1.4 1.1 1.4 4.3 1.4 6.4 1.4.3 1.4 3.6 1.4 2.8 1.4 4.4 1.4 1.6 1.4-.6 1.4-1.6 1.4-1.6 1.4-2.1 1.4.2 1.4 3.2 1.4.8 1.4-.9 1.4 2.7 1.4 1.2 1.4 1.8 1.4.7 1.4-.1 1.4 2.3 1.4-.5 1.4.8 1.4-2.6 1.4-.9 1.4-2 1.4-3.5 1.4-.8 1.4-1.5 1.4 1.5 1.4-1.8 1.4.5 1.4-2.6 1.4 3.1 1.4.3 1.4 4 1.4.8 1.4-.3 1.4-1.4 1.4-1.6 1.4.1 1.4 1.4 1.4 1.6 1.4-1.5 1.4-1.7 1.4-1.3 1.4-1.4 1.4.2 1.4.8 1.4.6 1.4-.7 1.4-.1 1.4.2 1.4 3.5 1.4 2.1 1.4.8 1.4 4.1.5.9"/>
<path d="M540.2 475.7l1.4-3.3 1.4 1.6 1.4.4 1.4.1 1.4-.1 1.4-1.6 1.4-5.6 1.4-2.4 1.4-4.9 1.4-5.7 1.4-6.9 1.4-3.7 1.4-5.8 1.4-3.1 1.4-3.1 1.4-.5 1.4-.2 1.4-1.7 1.4 3.9 1.4.8 1.4 6.6 1.4 1.4 1.4-.2 1.4-1.2 1.4-.2 1.4 2.5 1.4-.6 1.4 5.1 1.4 2.7 1.4 4 1.4 6 1.4 1.7 1.4 6 1.4.2 1.4-1.7 1.4.1 1.4-2.1 1.4-1.6 1.4-.3 1.4.1 1.4 2.8 1.4-.3 1.4.8 1.4 1.3 1.4 1.5 1.4 2.2 1.4.8 1.4 0 1.4-.1 1.4.1 1.4-2 1.4.8 1.4-1.8 1.4-3.7 1.4-1.7 1.4.7 1.4-3 1.4-.5 1.4-.5 1.4 1.7 1.4 4 1.4-.7 1.4 2.6 1.4 3.2 1.4-1.2 1.4-2.7 1.4-1.1 1.4-.9 1.4 4.1 1.4.1 1.4-2 1.4-.8 1.4.1 1.4-4 1.4-3.4 1.4 3.2 1.4.7 1.4-1 1.4 1.7 1.4-1.2 1.4 1.4 1.4 2.6 1.4 1.3 1.4 3.5.5-.1"/>
<path d="M540.2 475.9l1.4-1.7 1.4.9 1.4.2 1.4 1 1.4 1.1 1.4-2.6 1.4-4.4 1.4-2.1 1.4-2.6 1.4-5.7 1.4-6.2 1.4-4.3 1.4-3.9 1.4-4.2 1.4-4.6 1.4-2 1.4 2.5 1.4 1.7 1.4-1.5 1.4 1.1 1.4 7 1.4 4.1 1.4-1 1.4-1.3 1.4-4.6 1.4 4.9 1.4-.3 1.4 3 1.4 4.8 1.4 4.5 1.4 1.2 1.4 5.4 1.4 3.6 1.4 2.1 1.4 1.1 1.4-4 1.4-1.4 1.4-.5 1.4-.4 1.4 1.4 1.4 1.2 1.4.5 1.4 1.6 1.4.6 1.4 2.7 1.4 1.8 1.4-.6 1.4 2.2 1.4-1.1 1.4 1.9 1.4-2.3 1.4-.7 1.4-1 1.4-4.4 1.4.3 1.4-1.4 1.4 1 1.4-2.5 1.4-.4 1.4 1.1 1.4 3.2 1.4-1.3 1.4 3.8 1.4.8 1.4-1.4 1.4-3.6 1.4.4 1.4-.6 1.4 1.3 1.4 1.5 1.4-2 1.4-2.4 1.4 0 1.4-2.8 1.4 1.1 1.4 1.2 1.4.1 1.4-.9 1.4 1.2 1.4-3.1 1.4 2.8 1.4 2 1.4 1.9 1.4 3.3.5 2.4"/>
<path d="M540.2 479.9l1.4-4 1.4 1 1.4.2 1.4.9 1.4-.4 1.4-.3 1.4-4.8 1.4-2.6 1.4.1 1.4-5 1.4-7.6 1.4.4 1.4-6.5 1.4-6.8 1.4-3.8 1.4 1.6 1.4-2.6 1.4 3.4 1.4-2 1.4 3.9 1.4 2.2 1.4 5.9 1.4-1.6 1.4-3.1 1.4-.5 1.4-1.3 1.4 6 1.4 2.3 1.4 3.4 1.4 3.3 1.4 4.9 1.4 2.3 1.4 4.1 1.4 3.2 1.4-2.4 1.4-3.6 1.4-1.6 1.4-.3 1.4-.1 1.4 1.2 1.4 1.3 1.4 1.2 1.4.5 1.4 2.5 1.4.5 1.4 2.3 1.4-1.3 1.4 1.5 1.4.7 1.4.6 1.4-1.8 1.4-.6 1.4-1 1.4-2.5 1.4-1.3 1.4.1 1.4-3.4 1.4-.5 1.4 2.1 1.4-.9 1.4 3.3 1.4-.4 1.4.9 1.4 3.9 1.4-1.8 1.4-4.1 1.4-2.1 1.4 1.4 1.4.6 1.4 1.4 1.4-.5 1.4-.8 1.4-1.9 1.4-.4 1.4-1.6 1.4 2.1 1.4-2.4 1.4 2.4 1.4-.9 1.4-.5 1.4.6 1.4 5.4 1.4 1.3 1.4 3 .5-.2"/>
<path d="M540.2 474.9l1.4-.4 1.4.5 1.4.1 1.4.3 1.4-.6 1.4-2.3 1.4-1.6 1.4-3.5 1.4-5.7 1.4-1.7 1.4-9.6 1.4-2.1 1.4-5.7 1.4-3.9 1.4-4.5 1.4-.7 1.4 1.3 1.4 1.4 1.4-2.8 1.4.5 1.4 8.2 1.4 3.7 1.4.1 1.4-3.5 1.4.2 1.4-.8 1.4 2.2 1.4 4 1.4 1.7 1.4 2.9 1.4 4 1.4 5.1 1.4 2.7 1.4 5 1.4-3.4 1.4-2.3 1.4 0 1.4-.3 1.4-2 1.4 3.2 1.4-.9 1.4 1.3 1.4 1.4 1.4 1.8 1.4 1 1.4 3.6 1.4.3 1.4-.1 1.4.3 1.4-.1 1.4-2.8 1.4 1.7 1.4-1.8 1.4-4.4 1.4-1.3 1.4-.7 1.4-.4 1.4-3.8 1.4 1.3 1.4-.6 1.4 3.5 1.4-.6 1.4 1.9 1.4 3.2 1.4-1.8 1.4.1 1.4-4.6 1.4 2.5 1.4 2.4 1.4.7 1.4-1.4 1.4-1.7 1.4-1.3 1.4-2.7 1.4-2.3 1.4 3.9 1.4.1 1.4-1.9 1.4 1 1.4-.7 1.4 1.5 1.4 4.7 1.4 1.5 1.4 2.8.5 1.4"/>
<path d="M540.2 476.5l1.4-2.4 1.4 2.4 1.4-.4 1.4 1.5 1.4-1.6 1.4-1 1.4-2.4 1.4-3.5 1.4-4 1.4-.8 1.4-8.3 1.4-3.3 1.4-6.8 1.4-1.5 1.4-1.6 1.4-3.8 1.4-2.1 1.4 3.6 1.4-2.2 1.4 5.7 1.4 1.4 1.4 4.3 1.4 2.2 1.4-3.2 1.4-2.2 1.4.2 1.4 1 1.4 3.6 1.4 8.8 1.4 0 1.4 3.2 1.4 5.3 1.4 3.3 1.4 3.6 1.4-4.4 1.4-2.7 1.4-.8 1.4-1.3 1.4 1.2 1.4.8 1.4 1.6 1.4.6 1.4.4 1.4 3.2 1.4.4 1.4 2.7 1.4-1.5 1.4.9 1.4 2.4 1.4-1 1.4-2.1 1.4 1.5 1.4-1.5 1.4-2.8 1.4-2 1.4 0 1.4-1.3 1.4-2.7 1.4 2 1.4.6 1.4 3.3 1.4-2.6 1.4 1.4 1.4 3.5 1.4-2.9 1.4-1.8 1.4-.3 1.4-1.1 1.4 1.3 1.4 1 1.4-1.6 1.4-.3 1.4.5 1.4-3.5 1.4-.5 1.4-.4 1.4-.8 1.4.6 1.4 1.3 1.4-3.8 1.4 4.9 1.4 3.3 1.4 1.3 1.4 3.9.5-1.3"/>
<path d="M540.2 473.1l1.4-.4 1.4 2.3 1.4-.1 1.4.6 1.4-.6 1.4-1.8 1.4-4.3 1.4-3.2 1.4-1 1.4-7.1 1.4-4.1 1.4-5.8 1.4-3.3 1.4-3 1.4-5.5 1.4-1.1 1.4-.9 1.4.4 1.4-1.5 1.4 1.2 1.4 4.1 1.4 2.7 1.4-1.1 1.4-2.3 1.4 0 1.4-.4 1.4 2.2 1.4 3.3 1.4 5.1 1.4 2.7 1.4 4 1.4 4.5 1.4 3.1 1.4 3 1.4-.6 1.4-2.1 1.4-1 1.4-.8 1.4-.1 1.4 3 1.4 1.4 1.4 1.6 1.4 1 1.4 2 1.4 1.7 1.4 1.1 1.4 1.3 1.4 1 1.4-.3 1.4.7 1.4-1.6 1.4-.9 1.4-1.5 1.4-3.5 1.4-.2 1.4-1.3 1.4-1.9 1.4-1 1.4-1.9 1.4 1.1 1.4 2 1.4 1 1.4 0 1.4 5 1.4-2.9 1.4-3.1 1.4-1.3 1.4.2 1.4 2.5 1.4 2 1.4-2.2 1.4-2.2 1.4-1 1.4-2.9 1.4-2.3 1.4 3.7 1.4-.2 1.4.5 1.4.3 1.4-.3 1.4 3 1.4 2.7 1.4 3 1.4 3.6.5-1.4"/>
<path d="M540.2 478.1l1.4-3 1.4 1.2 1.4.3 1.4.6 1.4.7 1.4-1.8 1.4-1.5 1.4-5.3 1.4-.3 1.4-2.4 1.4-5.5 1.4-5 1.4-4.9 1.4-2.2 1.4-2.7 1.4-2.7 1.4-.3 1.4.7 1.4-1 1.4 2 1.4 6.2 1.4 1.4 1.4-.5 1.4-4.5 1.4 2.1 1.4-3.6 1.4 5.6 1.4-.4 1.4 8.1 1.4 2.5 1.4.4 1.4 5.6 1.4 1.2 1.4 4.4 1.4-1.6 1.4-4.3 1.4-2.9 1.4.9 1.4.4 1.4-.2 1.4 1.3 1.4 2.4 1.4-.5 1.4 2.1 1.4.9 1.4 2.7 1.4-.6 1.4 1.3 1.4.7 1.4.9 1.4-3.3 1.4 1.6 1.4-3.2 1.4-2.1 1.4-.3 1.4.3 1.4-1.4 1.4-3 1.4 1 1.4-.1 1.4 3.2 1.4 1.8 1.4.9 1.4 3.1 1.4-.1 1.4-2.9 1.4-2 1.4 1.1 1.4.9 1.4 1.8 1.4-2.9 1.4.6 1.4-.8 1.4-.9 1.4-4.5 1.4 2.9 1.4.5 1.4-.7 1.4-1.1 1.4-1.1 1.4 2.5 1.4 3.6 1.4 2.1 1.4 2.8.5-.2"/>
<path d="M540.2 476.4l1.4-1.6 1.4 1.4 1.4-2.1 1.4 1.2 1.4.5 1.4-3.8 1.4-3.1 1.4-4.2 1.4-2.5 1.4-7.9 1.4-7 1.4-.8 1.4-8.7 1.4-1.6 1.4-5.6 1.4 1.2 1.4-1.8 1.4-.2 1.4 1.3 1.4 1.1 1.4 5.8 1.4 8.1 1.4-2.3 1.4-.2 1.4-.5 1.4-2.1 1.4 3 1.4 4.2 1.4 5.1 1.4 2.1 1.4 7.5 1.4 2.1 1.4 3.9 1.4 3.1 1.4-2.4 1.4-3.7 1.4-1.8 1.4.5 1.4-2.1 1.4 1.5 1.4 1.6 1.4-.7 1.4 2.1 1.4 1.5 1.4.7 1.4 2.2 1.4-.9 1.4 1 1.4.4 1.4-.4 1.4-2 1.4.7 1.4-1.2 1.4-4.2 1.4-1.7 1.4 1 1.4.1 1.4-3.8 1.4 3.7 1.4-.8 1.4 1.7 1.4 1 1.4 4.7 1.4 3.8 1.4-3.5 1.4-.4 1.4-3.6 1.4 1.4 1.4 1.4 1.4.9 1.4-.2 1.4-2.2 1.4-1 1.4-3.7 1.4.2 1.4-.2 1.4.4 1.4-2 1.4.8 1.4-.4 1.4 1.6 1.4 4 1.4-.8 1.4 4.2.5.8"/>
<path d="M540.2 474.7l1.4-.8 1.4-.2 1.4.5 1.4 1.2 1.4-.9 1.4-1.5 1.4-3.7 1.4-4.9 1.4-2.4 1.4-3.9 1.4-6.9 1.4-3.1 1.4-9.8 1.4-2.9 1.4-4 1.4.5 1.4-.6 1.4-1.5 1.4 2.4 1.4.5 1.4 5.2 1.4 6.5 1.4-2.1 1.4-2.4 1.4-3.5 1.4 3.3 1.4-.4 1.4 4.8 1.4 6.6 1.4-.5 1.4 6 1.4 2.5 1.4 4.5 1.4 1.9 1.4-.9 1.4-2.1 1.4-1.5 1.4-.3 1.4-.1 1.4 2.6 1.4.4 1.4 1.8 1.4 1.8 1.4.2 1.4 1.8 1.4 1.9 1.4 0 1.4.8 1.4-.1 1.4.7 1.4-.7 1.4.9 1.4-2.7 1.4-3.7 1.4-.7 1.4-1.1 1.4-1.6 1.4-2.2 1.4 1.4 1.4 1.2 1.4-.1 1.4.9 1.4 1.7 1.4 5.4 1.4-1.9 1.4-3.6 1.4.4 1.4-.6 1.4 1.6 1.4 1.8 1.4-1.1 1.4-1.4 1.4-1.9 1.4-3.2 1.4-.9 1.4 1.3 1.4 1.9 1.4.4 1.4.4 1.4-2.8 1.4 5.4 1.4 1 1.4 1.1 1.4 3.5.5.8"/>
<path d="M540.2 472.7l1.4-1.1 1.4 1.9 1.4.5 1.4.3 1.4-.3 1.4-2.7 1.4-2.4 1.4-3.3 1.4-5.2 1.4-4.4 1.4-7.9 1.4-2.1 1.4-8.2 1.4-3.1 1.4-.4 1.4-1.1 1.4-.9 1.4-1.2 1.4 1.6 1.4 2.1 1.4 3.7 1.4 3.8 1.4.8 1.4-3 1.4.7 1.4 0 1.4.6 1.4 1.9 1.4 6.8 1.4 2.6 1.4 2.4 1.4 6 1.4 1.8 1.4 3.4 1.4-.6 1.4-2.8 1.4-1 1.4.4 1.4-.5 1.4-.3 1.4 2.9 1.4.6 1.4 1.3 1.4 2.1 1.4 1.1 1.4 1.2 1.4 1.2 1.4.8 1.4-.2 1.4.5 1.4-3.1 1.4.6 1.4-1.5 1.4-4.2 1.4-1.3 1.4-.9 1.4-1.8 1.4-.3 1.4-.7 1.4.5 1.4 2.2 1.4.6 1.4 2.4 1.4 3.4 1.4-1.9 1.4-3 1.4-1.9 1.4.8 1.4 2.5 1.4 2 1.4-1.4 1.4-3 1.4-1 1.4-2.7 1.4-2.5 1.4 4.3 1.4-.8 1.4 1.1 1.4.1 1.4-1.7 1.4 4.3 1.4 2.4 1.4 2.6 1.4 3.4.5.5"/>
<path d="M540.2 478.9l1.4-2.4 1.4 2.6 1.4-1.2 1.4 1.2 1.4.3 1.4-3 1.4-1.2 1.4-5.2 1.4-.5 1.4-5.2 1.4-4.5 1.4-2.6 1.4-6.7 1.4-6.5 1.4-3.9 1.4-2.3 1.4 2.9 1.4-1.1 1.4-.2 1.4 5.4 1.4 2.9 1.4 3.1 1.4-1.6 1.4-1 1.4.2 1.4.3 1.4-.1 1.4 6.4 1.4 3.4 1.4 4.2 1.4 3.1 1.4 3.2 1.4 1.5 1.4 4.3 1.4-1.3 1.4-2.8 1.4-3.6 1.4.3 1.4.8 1.4.2 1.4.9 1.4 2.6 1.4.4 1.4 2.6 1.4.5 1.4 2.3 1.4-.3 1.4-.2 1.4 1.9 1.4-.5 1.4-2 1.4.4 1.4-1.6 1.4-2.1 1.4-3.2 1.4.5 1.4-.3 1.4-.4 1.4.5 1.4-.2 1.4.5 1.4 2.4 1.4.7 1.4 1.6 1.4-3.3 1.4.7 1.4-4.7 1.4 2.1 1.4.5 1.4 2.3 1.4-1.8 1.4-2.6 1.4-.5 1.4.1 1.4-.4 1.4.2 1.4-.7 1.4 2.1 1.4.5 1.4-3.2 1.4 3 1.4 2.3 1.4 4 1.4 2.2.5-.8"/>
<path d="M540.2 476.7l1.4-.2 1.4.7 1.4-1.8 1.4 2.2 1.4-1.3 1.4-1.1 1.4-4.6 1.4-4.3 1.4-.2 1.4-4.6 1.4-10.2 1.4-4 1.4-1.9 1.4-7.7 1.4-3.8 1.4-1.7 1.4.5 1.4-1.3 1.4-.5 1.4 1.4 1.4 6.3 1.4 6.5 1.4-4.4 1.4-.1 1.4-1.8 1.4 1.4 1.4 1.3 1.4 5.3 1.4 4 1.4 4.7 1.4 1.4 1.4 7.6 1.4.7 1.4 5.5 1.4-2.4 1.4-3 1.4-.8 1.4-1 1.4 1.7 1.4.4 1.4.7 1.4 2.7 1.4 1.2 1.4 1.8 1.4.8 1.4 1.7 1.4.1 1.4 2 1.4-.2 1.4-.5 1.4-2 1.4.2 1.4-.3 1.4-3.7 1.4-1.4 1.4-2.3 1.4.5 1.4-.8 1.4-1.8 1.4-.8 1.4 2.5 1.4 1.4 1.4 1.8 1.4 4.1 1.4-2.9 1.4-4.2 1.4.4 1.4-.1 1.4 1.1 1.4 2.1 1.4-1.5 1.4-3.1 1.4-.7 1.4-.9 1.4-4.4 1.4 2.3 1.4 2.5 1.4-1.6 1.4.2 1.4-1.8 1.4 5.4 1.4 1.4 1.4 4 1.4 2.2.5-.6"/>
<path d="M540.2 477.3l1.4-.2 1.4.1 1.4-.6 1.4 1.4 1.4-.4 1.4-2.2 1.4-2.1 1.4-3 1.4-3.3 1.4-1.6 1.4-8 1.4-5.1 1.4-3.1 1.4-5.6 1.4.1 1.4-2.4 1.4-1.2 1.4-.2 1.4 1.1 1.4-2 1.4 8.5 1.4 3.1 1.4-2.5 1.4-4.8 1.4-1.4 1.4-.1 1.4 5 1.4 4 1.4.6 1.4 3.3 1.4 3.1 1.4 3.7 1.4 4 1.4 3.9 1.4-1.3 1.4-4 1.4-1 1.4-.5 1.4-.3 1.4 2.7 1.4.1 1.4.8 1.4 1.6 1.4 2.6 1.4-1 1.4 2.9 1.4-.5 1.4 1.3 1.4.6 1.4.9 1.4-2.3 1.4.7 1.4-1 1.4-4 1.4-3.1 1.4.8 1.4.2 1.4-4.5 1.4 2.1 1.4 1.6 1.4 3.1 1.4-2 1.4 4.6 1.4 3.1 1.4-1.9 1.4-2.6 1.4-.9 1.4-.2 1.4.6 1.4 2.6 1.4-1 1.4-.8 1.4-2.4 1.4-2.5 1.4-2 1.4 4.2 1.4-.9 1.4 1.4 1.4 1.1 1.4-3.1 1.4 3.4 1.4 3.1 1.4 2.4 1.4 3.4.5.8"/>
<path d="M540.2 472.6l1.4-1 1.4 1.8 1.4 0 1.4 1.7 1.4-.2 1.4-1.5 1.4-4.1 1.4-5 1.4-2.5 1.4-5.3 1.4-5.5 1.4-1.7 1.4-8.1 1.4.1 1.4-5.9 1.4 1.4 1.4-1 1.4.6 1.4 1.7 1.4.2 1.4 4.3 1.4 7.9 1.4-5.3 1.4-.7 1.4.8 1.4-1.3 1.4 3.9 1.4 2.2 1.4 2.5 1.4 5.5 1.4 2 1.4 2.3 1.4 2.8 1.4 2 1.4-.7 1.4-2.1 1.4-2.7 1.4.4 1.4-1.4 1.4 1.6 1.4.8 1.4.9 1.4 2.1 1.4 2.4 1.4-.6 1.4 4 1.4-1.4 1.4 1.3 1.4-.4 1.4.9 1.4-1.9 1.4-.2 1.4-1.4 1.4-3.9 1.4-1.8 1.4 1.3 1.4-3.6 1.4-1.8 1.4 2.1 1.4.4 1.4 4.3 1.4-1.7 1.4 2 1.4 4.1 1.4-.6 1.4-2.6 1.4-1.6 1.4-.3 1.4 4.3 1.4 1.5 1.4-2.3 1.4-1.4 1.4-.3 1.4-1.3 1.4-2.5 1.4 1.5 1.4 2.8 1.4-1.6 1.4-1 1.4-2.4 1.4 3.7 1.4 5.2 1.4 1.2 1.4 3.4.5-2.5"/>
<path d="M540.2 477.7l1.4-.4 1.4 1.3 1.4-.8 1.4 1.4 1.4-.7 1.4-2 1.4-3.7 1.4-.3 1.4-.9 1.4-6 1.4-4 1.4-2.3 1.4-6 1.4-4.2 1.4-5.2 1.4-.1 1.4-1.4 1.4 1.7 1.4-1 1.4.2 1.4 8.4 1.4 3.9 1.4-2 1.4-5 1.4-.6 1.4 1.4 1.4 1.4 1.4 4.5 1.4 4.2 1.4 1.4 1.4 1.9 1.4 4.8 1.4 1.3 1.4 5.5 1.4-2.9 1.4-3.8 1.4-1 1.4-.6 1.4.5 1.4.2 1.4 1.4 1.4 1.1 1.4 2.6 1.4.2 1.4.3 1.4 3.9 1.4-.5 1.4 1.4 1.4-.7 1.4 1.5 1.4-3.3 1.4 3 1.4-2.8 1.4-3.9 1.4.7 1.4-.3 1.4-2.6 1.4.1 1.4 1.5 1.4-.7 1.4 2.8 1.4.1 1.4 2.6 1.4 3 1.4-4.5 1.4-1.5 1.4-.4 1.4-2 1.4 3.5 1.4.4 1.4-1 1.4-.7 1.4-2.1 1.4-1.7 1.4-1.6 1.4 1.1 1.4 1.5 1.4-.1 1.4-.6 1.4-2.1 1.4 4.6 1.4.2 1.4 2.3 1.4 4.6.5-2"/>
<path d="M540.2 476.4l1.4-2.7 1.4.8 1.4.3 1.4 2 1.4-1.6 1.4-1.2 1.4-3.6 1.4-3.1 1.4-5.2 1.4-7 1.4-6.8 1.4-2 1.4-7.9 1.4-2.7 1.4-1.5 1.4-4.7 1.4 1.7 1.4 1 1.4 1.5 1.4-.5 1.4 5.8 1.4 4.1 1.4-1.9 1.4 1.4 1.4-1.8 1.4-.8 1.4 1.6 1.4 4.9 1.4 4.1 1.4 6.1 1.4 4.4 1.4 3.3 1.4 2.6 1.4 3.7 1.4.1 1.4-2.9 1.4-1.7 1.4-2.6 1.4.7 1.4 2 1.4-.1 1.4 3 1.4-.4 1.4 2.7 1.4-.2 1.4 3.1 1.4.4 1.4.6 1.4-1 1.4.7 1.4-3.6 1.4 1.3 1.4-2.8 1.4-2 1.4-2.3 1.4-1.2 1.4.2 1.4-2.4 1.4.5 1.4-2.1 1.4 3.4 1.4.7 1.4 1.3 1.4 4.1 1.4-3 1.4-2 1.4-2 1.4 1 1.4 1.8 1.4 3.6 1.4-3.8 1.4-2 1.4 2.4 1.4-3.3 1.4-3.9 1.4 2.9 1.4.8 1.4 1.8 1.4 1.4 1.4-2.7 1.4 2.3 1.4 6 1.4-.5 1.4 5.4.5-.3"/>
<path d="M540.2 475.2l1.4-3.4 1.4 1.9 1.4-.7 1.4 2.3 1.4-1.3 1.4-2.7 1.4-2.8 1.4-3.7 1.4-3.1 1.4-7.5 1.4-6.9 1.4-3.7 1.4-5.4 1.4-3.5 1.4-3 1.4-2.9 1.4.8 1.4.9 1.4-.9 1.4 4 1.4 2.5 1.4 7.1 1.4-1.1 1.4-4.5 1.4-.2 1.4.3 1.4 1.4 1.4 3.7 1.4 8.1 1.4.7 1.4 4.8 1.4 6.2 1.4 3.3 1.4 3.4 1.4-3.4 1.4-.5 1.4-1.6 1.4-1.3 1.4.6 1.4.6 1.4.9 1.4 1 1.4 2.1 1.4 1.2 1.4 1 1.4 1.2 1.4 0 1.4 1.1 1.4-.6 1.4-.1 1.4-.9 1.4 1.5 1.4-2.1 1.4-4.2 1.4-2.7 1.4 0 1.4-2.1 1.4-.7 1.4-.5 1.4.1 1.4 2.6 1.4 1.3 1.4 1.2 1.4 3 1.4-1.4 1.4-1.9 1.4-2.6 1.4 2.2 1.4 2.3 1.4 1.8 1.4-1.8 1.4-3.6 1.4 1.2 1.4-5.1 1.4 1.4 1.4 2.3 1.4-1.3 1.4 1.1 1.4 1.4 1.4-2.9 1.4 4.9 1.4.9 1.4 2.9 1.4 2.2.5.7"/>
</g>
<g fill="none" stroke="#c8323a" stroke-width="0.38" stroke-opacity="0.42" stroke-linejoin="round">
<path d="M579 454.7l1.4.4 1.4 2.7 1.4-9.5 1.4-8 1.4-.2 1.4-1.9 1.4 3.2 1.4.7 1.4 15.2 1.4 8.8 1.4 2.8"/>
<path d="M579 453.4l1.4.9 1.4 2.3 1.4-9.5 1.4-7.2 1.4-.2 1.4-2 1.4 3.4 1.4.8 1.4 14.8 1.4 8.9 1.4 2.8"/>
</g>
</g>
<rect x="534.00" y="422.20" width="130.50" height="66.20" fill="none" stroke="#9a9a9a" stroke-width="0.9"/>
<line x1="531.50" y1="484.40" x2="534.00" y2="484.40" stroke="#333" stroke-width="0.6"/>
<text x="530.20" y="487.40" font-size="8.4" text-anchor="end" fill="#333" stroke="#333" stroke-width="0.06">0</text>
<line x1="531.50" y1="465.00" x2="534.00" y2="465.00" stroke="#333" stroke-width="0.6"/>
<text x="530.20" y="468.00" font-size="8.4" text-anchor="end" fill="#333" stroke="#333" stroke-width="0.06">20</text>
<line x1="531.50" y1="445.20" x2="534.00" y2="445.20" stroke="#333" stroke-width="0.6"/>
<text x="530.20" y="448.20" font-size="8.4" text-anchor="end" fill="#333" stroke="#333" stroke-width="0.06">40</text>
<line x1="531.50" y1="425.80" x2="534.00" y2="425.80" stroke="#333" stroke-width="0.6"/>
<text x="530.20" y="428.80" font-size="8.4" text-anchor="end" fill="#333" stroke="#333" stroke-width="0.06">60</text>
<line x1="535.10" y1="488.40" x2="535.10" y2="490.90" stroke="#333" stroke-width="0.6"/>
<line x1="559.60" y1="488.40" x2="559.60" y2="490.90" stroke="#333" stroke-width="0.6"/>
<line x1="584.20" y1="488.40" x2="584.20" y2="490.90" stroke="#333" stroke-width="0.6"/>
<line x1="608.70" y1="488.40" x2="608.70" y2="490.90" stroke="#333" stroke-width="0.6"/>
<line x1="633.20" y1="488.40" x2="633.20" y2="490.90" stroke="#333" stroke-width="0.6"/>
<line x1="658.30" y1="488.40" x2="658.30" y2="490.90" stroke="#333" stroke-width="0.6"/>
<text x="540.2" y="432.4" font-size="9.8" stroke="#000" stroke-width="0.06"><tspan font-style="italic">T. timopheevii:</tspan>chr5G</text>
<text x="534.60" y="498.20" font-size="8.4" text-anchor="middle" fill="#333" stroke="#333" stroke-width="0.06">425</text>
<text x="559.10" y="498.20" font-size="8.4" text-anchor="middle" fill="#333" stroke="#333" stroke-width="0.06">450</text>
<text x="583.70" y="498.20" font-size="8.4" text-anchor="middle" fill="#333" stroke="#333" stroke-width="0.06">475</text>
<text x="608.20" y="498.20" font-size="8.4" text-anchor="middle" fill="#333" stroke="#333" stroke-width="0.06">500</text>
<text x="632.70" y="498.20" font-size="8.4" text-anchor="middle" fill="#333" stroke="#333" stroke-width="0.06">525</text>
<text x="649.60" y="498.20" font-size="8.4" text-anchor="start" fill="#333" stroke="#333" stroke-width="0.06">550Mb</text>
<text x="597.3" y="512.3" font-size="9.8" text-anchor="middle" stroke="#000" stroke-width="0.06">CS+<tspan font-style="italic">T. timopheevii</tspan></text>
<polyline points="601.5,345.7 601.5,412.0 549.8,422.2 549.8,488.4" fill="none" stroke="#d9434a" stroke-width="1.1" stroke-dasharray="2.6,1.8"/>
<polyline points="645.5,345.7 645.5,412.0 594.4,422.2 594.4,488.4" fill="none" stroke="#d9434a" stroke-width="1.1" stroke-dasharray="2.6,1.8"/>
</svg></body></html>
